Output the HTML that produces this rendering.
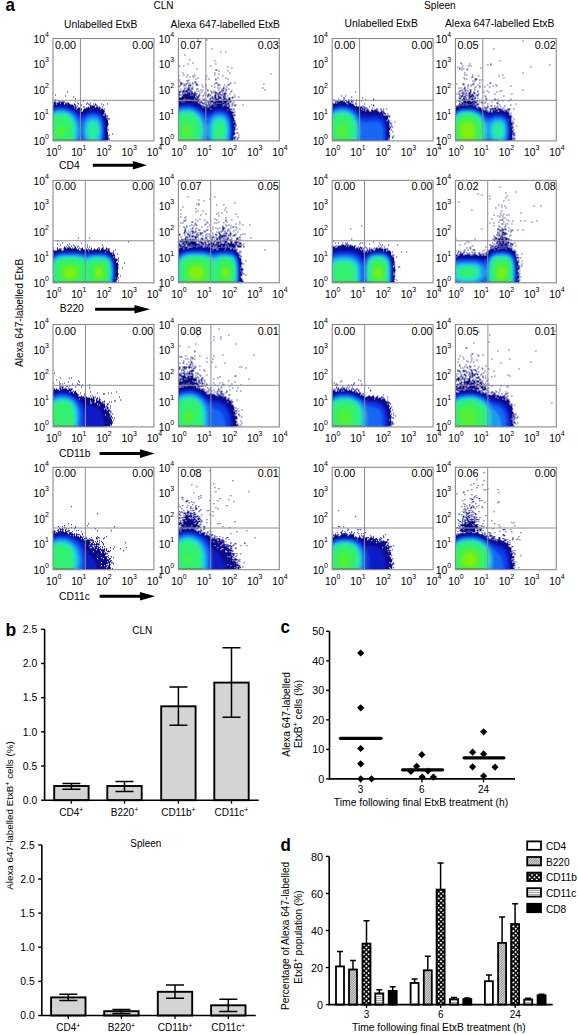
<!DOCTYPE html>
<html><head><meta charset="utf-8"><style>
html,body{margin:0;padding:0;background:#fff;}
svg{display:block;}
text{font-family:"Liberation Sans",sans-serif;fill:#000;}
</style></head><body>
<svg width="578" height="1034" viewBox="0 0 578 1034">
<defs>
<pattern id="hatch" width="1.7" height="1.7" patternUnits="userSpaceOnUse" patternTransform="rotate(45)"><rect width="1.7" height="1.7" fill="#e0e0e0"/><rect width="0.75" height="1.7" fill="#808080"/></pattern>
<pattern id="check" width="3.3" height="3.3" patternUnits="userSpaceOnUse" patternTransform="rotate(45)"><rect width="3.3" height="3.3" fill="#000"/><circle cx="1.65" cy="1.65" r="1.05" fill="#fff"/></pattern>
<pattern id="hstripe" width="3" height="2" patternUnits="userSpaceOnUse"><rect width="3" height="2" fill="#fafafa"/><rect width="3" height="0.9" fill="#9a9a9a"/></pattern>
<filter id="bl" x="-5%" y="-5%" width="110%" height="110%"><feGaussianBlur stdDeviation="0.85"/></filter>
</defs>
<text transform="translate(5.6,10.9) scale(1,1.1)" font-size="17" font-weight="bold">a</text>
<text x="153.50" y="8.80" font-size="10">CLN</text>
<text x="424.00" y="8.90" font-size="10.2">Spleen</text>
<text x="64.00" y="27.70" font-size="10.3">Unlabelled EtxB</text>
<text x="170.60" y="27.70" font-size="10.3">Alexa 647-labelled EtxB</text>
<text x="344.60" y="26.90" font-size="10.3">Unlabelled EtxB</text>
<text x="445.00" y="26.90" font-size="10.3">Alexa 647-labelled EtxB</text>
<text transform="translate(23.2,312.9) rotate(-90)" font-size="10.2" text-anchor="middle">Alexa 647-labelled EtxB</text>
<clipPath id="c00"><rect x="53.00" y="38.50" width="100.90" height="102.40"/></clipPath>
<g clip-path="url(#c00)">
<path d="M58.0 100.5h1v1h-1zM54.0 101.5h1v1h-1zM59.0 101.5h5v1h-5zM53.0 102.5h7v1h-7zM61.0 102.5h3v1h-3zM67.0 102.5h2v1h-2zM54.0 103.5h2v1h-2zM57.0 103.5h7v1h-7zM65.0 103.5h2v1h-2zM68.0 103.5h2v1h-2zM53.0 104.5h20v1h-20zM89.0 104.5h1v1h-1zM53.0 105.5h21v1h-21zM90.0 105.5h5v1h-5zM53.0 106.5h23v1h-23zM83.0 106.5h1v1h-1zM88.0 106.5h1v1h-1zM90.0 106.5h5v1h-5zM96.0 106.5h2v1h-2zM99.0 106.5h1v1h-1zM53.0 107.5h21v1h-21zM75.0 107.5h2v1h-2zM78.0 107.5h2v1h-2zM86.0 107.5h15v1h-15zM53.0 108.5h23v1h-23zM77.0 108.5h5v1h-5zM84.0 108.5h16v1h-16zM101.0 108.5h2v1h-2zM53.0 109.5h29v1h-29zM83.0 109.5h21v1h-21zM53.0 110.5h28v1h-28zM83.0 110.5h21v1h-21zM53.0 111.5h52v1h-52zM53.0 112.5h51v1h-51zM53.0 113.5h53v1h-53zM53.0 114.5h50v1h-50zM105.0 114.5h1v1h-1zM53.0 115.5h55v1h-55zM53.0 116.5h53v1h-53zM53.0 117.5h55v1h-55zM53.0 118.5h54v1h-54zM108.0 118.5h1v1h-1zM53.0 119.5h55v1h-55zM53.0 120.5h55v1h-55zM53.0 121.5h55v1h-55zM53.0 122.5h55v1h-55zM53.0 123.5h55v1h-55zM53.0 124.5h55v1h-55zM53.0 125.5h55v1h-55zM53.0 126.5h54v1h-54zM53.0 127.5h55v1h-55zM53.0 128.5h54v1h-54zM53.0 129.5h56v1h-56zM53.0 130.5h54v1h-54zM53.0 131.5h55v1h-55zM53.0 132.5h55v1h-55zM53.0 133.5h55v1h-55zM53.0 134.5h55v1h-55zM53.0 135.5h55v1h-55zM53.0 136.5h55v1h-55zM53.0 137.5h55v1h-55zM53.0 138.5h57v1h-57zM53.0 139.5h55v1h-55z" fill="#0c0c8a"/>
<g filter="url(#bl)">
<path d="M56.8 106.2L56.2 106.8L54.8 106.8L54.2 107.2L53.2 107.2L52.8 107.8L52.2 107.8L51.8 108.2L51.2 108.2L50.2 109.2L50.2 143.8L103.2 143.8L103.8 143.2L103.8 142.8L104.2 142.2L104.2 140.2L104.8 139.8L104.8 136.8L105.2 136.2L105.2 125.8L104.8 125.2L104.8 121.8L104.2 121.2L104.2 119.8L103.8 119.2L103.8 118.2L103.2 117.8L103.2 117.2L102.8 116.8L102.8 116.2L102.2 115.8L102.2 115.2L99.2 112.2L98.8 112.2L98.2 111.8L97.2 111.8L96.8 111.2L89.2 111.2L88.8 111.8L87.8 111.8L87.2 112.2L86.8 112.2L85.8 113.2L85.2 113.2L84.8 113.8L82.8 113.8L82.2 114.2L81.2 114.2L80.8 113.8L79.2 113.8L78.2 112.8L77.8 112.8L76.2 111.2L75.8 111.2L74.8 110.2L74.2 110.2L73.8 109.8L72.8 109.8L72.2 109.2L71.8 109.2L70.8 108.2L70.2 108.2L69.8 107.8L69.2 107.8L68.8 107.2L67.8 107.2L67.2 106.8L65.8 106.8L65.2 106.2Z" fill="#0a1cc4" fill-rule="evenodd"/>
<path d="M56.2 107.8L55.8 108.2L54.8 108.2L54.2 108.8L53.2 108.8L52.8 109.2L52.2 109.2L51.2 110.2L50.8 110.2L50.2 110.8L50.2 143.8L101.8 143.8L102.2 143.2L102.2 142.8L102.8 142.2L102.8 141.2L103.2 140.8L103.2 138.8L103.8 138.2L103.8 123.2L103.2 122.8L103.2 121.2L102.8 120.8L102.8 119.8L102.2 119.2L102.2 118.2L101.8 117.8L101.8 117.2L100.2 115.8L100.2 115.2L99.8 115.2L98.8 114.2L98.2 114.2L97.8 113.8L97.2 113.8L96.8 113.2L89.2 113.2L88.8 113.8L88.2 113.8L87.8 114.2L87.2 114.2L86.2 115.2L85.8 115.2L85.2 115.8L84.8 115.8L84.2 116.2L83.8 116.2L83.2 116.8L82.8 116.8L82.2 117.2L81.8 117.2L81.2 116.8L80.2 116.8L79.8 116.2L78.8 116.2L74.8 112.2L74.2 112.2L73.2 111.2L72.2 111.2L71.2 110.2L70.8 110.2L69.8 109.2L69.2 109.2L68.8 108.8L67.8 108.8L67.2 108.2L66.2 108.2L65.8 107.8Z" fill="#0c3cec" fill-rule="evenodd"/>
<path d="M58.2 108.8L57.8 109.2L55.8 109.2L55.2 109.8L54.2 109.8L53.8 110.2L53.2 110.2L52.8 110.8L52.2 110.8L51.2 111.8L50.8 111.8L50.2 112.2L50.2 143.8L77.8 143.8L79.8 141.8L80.2 141.8L80.8 141.2L82.8 141.2L85.2 143.8L100.2 143.8L100.8 143.2L100.8 142.8L101.2 142.2L101.2 141.8L101.8 141.2L101.8 140.2L102.2 139.8L102.2 137.8L102.8 137.2L102.8 124.2L102.2 123.8L102.2 122.2L101.8 121.8L101.8 120.8L101.2 120.2L101.2 119.2L100.2 118.2L100.2 117.8L98.2 115.8L97.8 115.8L97.2 115.2L96.2 115.2L95.8 114.8L90.2 114.8L89.8 115.2L88.8 115.2L88.2 115.8L87.8 115.8L85.2 118.2L84.8 118.2L82.2 120.8L80.8 120.8L78.8 118.8L78.2 118.8L76.8 117.2L76.8 116.8L72.8 112.8L72.2 112.8L71.2 111.8L70.8 111.8L69.8 110.8L69.2 110.8L68.8 110.2L68.2 110.2L67.8 109.8L66.8 109.8L66.2 109.2L64.2 109.2L63.8 108.8Z" fill="#1468f4" fill-rule="evenodd"/>
<path d="M92.2 116.8L91.8 117.2L89.8 117.2L89.2 117.8L88.8 117.8L85.2 121.2L85.2 121.8L84.8 122.2L84.8 123.2L84.2 123.8L84.2 124.8L83.8 125.2L83.8 126.2L83.2 126.8L83.2 134.8L83.8 135.2L83.8 136.8L84.2 137.2L84.2 138.2L84.8 138.8L84.8 139.2L85.2 139.8L85.2 140.2L86.2 141.2L86.2 141.8L88.2 143.8L97.8 143.8L99.2 142.2L99.2 141.8L100.2 140.8L100.2 139.8L100.8 139.2L100.8 138.2L101.2 137.8L101.2 133.8L101.8 133.2L101.8 128.8L101.2 128.2L101.2 124.2L100.8 123.8L100.8 122.2L100.2 121.8L100.2 121.2L99.8 120.8L99.8 120.2L97.2 117.8L96.8 117.8L96.2 117.2L94.2 117.2L93.8 116.8ZM58.8 110.2L58.2 110.8L56.2 110.8L55.8 111.2L54.8 111.2L54.2 111.8L53.8 111.8L53.2 112.2L52.8 112.2L51.8 113.2L51.2 113.2L50.2 114.2L50.2 143.8L75.2 143.8L75.8 143.2L75.8 142.8L76.2 142.2L76.2 141.8L76.8 141.2L76.8 140.8L77.8 139.8L77.8 139.2L78.2 138.8L78.2 138.2L78.8 137.8L78.8 136.8L79.2 136.2L79.2 135.2L79.8 134.8L79.8 127.2L79.2 126.8L79.2 125.8L78.8 125.2L78.8 124.2L78.2 123.8L78.2 123.2L77.8 122.8L77.8 122.2L77.2 121.8L77.2 121.2L76.8 120.8L76.8 120.2L75.8 119.2L75.8 118.8L75.2 118.2L75.2 117.8L73.8 116.2L73.8 115.8L72.2 114.2L71.8 114.2L70.8 113.2L70.2 113.2L69.2 112.2L68.8 112.2L68.2 111.8L67.8 111.8L67.2 111.2L66.2 111.2L65.8 110.8L63.8 110.8L63.2 110.2Z" fill="#1c9cf0" fill-rule="evenodd"/>
<path d="M90.2 119.2L89.8 119.8L89.2 119.8L87.2 121.8L87.2 122.2L86.8 122.8L86.8 123.2L86.2 123.8L86.2 124.8L85.8 125.2L85.8 127.8L85.2 128.2L85.2 133.2L85.8 133.8L85.8 136.8L86.2 137.2L86.2 137.8L86.8 138.2L86.8 138.8L87.2 139.2L87.2 139.8L87.8 140.2L87.8 140.8L88.8 141.8L89.2 141.8L89.8 142.2L90.8 142.2L91.2 142.8L94.8 142.8L95.2 142.2L96.2 142.2L96.8 141.8L97.2 141.8L98.2 140.8L98.2 140.2L98.8 139.8L98.8 139.2L99.2 138.8L99.2 138.2L99.8 137.8L99.8 135.8L100.2 135.2L100.2 126.8L99.8 126.2L99.8 124.2L99.2 123.8L99.2 122.8L98.8 122.2L98.8 121.8L96.8 119.8L96.2 119.8L95.8 119.2ZM57.8 111.8L57.2 112.2L55.8 112.2L55.2 112.8L54.8 112.8L54.2 113.2L53.8 113.2L53.2 113.8L52.8 113.8L50.2 116.2L50.2 143.8L73.2 143.8L74.2 142.8L74.2 142.2L74.8 141.8L74.8 141.2L75.2 140.8L75.2 140.2L75.8 139.8L75.8 138.8L76.2 138.2L76.2 136.8L76.8 136.2L76.8 134.2L77.2 133.8L77.2 127.8L76.8 127.2L76.8 125.2L76.2 124.8L76.2 123.8L75.8 123.2L75.8 122.2L75.2 121.8L75.2 121.2L74.8 120.8L74.8 120.2L74.2 119.8L74.2 119.2L73.8 118.8L73.8 118.2L72.2 116.8L72.2 116.2L71.2 115.2L70.8 115.2L69.2 113.8L68.8 113.8L68.2 113.2L67.8 113.2L67.2 112.8L66.8 112.8L66.2 112.2L64.8 112.2L64.2 111.8Z" fill="#20c8e0" fill-rule="evenodd"/>
<path d="M91.2 121.8L90.8 122.2L90.2 122.2L89.8 122.8L89.2 122.8L89.2 123.2L88.2 124.2L88.2 125.2L87.8 125.8L87.8 127.8L87.2 128.2L87.2 133.8L87.8 134.2L87.8 136.2L88.2 136.8L88.2 137.2L88.8 137.8L88.8 138.2L90.2 139.8L91.2 139.8L91.8 140.2L94.2 140.2L94.8 139.8L95.8 139.8L97.2 138.2L97.2 137.8L97.8 137.2L97.8 136.8L98.2 136.2L98.2 134.2L98.8 133.8L98.8 128.2L98.2 127.8L98.2 125.8L97.8 125.2L97.8 124.2L96.8 123.2L96.8 122.8L96.2 122.8L95.8 122.2L95.2 122.2L94.8 121.8ZM57.8 113.2L57.2 113.8L55.8 113.8L55.2 114.2L54.8 114.2L54.2 114.8L53.8 114.8L50.2 118.2L50.2 143.2L50.8 143.8L71.8 143.8L72.2 143.2L72.2 142.8L72.8 142.2L72.8 141.8L73.2 141.2L73.2 140.8L73.8 140.2L73.8 139.8L74.2 139.2L74.2 137.8L74.8 137.2L74.8 135.8L75.2 135.2L75.2 126.8L74.8 126.2L74.8 124.2L74.2 123.8L74.2 122.8L73.8 122.2L73.8 121.2L73.2 120.8L73.2 120.2L72.2 119.2L72.2 118.8L71.2 117.8L71.2 117.2L70.8 116.8L70.2 116.8L68.2 114.8L67.8 114.8L67.2 114.2L66.8 114.2L66.2 113.8L64.8 113.8L64.2 113.2Z" fill="#26e8b0" fill-rule="evenodd"/>
<path d="M92.2 127.8L91.2 128.8L91.2 132.8L91.8 133.2L91.8 133.8L94.2 133.8L94.2 133.2L94.8 132.8L94.8 128.8L93.8 127.8ZM59.2 115.2L58.8 115.8L56.8 115.8L56.2 116.2L55.8 116.2L55.2 116.8L54.8 116.8L51.8 119.8L51.8 120.2L51.2 120.8L51.2 121.2L50.8 121.8L50.8 122.2L50.2 122.8L50.2 139.2L50.8 139.8L50.8 140.2L51.2 140.8L51.2 141.2L51.8 141.8L51.8 142.2L53.2 143.8L68.8 143.8L70.2 142.2L70.2 141.8L71.2 140.8L71.2 140.2L71.8 139.8L71.8 138.8L72.2 138.2L72.2 136.8L72.8 136.2L72.8 132.8L73.2 132.2L73.2 129.2L72.8 128.8L72.8 125.2L72.2 124.8L72.2 123.8L71.8 123.2L71.8 122.2L71.2 121.8L71.2 121.2L70.8 120.8L70.8 120.2L67.2 116.8L66.8 116.8L66.2 116.2L65.8 116.2L65.2 115.8L63.2 115.8L62.8 115.2Z" fill="#30f070" fill-rule="evenodd"/>
<path d="M60.2 125.2L59.8 125.8L58.8 125.8L57.8 126.8L57.8 127.2L57.2 127.8L57.2 129.2L56.8 129.8L56.8 132.2L57.2 132.8L57.2 134.2L59.2 136.2L62.8 136.2L64.8 134.2L64.8 132.8L65.2 132.2L65.2 129.8L64.8 129.2L64.8 127.8L64.2 127.2L64.2 126.8L63.2 125.8L62.2 125.8L61.8 125.2Z" fill="#50f038" fill-rule="evenodd"/>
</g>
<rect x="53.0" y="139.30" width="44" height="1.2" fill="#6a5a20" fill-opacity="0.55"/>
<path d="M55.0 94.5h1v1h-1zM55.0 99.5h1v1h-1zM55.0 101.5h1v1h-1zM64.0 101.5h1v1h-1zM65.0 95.5h1v1h-1zM65.0 102.5h1v1h-1zM66.0 102.5h1v1h-1zM67.0 91.5h1v1h-1zM67.0 103.5h1v1h-1zM73.0 96.5h1v1h-1zM74.0 103.5h1v1h-1zM74.0 104.5h1v1h-1zM75.0 98.5h1v1h-1zM75.0 100.5h1v1h-1zM75.0 104.5h1v1h-1zM75.0 105.5h1v1h-1zM76.0 106.5h1v1h-1zM77.0 102.5h1v1h-1zM77.0 105.5h1v1h-1zM78.0 103.5h1v1h-1zM80.0 103.5h1v1h-1zM81.0 104.5h1v1h-1zM83.0 100.5h1v1h-1zM84.0 106.5h1v1h-1zM86.0 103.5h1v1h-1zM87.0 102.5h1v1h-1zM88.0 103.5h1v1h-1zM90.0 102.5h1v1h-1zM90.0 104.5h1v1h-1zM93.0 103.5h1v1h-1zM95.0 103.5h1v1h-1zM95.0 104.5h1v1h-1zM96.0 104.5h1v1h-1zM97.0 105.5h1v1h-1zM101.0 103.5h1v1h-1zM102.0 106.5h1v1h-1zM103.0 104.5h1v1h-1zM104.0 108.5h1v1h-1zM104.0 110.5h1v1h-1zM107.0 103.5h1v1h-1zM108.0 123.5h1v1h-1zM108.0 135.5h1v1h-1zM108.0 137.5h1v1h-1zM109.0 118.5h1v1h-1zM109.0 134.5h1v1h-1zM112.0 133.5h1v1h-1z" fill="#0a0a80"/>
</g>
<path d="M80.40 38.50V140.90M53.00 100.30H153.90" stroke="#8c8c8c" stroke-width="1" fill="none"/>
<rect x="53.00" y="38.50" width="100.90" height="102.40" fill="none" stroke="#8a8a8a" stroke-width="1.1"/>
<text x="55.00" y="48.50" font-size="10.8">0.00</text>
<text x="153.30" y="48.50" font-size="10.8" text-anchor="end">0.00</text>
<text x="53.60" y="156.00" font-size="10.3" text-anchor="middle">10<tspan font-size="7" dy="-6">0</tspan></text>
<text x="78.82" y="156.00" font-size="10.3" text-anchor="middle">10<tspan font-size="7" dy="-6">1</tspan></text>
<text x="104.05" y="156.00" font-size="10.3" text-anchor="middle">10<tspan font-size="7" dy="-6">2</tspan></text>
<text x="129.28" y="156.00" font-size="10.3" text-anchor="middle">10<tspan font-size="7" dy="-6">3</tspan></text>
<text x="154.50" y="156.00" font-size="10.3" text-anchor="middle">10<tspan font-size="7" dy="-6">4</tspan></text>
<text x="48.80" y="145.20" font-size="10.3" text-anchor="end">10<tspan font-size="7" dy="-6">0</tspan></text>
<text x="48.80" y="119.60" font-size="10.3" text-anchor="end">10<tspan font-size="7" dy="-6">1</tspan></text>
<text x="48.80" y="94.00" font-size="10.3" text-anchor="end">10<tspan font-size="7" dy="-6">2</tspan></text>
<text x="48.80" y="68.40" font-size="10.3" text-anchor="end">10<tspan font-size="7" dy="-6">3</tspan></text>
<text x="48.80" y="42.80" font-size="10.3" text-anchor="end">10<tspan font-size="7" dy="-6">4</tspan></text>
<clipPath id="c01"><rect x="178.40" y="38.50" width="100.90" height="102.40"/></clipPath>
<g clip-path="url(#c01)">
<path d="M184.4 98.5h1v1h-1zM183.4 99.5h1v1h-1zM185.4 99.5h1v1h-1zM187.4 99.5h2v1h-2zM178.4 100.5h2v1h-2zM183.4 100.5h11v1h-11zM178.4 101.5h3v1h-3zM182.4 101.5h1v1h-1zM184.4 101.5h13v1h-13zM178.4 102.5h20v1h-20zM216.4 102.5h1v1h-1zM178.4 103.5h22v1h-22zM203.4 103.5h1v1h-1zM214.4 103.5h1v1h-1zM216.4 103.5h6v1h-6zM224.4 103.5h1v1h-1zM226.4 103.5h1v1h-1zM178.4 104.5h23v1h-23zM211.4 104.5h2v1h-2zM214.4 104.5h9v1h-9zM224.4 104.5h1v1h-1zM178.4 105.5h26v1h-26zM206.4 105.5h1v1h-1zM210.4 105.5h3v1h-3zM214.4 105.5h1v1h-1zM216.4 105.5h6v1h-6zM223.4 105.5h3v1h-3zM178.4 106.5h24v1h-24zM203.4 106.5h4v1h-4zM209.4 106.5h20v1h-20zM178.4 107.5h51v1h-51zM178.4 108.5h32v1h-32zM211.4 108.5h20v1h-20zM178.4 109.5h49v1h-49zM228.4 109.5h2v1h-2zM231.4 109.5h1v1h-1zM233.4 109.5h1v1h-1zM178.4 110.5h53v1h-53zM178.4 111.5h55v1h-55zM178.4 112.5h56v1h-56zM178.4 113.5h54v1h-54zM178.4 114.5h57v1h-57zM178.4 115.5h55v1h-55zM178.4 116.5h55v1h-55zM178.4 117.5h56v1h-56zM178.4 118.5h56v1h-56zM178.4 119.5h56v1h-56zM178.4 120.5h57v1h-57zM178.4 121.5h55v1h-55zM234.4 121.5h1v1h-1zM178.4 122.5h57v1h-57zM178.4 123.5h58v1h-58zM178.4 124.5h57v1h-57zM178.4 125.5h56v1h-56zM235.4 125.5h1v1h-1zM178.4 126.5h57v1h-57zM178.4 127.5h57v1h-57zM178.4 128.5h57v1h-57zM178.4 129.5h57v1h-57zM178.4 130.5h56v1h-56zM178.4 131.5h56v1h-56zM178.4 132.5h57v1h-57zM178.4 133.5h57v1h-57zM178.4 134.5h56v1h-56zM178.4 135.5h55v1h-55zM178.4 136.5h55v1h-55zM234.4 136.5h2v1h-2zM178.4 137.5h57v1h-57zM178.4 138.5h55v1h-55zM234.4 138.5h1v1h-1zM178.4 139.5h55v1h-55zM234.4 139.5h1v1h-1z" fill="#0c0c8a"/>
<g filter="url(#bl)">
<path d="M183.2 104.2L182.7 104.8L180.7 104.8L180.2 105.2L179.2 105.2L178.7 105.8L177.7 105.8L177.2 106.2L176.7 106.2L175.7 107.2L175.7 143.8L231.2 143.8L231.2 143.2L231.7 142.8L231.7 141.2L232.2 140.8L232.2 137.8L232.7 137.2L232.7 124.8L232.2 124.2L232.2 120.8L231.7 120.2L231.7 118.8L231.2 118.2L231.2 117.2L230.7 116.8L230.7 116.2L230.2 115.8L230.2 115.2L229.7 114.8L229.7 114.2L229.2 113.8L229.2 113.2L226.7 110.8L226.2 110.8L225.7 110.2L225.2 110.2L224.7 109.8L223.7 109.8L223.2 109.2L215.7 109.2L215.2 109.8L214.2 109.8L213.7 110.2L213.2 110.2L212.7 110.8L212.2 110.8L210.7 112.2L206.7 112.2L206.2 111.8L205.2 111.8L204.7 111.2L204.2 111.2L202.7 109.8L202.2 109.8L200.7 108.2L200.2 108.2L199.7 107.8L198.2 107.8L197.7 107.2L197.2 107.2L196.2 106.2L195.7 106.2L195.2 105.8L194.2 105.8L193.7 105.2L192.7 105.2L192.2 104.8L190.2 104.8L189.7 104.2Z" fill="#0a1cc4" fill-rule="evenodd"/>
<path d="M183.2 105.8L182.7 106.2L180.7 106.2L180.2 106.8L179.2 106.8L178.7 107.2L178.2 107.2L177.7 107.8L177.2 107.8L176.7 108.2L176.2 108.2L175.7 108.8L175.7 143.8L229.7 143.8L230.2 143.2L230.2 142.2L230.7 141.8L230.7 140.2L231.2 139.8L231.2 135.2L231.7 134.8L231.7 126.8L231.2 126.2L231.2 122.2L230.7 121.8L230.7 120.2L230.2 119.8L230.2 118.2L229.7 117.8L229.7 117.2L229.2 116.8L229.2 116.2L228.7 115.8L228.7 115.2L225.7 112.2L225.2 112.2L224.7 111.8L224.2 111.8L223.7 111.2L221.2 111.2L220.7 110.8L218.2 110.8L217.7 111.2L215.2 111.2L214.7 111.8L214.2 111.8L213.7 112.2L213.2 112.2L211.7 113.8L211.2 113.8L210.2 114.8L209.7 114.8L209.2 115.2L206.7 115.2L206.2 114.8L205.7 114.8L205.2 114.2L204.7 114.2L202.2 111.8L201.7 111.8L199.7 109.8L199.2 109.8L198.7 109.2L197.7 109.2L196.7 108.2L196.2 108.2L195.7 107.8L195.2 107.8L194.7 107.2L194.2 107.2L193.7 106.8L192.7 106.8L192.2 106.2L190.2 106.2L189.7 105.8Z" fill="#0c3cec" fill-rule="evenodd"/>
<path d="M182.2 107.2L181.7 107.8L180.2 107.8L179.7 108.2L179.2 108.2L178.7 108.8L178.2 108.8L177.7 109.2L177.2 109.2L176.2 110.2L175.7 110.2L175.7 143.8L206.2 143.8L206.7 143.2L208.7 143.2L209.2 143.8L228.7 143.8L228.7 142.8L229.2 142.2L229.2 141.2L229.7 140.8L229.7 139.2L230.2 138.8L230.2 133.8L230.7 133.2L230.7 128.8L230.2 128.2L230.2 123.2L229.7 122.8L229.7 120.8L229.2 120.2L229.2 119.2L228.7 118.8L228.7 118.2L228.2 117.8L228.2 117.2L227.7 116.8L227.7 116.2L225.7 114.2L225.2 114.2L224.2 113.2L223.2 113.2L222.7 112.8L216.2 112.8L215.7 113.2L214.7 113.2L213.7 114.2L213.2 114.2L210.7 116.8L210.2 116.8L208.7 118.2L208.2 118.2L207.7 118.8L207.2 118.8L206.7 118.2L206.2 118.2L204.2 116.2L203.7 116.2L202.7 115.2L202.7 114.8L199.7 111.8L199.2 111.8L198.2 110.8L197.7 110.8L196.7 109.8L196.2 109.8L195.7 109.2L195.2 109.2L194.7 108.8L194.2 108.8L193.7 108.2L193.2 108.2L192.7 107.8L191.2 107.8L190.7 107.2Z" fill="#1468f4" fill-rule="evenodd"/>
<path d="M182.7 108.8L182.2 109.2L180.7 109.2L180.2 109.8L179.7 109.8L179.2 110.2L178.7 110.2L178.2 110.8L177.7 110.8L176.7 111.8L176.2 111.8L175.7 112.2L175.7 143.8L202.7 143.8L202.7 143.2L203.7 142.2L203.7 141.8L204.2 141.2L204.2 140.8L205.2 139.8L205.2 139.2L205.7 138.8L205.7 138.2L206.2 137.8L206.2 137.2L207.2 136.2L207.7 136.2L208.2 136.8L208.2 137.2L208.7 137.8L208.7 138.2L209.2 138.8L209.2 139.2L210.2 140.2L210.2 140.8L210.7 141.2L210.7 141.8L211.7 142.8L211.7 143.2L212.2 143.8L226.7 143.8L227.2 143.2L227.2 142.8L227.7 142.2L227.7 141.2L228.2 140.8L228.2 139.8L228.7 139.2L228.7 136.8L229.2 136.2L229.2 125.8L228.7 125.2L228.7 122.8L228.2 122.2L228.2 120.8L227.7 120.2L227.7 119.8L227.2 119.2L227.2 118.8L226.2 117.8L226.2 117.2L225.2 116.2L224.7 116.2L224.2 115.8L223.7 115.8L223.2 115.2L222.2 115.2L221.7 114.8L217.2 114.8L216.7 115.2L215.7 115.2L215.2 115.8L214.7 115.8L214.2 116.2L213.7 116.2L212.2 117.8L212.2 118.2L210.7 119.8L210.7 120.2L210.2 120.8L210.2 121.2L209.7 121.8L209.7 122.2L209.2 122.8L209.2 123.2L208.7 123.8L208.7 124.2L207.7 125.2L207.2 125.2L205.7 123.8L205.7 123.2L205.2 122.8L205.2 122.2L204.7 121.8L204.7 121.2L203.7 120.2L203.7 119.8L202.7 118.8L202.7 118.2L201.7 117.2L201.7 116.8L200.7 115.8L200.7 115.2L197.7 112.2L197.2 112.2L196.2 111.2L195.7 111.2L195.2 110.8L194.7 110.8L194.2 110.2L193.7 110.2L193.2 109.8L192.7 109.8L192.2 109.2L190.7 109.2L190.2 108.8Z" fill="#1c9cf0" fill-rule="evenodd"/>
<path d="M217.2 116.8L216.7 117.2L215.7 117.2L215.2 117.8L214.7 117.8L213.2 119.2L213.2 119.8L212.7 120.2L212.7 120.8L212.2 121.2L212.2 121.8L211.7 122.2L211.7 122.8L211.2 123.2L211.2 124.8L210.7 125.2L210.7 129.2L210.2 129.8L210.2 132.2L210.7 132.8L210.7 136.8L211.2 137.2L211.2 138.8L211.7 139.2L211.7 139.8L212.2 140.2L212.2 140.8L212.7 141.2L212.7 141.8L214.7 143.8L224.2 143.8L226.2 141.8L226.2 141.2L226.7 140.8L226.7 139.8L227.2 139.2L227.2 138.2L227.7 137.8L227.7 133.8L228.2 133.2L228.2 128.8L227.7 128.2L227.7 124.2L227.2 123.8L227.2 122.2L226.7 121.8L226.7 121.2L226.2 120.8L226.2 120.2L225.7 119.8L225.7 119.2L224.2 117.8L223.7 117.8L223.2 117.2L222.2 117.2L221.7 116.8ZM182.2 110.2L181.7 110.8L180.7 110.8L180.2 111.2L179.7 111.2L179.2 111.8L178.7 111.8L178.2 112.2L177.7 112.2L175.7 114.2L175.7 143.8L200.7 143.8L200.7 143.2L201.2 142.8L201.2 142.2L201.7 141.8L201.7 141.2L202.2 140.8L202.2 140.2L202.7 139.8L202.7 138.8L203.2 138.2L203.2 137.2L203.7 136.8L203.7 134.8L204.2 134.2L204.2 127.8L203.7 127.2L203.7 125.2L203.2 124.8L203.2 123.2L202.7 122.8L202.7 122.2L202.2 121.8L202.2 121.2L201.7 120.8L201.7 119.8L201.2 119.2L201.2 118.8L200.2 117.8L200.2 117.2L199.2 116.2L199.2 115.8L197.2 113.8L196.7 113.8L195.2 112.2L194.7 112.2L194.2 111.8L193.7 111.8L193.2 111.2L192.7 111.2L192.2 110.8L191.2 110.8L190.7 110.2Z" fill="#20c8e0" fill-rule="evenodd"/>
<path d="M216.7 119.2L216.2 119.8L215.7 119.8L214.2 121.2L214.2 121.8L213.7 122.2L213.7 122.8L213.2 123.2L213.2 124.2L212.7 124.8L212.7 126.8L212.2 127.2L212.2 134.8L212.7 135.2L212.7 137.2L213.2 137.8L213.2 138.8L213.7 139.2L213.7 139.8L214.7 140.8L214.7 141.2L215.2 141.8L215.7 141.8L216.2 142.2L216.7 142.2L217.2 142.8L221.7 142.8L222.2 142.2L222.7 142.2L223.2 141.8L223.7 141.8L224.2 141.2L224.2 140.8L225.2 139.8L225.2 139.2L225.7 138.8L225.7 137.8L226.2 137.2L226.2 134.8L226.7 134.2L226.7 127.2L226.2 126.8L226.2 124.8L225.7 124.2L225.7 123.2L225.2 122.8L225.2 122.2L224.7 121.8L224.7 121.2L223.2 119.8L222.7 119.8L222.2 119.2ZM182.2 111.8L181.7 112.2L180.7 112.2L180.2 112.8L179.7 112.8L179.2 113.2L178.7 113.2L175.7 116.2L175.7 143.8L198.7 143.8L199.2 143.2L199.2 142.8L199.7 142.2L199.7 141.8L200.2 141.2L200.2 140.8L200.7 140.2L200.7 139.2L201.2 138.8L201.2 137.2L201.7 136.8L201.7 133.2L202.2 132.8L202.2 128.8L201.7 128.2L201.7 125.2L201.2 124.8L201.2 123.2L200.7 122.8L200.7 121.8L200.2 121.2L200.2 120.8L199.7 120.2L199.7 119.8L199.2 119.2L199.2 118.8L198.7 118.2L198.7 117.8L197.2 116.2L197.2 115.8L196.7 115.2L196.2 115.2L194.2 113.2L193.7 113.2L193.2 112.8L192.7 112.8L192.2 112.2L191.2 112.2L190.7 111.8Z" fill="#26e8b0" fill-rule="evenodd"/>
<path d="M218.2 123.2L217.7 123.8L217.2 123.8L215.7 125.2L215.7 126.2L215.2 126.8L215.2 129.2L214.7 129.8L214.7 131.8L215.2 132.2L215.2 135.2L215.7 135.8L215.7 136.2L216.2 136.8L216.2 137.2L216.7 137.8L217.2 137.8L217.7 138.2L221.2 138.2L221.7 137.8L222.2 137.8L222.7 137.2L222.7 136.8L223.2 136.2L223.2 135.8L223.7 135.2L223.7 132.2L224.2 131.8L224.2 129.8L223.7 129.2L223.7 126.8L223.2 126.2L223.2 125.2L221.7 123.8L221.2 123.8L220.7 123.2ZM184.2 113.8L183.7 114.2L182.2 114.2L181.7 114.8L180.7 114.8L180.2 115.2L179.7 115.2L176.7 118.2L176.7 118.8L175.7 119.8L175.7 141.8L176.2 142.2L176.2 142.8L177.2 143.8L196.2 143.8L196.2 143.2L197.2 142.2L197.2 141.8L197.7 141.2L197.7 140.8L198.2 140.2L198.2 139.2L198.7 138.8L198.7 137.8L199.2 137.2L199.2 134.2L199.7 133.8L199.7 127.8L199.2 127.2L199.2 124.8L198.7 124.2L198.7 122.8L198.2 122.2L198.2 121.8L197.7 121.2L197.7 120.8L197.2 120.2L197.2 119.8L196.7 119.2L196.7 118.8L193.2 115.2L192.7 115.2L192.2 114.8L191.2 114.8L190.7 114.2L189.2 114.2L188.7 113.8Z" fill="#30f070" fill-rule="evenodd"/>
<path d="M185.2 123.2L184.7 123.8L183.7 123.8L182.2 125.2L182.2 125.8L181.7 126.2L181.7 126.8L181.2 127.2L181.2 134.8L181.7 135.2L181.7 135.8L182.2 136.2L182.2 136.8L183.2 137.8L183.7 137.8L184.2 138.2L188.7 138.2L189.2 137.8L189.7 137.8L190.7 136.8L190.7 136.2L191.2 135.8L191.2 135.2L191.7 134.8L191.7 127.2L191.2 126.8L191.2 126.2L190.7 125.8L190.7 125.2L189.2 123.8L188.2 123.8L187.7 123.2Z" fill="#50f038" fill-rule="evenodd"/>
</g>
<rect x="178.4" y="139.30" width="48" height="1.2" fill="#6a5a20" fill-opacity="0.55"/>
<path d="M178.4 75.5h1v1h-1zM178.4 86.5h1v1h-1zM178.4 90.5h1v1h-1zM178.4 91.5h1v1h-1zM178.4 93.5h1v1h-1zM178.4 94.5h1v1h-1zM178.4 95.5h1v1h-1zM178.4 96.5h1v1h-1zM178.4 97.5h1v1h-1zM178.4 98.5h1v1h-1zM178.4 99.5h1v1h-1zM179.4 65.5h1v1h-1zM179.4 79.5h1v1h-1zM179.4 81.5h1v1h-1zM179.4 85.5h1v1h-1zM179.4 91.5h1v1h-1zM179.4 92.5h1v1h-1zM179.4 94.5h1v1h-1zM179.4 97.5h1v1h-1zM179.4 98.5h1v1h-1zM179.4 99.5h1v1h-1zM180.4 82.5h1v1h-1zM180.4 83.5h1v1h-1zM180.4 84.5h1v1h-1zM180.4 88.5h1v1h-1zM180.4 90.5h1v1h-1zM180.4 91.5h1v1h-1zM180.4 94.5h1v1h-1zM180.4 97.5h1v1h-1zM180.4 98.5h1v1h-1zM180.4 99.5h1v1h-1zM180.4 100.5h1v1h-1zM181.4 82.5h1v1h-1zM181.4 83.5h1v1h-1zM181.4 96.5h1v1h-1zM181.4 97.5h1v1h-1zM181.4 98.5h1v1h-1zM181.4 99.5h1v1h-1zM181.4 100.5h1v1h-1zM181.4 101.5h1v1h-1zM182.4 72.5h1v1h-1zM182.4 90.5h1v1h-1zM182.4 91.5h1v1h-1zM182.4 92.5h1v1h-1zM182.4 93.5h1v1h-1zM182.4 94.5h1v1h-1zM182.4 95.5h1v1h-1zM182.4 96.5h1v1h-1zM182.4 97.5h1v1h-1zM182.4 98.5h1v1h-1zM182.4 99.5h1v1h-1zM182.4 100.5h1v1h-1zM183.4 65.5h1v1h-1zM183.4 74.5h1v1h-1zM183.4 83.5h1v1h-1zM183.4 85.5h1v1h-1zM183.4 89.5h1v1h-1zM183.4 90.5h1v1h-1zM183.4 91.5h1v1h-1zM183.4 94.5h1v1h-1zM183.4 95.5h1v1h-1zM183.4 96.5h1v1h-1zM183.4 97.5h1v1h-1zM183.4 98.5h1v1h-1zM183.4 101.5h1v1h-1zM184.4 54.5h1v1h-1zM184.4 84.5h1v1h-1zM184.4 87.5h1v1h-1zM184.4 88.5h1v1h-1zM184.4 90.5h1v1h-1zM184.4 92.5h1v1h-1zM184.4 93.5h1v1h-1zM184.4 94.5h1v1h-1zM184.4 95.5h1v1h-1zM184.4 96.5h1v1h-1zM184.4 97.5h1v1h-1zM184.4 99.5h1v1h-1zM185.4 83.5h1v1h-1zM185.4 85.5h1v1h-1zM185.4 90.5h1v1h-1zM185.4 91.5h1v1h-1zM185.4 93.5h1v1h-1zM185.4 94.5h1v1h-1zM185.4 95.5h1v1h-1zM185.4 96.5h1v1h-1zM185.4 97.5h1v1h-1zM185.4 98.5h1v1h-1zM186.4 76.5h1v1h-1zM186.4 80.5h1v1h-1zM186.4 83.5h1v1h-1zM186.4 87.5h1v1h-1zM186.4 89.5h1v1h-1zM186.4 90.5h1v1h-1zM186.4 91.5h1v1h-1zM186.4 93.5h1v1h-1zM186.4 94.5h1v1h-1zM186.4 95.5h1v1h-1zM186.4 96.5h1v1h-1zM186.4 97.5h1v1h-1zM186.4 98.5h1v1h-1zM186.4 99.5h1v1h-1zM187.4 63.5h1v1h-1zM187.4 74.5h1v1h-1zM187.4 80.5h1v1h-1zM187.4 82.5h1v1h-1zM187.4 88.5h1v1h-1zM187.4 89.5h1v1h-1zM187.4 91.5h1v1h-1zM187.4 92.5h1v1h-1zM187.4 93.5h1v1h-1zM187.4 94.5h1v1h-1zM187.4 95.5h1v1h-1zM187.4 96.5h1v1h-1zM187.4 97.5h1v1h-1zM187.4 98.5h1v1h-1zM188.4 79.5h1v1h-1zM188.4 84.5h1v1h-1zM188.4 85.5h1v1h-1zM188.4 86.5h1v1h-1zM188.4 87.5h1v1h-1zM188.4 88.5h1v1h-1zM188.4 89.5h1v1h-1zM188.4 90.5h1v1h-1zM188.4 92.5h1v1h-1zM188.4 93.5h1v1h-1zM188.4 94.5h1v1h-1zM188.4 95.5h1v1h-1zM188.4 96.5h1v1h-1zM188.4 97.5h1v1h-1zM188.4 98.5h1v1h-1zM189.4 59.5h1v1h-1zM189.4 76.5h1v1h-1zM189.4 82.5h1v1h-1zM189.4 84.5h1v1h-1zM189.4 87.5h1v1h-1zM189.4 89.5h1v1h-1zM189.4 91.5h1v1h-1zM189.4 92.5h1v1h-1zM189.4 93.5h1v1h-1zM189.4 94.5h1v1h-1zM189.4 95.5h1v1h-1zM189.4 96.5h1v1h-1zM189.4 97.5h1v1h-1zM189.4 98.5h1v1h-1zM189.4 99.5h1v1h-1zM190.4 84.5h1v1h-1zM190.4 85.5h1v1h-1zM190.4 89.5h1v1h-1zM190.4 91.5h1v1h-1zM190.4 93.5h1v1h-1zM190.4 95.5h1v1h-1zM190.4 96.5h1v1h-1zM190.4 97.5h1v1h-1zM190.4 98.5h1v1h-1zM190.4 99.5h1v1h-1zM191.4 87.5h1v1h-1zM191.4 88.5h1v1h-1zM191.4 90.5h1v1h-1zM191.4 91.5h1v1h-1zM191.4 92.5h1v1h-1zM191.4 93.5h1v1h-1zM191.4 94.5h1v1h-1zM191.4 95.5h1v1h-1zM191.4 96.5h1v1h-1zM191.4 97.5h1v1h-1zM191.4 98.5h1v1h-1zM191.4 99.5h1v1h-1zM192.4 62.5h1v1h-1zM192.4 75.5h1v1h-1zM192.4 82.5h1v1h-1zM192.4 83.5h1v1h-1zM192.4 86.5h1v1h-1zM192.4 88.5h1v1h-1zM192.4 92.5h1v1h-1zM192.4 93.5h1v1h-1zM192.4 95.5h1v1h-1zM192.4 96.5h1v1h-1zM192.4 97.5h1v1h-1zM192.4 98.5h1v1h-1zM192.4 99.5h1v1h-1zM193.4 76.5h1v1h-1zM193.4 93.5h1v1h-1zM193.4 94.5h1v1h-1zM193.4 95.5h1v1h-1zM193.4 96.5h1v1h-1zM193.4 97.5h1v1h-1zM193.4 98.5h1v1h-1zM193.4 99.5h1v1h-1zM194.4 74.5h1v1h-1zM194.4 81.5h1v1h-1zM194.4 91.5h1v1h-1zM194.4 92.5h1v1h-1zM194.4 93.5h1v1h-1zM194.4 94.5h1v1h-1zM194.4 95.5h1v1h-1zM194.4 96.5h1v1h-1zM194.4 97.5h1v1h-1zM194.4 99.5h1v1h-1zM194.4 100.5h1v1h-1zM195.4 78.5h1v1h-1zM195.4 81.5h1v1h-1zM195.4 82.5h1v1h-1zM195.4 84.5h1v1h-1zM195.4 92.5h1v1h-1zM195.4 94.5h1v1h-1zM195.4 97.5h1v1h-1zM195.4 98.5h1v1h-1zM195.4 99.5h1v1h-1zM195.4 100.5h1v1h-1zM196.4 68.5h1v1h-1zM196.4 83.5h1v1h-1zM196.4 84.5h1v1h-1zM196.4 88.5h1v1h-1zM196.4 90.5h1v1h-1zM196.4 93.5h1v1h-1zM196.4 95.5h1v1h-1zM196.4 96.5h1v1h-1zM196.4 98.5h1v1h-1zM196.4 99.5h1v1h-1zM196.4 100.5h1v1h-1zM197.4 39.5h1v1h-1zM197.4 77.5h1v1h-1zM197.4 84.5h1v1h-1zM197.4 88.5h1v1h-1zM197.4 96.5h1v1h-1zM197.4 97.5h1v1h-1zM197.4 98.5h1v1h-1zM197.4 99.5h1v1h-1zM197.4 100.5h1v1h-1zM197.4 101.5h1v1h-1zM198.4 90.5h1v1h-1zM198.4 94.5h1v1h-1zM198.4 95.5h1v1h-1zM198.4 96.5h1v1h-1zM198.4 99.5h1v1h-1zM198.4 100.5h1v1h-1zM199.4 92.5h1v1h-1zM199.4 94.5h1v1h-1zM199.4 98.5h1v1h-1zM199.4 101.5h1v1h-1zM199.4 102.5h1v1h-1zM200.4 89.5h1v1h-1zM200.4 101.5h1v1h-1zM201.4 84.5h1v1h-1zM201.4 91.5h1v1h-1zM201.4 101.5h1v1h-1zM201.4 102.5h1v1h-1zM202.4 86.5h1v1h-1zM202.4 89.5h1v1h-1zM202.4 95.5h1v1h-1zM202.4 98.5h1v1h-1zM202.4 102.5h1v1h-1zM202.4 103.5h1v1h-1zM203.4 94.5h1v1h-1zM203.4 99.5h1v1h-1zM204.4 92.5h1v1h-1zM204.4 98.5h1v1h-1zM204.4 100.5h1v1h-1zM204.4 102.5h1v1h-1zM204.4 103.5h1v1h-1zM205.4 78.5h1v1h-1zM205.4 84.5h1v1h-1zM205.4 86.5h1v1h-1zM205.4 88.5h1v1h-1zM205.4 94.5h1v1h-1zM205.4 99.5h1v1h-1zM205.4 104.5h1v1h-1zM206.4 39.5h1v1h-1zM206.4 75.5h1v1h-1zM206.4 101.5h1v1h-1zM206.4 103.5h1v1h-1zM206.4 104.5h1v1h-1zM207.4 89.5h1v1h-1zM207.4 90.5h1v1h-1zM207.4 94.5h1v1h-1zM207.4 95.5h1v1h-1zM207.4 96.5h1v1h-1zM207.4 101.5h1v1h-1zM207.4 105.5h1v1h-1zM208.4 78.5h1v1h-1zM208.4 93.5h1v1h-1zM208.4 94.5h1v1h-1zM208.4 101.5h1v1h-1zM208.4 102.5h1v1h-1zM208.4 103.5h1v1h-1zM208.4 104.5h1v1h-1zM208.4 106.5h1v1h-1zM209.4 95.5h1v1h-1zM209.4 98.5h1v1h-1zM209.4 99.5h1v1h-1zM209.4 100.5h1v1h-1zM209.4 104.5h1v1h-1zM209.4 105.5h1v1h-1zM210.4 65.5h1v1h-1zM210.4 90.5h1v1h-1zM210.4 94.5h1v1h-1zM210.4 97.5h1v1h-1zM210.4 98.5h1v1h-1zM210.4 100.5h1v1h-1zM210.4 101.5h1v1h-1zM210.4 102.5h1v1h-1zM210.4 103.5h1v1h-1zM211.4 48.5h1v1h-1zM211.4 85.5h1v1h-1zM211.4 91.5h1v1h-1zM211.4 92.5h1v1h-1zM211.4 96.5h1v1h-1zM211.4 100.5h1v1h-1zM211.4 101.5h1v1h-1zM212.4 96.5h1v1h-1zM212.4 97.5h1v1h-1zM212.4 98.5h1v1h-1zM212.4 100.5h1v1h-1zM212.4 101.5h1v1h-1zM212.4 103.5h1v1h-1zM213.4 90.5h1v1h-1zM213.4 92.5h1v1h-1zM213.4 98.5h1v1h-1zM213.4 101.5h1v1h-1zM213.4 102.5h1v1h-1zM213.4 103.5h1v1h-1zM213.4 104.5h1v1h-1zM213.4 105.5h1v1h-1zM214.4 60.5h1v1h-1zM214.4 72.5h1v1h-1zM214.4 74.5h1v1h-1zM214.4 83.5h1v1h-1zM214.4 86.5h1v1h-1zM214.4 91.5h1v1h-1zM214.4 94.5h1v1h-1zM214.4 95.5h1v1h-1zM214.4 96.5h1v1h-1zM214.4 97.5h1v1h-1zM214.4 99.5h1v1h-1zM214.4 101.5h1v1h-1zM214.4 102.5h1v1h-1zM215.4 63.5h1v1h-1zM215.4 69.5h1v1h-1zM215.4 78.5h1v1h-1zM215.4 79.5h1v1h-1zM215.4 82.5h1v1h-1zM215.4 91.5h1v1h-1zM215.4 92.5h1v1h-1zM215.4 93.5h1v1h-1zM215.4 94.5h1v1h-1zM215.4 95.5h1v1h-1zM215.4 96.5h1v1h-1zM215.4 97.5h1v1h-1zM215.4 98.5h1v1h-1zM215.4 99.5h1v1h-1zM215.4 100.5h1v1h-1zM215.4 101.5h1v1h-1zM215.4 102.5h1v1h-1zM215.4 103.5h1v1h-1zM215.4 105.5h1v1h-1zM216.4 69.5h1v1h-1zM216.4 82.5h1v1h-1zM216.4 92.5h1v1h-1zM216.4 98.5h1v1h-1zM216.4 99.5h1v1h-1zM216.4 100.5h1v1h-1zM216.4 101.5h1v1h-1zM217.4 77.5h1v1h-1zM217.4 83.5h1v1h-1zM217.4 85.5h1v1h-1zM217.4 87.5h1v1h-1zM217.4 93.5h1v1h-1zM217.4 94.5h1v1h-1zM217.4 96.5h1v1h-1zM217.4 98.5h1v1h-1zM217.4 99.5h1v1h-1zM217.4 100.5h1v1h-1zM217.4 101.5h1v1h-1zM217.4 102.5h1v1h-1zM218.4 70.5h1v1h-1zM218.4 73.5h1v1h-1zM218.4 84.5h1v1h-1zM218.4 89.5h1v1h-1zM218.4 92.5h1v1h-1zM218.4 94.5h1v1h-1zM218.4 95.5h1v1h-1zM218.4 96.5h1v1h-1zM218.4 97.5h1v1h-1zM218.4 98.5h1v1h-1zM218.4 99.5h1v1h-1zM218.4 100.5h1v1h-1zM218.4 101.5h1v1h-1zM218.4 102.5h1v1h-1zM219.4 84.5h1v1h-1zM219.4 87.5h1v1h-1zM219.4 91.5h1v1h-1zM219.4 92.5h1v1h-1zM219.4 93.5h1v1h-1zM219.4 96.5h1v1h-1zM219.4 97.5h1v1h-1zM219.4 100.5h1v1h-1zM219.4 101.5h1v1h-1zM219.4 102.5h1v1h-1zM220.4 51.5h1v1h-1zM220.4 91.5h1v1h-1zM220.4 94.5h1v1h-1zM220.4 96.5h1v1h-1zM220.4 97.5h1v1h-1zM220.4 98.5h1v1h-1zM220.4 100.5h1v1h-1zM220.4 101.5h1v1h-1zM220.4 102.5h1v1h-1zM221.4 89.5h1v1h-1zM221.4 90.5h1v1h-1zM221.4 94.5h1v1h-1zM221.4 98.5h1v1h-1zM221.4 100.5h1v1h-1zM221.4 101.5h1v1h-1zM221.4 102.5h1v1h-1zM222.4 75.5h1v1h-1zM222.4 88.5h1v1h-1zM222.4 90.5h1v1h-1zM222.4 92.5h1v1h-1zM222.4 94.5h1v1h-1zM222.4 96.5h1v1h-1zM222.4 99.5h1v1h-1zM222.4 100.5h1v1h-1zM222.4 102.5h1v1h-1zM222.4 103.5h1v1h-1zM222.4 105.5h1v1h-1zM223.4 86.5h1v1h-1zM223.4 87.5h1v1h-1zM223.4 88.5h1v1h-1zM223.4 90.5h1v1h-1zM223.4 93.5h1v1h-1zM223.4 95.5h1v1h-1zM223.4 96.5h1v1h-1zM223.4 97.5h1v1h-1zM223.4 98.5h1v1h-1zM223.4 99.5h1v1h-1zM223.4 100.5h1v1h-1zM223.4 101.5h1v1h-1zM223.4 102.5h1v1h-1zM223.4 103.5h1v1h-1zM224.4 84.5h1v1h-1zM224.4 92.5h1v1h-1zM224.4 93.5h1v1h-1zM224.4 94.5h1v1h-1zM224.4 95.5h1v1h-1zM224.4 97.5h1v1h-1zM224.4 98.5h1v1h-1zM224.4 100.5h1v1h-1zM224.4 101.5h1v1h-1zM224.4 102.5h1v1h-1zM225.4 51.5h1v1h-1zM225.4 77.5h1v1h-1zM225.4 88.5h1v1h-1zM225.4 90.5h1v1h-1zM225.4 92.5h1v1h-1zM225.4 93.5h1v1h-1zM225.4 96.5h1v1h-1zM225.4 98.5h1v1h-1zM225.4 99.5h1v1h-1zM225.4 100.5h1v1h-1zM225.4 101.5h1v1h-1zM225.4 102.5h1v1h-1zM225.4 103.5h1v1h-1zM225.4 104.5h1v1h-1zM226.4 86.5h1v1h-1zM226.4 89.5h1v1h-1zM226.4 98.5h1v1h-1zM226.4 100.5h1v1h-1zM226.4 101.5h1v1h-1zM226.4 104.5h1v1h-1zM226.4 105.5h1v1h-1zM227.4 66.5h1v1h-1zM227.4 70.5h1v1h-1zM227.4 78.5h1v1h-1zM227.4 84.5h1v1h-1zM227.4 95.5h1v1h-1zM227.4 99.5h1v1h-1zM227.4 100.5h1v1h-1zM227.4 102.5h1v1h-1zM227.4 103.5h1v1h-1zM228.4 84.5h1v1h-1zM228.4 88.5h1v1h-1zM228.4 97.5h1v1h-1zM228.4 98.5h1v1h-1zM228.4 99.5h1v1h-1zM228.4 100.5h1v1h-1zM228.4 102.5h1v1h-1zM228.4 103.5h1v1h-1zM228.4 104.5h1v1h-1zM228.4 105.5h1v1h-1zM229.4 72.5h1v1h-1zM229.4 83.5h1v1h-1zM229.4 93.5h1v1h-1zM229.4 97.5h1v1h-1zM229.4 98.5h1v1h-1zM229.4 99.5h1v1h-1zM229.4 101.5h1v1h-1zM229.4 105.5h1v1h-1zM230.4 82.5h1v1h-1zM230.4 91.5h1v1h-1zM230.4 100.5h1v1h-1zM230.4 101.5h1v1h-1zM231.4 67.5h1v1h-1zM231.4 90.5h1v1h-1zM231.4 97.5h1v1h-1zM231.4 103.5h1v1h-1zM231.4 105.5h1v1h-1zM231.4 108.5h1v1h-1zM232.4 96.5h1v1h-1zM232.4 97.5h1v1h-1zM232.4 102.5h1v1h-1zM232.4 104.5h1v1h-1zM233.4 101.5h1v1h-1zM233.4 108.5h1v1h-1zM234.4 82.5h1v1h-1zM234.4 94.5h1v1h-1zM234.4 96.5h1v1h-1zM234.4 104.5h1v1h-1zM234.4 105.5h1v1h-1zM234.4 111.5h1v1h-1zM234.4 115.5h1v1h-1zM235.4 104.5h1v1h-1zM235.4 124.5h1v1h-1zM236.4 128.5h1v1h-1zM236.4 132.5h1v1h-1zM236.4 139.5h1v1h-1zM237.4 132.5h1v1h-1zM237.4 137.5h1v1h-1zM237.4 138.5h1v1h-1zM238.4 96.5h1v1h-1zM238.4 134.5h1v1h-1zM238.4 136.5h1v1h-1zM242.4 104.5h1v1h-1zM262.4 87.5h1v1h-1zM263.4 83.5h1v1h-1zM264.4 89.5h1v1h-1zM270.4 73.5h1v1h-1z" fill="#0a0a80"/>
</g>
<path d="M205.80 38.50V140.90M178.40 100.30H279.30" stroke="#8c8c8c" stroke-width="1" fill="none"/>
<rect x="178.40" y="38.50" width="100.90" height="102.40" fill="none" stroke="#8a8a8a" stroke-width="1.1"/>
<text x="180.40" y="48.50" font-size="10.8">0.07</text>
<text x="278.70" y="48.50" font-size="10.8" text-anchor="end">0.03</text>
<text x="179.00" y="156.00" font-size="10.3" text-anchor="middle">10<tspan font-size="7" dy="-6">0</tspan></text>
<text x="204.22" y="156.00" font-size="10.3" text-anchor="middle">10<tspan font-size="7" dy="-6">1</tspan></text>
<text x="229.45" y="156.00" font-size="10.3" text-anchor="middle">10<tspan font-size="7" dy="-6">2</tspan></text>
<text x="254.68" y="156.00" font-size="10.3" text-anchor="middle">10<tspan font-size="7" dy="-6">3</tspan></text>
<text x="279.90" y="156.00" font-size="10.3" text-anchor="middle">10<tspan font-size="7" dy="-6">4</tspan></text>
<text x="174.20" y="145.20" font-size="10.3" text-anchor="end">10<tspan font-size="7" dy="-6">0</tspan></text>
<text x="174.20" y="119.60" font-size="10.3" text-anchor="end">10<tspan font-size="7" dy="-6">1</tspan></text>
<text x="174.20" y="94.00" font-size="10.3" text-anchor="end">10<tspan font-size="7" dy="-6">2</tspan></text>
<text x="174.20" y="68.40" font-size="10.3" text-anchor="end">10<tspan font-size="7" dy="-6">3</tspan></text>
<text x="174.20" y="42.80" font-size="10.3" text-anchor="end">10<tspan font-size="7" dy="-6">4</tspan></text>
<clipPath id="c02"><rect x="332.20" y="38.50" width="100.90" height="102.40"/></clipPath>
<g clip-path="url(#c02)">
<path d="M343.2 97.5h1v1h-1zM333.2 99.5h1v1h-1zM343.2 99.5h1v1h-1zM340.2 100.5h3v1h-3zM346.2 100.5h1v1h-1zM348.2 100.5h1v1h-1zM335.2 101.5h10v1h-10zM346.2 101.5h3v1h-3zM352.2 101.5h1v1h-1zM332.2 102.5h1v1h-1zM335.2 102.5h1v1h-1zM337.2 102.5h9v1h-9zM347.2 102.5h4v1h-4zM332.2 103.5h15v1h-15zM348.2 103.5h5v1h-5zM355.2 103.5h1v1h-1zM332.2 104.5h22v1h-22zM332.2 105.5h23v1h-23zM356.2 105.5h1v1h-1zM362.2 105.5h1v1h-1zM332.2 106.5h30v1h-30zM364.2 106.5h1v1h-1zM332.2 107.5h31v1h-31zM332.2 108.5h29v1h-29zM362.2 108.5h3v1h-3zM332.2 109.5h31v1h-31zM364.2 109.5h4v1h-4zM371.2 109.5h2v1h-2zM374.2 109.5h3v1h-3zM332.2 110.5h33v1h-33zM366.2 110.5h3v1h-3zM371.2 110.5h7v1h-7zM381.2 110.5h2v1h-2zM332.2 111.5h47v1h-47zM380.2 111.5h2v1h-2zM383.2 111.5h1v1h-1zM332.2 112.5h53v1h-53zM332.2 113.5h51v1h-51zM384.2 113.5h2v1h-2zM332.2 114.5h52v1h-52zM332.2 115.5h57v1h-57zM332.2 116.5h56v1h-56zM332.2 117.5h56v1h-56zM332.2 118.5h56v1h-56zM332.2 119.5h55v1h-55zM388.2 119.5h1v1h-1zM332.2 120.5h54v1h-54zM387.2 120.5h2v1h-2zM332.2 121.5h57v1h-57zM332.2 122.5h59v1h-59zM332.2 123.5h57v1h-57zM332.2 124.5h57v1h-57zM332.2 125.5h58v1h-58zM332.2 126.5h57v1h-57zM390.2 126.5h1v1h-1zM332.2 127.5h59v1h-59zM332.2 128.5h58v1h-58zM332.2 129.5h58v1h-58zM332.2 130.5h57v1h-57zM332.2 131.5h57v1h-57zM332.2 132.5h58v1h-58zM332.2 133.5h57v1h-57zM332.2 134.5h58v1h-58zM332.2 135.5h58v1h-58zM332.2 136.5h58v1h-58zM332.2 137.5h57v1h-57zM332.2 138.5h56v1h-56zM389.2 138.5h1v1h-1zM332.2 139.5h57v1h-57z" fill="#0c0c8a"/>
<g filter="url(#bl)">
<path d="M337.9 105.2L337.4 105.8L335.9 105.8L335.4 106.2L334.4 106.2L333.9 106.8L333.4 106.8L332.9 107.2L332.4 107.2L330.9 108.8L330.4 108.8L329.4 109.8L329.4 143.8L386.9 143.8L386.9 126.8L386.4 126.2L386.4 124.2L385.9 123.8L385.9 122.2L385.4 121.8L385.4 121.2L384.9 120.8L384.9 120.2L384.4 119.8L384.4 119.2L383.9 118.8L383.9 118.2L382.4 116.8L381.9 116.8L381.4 116.2L380.9 116.2L380.4 115.8L378.9 115.8L378.4 115.2L371.4 115.2L370.9 115.8L368.9 115.8L368.4 115.2L362.4 115.2L358.4 111.2L357.9 111.2L356.4 109.8L355.9 109.8L355.4 109.2L354.9 109.2L354.4 108.8L353.9 108.8L353.4 108.2L352.9 108.2L351.9 107.2L351.4 107.2L350.9 106.8L350.4 106.8L349.9 106.2L348.9 106.2L348.4 105.8L346.9 105.8L346.4 105.2Z" fill="#0a1cc4" fill-rule="evenodd"/>
<path d="M337.9 106.8L337.4 107.2L335.9 107.2L335.4 107.8L334.9 107.8L334.4 108.2L333.9 108.2L333.4 108.8L332.9 108.8L332.4 109.2L331.9 109.2L329.4 111.8L329.4 143.8L385.4 143.8L385.4 139.2L385.9 138.8L385.9 136.8L385.4 136.2L385.4 127.8L384.9 127.2L384.9 125.2L384.4 124.8L384.4 123.8L383.9 123.2L383.9 122.8L383.4 122.2L383.4 121.8L382.9 121.2L382.9 120.8L381.4 119.2L380.9 119.2L380.4 118.8L379.4 118.8L378.9 118.2L370.9 118.2L370.4 118.8L369.9 118.8L368.9 117.8L368.4 118.2L365.9 118.2L365.4 118.8L363.9 118.8L363.4 118.2L362.9 118.2L362.4 117.8L361.4 117.8L359.4 115.8L359.4 115.2L354.4 110.2L353.4 110.2L352.4 109.2L351.9 109.2L351.4 108.8L350.9 108.8L350.4 108.2L349.9 108.2L349.4 107.8L348.9 107.8L348.4 107.2L346.9 107.2L346.4 106.8Z" fill="#0c3cec" fill-rule="evenodd"/>
<path d="M339.9 107.8L339.4 108.2L336.9 108.2L336.4 108.8L335.4 108.8L334.9 109.2L334.4 109.2L333.9 109.8L333.4 109.8L331.9 111.2L331.4 111.2L330.4 112.2L330.4 112.8L329.4 113.8L329.4 143.8L358.9 143.8L359.9 142.8L360.4 142.8L360.9 142.2L361.9 142.2L362.4 142.8L362.9 142.8L363.9 143.8L383.4 143.8L383.4 129.8L382.9 129.2L382.9 127.8L382.4 127.2L382.4 126.2L381.9 125.8L381.9 125.2L381.4 124.8L381.4 124.2L379.9 122.8L379.4 122.8L378.9 122.2L376.4 122.2L375.9 121.8L373.9 121.8L373.4 122.2L369.9 122.2L369.4 121.8L367.9 121.8L367.4 122.2L366.4 122.2L365.9 122.8L363.9 122.8L363.4 122.2L362.4 122.2L359.4 119.2L359.4 118.8L358.9 118.2L358.9 117.8L357.9 116.8L357.9 116.2L356.9 115.2L356.9 114.8L353.4 111.2L352.9 111.2L352.4 110.8L351.9 110.8L350.9 109.8L350.4 109.8L349.9 109.2L349.4 109.2L348.9 108.8L347.9 108.8L347.4 108.2L344.9 108.2L344.4 107.8Z" fill="#1468f4" fill-rule="evenodd"/>
<path d="M339.9 109.2L339.4 109.8L337.4 109.8L336.9 110.2L335.9 110.2L335.4 110.8L334.9 110.8L334.4 111.2L333.9 111.2L332.9 112.2L332.4 112.2L330.9 113.8L330.9 114.2L329.9 115.2L329.9 115.8L329.4 116.2L329.4 143.8L356.9 143.8L356.9 143.2L357.4 142.8L357.4 142.2L357.9 141.8L357.9 141.2L358.4 140.8L358.4 140.2L358.9 139.8L358.9 138.8L359.4 138.2L359.4 137.2L359.9 136.8L359.9 135.8L360.4 135.2L360.4 133.2L360.9 132.8L360.9 129.8L360.4 129.2L360.4 127.2L359.9 126.8L359.9 125.8L359.4 125.2L359.4 123.8L358.9 123.2L358.9 122.2L358.4 121.8L358.4 121.2L357.9 120.8L357.9 119.8L357.4 119.2L357.4 118.8L356.9 118.2L356.9 117.8L355.9 116.8L355.9 116.2L353.9 114.2L353.9 113.8L353.4 113.8L351.9 112.2L351.4 112.2L350.4 111.2L349.9 111.2L349.4 110.8L348.9 110.8L348.4 110.2L347.4 110.2L346.9 109.8L344.9 109.8L344.4 109.2Z" fill="#1c9cf0" fill-rule="evenodd"/>
<path d="M338.9 110.8L338.4 111.2L336.9 111.2L336.4 111.8L335.9 111.8L335.4 112.2L334.9 112.2L334.4 112.8L333.9 112.8L330.9 115.8L330.9 116.2L329.9 117.2L329.9 117.8L329.4 118.2L329.4 143.2L329.9 143.8L355.4 143.8L355.4 143.2L355.9 142.8L355.9 142.2L356.4 141.8L356.4 140.8L356.9 140.2L356.9 139.2L357.4 138.8L357.4 137.2L357.9 136.8L357.9 133.8L358.4 133.2L358.4 128.2L357.9 127.8L357.9 124.8L357.4 124.2L357.4 122.8L356.9 122.2L356.9 121.2L356.4 120.8L356.4 120.2L355.9 119.8L355.9 119.2L355.4 118.8L355.4 118.2L354.9 117.8L354.9 117.2L353.4 115.8L353.4 115.2L352.4 114.2L351.9 114.2L350.4 112.8L349.9 112.8L349.4 112.2L348.9 112.2L348.4 111.8L347.9 111.8L347.4 111.2L345.9 111.2L345.4 110.8Z" fill="#20c8e0" fill-rule="evenodd"/>
<path d="M338.9 112.2L338.4 112.8L336.9 112.8L336.4 113.2L335.9 113.2L335.4 113.8L334.9 113.8L331.4 117.2L331.4 117.8L330.9 118.2L330.9 118.8L330.4 119.2L330.4 119.8L329.9 120.2L329.9 121.2L329.4 121.8L329.4 140.2L329.9 140.8L329.9 141.8L330.4 142.2L330.4 142.8L330.9 143.2L330.9 143.8L353.4 143.8L353.9 143.2L353.9 142.8L354.4 142.2L354.4 141.8L354.9 141.2L354.9 140.8L355.4 140.2L355.4 139.2L355.9 138.8L355.9 137.2L356.4 136.8L356.4 125.2L355.9 124.8L355.9 123.2L355.4 122.8L355.4 121.8L354.9 121.2L354.9 120.2L354.4 119.8L354.4 119.2L353.9 118.8L353.9 118.2L352.4 116.8L352.4 116.2L351.4 115.2L350.9 115.2L349.4 113.8L348.9 113.8L348.4 113.2L347.9 113.2L347.4 112.8L345.9 112.8L345.4 112.2Z" fill="#26e8b0" fill-rule="evenodd"/>
<path d="M339.9 114.2L339.4 114.8L337.9 114.8L337.4 115.2L336.9 115.2L336.4 115.8L335.9 115.8L334.9 116.8L334.4 116.8L333.4 117.8L333.4 118.2L332.4 119.2L332.4 119.8L331.9 120.2L331.9 120.8L331.4 121.2L331.4 122.2L330.9 122.8L330.9 124.2L330.4 124.8L330.4 128.2L329.9 128.8L329.9 133.2L330.4 133.8L330.4 137.2L330.9 137.8L330.9 139.2L331.4 139.8L331.4 140.2L331.9 140.8L331.9 141.8L332.9 142.8L332.9 143.2L333.4 143.8L350.9 143.8L351.9 142.8L351.9 142.2L352.4 141.8L352.4 141.2L352.9 140.8L352.9 140.2L353.4 139.8L353.4 138.8L353.9 138.2L353.9 136.8L354.4 136.2L354.4 125.8L353.9 125.2L353.9 123.2L353.4 122.8L353.4 122.2L352.9 121.8L352.9 120.8L352.4 120.2L352.4 119.8L351.4 118.8L351.4 118.2L349.9 116.8L349.4 116.8L348.4 115.8L347.9 115.8L347.4 115.2L346.9 115.2L346.4 114.8L344.9 114.8L344.4 114.2Z" fill="#30f070" fill-rule="evenodd"/>
<path d="M340.4 123.8L339.9 124.2L339.4 124.2L337.9 125.8L337.9 126.2L337.4 126.8L337.4 127.8L336.9 128.2L336.9 133.8L337.4 134.2L337.4 135.2L337.9 135.8L337.9 136.2L339.4 137.8L340.4 137.8L340.9 138.2L343.4 138.2L343.9 137.8L344.9 137.8L346.4 136.2L346.4 135.8L346.9 135.2L346.9 134.2L347.4 133.8L347.4 128.2L346.9 127.8L346.9 126.8L346.4 126.2L346.4 125.8L344.9 124.2L344.4 124.2L343.9 123.8Z" fill="#50f038" fill-rule="evenodd"/>
</g>
<rect x="332.2" y="139.30" width="24" height="1.2" fill="#6a5a20" fill-opacity="0.55"/>
<path d="M334.2 100.5h1v1h-1zM337.2 100.5h1v1h-1zM338.2 98.5h1v1h-1zM341.2 95.5h1v1h-1zM344.2 97.5h1v1h-1zM344.2 99.5h1v1h-1zM345.2 95.5h1v1h-1zM348.2 99.5h1v1h-1zM349.2 100.5h1v1h-1zM351.2 96.5h1v1h-1zM351.2 99.5h1v1h-1zM351.2 100.5h1v1h-1zM351.2 101.5h1v1h-1zM353.2 100.5h1v1h-1zM355.2 91.5h1v1h-1zM355.2 102.5h1v1h-1zM356.2 99.5h1v1h-1zM356.2 100.5h1v1h-1zM356.2 103.5h1v1h-1zM361.2 100.5h1v1h-1zM362.2 97.5h1v1h-1zM363.2 106.5h1v1h-1zM364.2 103.5h1v1h-1zM364.2 107.5h1v1h-1zM365.2 99.5h1v1h-1zM365.2 107.5h1v1h-1zM366.2 107.5h1v1h-1zM367.2 108.5h1v1h-1zM368.2 109.5h1v1h-1zM369.2 106.5h1v1h-1zM371.2 104.5h1v1h-1zM372.2 107.5h1v1h-1zM373.2 98.5h1v1h-1zM373.2 99.5h1v1h-1zM373.2 104.5h1v1h-1zM373.2 105.5h1v1h-1zM376.2 108.5h1v1h-1zM377.2 108.5h1v1h-1zM380.2 108.5h1v1h-1zM381.2 109.5h1v1h-1zM383.2 108.5h1v1h-1zM383.2 110.5h1v1h-1zM386.2 108.5h1v1h-1zM387.2 113.5h1v1h-1zM389.2 115.5h1v1h-1zM389.2 116.5h1v1h-1zM389.2 120.5h1v1h-1zM390.2 123.5h1v1h-1zM391.2 123.5h1v1h-1zM391.2 125.5h1v1h-1zM391.2 129.5h1v1h-1zM392.2 126.5h1v1h-1zM392.2 131.5h1v1h-1zM392.2 136.5h1v1h-1zM392.2 137.5h1v1h-1zM393.2 135.5h1v1h-1zM394.2 121.5h1v1h-1z" fill="#0a0a80"/>
</g>
<path d="M359.60 38.50V140.90M332.20 100.30H433.10" stroke="#8c8c8c" stroke-width="1" fill="none"/>
<rect x="332.20" y="38.50" width="100.90" height="102.40" fill="none" stroke="#8a8a8a" stroke-width="1.1"/>
<text x="334.20" y="48.50" font-size="10.8">0.00</text>
<text x="432.50" y="48.50" font-size="10.8" text-anchor="end">0.00</text>
<text x="332.80" y="156.00" font-size="10.3" text-anchor="middle">10<tspan font-size="7" dy="-6">0</tspan></text>
<text x="358.03" y="156.00" font-size="10.3" text-anchor="middle">10<tspan font-size="7" dy="-6">1</tspan></text>
<text x="383.25" y="156.00" font-size="10.3" text-anchor="middle">10<tspan font-size="7" dy="-6">2</tspan></text>
<text x="408.48" y="156.00" font-size="10.3" text-anchor="middle">10<tspan font-size="7" dy="-6">3</tspan></text>
<text x="433.70" y="156.00" font-size="10.3" text-anchor="middle">10<tspan font-size="7" dy="-6">4</tspan></text>
<text x="328.00" y="145.20" font-size="10.3" text-anchor="end">10<tspan font-size="7" dy="-6">0</tspan></text>
<text x="328.00" y="119.60" font-size="10.3" text-anchor="end">10<tspan font-size="7" dy="-6">1</tspan></text>
<text x="328.00" y="94.00" font-size="10.3" text-anchor="end">10<tspan font-size="7" dy="-6">2</tspan></text>
<text x="328.00" y="68.40" font-size="10.3" text-anchor="end">10<tspan font-size="7" dy="-6">3</tspan></text>
<text x="328.00" y="42.80" font-size="10.3" text-anchor="end">10<tspan font-size="7" dy="-6">4</tspan></text>
<clipPath id="c03"><rect x="455.40" y="38.50" width="100.90" height="102.40"/></clipPath>
<g clip-path="url(#c03)">
<path d="M463.4 103.5h1v1h-1zM465.4 103.5h1v1h-1zM472.4 103.5h1v1h-1zM462.4 104.5h1v1h-1zM464.4 104.5h2v1h-2zM468.4 104.5h5v1h-5zM457.4 105.5h1v1h-1zM459.4 105.5h14v1h-14zM474.4 105.5h2v1h-2zM455.4 106.5h21v1h-21zM477.4 106.5h2v1h-2zM484.4 106.5h1v1h-1zM500.4 106.5h1v1h-1zM455.4 107.5h22v1h-22zM478.4 107.5h3v1h-3zM485.4 107.5h2v1h-2zM494.4 107.5h2v1h-2zM497.4 107.5h1v1h-1zM503.4 107.5h1v1h-1zM455.4 108.5h26v1h-26zM482.4 108.5h1v1h-1zM493.4 108.5h3v1h-3zM497.4 108.5h4v1h-4zM502.4 108.5h1v1h-1zM455.4 109.5h29v1h-29zM485.4 109.5h2v1h-2zM492.4 109.5h2v1h-2zM495.4 109.5h7v1h-7zM504.4 109.5h1v1h-1zM507.4 109.5h1v1h-1zM455.4 110.5h31v1h-31zM487.4 110.5h1v1h-1zM489.4 110.5h2v1h-2zM492.4 110.5h5v1h-5zM499.4 110.5h5v1h-5zM505.4 110.5h2v1h-2zM508.4 110.5h1v1h-1zM455.4 111.5h33v1h-33zM489.4 111.5h2v1h-2zM492.4 111.5h16v1h-16zM455.4 112.5h54v1h-54zM455.4 113.5h54v1h-54zM455.4 114.5h54v1h-54zM510.4 114.5h1v1h-1zM455.4 115.5h56v1h-56zM455.4 116.5h56v1h-56zM455.4 117.5h56v1h-56zM455.4 118.5h56v1h-56zM455.4 119.5h53v1h-53zM509.4 119.5h2v1h-2zM455.4 120.5h56v1h-56zM512.4 120.5h1v1h-1zM455.4 121.5h56v1h-56zM455.4 122.5h59v1h-59zM455.4 123.5h57v1h-57zM455.4 124.5h58v1h-58zM455.4 125.5h56v1h-56zM455.4 126.5h58v1h-58zM455.4 127.5h58v1h-58zM455.4 128.5h57v1h-57zM455.4 129.5h57v1h-57zM455.4 130.5h58v1h-58zM455.4 131.5h58v1h-58zM455.4 132.5h57v1h-57zM513.4 132.5h1v1h-1zM455.4 133.5h59v1h-59zM455.4 134.5h57v1h-57zM455.4 135.5h57v1h-57zM455.4 136.5h57v1h-57zM455.4 137.5h57v1h-57zM513.4 137.5h1v1h-1zM455.4 138.5h58v1h-58zM455.4 139.5h57v1h-57z" fill="#0c0c8a"/>
<g filter="url(#bl)">
<path d="M462.1 107.8L461.6 108.2L460.6 108.2L460.1 108.8L459.1 108.8L458.6 109.2L458.1 109.2L457.6 109.8L457.1 109.8L456.6 110.2L456.1 110.2L454.6 111.8L454.1 111.8L453.6 112.2L453.6 112.8L452.6 113.8L452.6 143.8L507.6 143.8L508.1 143.2L508.1 142.8L508.6 142.2L508.6 141.8L509.1 141.2L509.1 139.8L509.6 139.2L509.6 137.2L510.1 136.8L510.1 125.2L509.6 124.8L509.6 122.2L509.1 121.8L509.1 120.8L508.6 120.2L508.6 119.8L508.1 119.2L508.1 118.8L507.6 118.2L507.6 117.8L506.6 116.8L506.6 116.2L506.1 115.8L505.6 115.8L504.6 114.8L504.1 114.8L503.6 114.2L503.1 114.2L502.6 113.8L494.1 113.8L493.6 114.2L492.6 114.2L492.1 114.8L487.6 114.8L487.1 114.2L486.1 114.2L485.6 113.8L485.1 113.8L484.6 113.2L484.1 113.2L483.1 112.2L482.6 112.2L481.6 111.2L481.1 111.2L480.6 110.8L480.1 110.8L479.6 110.2L478.6 110.2L478.1 109.8L477.6 109.8L477.1 109.2L476.1 109.2L475.6 108.8L474.6 108.8L474.1 108.2L473.1 108.2L472.6 107.8Z" fill="#0a1cc4" fill-rule="evenodd"/>
<path d="M462.6 108.8L462.1 109.2L460.6 109.2L460.1 109.8L459.1 109.8L458.6 110.2L458.1 110.2L457.6 110.8L457.1 110.8L455.6 112.2L455.1 112.2L453.6 113.8L453.6 114.2L452.6 115.2L452.6 143.8L506.1 143.8L506.6 143.2L506.6 142.8L507.1 142.2L507.1 141.8L507.6 141.2L507.6 140.8L508.1 140.2L508.1 138.8L508.6 138.2L508.6 135.2L509.1 134.8L509.1 126.8L508.6 126.2L508.6 123.8L508.1 123.2L508.1 121.8L507.6 121.2L507.6 120.8L507.1 120.2L507.1 119.8L506.6 119.2L506.6 118.8L504.1 116.2L503.6 116.2L503.1 115.8L502.1 115.8L501.6 115.2L495.1 115.2L494.6 115.8L493.6 115.8L493.1 116.2L491.6 116.2L491.1 116.8L489.6 116.8L489.1 117.2L488.6 117.2L488.1 116.8L487.1 116.8L486.1 115.8L485.1 115.8L484.1 114.8L483.6 114.8L481.6 112.8L481.1 112.8L480.1 111.8L479.6 111.8L479.1 111.2L478.6 111.2L478.1 110.8L477.1 110.8L476.6 110.2L476.1 110.2L475.6 109.8L474.6 109.8L474.1 109.2L472.6 109.2L472.1 108.8Z" fill="#0c3cec" fill-rule="evenodd"/>
<path d="M462.1 109.8L461.6 110.2L460.6 110.2L460.1 110.8L459.1 110.8L458.6 111.2L458.1 111.2L457.1 112.2L456.6 112.2L453.1 115.8L453.1 116.2L452.6 116.8L452.6 143.8L486.1 143.8L487.1 142.8L488.1 142.8L488.6 142.2L489.1 142.2L489.6 142.8L490.6 142.8L491.1 143.2L491.6 143.2L492.1 143.8L504.1 143.8L505.6 142.2L505.6 141.8L506.1 141.2L506.1 140.8L506.6 140.2L506.6 139.8L507.1 139.2L507.1 137.8L507.6 137.2L507.6 134.2L508.1 133.8L508.1 128.2L507.6 127.8L507.6 124.2L507.1 123.8L507.1 122.8L506.6 122.2L506.6 121.2L506.1 120.8L506.1 120.2L503.6 117.8L503.1 117.8L502.6 117.2L501.6 117.2L501.1 116.8L495.6 116.8L495.1 117.2L494.1 117.2L493.6 117.8L493.1 117.8L492.6 118.2L491.6 118.2L491.1 118.8L490.6 118.8L490.1 119.2L487.6 119.2L487.1 118.8L486.6 118.8L485.1 117.2L484.6 117.2L481.6 114.2L481.1 114.2L479.6 112.8L479.1 112.8L478.6 112.2L478.1 112.2L477.6 111.8L477.1 111.8L476.6 111.2L476.1 111.2L475.6 110.8L474.6 110.8L474.1 110.2L473.1 110.2L472.6 109.8Z" fill="#1468f4" fill-rule="evenodd"/>
<path d="M462.6 110.8L462.1 111.2L461.1 111.2L460.6 111.8L459.6 111.8L459.1 112.2L458.6 112.2L458.1 112.8L457.6 112.8L453.6 116.8L453.6 117.2L453.1 117.8L453.1 118.2L452.6 118.8L452.6 143.2L453.1 143.8L483.1 143.8L488.1 138.8L489.1 138.8L489.6 139.2L490.1 139.2L492.6 141.8L493.1 141.8L493.6 142.2L494.1 142.2L494.6 142.8L496.1 142.8L496.6 143.2L500.1 143.2L500.6 142.8L502.1 142.8L503.1 141.8L503.6 141.8L504.6 140.8L504.6 140.2L505.1 139.8L505.1 139.2L505.6 138.8L505.6 138.2L506.1 137.8L506.1 135.8L506.6 135.2L506.6 126.8L506.1 126.2L506.1 124.2L505.6 123.8L505.6 122.8L505.1 122.2L505.1 121.8L503.1 119.8L502.6 119.8L502.1 119.2L501.6 119.2L501.1 118.8L495.6 118.8L495.1 119.2L494.1 119.2L493.1 120.2L492.6 120.2L492.1 120.8L491.6 120.8L489.6 122.8L487.6 122.8L483.6 118.8L483.6 118.2L479.1 113.8L478.6 113.8L478.1 113.2L477.6 113.2L477.1 112.8L476.6 112.8L476.1 112.2L475.6 112.2L475.1 111.8L474.1 111.8L473.6 111.2L472.6 111.2L472.1 110.8Z" fill="#1c9cf0" fill-rule="evenodd"/>
<path d="M495.6 120.8L495.1 121.2L494.6 121.2L493.6 122.2L493.1 122.2L492.1 123.2L492.1 123.8L491.6 124.2L491.6 124.8L491.1 125.2L491.1 125.8L490.6 126.2L490.6 127.8L490.1 128.2L490.1 133.2L490.6 133.8L490.6 135.2L491.1 135.8L491.1 136.8L491.6 137.2L491.6 137.8L492.6 138.8L492.6 139.2L493.1 139.2L494.1 140.2L494.6 140.2L495.1 140.8L495.6 140.8L496.1 141.2L500.6 141.2L501.1 140.8L501.6 140.8L502.1 140.2L502.6 140.2L503.6 139.2L503.6 138.8L504.1 138.2L504.1 137.8L504.6 137.2L504.6 136.2L505.1 135.8L505.1 125.8L504.6 125.2L504.6 124.2L504.1 123.8L504.1 123.2L502.1 121.2L501.6 121.2L501.1 120.8ZM465.6 111.2L465.1 111.8L462.6 111.8L462.1 112.2L460.6 112.2L460.1 112.8L459.6 112.8L459.1 113.2L458.6 113.2L457.6 114.2L457.1 114.2L455.1 116.2L455.1 116.8L454.1 117.8L454.1 118.2L453.6 118.8L453.6 119.2L453.1 119.8L453.1 120.2L452.6 120.8L452.6 141.2L453.1 141.8L453.1 142.2L453.6 142.8L453.6 143.2L454.1 143.8L481.6 143.8L482.6 142.8L482.6 142.2L483.6 141.2L483.6 140.8L484.6 139.8L484.6 139.2L485.1 138.8L485.1 138.2L485.6 137.8L485.6 137.2L486.1 136.8L486.1 135.8L486.6 135.2L486.6 133.8L487.1 133.2L487.1 128.8L486.6 128.2L486.6 126.8L486.1 126.2L486.1 125.2L485.6 124.8L485.6 124.2L485.1 123.8L485.1 123.2L484.6 122.8L484.6 122.2L484.1 121.8L484.1 121.2L483.1 120.2L483.1 119.8L482.1 118.8L482.1 118.2L478.6 114.8L478.1 114.8L477.1 113.8L476.6 113.8L476.1 113.2L475.6 113.2L475.1 112.8L474.6 112.8L474.1 112.2L472.6 112.2L472.1 111.8L469.6 111.8L469.1 111.2Z" fill="#20c8e0" fill-rule="evenodd"/>
<path d="M496.6 122.8L496.1 123.2L495.6 123.2L493.6 125.2L493.6 125.8L493.1 126.2L493.1 127.2L492.6 127.8L492.6 134.2L493.1 134.8L493.1 135.8L493.6 136.2L493.6 136.8L495.1 138.2L495.6 138.2L496.1 138.8L500.6 138.8L501.1 138.2L501.6 138.2L502.6 137.2L502.6 136.8L503.1 136.2L503.1 135.2L503.6 134.8L503.6 126.8L503.1 126.2L503.1 125.2L501.1 123.2L500.6 123.2L500.1 122.8ZM465.1 112.2L464.6 112.8L462.6 112.8L462.1 113.2L461.1 113.2L460.6 113.8L459.6 113.8L458.6 114.8L458.1 114.8L455.1 117.8L455.1 118.2L454.1 119.2L454.1 120.2L453.6 120.8L453.6 121.2L453.1 121.8L453.1 122.8L452.6 123.2L452.6 138.2L453.1 138.8L453.1 140.2L453.6 140.8L453.6 141.2L454.1 141.8L454.1 142.2L454.6 142.8L454.6 143.2L455.1 143.8L480.1 143.8L481.6 142.2L481.6 141.8L482.1 141.2L482.1 140.8L482.6 140.2L482.6 139.8L483.1 139.2L483.1 138.8L483.6 138.2L483.6 137.2L484.1 136.8L484.1 135.2L484.6 134.8L484.6 126.8L484.1 126.2L484.1 125.2L483.6 124.8L483.6 123.8L483.1 123.2L483.1 122.8L482.6 122.2L482.6 121.8L482.1 121.2L482.1 120.8L481.6 120.2L481.6 119.8L480.6 118.8L480.6 118.2L477.6 115.2L477.1 115.2L476.1 114.2L475.6 114.2L475.1 113.8L474.1 113.8L473.6 113.2L472.6 113.2L472.1 112.8L470.1 112.8L469.6 112.2Z" fill="#26e8b0" fill-rule="evenodd"/>
<path d="M497.6 128.2L496.6 129.2L496.6 132.2L497.1 132.8L497.1 133.2L497.6 133.8L498.6 133.8L499.1 133.2L499.6 133.2L499.6 132.8L500.1 132.2L500.1 129.2L499.1 128.2ZM464.6 113.8L464.1 114.2L462.1 114.2L461.6 114.8L461.1 114.8L460.6 115.2L460.1 115.2L459.6 115.8L459.1 115.8L456.1 118.8L456.1 119.2L455.1 120.2L455.1 120.8L454.6 121.2L454.6 122.2L454.1 122.8L454.1 123.8L453.6 124.2L453.6 127.2L453.1 127.8L453.1 134.2L453.6 134.8L453.6 137.2L454.1 137.8L454.1 139.2L454.6 139.8L454.6 140.2L455.1 140.8L455.1 141.2L455.6 141.8L455.6 142.2L456.1 142.8L456.1 143.2L456.6 143.8L478.1 143.8L479.6 142.2L479.6 141.8L480.6 140.8L480.6 140.2L481.1 139.8L481.1 138.8L481.6 138.2L481.6 137.2L482.1 136.8L482.1 134.8L482.6 134.2L482.6 127.8L482.1 127.2L482.1 125.2L481.6 124.8L481.6 123.8L481.1 123.2L481.1 122.2L480.6 121.8L480.6 121.2L480.1 120.8L480.1 120.2L479.1 119.2L479.1 118.8L476.6 116.2L476.1 116.2L475.6 115.8L475.1 115.8L474.6 115.2L474.1 115.2L473.6 114.8L473.1 114.8L472.6 114.2L470.6 114.2L470.1 113.8Z" fill="#30f070" fill-rule="evenodd"/>
<path d="M464.6 118.8L464.1 119.2L463.1 119.2L462.6 119.8L462.1 119.8L461.6 120.2L461.1 120.2L459.6 121.8L459.6 122.2L458.6 123.2L458.6 123.8L458.1 124.2L458.1 125.8L457.6 126.2L457.6 128.8L457.1 129.2L457.1 132.2L457.6 132.8L457.6 135.8L458.1 136.2L458.1 137.2L458.6 137.8L458.6 138.2L459.1 138.8L459.1 139.2L461.6 141.8L462.1 141.8L462.6 142.2L463.1 142.2L463.6 142.8L465.6 142.8L466.1 143.2L468.6 143.2L469.1 142.8L471.1 142.8L471.6 142.2L472.1 142.2L472.6 141.8L473.1 141.8L476.1 138.8L476.1 138.2L476.6 137.8L476.6 136.8L477.1 136.2L477.1 134.2L477.6 133.8L477.6 127.8L477.1 127.2L477.1 125.8L476.6 125.2L476.6 124.2L476.1 123.8L476.1 123.2L475.6 122.8L475.6 122.2L473.6 120.2L473.1 120.2L472.6 119.8L472.1 119.8L471.6 119.2L470.6 119.2L470.1 118.8Z" fill="#50f038" fill-rule="evenodd"/>
<path d="M464.6 122.8L464.1 123.2L463.6 123.2L461.6 125.2L461.6 125.8L461.1 126.2L461.1 127.2L460.6 127.8L460.6 134.2L461.1 134.8L461.1 135.8L462.1 136.8L462.1 137.2L463.1 138.2L463.6 138.2L464.1 138.8L465.1 138.8L465.6 139.2L469.1 139.2L469.6 138.8L470.6 138.8L471.1 138.2L471.6 138.2L472.6 137.2L472.6 136.8L473.6 135.8L473.6 134.8L474.1 134.2L474.1 127.8L473.6 127.2L473.6 126.2L473.1 125.8L473.1 125.2L471.1 123.2L470.6 123.2L470.1 122.8Z" fill="#80f010" fill-rule="evenodd"/>
</g>
<rect x="455.4" y="139.30" width="44" height="1.2" fill="#6a5a20" fill-opacity="0.55"/>
<path d="M455.4 101.5h1v1h-1zM456.4 83.5h1v1h-1zM456.4 93.5h1v1h-1zM456.4 105.5h1v1h-1zM457.4 66.5h1v1h-1zM458.4 87.5h1v1h-1zM458.4 91.5h1v1h-1zM458.4 93.5h1v1h-1zM458.4 97.5h1v1h-1zM458.4 100.5h1v1h-1zM458.4 104.5h1v1h-1zM458.4 105.5h1v1h-1zM459.4 67.5h1v1h-1zM459.4 68.5h1v1h-1zM459.4 90.5h1v1h-1zM459.4 93.5h1v1h-1zM459.4 95.5h1v1h-1zM459.4 97.5h1v1h-1zM459.4 98.5h1v1h-1zM459.4 100.5h1v1h-1zM459.4 102.5h1v1h-1zM459.4 103.5h1v1h-1zM459.4 104.5h1v1h-1zM460.4 62.5h1v1h-1zM460.4 87.5h1v1h-1zM460.4 90.5h1v1h-1zM460.4 95.5h1v1h-1zM460.4 97.5h1v1h-1zM460.4 101.5h1v1h-1zM460.4 104.5h1v1h-1zM461.4 63.5h1v1h-1zM461.4 67.5h1v1h-1zM461.4 69.5h1v1h-1zM461.4 89.5h1v1h-1zM461.4 92.5h1v1h-1zM461.4 95.5h1v1h-1zM461.4 96.5h1v1h-1zM461.4 99.5h1v1h-1zM461.4 102.5h1v1h-1zM461.4 103.5h1v1h-1zM461.4 104.5h1v1h-1zM462.4 65.5h1v1h-1zM462.4 83.5h1v1h-1zM462.4 90.5h1v1h-1zM462.4 92.5h1v1h-1zM462.4 93.5h1v1h-1zM462.4 94.5h1v1h-1zM462.4 95.5h1v1h-1zM462.4 98.5h1v1h-1zM462.4 100.5h1v1h-1zM462.4 102.5h1v1h-1zM462.4 103.5h1v1h-1zM463.4 68.5h1v1h-1zM463.4 77.5h1v1h-1zM463.4 83.5h1v1h-1zM463.4 84.5h1v1h-1zM463.4 88.5h1v1h-1zM463.4 92.5h1v1h-1zM463.4 96.5h1v1h-1zM463.4 97.5h1v1h-1zM463.4 98.5h1v1h-1zM463.4 99.5h1v1h-1zM463.4 100.5h1v1h-1zM463.4 101.5h1v1h-1zM463.4 102.5h1v1h-1zM463.4 104.5h1v1h-1zM464.4 72.5h1v1h-1zM464.4 74.5h1v1h-1zM464.4 78.5h1v1h-1zM464.4 86.5h1v1h-1zM464.4 87.5h1v1h-1zM464.4 88.5h1v1h-1zM464.4 90.5h1v1h-1zM464.4 93.5h1v1h-1zM464.4 95.5h1v1h-1zM464.4 96.5h1v1h-1zM464.4 98.5h1v1h-1zM464.4 99.5h1v1h-1zM464.4 100.5h1v1h-1zM464.4 101.5h1v1h-1zM464.4 102.5h1v1h-1zM464.4 103.5h1v1h-1zM465.4 89.5h1v1h-1zM465.4 90.5h1v1h-1zM465.4 92.5h1v1h-1zM465.4 94.5h1v1h-1zM465.4 96.5h1v1h-1zM465.4 98.5h1v1h-1zM465.4 100.5h1v1h-1zM465.4 101.5h1v1h-1zM465.4 102.5h1v1h-1zM466.4 69.5h1v1h-1zM466.4 74.5h1v1h-1zM466.4 78.5h1v1h-1zM466.4 92.5h1v1h-1zM466.4 94.5h1v1h-1zM466.4 97.5h1v1h-1zM466.4 99.5h1v1h-1zM466.4 101.5h1v1h-1zM466.4 102.5h1v1h-1zM466.4 104.5h1v1h-1zM467.4 41.5h1v1h-1zM467.4 68.5h1v1h-1zM467.4 85.5h1v1h-1zM467.4 87.5h1v1h-1zM467.4 90.5h1v1h-1zM467.4 95.5h1v1h-1zM467.4 99.5h1v1h-1zM467.4 100.5h1v1h-1zM467.4 101.5h1v1h-1zM467.4 102.5h1v1h-1zM467.4 103.5h1v1h-1zM467.4 104.5h1v1h-1zM468.4 65.5h1v1h-1zM468.4 84.5h1v1h-1zM468.4 92.5h1v1h-1zM468.4 93.5h1v1h-1zM468.4 95.5h1v1h-1zM468.4 97.5h1v1h-1zM468.4 98.5h1v1h-1zM468.4 100.5h1v1h-1zM468.4 101.5h1v1h-1zM468.4 102.5h1v1h-1zM468.4 103.5h1v1h-1zM469.4 63.5h1v1h-1zM469.4 89.5h1v1h-1zM469.4 91.5h1v1h-1zM469.4 92.5h1v1h-1zM469.4 93.5h1v1h-1zM469.4 94.5h1v1h-1zM469.4 95.5h1v1h-1zM469.4 96.5h1v1h-1zM469.4 97.5h1v1h-1zM469.4 99.5h1v1h-1zM469.4 100.5h1v1h-1zM469.4 101.5h1v1h-1zM469.4 102.5h1v1h-1zM469.4 103.5h1v1h-1zM470.4 65.5h1v1h-1zM470.4 85.5h1v1h-1zM470.4 89.5h1v1h-1zM470.4 90.5h1v1h-1zM470.4 91.5h1v1h-1zM470.4 93.5h1v1h-1zM470.4 95.5h1v1h-1zM470.4 96.5h1v1h-1zM470.4 98.5h1v1h-1zM470.4 101.5h1v1h-1zM470.4 102.5h1v1h-1zM470.4 103.5h1v1h-1zM471.4 76.5h1v1h-1zM471.4 84.5h1v1h-1zM471.4 94.5h1v1h-1zM471.4 95.5h1v1h-1zM471.4 96.5h1v1h-1zM471.4 98.5h1v1h-1zM471.4 99.5h1v1h-1zM471.4 101.5h1v1h-1zM471.4 102.5h1v1h-1zM471.4 103.5h1v1h-1zM472.4 74.5h1v1h-1zM472.4 76.5h1v1h-1zM472.4 80.5h1v1h-1zM472.4 83.5h1v1h-1zM472.4 93.5h1v1h-1zM472.4 94.5h1v1h-1zM472.4 95.5h1v1h-1zM472.4 97.5h1v1h-1zM472.4 98.5h1v1h-1zM472.4 99.5h1v1h-1zM472.4 100.5h1v1h-1zM472.4 101.5h1v1h-1zM472.4 102.5h1v1h-1zM473.4 82.5h1v1h-1zM473.4 84.5h1v1h-1zM473.4 91.5h1v1h-1zM473.4 92.5h1v1h-1zM473.4 95.5h1v1h-1zM473.4 96.5h1v1h-1zM473.4 99.5h1v1h-1zM473.4 100.5h1v1h-1zM473.4 102.5h1v1h-1zM473.4 103.5h1v1h-1zM473.4 104.5h1v1h-1zM473.4 105.5h1v1h-1zM474.4 78.5h1v1h-1zM474.4 80.5h1v1h-1zM474.4 87.5h1v1h-1zM474.4 89.5h1v1h-1zM474.4 92.5h1v1h-1zM474.4 93.5h1v1h-1zM474.4 97.5h1v1h-1zM474.4 98.5h1v1h-1zM474.4 100.5h1v1h-1zM474.4 101.5h1v1h-1zM474.4 102.5h1v1h-1zM474.4 104.5h1v1h-1zM475.4 78.5h1v1h-1zM475.4 79.5h1v1h-1zM475.4 86.5h1v1h-1zM475.4 95.5h1v1h-1zM475.4 97.5h1v1h-1zM475.4 101.5h1v1h-1zM475.4 102.5h1v1h-1zM475.4 104.5h1v1h-1zM476.4 78.5h1v1h-1zM476.4 94.5h1v1h-1zM476.4 100.5h1v1h-1zM476.4 102.5h1v1h-1zM476.4 104.5h1v1h-1zM477.4 84.5h1v1h-1zM477.4 90.5h1v1h-1zM477.4 91.5h1v1h-1zM477.4 94.5h1v1h-1zM477.4 95.5h1v1h-1zM477.4 97.5h1v1h-1zM477.4 100.5h1v1h-1zM477.4 103.5h1v1h-1zM477.4 104.5h1v1h-1zM478.4 75.5h1v1h-1zM478.4 93.5h1v1h-1zM478.4 103.5h1v1h-1zM479.4 79.5h1v1h-1zM479.4 82.5h1v1h-1zM479.4 85.5h1v1h-1zM479.4 86.5h1v1h-1zM479.4 101.5h1v1h-1zM480.4 67.5h1v1h-1zM481.4 79.5h1v1h-1zM481.4 101.5h1v1h-1zM481.4 102.5h1v1h-1zM482.4 102.5h1v1h-1zM482.4 107.5h1v1h-1zM483.4 91.5h1v1h-1zM484.4 86.5h1v1h-1zM484.4 95.5h1v1h-1zM484.4 102.5h1v1h-1zM484.4 107.5h1v1h-1zM485.4 96.5h1v1h-1zM485.4 98.5h1v1h-1zM485.4 101.5h1v1h-1zM485.4 108.5h1v1h-1zM486.4 90.5h1v1h-1zM486.4 98.5h1v1h-1zM487.4 64.5h1v1h-1zM487.4 84.5h1v1h-1zM487.4 103.5h1v1h-1zM487.4 105.5h1v1h-1zM487.4 106.5h1v1h-1zM487.4 107.5h1v1h-1zM488.4 91.5h1v1h-1zM489.4 82.5h1v1h-1zM489.4 86.5h1v1h-1zM489.4 108.5h1v1h-1zM490.4 63.5h1v1h-1zM490.4 64.5h1v1h-1zM490.4 82.5h1v1h-1zM490.4 105.5h1v1h-1zM490.4 108.5h1v1h-1zM490.4 109.5h1v1h-1zM491.4 101.5h1v1h-1zM491.4 105.5h1v1h-1zM491.4 108.5h1v1h-1zM492.4 85.5h1v1h-1zM492.4 107.5h1v1h-1zM492.4 108.5h1v1h-1zM493.4 48.5h1v1h-1zM494.4 93.5h1v1h-1zM494.4 98.5h1v1h-1zM494.4 99.5h1v1h-1zM494.4 105.5h1v1h-1zM495.4 84.5h1v1h-1zM495.4 99.5h1v1h-1zM496.4 85.5h1v1h-1zM496.4 91.5h1v1h-1zM496.4 102.5h1v1h-1zM496.4 106.5h1v1h-1zM497.4 99.5h1v1h-1zM497.4 102.5h1v1h-1zM497.4 103.5h1v1h-1zM497.4 105.5h1v1h-1zM498.4 75.5h1v1h-1zM498.4 100.5h1v1h-1zM499.4 60.5h1v1h-1zM499.4 90.5h1v1h-1zM499.4 104.5h1v1h-1zM501.4 90.5h1v1h-1zM502.4 74.5h1v1h-1zM502.4 100.5h1v1h-1zM503.4 77.5h1v1h-1zM503.4 95.5h1v1h-1zM504.4 105.5h1v1h-1zM505.4 109.5h1v1h-1zM507.4 108.5h1v1h-1zM508.4 100.5h1v1h-1zM508.4 108.5h1v1h-1zM508.4 109.5h1v1h-1zM509.4 108.5h1v1h-1zM510.4 85.5h1v1h-1zM510.4 98.5h1v1h-1zM510.4 104.5h1v1h-1zM510.4 112.5h1v1h-1zM511.4 93.5h1v1h-1zM511.4 116.5h1v1h-1zM513.4 108.5h1v1h-1zM513.4 118.5h1v1h-1zM513.4 129.5h1v1h-1zM513.4 134.5h1v1h-1zM513.4 135.5h1v1h-1zM513.4 138.5h1v1h-1zM514.4 132.5h1v1h-1zM514.4 134.5h1v1h-1zM514.4 137.5h1v1h-1zM514.4 139.5h1v1h-1zM515.4 103.5h1v1h-1zM516.4 125.5h1v1h-1zM522.4 40.5h1v1h-1zM522.4 72.5h1v1h-1zM522.4 89.5h1v1h-1zM530.4 66.5h1v1h-1zM549.4 64.5h1v1h-1z" fill="#0a0a80"/>
</g>
<path d="M482.80 38.50V140.90M455.40 100.30H556.30" stroke="#8c8c8c" stroke-width="1" fill="none"/>
<rect x="455.40" y="38.50" width="100.90" height="102.40" fill="none" stroke="#8a8a8a" stroke-width="1.1"/>
<text x="457.40" y="48.50" font-size="10.8">0.05</text>
<text x="555.70" y="48.50" font-size="10.8" text-anchor="end">0.02</text>
<text x="456.00" y="156.00" font-size="10.3" text-anchor="middle">10<tspan font-size="7" dy="-6">0</tspan></text>
<text x="481.23" y="156.00" font-size="10.3" text-anchor="middle">10<tspan font-size="7" dy="-6">1</tspan></text>
<text x="506.45" y="156.00" font-size="10.3" text-anchor="middle">10<tspan font-size="7" dy="-6">2</tspan></text>
<text x="531.68" y="156.00" font-size="10.3" text-anchor="middle">10<tspan font-size="7" dy="-6">3</tspan></text>
<text x="556.90" y="156.00" font-size="10.3" text-anchor="middle">10<tspan font-size="7" dy="-6">4</tspan></text>
<text x="451.20" y="145.20" font-size="10.3" text-anchor="end">10<tspan font-size="7" dy="-6">0</tspan></text>
<text x="451.20" y="119.60" font-size="10.3" text-anchor="end">10<tspan font-size="7" dy="-6">1</tspan></text>
<text x="451.20" y="94.00" font-size="10.3" text-anchor="end">10<tspan font-size="7" dy="-6">2</tspan></text>
<text x="451.20" y="68.40" font-size="10.3" text-anchor="end">10<tspan font-size="7" dy="-6">3</tspan></text>
<text x="451.20" y="42.80" font-size="10.3" text-anchor="end">10<tspan font-size="7" dy="-6">4</tspan></text>
<clipPath id="c10"><rect x="53.00" y="180.40" width="100.90" height="102.40"/></clipPath>
<g clip-path="url(#c10)">
<path d="M64.0 246.4h1v1h-1zM75.0 246.4h1v1h-1zM57.0 247.4h1v1h-1zM64.0 247.4h2v1h-2zM67.0 247.4h4v1h-4zM74.0 247.4h2v1h-2zM79.0 247.4h1v1h-1zM82.0 247.4h1v1h-1zM102.0 247.4h1v1h-1zM57.0 248.4h1v1h-1zM59.0 248.4h3v1h-3zM63.0 248.4h14v1h-14zM78.0 248.4h1v1h-1zM80.0 248.4h3v1h-3zM86.0 248.4h1v1h-1zM94.0 248.4h1v1h-1zM97.0 248.4h1v1h-1zM99.0 248.4h1v1h-1zM101.0 248.4h2v1h-2zM107.0 248.4h2v1h-2zM53.0 249.4h1v1h-1zM57.0 249.4h4v1h-4zM64.0 249.4h15v1h-15zM81.0 249.4h4v1h-4zM86.0 249.4h6v1h-6zM93.0 249.4h7v1h-7zM101.0 249.4h6v1h-6zM108.0 249.4h1v1h-1zM53.0 250.4h35v1h-35zM89.0 250.4h21v1h-21zM53.0 251.4h52v1h-52zM106.0 251.4h4v1h-4zM53.0 252.4h61v1h-61zM53.0 253.4h59v1h-59zM113.0 253.4h1v1h-1zM53.0 254.4h62v1h-62zM53.0 255.4h62v1h-62zM53.0 256.4h60v1h-60zM114.0 256.4h1v1h-1zM53.0 257.4h62v1h-62zM53.0 258.4h64v1h-64zM118.0 258.4h1v1h-1zM53.0 259.4h65v1h-65zM53.0 260.4h64v1h-64zM53.0 261.4h63v1h-63zM53.0 262.4h65v1h-65zM53.0 263.4h65v1h-65zM53.0 264.4h65v1h-65zM53.0 265.4h65v1h-65zM53.0 266.4h65v1h-65zM53.0 267.4h66v1h-66zM53.0 268.4h65v1h-65zM53.0 269.4h65v1h-65zM53.0 270.4h65v1h-65zM53.0 271.4h65v1h-65zM53.0 272.4h65v1h-65zM53.0 273.4h66v1h-66zM53.0 274.4h65v1h-65zM53.0 275.4h65v1h-65zM53.0 276.4h65v1h-65zM53.0 277.4h62v1h-62zM116.0 277.4h1v1h-1zM118.0 277.4h1v1h-1zM53.0 278.4h65v1h-65zM53.0 279.4h64v1h-64zM53.0 280.4h63v1h-63zM53.0 281.4h64v1h-64z" fill="#0c0c8a"/>
<g filter="url(#bl)">
<path d="M61.2 251.7L60.8 252.2L58.2 252.2L57.8 252.7L56.8 252.7L56.2 253.2L55.2 253.2L54.8 253.7L54.2 253.7L53.8 254.2L53.2 254.2L52.8 254.7L52.2 254.7L50.2 256.6L50.2 285.6L113.8 285.6L113.8 284.6L114.2 284.1L114.2 282.6L114.8 282.1L114.8 277.1L115.2 276.6L115.2 268.6L114.8 268.1L114.8 263.6L114.2 263.1L114.2 261.1L113.8 260.6L113.8 260.1L113.2 259.6L113.2 258.6L112.8 258.1L112.8 257.6L109.2 254.2L108.8 254.2L108.2 253.7L107.8 253.7L107.2 253.2L105.8 253.2L105.2 252.7L82.2 252.7L81.8 252.2L79.2 252.2L78.8 251.7Z" fill="#0a1cc4" fill-rule="evenodd"/>
<path d="M63.8 252.7L63.2 253.2L59.8 253.2L59.2 253.7L57.8 253.7L57.2 254.2L56.2 254.2L55.8 254.7L55.2 254.7L54.8 255.2L54.2 255.2L53.8 255.7L53.2 255.7L50.2 258.6L50.2 285.6L112.2 285.6L112.8 285.1L112.8 284.6L113.2 284.1L113.2 282.6L113.8 282.1L113.8 278.6L114.2 278.1L114.2 267.6L113.8 267.1L113.8 263.6L113.2 263.1L113.2 261.6L112.8 261.1L112.8 260.1L112.2 259.6L112.2 259.1L111.2 258.1L111.2 257.6L109.2 255.7L108.8 255.7L108.2 255.2L107.8 255.2L107.2 254.7L106.8 254.7L106.2 254.2L104.2 254.2L103.8 253.7L90.2 253.7L89.8 254.2L84.2 254.2L83.8 253.7L80.8 253.7L80.2 253.2L76.8 253.2L76.2 252.7Z" fill="#0c3cec" fill-rule="evenodd"/>
<path d="M64.2 253.7L63.8 254.2L60.2 254.2L59.8 254.7L58.2 254.7L57.8 255.2L56.8 255.2L56.2 255.7L55.8 255.7L55.2 256.1L54.8 256.1L53.2 257.6L52.8 257.6L51.8 258.6L51.8 259.1L50.8 260.1L50.8 260.6L50.2 261.1L50.2 284.6L51.2 285.6L111.2 285.6L111.8 285.1L111.8 284.6L112.2 284.1L112.2 283.1L112.8 282.6L112.8 280.1L113.2 279.6L113.2 265.6L112.8 265.1L112.8 263.1L112.2 262.6L112.2 261.6L111.8 261.1L111.8 260.1L110.8 259.1L110.8 258.6L108.8 256.6L108.2 256.6L107.2 255.7L106.2 255.7L105.8 255.2L104.2 255.2L103.8 254.7L91.8 254.7L91.2 255.2L88.2 255.2L87.8 255.7L85.8 255.7L85.2 255.2L82.8 255.2L82.2 254.7L80.2 254.7L79.8 254.2L76.2 254.2L75.8 253.7Z" fill="#1468f4" fill-rule="evenodd"/>
<path d="M61.8 255.2L61.2 255.7L59.8 255.7L59.2 256.1L58.2 256.1L57.8 256.6L56.8 256.6L56.2 257.1L55.8 257.1L54.2 258.6L53.8 258.6L53.2 259.1L53.2 259.6L51.8 261.1L51.8 261.6L51.2 262.1L51.2 263.1L50.8 263.6L50.8 265.1L50.2 265.6L50.2 280.1L50.8 280.6L50.8 282.1L51.2 282.6L51.2 283.1L51.8 283.6L51.8 284.1L52.2 284.6L52.2 285.1L52.8 285.6L110.2 285.6L110.2 285.1L110.8 284.6L110.8 284.1L111.2 283.6L111.2 282.6L111.8 282.1L111.8 280.6L112.2 280.1L112.2 265.6L111.8 265.1L111.8 263.1L111.2 262.6L111.2 262.1L110.8 261.6L110.8 260.6L109.8 259.6L109.8 259.1L108.2 257.6L107.8 257.6L107.2 257.1L106.8 257.1L106.2 256.6L105.2 256.6L104.8 256.1L102.2 256.1L101.8 255.7L93.8 255.7L93.2 256.1L90.8 256.1L90.2 256.6L88.8 256.6L88.2 257.1L85.2 257.1L84.8 256.6L83.2 256.6L82.8 256.1L81.2 256.1L80.8 255.7L78.8 255.7L78.2 255.2Z" fill="#1c9cf0" fill-rule="evenodd"/>
<path d="M62.2 256.1L61.8 256.6L60.2 256.6L59.8 257.1L58.8 257.1L58.2 257.6L57.2 257.6L56.2 258.6L55.8 258.6L53.2 261.1L53.2 261.6L52.8 262.1L52.8 262.6L52.2 263.1L52.2 264.1L51.8 264.6L51.8 266.1L51.2 266.6L51.2 279.1L51.8 279.6L51.8 281.1L52.2 281.6L52.2 282.6L52.8 283.1L52.8 283.6L53.8 284.6L53.8 285.1L54.2 285.6L108.8 285.6L109.8 284.6L109.8 284.1L110.2 283.6L110.2 283.1L110.8 282.6L110.8 281.1L111.2 280.6L111.2 277.1L111.8 276.6L111.8 269.1L111.2 268.6L111.2 265.1L110.8 264.6L110.8 263.1L110.2 262.6L110.2 262.1L109.8 261.6L109.8 261.1L109.2 260.6L109.2 260.1L107.8 258.6L107.2 258.6L106.8 258.1L106.2 258.1L105.8 257.6L105.2 257.6L104.8 257.1L101.8 257.1L101.2 256.6L94.8 256.6L94.2 257.1L91.8 257.1L91.2 257.6L90.2 257.6L89.8 258.1L88.8 258.1L88.2 258.6L85.2 258.6L84.8 258.1L83.8 258.1L83.2 257.6L82.2 257.6L81.8 257.1L80.8 257.1L80.2 256.6L78.2 256.6L77.8 256.1Z" fill="#20c8e0" fill-rule="evenodd"/>
<path d="M63.2 257.1L62.8 257.6L60.8 257.6L60.2 258.1L59.2 258.1L58.8 258.6L58.2 258.6L57.8 259.1L57.2 259.1L56.2 260.1L55.8 260.1L55.2 260.6L55.2 261.1L54.2 262.1L54.2 262.6L53.8 263.1L53.8 263.6L53.2 264.1L53.2 265.1L52.8 265.6L52.8 267.6L52.2 268.1L52.2 277.1L52.8 277.6L52.8 280.1L53.2 280.6L53.2 281.6L53.8 282.1L53.8 282.6L54.2 283.1L54.2 283.6L56.2 285.6L85.2 285.6L85.8 285.1L87.8 285.1L88.2 285.6L107.2 285.6L109.2 283.6L109.2 283.1L109.8 282.6L109.8 281.6L110.2 281.1L110.2 278.6L110.8 278.1L110.8 267.1L110.2 266.6L110.2 264.6L109.8 264.1L109.8 263.1L109.2 262.6L109.2 262.1L108.8 261.6L108.8 261.1L107.2 259.6L106.8 259.6L105.8 258.6L104.8 258.6L104.2 258.1L99.2 258.1L98.8 257.6L95.8 257.6L95.2 258.1L92.8 258.1L92.2 258.6L91.2 258.6L90.8 259.1L90.2 259.1L89.8 259.6L88.8 259.6L88.2 260.1L85.2 260.1L84.8 259.6L83.8 259.6L83.2 259.1L82.8 259.1L82.2 258.6L81.8 258.6L81.2 258.1L79.8 258.1L79.2 257.6L77.2 257.6L76.8 257.1Z" fill="#26e8b0" fill-rule="evenodd"/>
<path d="M64.2 258.6L63.8 259.1L61.8 259.1L61.2 259.6L60.2 259.6L59.8 260.1L59.2 260.1L58.8 260.6L58.2 260.6L55.8 263.1L55.8 263.6L55.2 264.1L55.2 264.6L54.8 265.1L54.8 266.6L54.2 267.1L54.2 278.6L54.8 279.1L54.8 280.1L55.2 280.6L55.2 281.6L56.2 282.6L56.2 283.1L57.8 284.6L58.2 284.6L58.8 285.1L59.2 285.1L59.8 285.6L80.8 285.6L81.2 285.1L81.8 285.1L82.8 284.1L83.2 284.1L84.8 282.6L85.2 282.6L86.2 281.6L87.2 281.6L88.2 282.6L88.8 282.6L90.8 284.6L91.2 284.6L91.8 285.1L92.2 285.1L92.8 285.6L104.8 285.6L105.2 285.1L105.8 285.1L107.8 283.1L107.8 282.6L108.2 282.1L108.2 281.6L108.8 281.1L108.8 280.1L109.2 279.6L109.2 274.1L109.8 273.6L109.8 271.6L109.2 271.1L109.2 266.1L108.8 265.6L108.8 264.6L108.2 264.1L108.2 263.1L105.8 260.6L105.2 260.6L104.8 260.1L104.2 260.1L103.8 259.6L93.8 259.6L93.2 260.1L92.2 260.1L91.8 260.6L91.2 260.6L90.2 261.6L89.8 261.6L87.8 263.6L85.8 263.6L84.2 262.1L83.8 262.1L82.8 261.1L82.2 261.1L81.2 260.1L80.2 260.1L79.8 259.6L78.8 259.6L78.2 259.1L76.2 259.1L75.8 258.6Z" fill="#30f070" fill-rule="evenodd"/>
<path d="M96.2 264.6L95.8 265.1L95.2 265.1L94.8 265.6L94.2 265.6L93.8 266.1L93.8 266.6L93.2 267.1L93.2 267.6L92.8 268.1L92.8 271.1L92.2 271.6L92.2 274.1L92.8 274.6L92.8 277.6L93.2 278.1L93.2 278.6L95.2 280.6L97.2 280.6L97.8 281.1L99.8 281.1L100.2 280.6L102.2 280.6L102.8 280.1L103.2 280.1L104.2 279.1L104.2 278.6L104.8 278.1L104.8 277.6L105.2 277.1L105.2 268.6L104.8 268.1L104.8 267.1L103.8 266.1L103.8 265.6L103.2 265.6L102.8 265.1L101.8 265.1L101.2 264.6ZM67.8 263.6L67.2 264.1L64.8 264.1L64.2 264.6L63.2 264.6L62.8 265.1L62.2 265.1L61.2 266.1L61.2 266.6L60.8 267.1L60.8 267.6L60.2 268.1L60.2 270.1L59.8 270.6L59.8 275.1L60.2 275.6L60.2 277.6L60.8 278.1L60.8 278.6L62.8 280.6L63.2 280.6L63.8 281.1L64.8 281.1L65.2 281.6L74.8 281.6L75.2 281.1L76.2 281.1L76.8 280.6L77.2 280.6L79.2 278.6L79.2 278.1L79.8 277.6L79.8 275.6L80.2 275.1L80.2 270.1L79.8 269.6L79.8 268.1L79.2 267.6L79.2 267.1L78.8 266.6L78.8 266.1L77.8 265.1L77.2 265.1L76.8 264.6L75.8 264.6L75.2 264.1L72.8 264.1L72.2 263.6Z" fill="#50f038" fill-rule="evenodd"/>
<path d="M97.2 268.6L96.2 269.6L96.2 270.1L95.8 270.6L95.8 275.1L96.2 275.6L96.2 276.1L96.8 276.6L97.8 276.6L98.2 277.1L99.2 277.1L99.8 276.6L101.2 276.6L101.8 276.1L101.8 275.6L102.2 275.1L102.2 270.6L101.8 270.1L101.8 269.6L100.8 268.6ZM67.2 267.6L66.8 268.1L66.2 268.1L65.8 268.6L65.2 268.6L64.8 269.1L64.8 269.6L64.2 270.1L64.2 275.1L64.8 275.6L64.8 276.1L66.2 277.6L68.8 277.6L69.2 278.1L70.8 278.1L71.2 277.6L73.8 277.6L75.2 276.1L75.2 275.6L75.8 275.1L75.8 270.1L75.2 269.6L75.2 269.1L74.8 268.6L74.2 268.6L73.8 268.1L73.2 268.1L72.8 267.6Z" fill="#80f010" fill-rule="evenodd"/>
</g>
<rect x="53.0" y="281.20" width="57" height="1.2" fill="#6a5a20" fill-opacity="0.55"/>
<path d="M53.0 247.4h1v1h-1zM57.0 240.4h1v1h-1zM57.0 243.4h1v1h-1zM60.0 244.4h1v1h-1zM62.0 242.4h1v1h-1zM66.0 246.4h1v1h-1zM67.0 244.4h1v1h-1zM68.0 245.4h1v1h-1zM69.0 243.4h1v1h-1zM69.0 246.4h1v1h-1zM71.0 245.4h1v1h-1zM72.0 247.4h1v1h-1zM73.0 244.4h1v1h-1zM74.0 245.4h1v1h-1zM77.0 246.4h1v1h-1zM78.0 237.4h1v1h-1zM78.0 245.4h1v1h-1zM81.0 242.4h1v1h-1zM87.0 244.4h1v1h-1zM87.0 246.4h1v1h-1zM88.0 248.4h1v1h-1zM89.0 237.4h1v1h-1zM89.0 246.4h1v1h-1zM91.0 247.4h1v1h-1zM91.0 248.4h1v1h-1zM98.0 247.4h1v1h-1zM99.0 247.4h1v1h-1zM102.0 244.4h1v1h-1zM103.0 246.4h1v1h-1zM103.0 248.4h1v1h-1zM106.0 247.4h1v1h-1zM106.0 248.4h1v1h-1zM109.0 248.4h1v1h-1zM113.0 250.4h1v1h-1zM115.0 249.4h1v1h-1zM117.0 253.4h1v1h-1zM118.0 257.4h1v1h-1zM118.0 260.4h1v1h-1zM118.0 264.4h1v1h-1zM118.0 280.4h1v1h-1zM120.0 275.4h1v1h-1zM122.0 267.4h1v1h-1zM124.0 262.4h1v1h-1zM128.0 241.4h1v1h-1z" fill="#0a0a80"/>
</g>
<path d="M85.30 180.40V282.80M53.00 240.80H153.90" stroke="#8c8c8c" stroke-width="1" fill="none"/>
<rect x="53.00" y="180.40" width="100.90" height="102.40" fill="none" stroke="#8a8a8a" stroke-width="1.1"/>
<text x="55.00" y="190.40" font-size="10.8">0.00</text>
<text x="153.30" y="190.40" font-size="10.8" text-anchor="end">0.00</text>
<text x="53.60" y="297.90" font-size="10.3" text-anchor="middle">10<tspan font-size="7" dy="-6">0</tspan></text>
<text x="78.82" y="297.90" font-size="10.3" text-anchor="middle">10<tspan font-size="7" dy="-6">1</tspan></text>
<text x="104.05" y="297.90" font-size="10.3" text-anchor="middle">10<tspan font-size="7" dy="-6">2</tspan></text>
<text x="129.28" y="297.90" font-size="10.3" text-anchor="middle">10<tspan font-size="7" dy="-6">3</tspan></text>
<text x="154.50" y="297.90" font-size="10.3" text-anchor="middle">10<tspan font-size="7" dy="-6">4</tspan></text>
<text x="48.80" y="287.10" font-size="10.3" text-anchor="end">10<tspan font-size="7" dy="-6">0</tspan></text>
<text x="48.80" y="261.50" font-size="10.3" text-anchor="end">10<tspan font-size="7" dy="-6">1</tspan></text>
<text x="48.80" y="235.90" font-size="10.3" text-anchor="end">10<tspan font-size="7" dy="-6">2</tspan></text>
<text x="48.80" y="210.30" font-size="10.3" text-anchor="end">10<tspan font-size="7" dy="-6">3</tspan></text>
<text x="48.80" y="184.70" font-size="10.3" text-anchor="end">10<tspan font-size="7" dy="-6">4</tspan></text>
<clipPath id="c11"><rect x="178.40" y="180.40" width="100.90" height="102.40"/></clipPath>
<g clip-path="url(#c11)">
<path d="M199.4 243.4h1v1h-1zM183.4 244.4h1v1h-1zM190.4 244.4h1v1h-1zM197.4 244.4h1v1h-1zM181.4 245.4h1v1h-1zM189.4 245.4h2v1h-2zM192.4 245.4h2v1h-2zM196.4 245.4h1v1h-1zM199.4 245.4h3v1h-3zM205.4 245.4h1v1h-1zM207.4 245.4h1v1h-1zM214.4 245.4h1v1h-1zM182.4 246.4h1v1h-1zM184.4 246.4h4v1h-4zM192.4 246.4h4v1h-4zM197.4 246.4h5v1h-5zM204.4 246.4h1v1h-1zM206.4 246.4h2v1h-2zM209.4 246.4h1v1h-1zM213.4 246.4h1v1h-1zM222.4 246.4h1v1h-1zM224.4 246.4h1v1h-1zM226.4 246.4h2v1h-2zM230.4 246.4h1v1h-1zM179.4 247.4h8v1h-8zM188.4 247.4h24v1h-24zM217.4 247.4h8v1h-8zM226.4 247.4h4v1h-4zM231.4 247.4h2v1h-2zM234.4 247.4h1v1h-1zM178.4 248.4h5v1h-5zM184.4 248.4h33v1h-33zM218.4 248.4h12v1h-12zM231.4 248.4h2v1h-2zM234.4 248.4h1v1h-1zM178.4 249.4h34v1h-34zM213.4 249.4h3v1h-3zM217.4 249.4h7v1h-7zM225.4 249.4h12v1h-12zM178.4 250.4h58v1h-58zM239.4 250.4h1v1h-1zM178.4 251.4h59v1h-59zM240.4 251.4h1v1h-1zM178.4 252.4h61v1h-61zM178.4 253.4h60v1h-60zM178.4 254.4h62v1h-62zM178.4 255.4h61v1h-61zM240.4 255.4h1v1h-1zM178.4 256.4h61v1h-61zM240.4 256.4h1v1h-1zM178.4 257.4h62v1h-62zM178.4 258.4h63v1h-63zM178.4 259.4h63v1h-63zM178.4 260.4h63v1h-63zM178.4 261.4h63v1h-63zM178.4 262.4h64v1h-64zM178.4 263.4h64v1h-64zM178.4 264.4h63v1h-63zM178.4 265.4h63v1h-63zM178.4 266.4h63v1h-63zM178.4 267.4h62v1h-62zM241.4 267.4h1v1h-1zM178.4 268.4h65v1h-65zM178.4 269.4h65v1h-65zM178.4 270.4h62v1h-62zM241.4 270.4h1v1h-1zM178.4 271.4h64v1h-64zM178.4 272.4h63v1h-63zM242.4 272.4h1v1h-1zM178.4 273.4h64v1h-64zM243.4 273.4h1v1h-1zM178.4 274.4h64v1h-64zM178.4 275.4h63v1h-63zM178.4 276.4h62v1h-62zM178.4 277.4h63v1h-63zM178.4 278.4h64v1h-64zM178.4 279.4h64v1h-64zM178.4 280.4h65v1h-65zM178.4 281.4h61v1h-61zM240.4 281.4h3v1h-3z" fill="#0c0c8a"/>
<g filter="url(#bl)">
<path d="M189.7 249.7L189.2 250.2L186.2 250.2L185.7 250.7L184.2 250.7L183.7 251.2L182.7 251.2L182.2 251.7L181.2 251.7L180.7 252.2L180.2 252.2L179.2 253.2L178.7 253.2L175.7 256.1L175.7 285.6L238.7 285.6L238.7 285.1L239.2 284.6L239.2 281.6L239.7 281.1L239.7 264.6L239.2 264.1L239.2 261.1L238.7 260.6L238.7 259.1L238.2 258.6L238.2 257.6L237.7 257.1L237.7 256.6L237.2 256.1L237.2 255.7L236.2 254.7L236.2 254.2L235.2 253.2L234.7 253.2L233.7 252.2L233.2 252.2L232.7 251.7L231.7 251.7L231.2 251.2L228.7 251.2L228.2 250.7L220.7 250.7L220.2 251.2L215.2 251.2L214.7 251.7L213.2 251.7L212.7 251.2L212.2 251.7L211.7 251.7L211.2 251.2L209.7 251.2L209.2 250.7L207.2 250.7L206.7 250.2L203.7 250.2L203.2 249.7Z" fill="#0a1cc4" fill-rule="evenodd"/>
<path d="M188.2 251.2L187.7 251.7L185.2 251.7L184.7 252.2L183.7 252.2L183.2 252.7L182.7 252.7L182.2 253.2L181.7 253.2L181.2 253.7L180.7 253.7L180.2 254.2L179.7 254.2L176.7 257.1L176.7 257.6L176.2 258.1L176.2 258.6L175.7 259.1L175.7 285.6L237.7 285.6L237.7 285.1L238.2 284.6L238.2 282.6L238.7 282.1L238.7 263.6L238.2 263.1L238.2 261.1L237.7 260.6L237.7 259.1L237.2 258.6L237.2 258.1L236.7 257.6L236.7 257.1L236.2 256.6L236.2 256.1L233.7 253.7L233.2 253.7L232.7 253.2L232.2 253.2L231.7 252.7L230.2 252.7L229.7 252.2L218.7 252.2L218.2 252.7L216.2 252.7L215.7 253.2L212.2 253.2L211.7 252.7L209.7 252.7L209.2 252.2L208.2 252.2L207.7 251.7L205.2 251.7L204.7 251.2Z" fill="#0c3cec" fill-rule="evenodd"/>
<path d="M189.2 252.2L188.7 252.7L186.2 252.7L185.7 253.2L184.7 253.2L184.2 253.7L183.2 253.7L182.7 254.2L182.2 254.2L181.7 254.7L181.2 254.7L177.7 258.1L177.7 258.6L176.7 259.6L176.7 260.6L176.2 261.1L176.2 262.1L175.7 262.6L175.7 283.1L176.2 283.6L176.2 284.6L176.7 285.1L176.7 285.6L236.7 285.6L237.2 285.1L237.2 283.6L237.7 283.1L237.7 279.6L238.2 279.1L238.2 266.1L237.7 265.6L237.7 262.6L237.2 262.1L237.2 260.6L236.7 260.1L236.7 259.1L236.2 258.6L236.2 258.1L235.7 257.6L235.7 257.1L233.2 254.7L232.7 254.7L232.2 254.2L231.7 254.2L231.2 253.7L229.2 253.7L228.7 253.2L220.2 253.2L219.7 253.7L217.7 253.7L217.2 254.2L216.2 254.2L215.7 254.7L212.7 254.7L212.2 254.2L210.7 254.2L210.2 253.7L209.2 253.7L208.7 253.2L207.2 253.2L206.7 252.7L204.2 252.7L203.7 252.2Z" fill="#1468f4" fill-rule="evenodd"/>
<path d="M192.7 253.2L192.2 253.7L187.7 253.7L187.2 254.2L185.7 254.2L185.2 254.7L184.2 254.7L183.7 255.2L183.2 255.2L182.7 255.7L182.2 255.7L178.7 259.1L178.7 259.6L178.2 260.1L178.2 260.6L177.7 261.1L177.7 261.6L177.2 262.1L177.2 263.6L176.7 264.1L176.7 266.6L176.2 267.1L176.2 278.6L176.7 279.1L176.7 281.6L177.2 282.1L177.2 283.1L177.7 283.6L177.7 284.6L178.2 285.1L178.2 285.6L235.7 285.6L235.7 285.1L236.2 284.6L236.2 283.6L236.7 283.1L236.7 280.6L237.2 280.1L237.2 265.1L236.7 264.6L236.7 262.6L236.2 262.1L236.2 260.6L235.7 260.1L235.7 259.6L235.2 259.1L235.2 258.6L234.2 257.6L234.2 257.1L233.2 256.1L232.7 256.1L232.2 255.7L231.7 255.7L231.2 255.2L230.2 255.2L229.7 254.7L219.7 254.7L219.2 255.2L218.2 255.2L217.7 255.7L216.7 255.7L216.2 256.1L215.2 256.1L214.7 256.6L213.7 256.6L213.2 256.1L211.7 256.1L211.2 255.7L210.7 255.7L210.2 255.2L209.2 255.2L208.7 254.7L207.7 254.7L207.2 254.2L205.7 254.2L205.2 253.7L200.7 253.7L200.2 253.2Z" fill="#1c9cf0" fill-rule="evenodd"/>
<path d="M188.7 254.7L188.2 255.2L186.7 255.2L186.2 255.7L185.2 255.7L184.7 256.1L184.2 256.1L183.7 256.6L183.2 256.6L182.7 257.1L182.2 257.1L180.2 259.1L180.2 259.6L179.2 260.6L179.2 261.1L178.7 261.6L178.7 262.6L178.2 263.1L178.2 264.1L177.7 264.6L177.7 268.6L177.2 269.1L177.2 276.6L177.7 277.1L177.7 280.6L178.2 281.1L178.2 282.6L178.7 283.1L178.7 283.6L179.2 284.1L179.2 284.6L179.7 285.1L179.7 285.6L234.7 285.6L234.7 285.1L235.2 284.6L235.2 284.1L235.7 283.6L235.7 282.1L236.2 281.6L236.2 277.6L236.7 277.1L236.7 268.1L236.2 267.6L236.2 264.1L235.7 263.6L235.7 262.1L235.2 261.6L235.2 260.6L234.7 260.1L234.7 259.6L233.7 258.6L233.7 258.1L232.7 257.1L232.2 257.1L231.7 256.6L231.2 256.6L230.7 256.1L229.2 256.1L228.7 255.7L221.2 255.7L220.7 256.1L219.2 256.1L218.7 256.6L217.7 256.6L217.2 257.1L216.7 257.1L216.2 257.6L215.7 257.6L215.2 258.1L212.7 258.1L212.2 257.6L211.7 257.6L211.2 257.1L210.7 257.1L210.2 256.6L209.7 256.6L209.2 256.1L208.2 256.1L207.7 255.7L207.2 255.7L206.7 255.2L204.7 255.2L204.2 254.7Z" fill="#20c8e0" fill-rule="evenodd"/>
<path d="M189.7 255.7L189.2 256.1L187.2 256.1L186.7 256.6L185.7 256.6L185.2 257.1L184.7 257.1L184.2 257.6L183.7 257.6L180.7 260.6L180.7 261.1L180.2 261.6L180.2 262.1L179.7 262.6L179.7 263.6L179.2 264.1L179.2 265.6L178.7 266.1L178.7 279.6L179.2 280.1L179.2 281.6L179.7 282.1L179.7 283.1L180.2 283.6L180.2 284.1L181.2 285.1L181.2 285.6L212.7 285.6L213.2 285.1L214.7 285.1L215.2 285.6L233.7 285.6L233.7 285.1L234.2 284.6L234.2 284.1L234.7 283.6L234.7 282.6L235.2 282.1L235.2 280.1L235.7 279.6L235.7 266.1L235.2 265.6L235.2 263.6L234.7 263.1L234.7 262.1L234.2 261.6L234.2 260.6L233.2 259.6L233.2 259.1L232.7 258.6L232.2 258.6L231.2 257.6L230.2 257.6L229.7 257.1L226.7 257.1L226.2 256.6L222.7 256.6L222.2 257.1L220.2 257.1L219.7 257.6L218.7 257.6L217.7 258.6L217.2 258.6L216.2 259.6L215.7 259.6L215.2 260.1L214.7 260.1L214.2 260.6L213.7 260.6L213.2 260.1L212.7 260.1L211.7 259.1L211.2 259.1L210.2 258.1L209.7 258.1L209.2 257.6L208.7 257.6L208.2 257.1L207.7 257.1L207.2 256.6L206.2 256.6L205.7 256.1L203.7 256.1L203.2 255.7Z" fill="#26e8b0" fill-rule="evenodd"/>
<path d="M191.2 257.1L190.7 257.6L188.2 257.6L187.7 258.1L186.7 258.1L186.2 258.6L185.7 258.6L184.7 259.6L184.2 259.6L182.2 261.6L182.2 262.1L181.7 262.6L181.7 263.1L181.2 263.6L181.2 264.6L180.7 265.1L180.7 267.1L180.2 267.6L180.2 277.6L180.7 278.1L180.7 280.6L181.2 281.1L181.2 281.6L181.7 282.1L181.7 283.1L183.2 284.6L183.2 285.1L183.7 285.6L209.2 285.6L211.2 283.6L211.2 283.1L212.7 281.6L212.7 281.1L213.7 280.1L214.7 280.1L215.2 280.6L215.2 281.1L216.2 282.1L216.2 282.6L217.2 283.6L217.2 284.1L218.7 285.6L231.2 285.6L231.7 285.1L232.2 285.1L232.2 284.6L233.2 283.6L233.2 283.1L233.7 282.6L233.7 281.6L234.2 281.1L234.2 278.6L234.7 278.1L234.7 267.6L234.2 267.1L234.2 264.6L233.7 264.1L233.7 263.1L233.2 262.6L233.2 262.1L232.7 261.6L232.7 261.1L231.2 259.6L230.7 259.6L230.2 259.1L229.2 259.1L228.7 258.6L221.7 258.6L221.2 259.1L220.2 259.1L219.7 259.6L219.2 259.6L216.7 262.1L216.7 262.6L215.7 263.6L215.7 264.1L214.2 265.6L213.7 265.6L212.7 264.6L212.7 264.1L211.7 263.1L211.7 262.6L208.2 259.1L207.7 259.1L207.2 258.6L206.7 258.6L206.2 258.1L205.2 258.1L204.7 257.6L202.2 257.6L201.7 257.1Z" fill="#30f070" fill-rule="evenodd"/>
<path d="M222.7 264.6L220.7 266.6L220.7 267.6L220.2 268.1L220.2 277.6L220.7 278.1L220.7 278.6L221.2 279.1L221.2 279.6L222.2 280.6L223.2 280.6L223.7 281.1L227.2 281.1L227.7 280.6L228.7 280.6L229.7 279.6L229.7 279.1L230.2 278.6L230.2 277.6L230.7 277.1L230.7 268.6L230.2 268.1L230.2 267.1L229.7 266.6L229.7 266.1L228.7 265.1L228.2 265.1L227.7 264.6ZM192.2 262.6L191.7 263.1L190.2 263.1L189.7 263.6L189.2 263.6L186.7 266.1L186.7 267.1L186.2 267.6L186.2 269.6L185.7 270.1L185.7 275.6L186.2 276.1L186.2 278.1L186.7 278.6L186.7 279.1L187.2 279.6L187.2 280.1L188.7 281.6L189.2 281.6L189.7 282.1L190.2 282.1L190.7 282.6L193.2 282.6L193.7 283.1L199.2 283.1L199.7 282.6L202.2 282.6L202.7 282.1L203.2 282.1L203.7 281.6L204.2 281.6L205.7 280.1L205.7 279.6L206.2 279.1L206.2 278.6L206.7 278.1L206.7 276.1L207.2 275.6L207.2 270.1L206.7 269.6L206.7 267.6L206.2 267.1L206.2 266.1L203.7 263.6L203.2 263.6L202.7 263.1L201.2 263.1L200.7 262.6Z" fill="#50f038" fill-rule="evenodd"/>
<path d="M224.7 269.1L224.2 269.6L223.7 269.6L223.7 270.1L223.2 270.6L223.2 274.6L223.7 275.1L223.7 275.6L224.2 276.1L226.7 276.1L227.2 275.6L227.2 275.1L227.7 274.6L227.7 270.6L227.2 270.1L227.2 269.6L226.7 269.6L226.2 269.1ZM192.7 266.6L192.2 267.1L191.7 267.1L190.7 268.1L190.7 268.6L190.2 269.1L190.2 270.6L189.7 271.1L189.7 274.6L190.2 275.1L190.2 276.6L191.2 277.6L191.2 278.1L191.7 278.1L192.2 278.6L193.2 278.6L193.7 279.1L199.2 279.1L199.7 278.6L200.7 278.6L201.2 278.1L201.7 278.1L201.7 277.6L202.7 276.6L202.7 275.1L203.2 274.6L203.2 271.1L202.7 270.6L202.7 269.1L202.2 268.6L202.2 268.1L201.2 267.1L200.7 267.1L200.2 266.6Z" fill="#80f010" fill-rule="evenodd"/>
</g>
<rect x="178.4" y="281.20" width="57" height="1.2" fill="#6a5a20" fill-opacity="0.55"/>
<path d="M178.4 225.4h1v1h-1zM178.4 234.4h1v1h-1zM178.4 239.4h1v1h-1zM178.4 241.4h1v1h-1zM178.4 243.4h1v1h-1zM178.4 244.4h1v1h-1zM178.4 246.4h1v1h-1zM179.4 233.4h1v1h-1zM179.4 234.4h1v1h-1zM179.4 241.4h1v1h-1zM179.4 243.4h1v1h-1zM179.4 244.4h1v1h-1zM179.4 245.4h1v1h-1zM180.4 209.4h1v1h-1zM180.4 213.4h1v1h-1zM180.4 216.4h1v1h-1zM180.4 222.4h1v1h-1zM180.4 236.4h1v1h-1zM180.4 240.4h1v1h-1zM180.4 241.4h1v1h-1zM180.4 244.4h1v1h-1zM180.4 245.4h1v1h-1zM180.4 246.4h1v1h-1zM181.4 238.4h1v1h-1zM181.4 239.4h1v1h-1zM181.4 240.4h1v1h-1zM181.4 241.4h1v1h-1zM181.4 243.4h1v1h-1zM181.4 246.4h1v1h-1zM182.4 206.4h1v1h-1zM182.4 222.4h1v1h-1zM182.4 239.4h1v1h-1zM182.4 240.4h1v1h-1zM182.4 242.4h1v1h-1zM182.4 243.4h1v1h-1zM182.4 245.4h1v1h-1zM183.4 220.4h1v1h-1zM183.4 226.4h1v1h-1zM183.4 232.4h1v1h-1zM183.4 239.4h1v1h-1zM183.4 241.4h1v1h-1zM183.4 242.4h1v1h-1zM183.4 243.4h1v1h-1zM183.4 245.4h1v1h-1zM183.4 246.4h1v1h-1zM184.4 217.4h1v1h-1zM184.4 220.4h1v1h-1zM184.4 227.4h1v1h-1zM184.4 229.4h1v1h-1zM184.4 230.4h1v1h-1zM184.4 231.4h1v1h-1zM184.4 232.4h1v1h-1zM184.4 234.4h1v1h-1zM184.4 238.4h1v1h-1zM184.4 240.4h1v1h-1zM184.4 241.4h1v1h-1zM184.4 243.4h1v1h-1zM184.4 244.4h1v1h-1zM184.4 245.4h1v1h-1zM185.4 216.4h1v1h-1zM185.4 219.4h1v1h-1zM185.4 228.4h1v1h-1zM185.4 230.4h1v1h-1zM185.4 236.4h1v1h-1zM185.4 237.4h1v1h-1zM185.4 238.4h1v1h-1zM185.4 239.4h1v1h-1zM185.4 240.4h1v1h-1zM185.4 241.4h1v1h-1zM185.4 242.4h1v1h-1zM185.4 244.4h1v1h-1zM186.4 225.4h1v1h-1zM186.4 226.4h1v1h-1zM186.4 232.4h1v1h-1zM186.4 236.4h1v1h-1zM186.4 239.4h1v1h-1zM186.4 240.4h1v1h-1zM186.4 241.4h1v1h-1zM186.4 242.4h1v1h-1zM186.4 243.4h1v1h-1zM187.4 196.4h1v1h-1zM187.4 233.4h1v1h-1zM187.4 234.4h1v1h-1zM187.4 236.4h1v1h-1zM187.4 237.4h1v1h-1zM187.4 239.4h1v1h-1zM187.4 240.4h1v1h-1zM187.4 241.4h1v1h-1zM187.4 243.4h1v1h-1zM187.4 244.4h1v1h-1zM187.4 245.4h1v1h-1zM188.4 230.4h1v1h-1zM188.4 232.4h1v1h-1zM188.4 234.4h1v1h-1zM188.4 239.4h1v1h-1zM188.4 241.4h1v1h-1zM188.4 242.4h1v1h-1zM188.4 243.4h1v1h-1zM188.4 244.4h1v1h-1zM188.4 245.4h1v1h-1zM189.4 225.4h1v1h-1zM189.4 234.4h1v1h-1zM189.4 235.4h1v1h-1zM189.4 236.4h1v1h-1zM189.4 238.4h1v1h-1zM189.4 240.4h1v1h-1zM189.4 242.4h1v1h-1zM189.4 243.4h1v1h-1zM189.4 244.4h1v1h-1zM189.4 246.4h1v1h-1zM190.4 228.4h1v1h-1zM190.4 231.4h1v1h-1zM190.4 233.4h1v1h-1zM190.4 238.4h1v1h-1zM190.4 239.4h1v1h-1zM190.4 240.4h1v1h-1zM190.4 241.4h1v1h-1zM190.4 242.4h1v1h-1zM190.4 243.4h1v1h-1zM191.4 221.4h1v1h-1zM191.4 224.4h1v1h-1zM191.4 230.4h1v1h-1zM191.4 235.4h1v1h-1zM191.4 236.4h1v1h-1zM191.4 240.4h1v1h-1zM191.4 241.4h1v1h-1zM191.4 242.4h1v1h-1zM191.4 243.4h1v1h-1zM191.4 244.4h1v1h-1zM191.4 245.4h1v1h-1zM191.4 246.4h1v1h-1zM192.4 221.4h1v1h-1zM192.4 227.4h1v1h-1zM192.4 228.4h1v1h-1zM192.4 230.4h1v1h-1zM192.4 231.4h1v1h-1zM192.4 232.4h1v1h-1zM192.4 233.4h1v1h-1zM192.4 235.4h1v1h-1zM192.4 236.4h1v1h-1zM192.4 238.4h1v1h-1zM192.4 239.4h1v1h-1zM192.4 240.4h1v1h-1zM192.4 241.4h1v1h-1zM192.4 242.4h1v1h-1zM192.4 243.4h1v1h-1zM192.4 244.4h1v1h-1zM193.4 225.4h1v1h-1zM193.4 231.4h1v1h-1zM193.4 235.4h1v1h-1zM193.4 239.4h1v1h-1zM193.4 241.4h1v1h-1zM193.4 242.4h1v1h-1zM193.4 243.4h1v1h-1zM193.4 244.4h1v1h-1zM194.4 223.4h1v1h-1zM194.4 232.4h1v1h-1zM194.4 236.4h1v1h-1zM194.4 237.4h1v1h-1zM194.4 239.4h1v1h-1zM194.4 240.4h1v1h-1zM194.4 241.4h1v1h-1zM194.4 242.4h1v1h-1zM194.4 243.4h1v1h-1zM194.4 244.4h1v1h-1zM194.4 245.4h1v1h-1zM195.4 208.4h1v1h-1zM195.4 211.4h1v1h-1zM195.4 219.4h1v1h-1zM195.4 222.4h1v1h-1zM195.4 224.4h1v1h-1zM195.4 228.4h1v1h-1zM195.4 230.4h1v1h-1zM195.4 231.4h1v1h-1zM195.4 235.4h1v1h-1zM195.4 236.4h1v1h-1zM195.4 237.4h1v1h-1zM195.4 238.4h1v1h-1zM195.4 241.4h1v1h-1zM195.4 242.4h1v1h-1zM195.4 243.4h1v1h-1zM195.4 244.4h1v1h-1zM195.4 245.4h1v1h-1zM196.4 203.4h1v1h-1zM196.4 224.4h1v1h-1zM196.4 227.4h1v1h-1zM196.4 233.4h1v1h-1zM196.4 234.4h1v1h-1zM196.4 236.4h1v1h-1zM196.4 239.4h1v1h-1zM196.4 240.4h1v1h-1zM196.4 243.4h1v1h-1zM196.4 244.4h1v1h-1zM196.4 246.4h1v1h-1zM197.4 210.4h1v1h-1zM197.4 220.4h1v1h-1zM197.4 232.4h1v1h-1zM197.4 234.4h1v1h-1zM197.4 236.4h1v1h-1zM197.4 243.4h1v1h-1zM197.4 245.4h1v1h-1zM198.4 199.4h1v1h-1zM198.4 203.4h1v1h-1zM198.4 204.4h1v1h-1zM198.4 229.4h1v1h-1zM198.4 234.4h1v1h-1zM198.4 238.4h1v1h-1zM198.4 240.4h1v1h-1zM198.4 241.4h1v1h-1zM198.4 243.4h1v1h-1zM198.4 244.4h1v1h-1zM198.4 245.4h1v1h-1zM199.4 218.4h1v1h-1zM199.4 229.4h1v1h-1zM199.4 232.4h1v1h-1zM199.4 241.4h1v1h-1zM199.4 244.4h1v1h-1zM200.4 214.4h1v1h-1zM200.4 232.4h1v1h-1zM200.4 233.4h1v1h-1zM200.4 234.4h1v1h-1zM200.4 238.4h1v1h-1zM200.4 240.4h1v1h-1zM200.4 241.4h1v1h-1zM200.4 242.4h1v1h-1zM201.4 226.4h1v1h-1zM201.4 232.4h1v1h-1zM201.4 237.4h1v1h-1zM201.4 238.4h1v1h-1zM201.4 241.4h1v1h-1zM201.4 242.4h1v1h-1zM201.4 243.4h1v1h-1zM201.4 244.4h1v1h-1zM202.4 210.4h1v1h-1zM202.4 232.4h1v1h-1zM202.4 235.4h1v1h-1zM202.4 238.4h1v1h-1zM202.4 239.4h1v1h-1zM202.4 242.4h1v1h-1zM202.4 243.4h1v1h-1zM202.4 245.4h1v1h-1zM202.4 246.4h1v1h-1zM203.4 200.4h1v1h-1zM203.4 230.4h1v1h-1zM203.4 241.4h1v1h-1zM203.4 243.4h1v1h-1zM203.4 244.4h1v1h-1zM204.4 219.4h1v1h-1zM204.4 224.4h1v1h-1zM204.4 231.4h1v1h-1zM204.4 238.4h1v1h-1zM204.4 240.4h1v1h-1zM204.4 242.4h1v1h-1zM204.4 245.4h1v1h-1zM205.4 213.4h1v1h-1zM205.4 223.4h1v1h-1zM205.4 230.4h1v1h-1zM205.4 234.4h1v1h-1zM205.4 236.4h1v1h-1zM205.4 237.4h1v1h-1zM205.4 241.4h1v1h-1zM205.4 242.4h1v1h-1zM205.4 243.4h1v1h-1zM205.4 244.4h1v1h-1zM205.4 246.4h1v1h-1zM206.4 221.4h1v1h-1zM206.4 229.4h1v1h-1zM206.4 233.4h1v1h-1zM206.4 237.4h1v1h-1zM206.4 239.4h1v1h-1zM206.4 244.4h1v1h-1zM207.4 222.4h1v1h-1zM207.4 226.4h1v1h-1zM207.4 229.4h1v1h-1zM207.4 235.4h1v1h-1zM207.4 239.4h1v1h-1zM207.4 240.4h1v1h-1zM207.4 241.4h1v1h-1zM207.4 244.4h1v1h-1zM208.4 233.4h1v1h-1zM208.4 240.4h1v1h-1zM208.4 242.4h1v1h-1zM208.4 243.4h1v1h-1zM208.4 244.4h1v1h-1zM208.4 245.4h1v1h-1zM208.4 246.4h1v1h-1zM209.4 198.4h1v1h-1zM209.4 224.4h1v1h-1zM209.4 235.4h1v1h-1zM209.4 237.4h1v1h-1zM209.4 240.4h1v1h-1zM209.4 243.4h1v1h-1zM209.4 244.4h1v1h-1zM210.4 230.4h1v1h-1zM210.4 235.4h1v1h-1zM210.4 239.4h1v1h-1zM210.4 241.4h1v1h-1zM210.4 242.4h1v1h-1zM210.4 243.4h1v1h-1zM210.4 244.4h1v1h-1zM210.4 245.4h1v1h-1zM211.4 237.4h1v1h-1zM211.4 239.4h1v1h-1zM211.4 241.4h1v1h-1zM211.4 242.4h1v1h-1zM211.4 243.4h1v1h-1zM211.4 245.4h1v1h-1zM211.4 246.4h1v1h-1zM212.4 226.4h1v1h-1zM212.4 228.4h1v1h-1zM212.4 232.4h1v1h-1zM212.4 234.4h1v1h-1zM212.4 236.4h1v1h-1zM212.4 237.4h1v1h-1zM212.4 239.4h1v1h-1zM212.4 243.4h1v1h-1zM212.4 244.4h1v1h-1zM212.4 245.4h1v1h-1zM212.4 246.4h1v1h-1zM213.4 236.4h1v1h-1zM213.4 241.4h1v1h-1zM213.4 242.4h1v1h-1zM213.4 243.4h1v1h-1zM213.4 244.4h1v1h-1zM214.4 196.4h1v1h-1zM214.4 218.4h1v1h-1zM214.4 222.4h1v1h-1zM214.4 238.4h1v1h-1zM214.4 240.4h1v1h-1zM214.4 241.4h1v1h-1zM214.4 244.4h1v1h-1zM214.4 246.4h1v1h-1zM214.4 247.4h1v1h-1zM215.4 227.4h1v1h-1zM215.4 233.4h1v1h-1zM215.4 234.4h1v1h-1zM215.4 236.4h1v1h-1zM215.4 240.4h1v1h-1zM215.4 243.4h1v1h-1zM215.4 244.4h1v1h-1zM215.4 245.4h1v1h-1zM216.4 204.4h1v1h-1zM216.4 213.4h1v1h-1zM216.4 219.4h1v1h-1zM216.4 222.4h1v1h-1zM216.4 231.4h1v1h-1zM216.4 234.4h1v1h-1zM216.4 237.4h1v1h-1zM216.4 238.4h1v1h-1zM216.4 239.4h1v1h-1zM216.4 241.4h1v1h-1zM216.4 242.4h1v1h-1zM216.4 243.4h1v1h-1zM216.4 244.4h1v1h-1zM216.4 246.4h1v1h-1zM216.4 247.4h1v1h-1zM217.4 228.4h1v1h-1zM217.4 238.4h1v1h-1zM217.4 239.4h1v1h-1zM217.4 241.4h1v1h-1zM217.4 242.4h1v1h-1zM217.4 244.4h1v1h-1zM217.4 245.4h1v1h-1zM217.4 246.4h1v1h-1zM218.4 212.4h1v1h-1zM218.4 215.4h1v1h-1zM218.4 221.4h1v1h-1zM218.4 231.4h1v1h-1zM218.4 232.4h1v1h-1zM218.4 236.4h1v1h-1zM218.4 237.4h1v1h-1zM218.4 241.4h1v1h-1zM218.4 242.4h1v1h-1zM218.4 243.4h1v1h-1zM218.4 244.4h1v1h-1zM218.4 245.4h1v1h-1zM218.4 246.4h1v1h-1zM219.4 227.4h1v1h-1zM219.4 232.4h1v1h-1zM219.4 233.4h1v1h-1zM219.4 234.4h1v1h-1zM219.4 235.4h1v1h-1zM219.4 236.4h1v1h-1zM219.4 237.4h1v1h-1zM219.4 238.4h1v1h-1zM219.4 239.4h1v1h-1zM219.4 241.4h1v1h-1zM219.4 244.4h1v1h-1zM219.4 245.4h1v1h-1zM219.4 246.4h1v1h-1zM220.4 230.4h1v1h-1zM220.4 234.4h1v1h-1zM220.4 235.4h1v1h-1zM220.4 237.4h1v1h-1zM220.4 239.4h1v1h-1zM220.4 240.4h1v1h-1zM220.4 241.4h1v1h-1zM220.4 242.4h1v1h-1zM220.4 243.4h1v1h-1zM220.4 244.4h1v1h-1zM220.4 245.4h1v1h-1zM220.4 246.4h1v1h-1zM221.4 212.4h1v1h-1zM221.4 231.4h1v1h-1zM221.4 235.4h1v1h-1zM221.4 236.4h1v1h-1zM221.4 237.4h1v1h-1zM221.4 243.4h1v1h-1zM221.4 244.4h1v1h-1zM221.4 246.4h1v1h-1zM222.4 225.4h1v1h-1zM222.4 226.4h1v1h-1zM222.4 227.4h1v1h-1zM222.4 228.4h1v1h-1zM222.4 229.4h1v1h-1zM222.4 230.4h1v1h-1zM222.4 234.4h1v1h-1zM222.4 235.4h1v1h-1zM222.4 236.4h1v1h-1zM222.4 239.4h1v1h-1zM222.4 240.4h1v1h-1zM222.4 241.4h1v1h-1zM222.4 243.4h1v1h-1zM222.4 244.4h1v1h-1zM222.4 245.4h1v1h-1zM223.4 204.4h1v1h-1zM223.4 222.4h1v1h-1zM223.4 227.4h1v1h-1zM223.4 228.4h1v1h-1zM223.4 233.4h1v1h-1zM223.4 235.4h1v1h-1zM223.4 237.4h1v1h-1zM223.4 238.4h1v1h-1zM223.4 240.4h1v1h-1zM223.4 243.4h1v1h-1zM223.4 244.4h1v1h-1zM223.4 245.4h1v1h-1zM223.4 246.4h1v1h-1zM224.4 209.4h1v1h-1zM224.4 227.4h1v1h-1zM224.4 230.4h1v1h-1zM224.4 232.4h1v1h-1zM224.4 234.4h1v1h-1zM224.4 235.4h1v1h-1zM224.4 236.4h1v1h-1zM224.4 239.4h1v1h-1zM224.4 240.4h1v1h-1zM224.4 241.4h1v1h-1zM224.4 242.4h1v1h-1zM224.4 243.4h1v1h-1zM224.4 244.4h1v1h-1zM224.4 245.4h1v1h-1zM225.4 207.4h1v1h-1zM225.4 217.4h1v1h-1zM225.4 219.4h1v1h-1zM225.4 220.4h1v1h-1zM225.4 224.4h1v1h-1zM225.4 231.4h1v1h-1zM225.4 233.4h1v1h-1zM225.4 235.4h1v1h-1zM225.4 238.4h1v1h-1zM225.4 240.4h1v1h-1zM225.4 241.4h1v1h-1zM225.4 242.4h1v1h-1zM225.4 244.4h1v1h-1zM225.4 246.4h1v1h-1zM226.4 211.4h1v1h-1zM226.4 221.4h1v1h-1zM226.4 225.4h1v1h-1zM226.4 232.4h1v1h-1zM226.4 233.4h1v1h-1zM226.4 235.4h1v1h-1zM226.4 237.4h1v1h-1zM226.4 239.4h1v1h-1zM226.4 240.4h1v1h-1zM226.4 241.4h1v1h-1zM226.4 243.4h1v1h-1zM226.4 244.4h1v1h-1zM226.4 245.4h1v1h-1zM227.4 229.4h1v1h-1zM227.4 230.4h1v1h-1zM227.4 237.4h1v1h-1zM227.4 238.4h1v1h-1zM227.4 239.4h1v1h-1zM227.4 242.4h1v1h-1zM227.4 243.4h1v1h-1zM227.4 245.4h1v1h-1zM228.4 224.4h1v1h-1zM228.4 228.4h1v1h-1zM228.4 234.4h1v1h-1zM228.4 235.4h1v1h-1zM228.4 237.4h1v1h-1zM228.4 242.4h1v1h-1zM228.4 243.4h1v1h-1zM228.4 244.4h1v1h-1zM228.4 245.4h1v1h-1zM229.4 230.4h1v1h-1zM229.4 232.4h1v1h-1zM229.4 234.4h1v1h-1zM229.4 239.4h1v1h-1zM229.4 243.4h1v1h-1zM229.4 244.4h1v1h-1zM229.4 245.4h1v1h-1zM229.4 246.4h1v1h-1zM230.4 225.4h1v1h-1zM230.4 227.4h1v1h-1zM230.4 232.4h1v1h-1zM230.4 233.4h1v1h-1zM230.4 234.4h1v1h-1zM230.4 236.4h1v1h-1zM230.4 239.4h1v1h-1zM230.4 240.4h1v1h-1zM230.4 241.4h1v1h-1zM230.4 242.4h1v1h-1zM230.4 243.4h1v1h-1zM230.4 244.4h1v1h-1zM230.4 245.4h1v1h-1zM231.4 219.4h1v1h-1zM231.4 238.4h1v1h-1zM231.4 240.4h1v1h-1zM231.4 241.4h1v1h-1zM231.4 242.4h1v1h-1zM231.4 243.4h1v1h-1zM231.4 244.4h1v1h-1zM231.4 245.4h1v1h-1zM231.4 246.4h1v1h-1zM232.4 226.4h1v1h-1zM232.4 235.4h1v1h-1zM232.4 243.4h1v1h-1zM232.4 244.4h1v1h-1zM232.4 245.4h1v1h-1zM232.4 246.4h1v1h-1zM233.4 226.4h1v1h-1zM233.4 230.4h1v1h-1zM233.4 234.4h1v1h-1zM233.4 243.4h1v1h-1zM233.4 244.4h1v1h-1zM233.4 245.4h1v1h-1zM233.4 246.4h1v1h-1zM233.4 247.4h1v1h-1zM234.4 202.4h1v1h-1zM234.4 234.4h1v1h-1zM234.4 235.4h1v1h-1zM234.4 241.4h1v1h-1zM234.4 242.4h1v1h-1zM234.4 244.4h1v1h-1zM234.4 245.4h1v1h-1zM234.4 246.4h1v1h-1zM235.4 213.4h1v1h-1zM235.4 223.4h1v1h-1zM235.4 226.4h1v1h-1zM235.4 229.4h1v1h-1zM235.4 233.4h1v1h-1zM235.4 240.4h1v1h-1zM235.4 241.4h1v1h-1zM235.4 242.4h1v1h-1zM235.4 243.4h1v1h-1zM235.4 244.4h1v1h-1zM235.4 246.4h1v1h-1zM236.4 227.4h1v1h-1zM236.4 237.4h1v1h-1zM236.4 238.4h1v1h-1zM236.4 239.4h1v1h-1zM236.4 241.4h1v1h-1zM236.4 242.4h1v1h-1zM236.4 244.4h1v1h-1zM236.4 248.4h1v1h-1zM237.4 216.4h1v1h-1zM237.4 231.4h1v1h-1zM237.4 237.4h1v1h-1zM237.4 238.4h1v1h-1zM237.4 241.4h1v1h-1zM237.4 244.4h1v1h-1zM237.4 245.4h1v1h-1zM237.4 246.4h1v1h-1zM238.4 239.4h1v1h-1zM238.4 241.4h1v1h-1zM238.4 243.4h1v1h-1zM238.4 245.4h1v1h-1zM238.4 246.4h1v1h-1zM239.4 221.4h1v1h-1zM239.4 223.4h1v1h-1zM239.4 228.4h1v1h-1zM239.4 236.4h1v1h-1zM239.4 237.4h1v1h-1zM239.4 242.4h1v1h-1zM239.4 243.4h1v1h-1zM239.4 245.4h1v1h-1zM239.4 246.4h1v1h-1zM239.4 252.4h1v1h-1zM240.4 234.4h1v1h-1zM240.4 239.4h1v1h-1zM240.4 242.4h1v1h-1zM240.4 243.4h1v1h-1zM240.4 245.4h1v1h-1zM240.4 246.4h1v1h-1zM241.4 244.4h1v1h-1zM242.4 224.4h1v1h-1zM242.4 233.4h1v1h-1zM243.4 243.4h1v1h-1zM243.4 245.4h1v1h-1zM243.4 246.4h1v1h-1zM243.4 263.4h1v1h-1zM244.4 233.4h1v1h-1zM245.4 260.4h1v1h-1zM245.4 274.4h1v1h-1zM249.4 224.4h1v1h-1zM250.4 237.4h1v1h-1zM264.4 249.4h1v1h-1z" fill="#0a0a80"/>
</g>
<path d="M210.70 180.40V282.80M178.40 240.80H279.30" stroke="#8c8c8c" stroke-width="1" fill="none"/>
<rect x="178.40" y="180.40" width="100.90" height="102.40" fill="none" stroke="#8a8a8a" stroke-width="1.1"/>
<text x="180.40" y="190.40" font-size="10.8">0.07</text>
<text x="278.70" y="190.40" font-size="10.8" text-anchor="end">0.05</text>
<text x="179.00" y="297.90" font-size="10.3" text-anchor="middle">10<tspan font-size="7" dy="-6">0</tspan></text>
<text x="204.22" y="297.90" font-size="10.3" text-anchor="middle">10<tspan font-size="7" dy="-6">1</tspan></text>
<text x="229.45" y="297.90" font-size="10.3" text-anchor="middle">10<tspan font-size="7" dy="-6">2</tspan></text>
<text x="254.68" y="297.90" font-size="10.3" text-anchor="middle">10<tspan font-size="7" dy="-6">3</tspan></text>
<text x="279.90" y="297.90" font-size="10.3" text-anchor="middle">10<tspan font-size="7" dy="-6">4</tspan></text>
<text x="174.20" y="287.10" font-size="10.3" text-anchor="end">10<tspan font-size="7" dy="-6">0</tspan></text>
<text x="174.20" y="261.50" font-size="10.3" text-anchor="end">10<tspan font-size="7" dy="-6">1</tspan></text>
<text x="174.20" y="235.90" font-size="10.3" text-anchor="end">10<tspan font-size="7" dy="-6">2</tspan></text>
<text x="174.20" y="210.30" font-size="10.3" text-anchor="end">10<tspan font-size="7" dy="-6">3</tspan></text>
<text x="174.20" y="184.70" font-size="10.3" text-anchor="end">10<tspan font-size="7" dy="-6">4</tspan></text>
<clipPath id="c12"><rect x="332.20" y="180.40" width="100.90" height="102.40"/></clipPath>
<g clip-path="url(#c12)">
<path d="M342.2 242.4h1v1h-1zM359.2 243.4h1v1h-1zM341.2 244.4h3v1h-3zM345.2 244.4h4v1h-4zM350.2 244.4h1v1h-1zM332.2 245.4h1v1h-1zM335.2 245.4h2v1h-2zM338.2 245.4h8v1h-8zM347.2 245.4h1v1h-1zM349.2 245.4h4v1h-4zM354.2 245.4h2v1h-2zM332.2 246.4h3v1h-3zM337.2 246.4h18v1h-18zM358.2 246.4h1v1h-1zM360.2 246.4h1v1h-1zM332.2 247.4h23v1h-23zM356.2 247.4h2v1h-2zM359.2 247.4h3v1h-3zM374.2 247.4h1v1h-1zM376.2 247.4h1v1h-1zM379.2 247.4h2v1h-2zM332.2 248.4h28v1h-28zM361.2 248.4h1v1h-1zM369.2 248.4h1v1h-1zM371.2 248.4h1v1h-1zM373.2 248.4h1v1h-1zM375.2 248.4h8v1h-8zM384.2 248.4h3v1h-3zM332.2 249.4h29v1h-29zM362.2 249.4h1v1h-1zM367.2 249.4h1v1h-1zM369.2 249.4h4v1h-4zM375.2 249.4h11v1h-11zM387.2 249.4h1v1h-1zM332.2 250.4h33v1h-33zM366.2 250.4h4v1h-4zM371.2 250.4h12v1h-12zM384.2 250.4h2v1h-2zM387.2 250.4h3v1h-3zM332.2 251.4h31v1h-31zM364.2 251.4h3v1h-3zM368.2 251.4h23v1h-23zM332.2 252.4h59v1h-59zM332.2 253.4h59v1h-59zM332.2 254.4h59v1h-59zM392.2 254.4h1v1h-1zM332.2 255.4h60v1h-60zM393.2 255.4h1v1h-1zM332.2 256.4h61v1h-61zM332.2 257.4h62v1h-62zM332.2 258.4h62v1h-62zM332.2 259.4h62v1h-62zM332.2 260.4h62v1h-62zM332.2 261.4h63v1h-63zM332.2 262.4h62v1h-62zM332.2 263.4h63v1h-63zM332.2 264.4h62v1h-62zM332.2 265.4h61v1h-61zM394.2 265.4h1v1h-1zM332.2 266.4h61v1h-61zM394.2 266.4h1v1h-1zM398.2 266.4h1v1h-1zM332.2 267.4h63v1h-63zM332.2 268.4h63v1h-63zM332.2 269.4h63v1h-63zM332.2 270.4h63v1h-63zM332.2 271.4h63v1h-63zM332.2 272.4h61v1h-61zM394.2 272.4h1v1h-1zM332.2 273.4h62v1h-62zM332.2 274.4h61v1h-61zM394.2 274.4h1v1h-1zM332.2 275.4h63v1h-63zM332.2 276.4h63v1h-63zM332.2 277.4h62v1h-62zM332.2 278.4h63v1h-63zM332.2 279.4h62v1h-62zM396.2 279.4h1v1h-1zM332.2 280.4h62v1h-62zM332.2 281.4h63v1h-63z" fill="#0c0c8a"/>
<g filter="url(#bl)">
<path d="M339.4 250.7L338.9 251.2L335.4 251.2L334.9 251.7L333.9 251.7L333.4 252.2L332.4 252.2L331.9 252.7L331.4 252.7L330.9 253.2L330.4 253.2L329.4 254.2L329.4 285.6L391.4 285.6L391.4 284.6L391.9 284.1L391.9 281.6L392.4 281.1L392.4 264.1L391.9 263.6L391.9 261.1L391.4 260.6L391.4 259.6L390.9 259.1L390.9 258.1L390.4 257.6L390.4 257.1L389.9 256.6L389.9 256.1L386.9 253.2L386.4 253.2L385.9 252.7L385.4 252.7L384.9 252.2L383.4 252.2L382.9 251.7L373.4 251.7L372.9 252.2L371.4 252.2L370.9 252.7L370.4 252.7L369.9 253.2L369.4 253.2L368.9 253.7L368.4 253.7L367.9 254.2L367.4 254.2L366.4 255.2L365.9 255.2L364.9 256.1L364.4 256.1L363.9 256.6L361.9 256.6L359.9 254.7L359.4 254.7L357.9 253.2L357.4 253.2L356.9 252.7L356.4 252.7L355.9 252.2L354.9 252.2L354.4 251.7L353.4 251.7L352.9 251.2L349.4 251.2L348.9 250.7Z" fill="#0a1cc4" fill-rule="evenodd"/>
<path d="M339.9 252.7L339.4 253.2L336.4 253.2L335.9 253.7L334.4 253.7L333.9 254.2L333.4 254.2L332.9 254.7L332.4 254.7L331.9 255.2L331.4 255.2L330.4 256.1L329.9 256.1L329.4 256.6L329.4 285.6L390.4 285.6L390.4 285.1L390.9 284.6L390.9 282.6L391.4 282.1L391.4 263.6L390.9 263.1L390.9 261.1L390.4 260.6L390.4 259.6L389.9 259.1L389.9 258.6L389.4 258.1L389.4 257.6L388.9 257.1L388.9 256.6L386.9 254.7L386.4 254.7L385.4 253.7L384.4 253.7L383.9 253.2L381.4 253.2L380.9 252.7L375.4 252.7L374.9 253.2L372.4 253.2L371.9 253.7L370.9 253.7L370.4 254.2L369.9 254.2L368.9 255.2L368.4 255.2L365.9 257.6L365.9 258.1L363.9 260.1L362.4 260.1L361.9 259.6L361.4 259.6L359.9 258.1L359.9 257.6L358.4 256.1L357.9 256.1L356.9 255.2L356.4 255.2L355.9 254.7L355.4 254.7L354.9 254.2L354.4 254.2L353.9 253.7L352.4 253.7L351.9 253.2L348.9 253.2L348.4 252.7Z" fill="#0c3cec" fill-rule="evenodd"/>
<path d="M372.9 254.2L372.4 254.7L371.4 254.7L370.9 255.2L370.4 255.2L369.4 256.1L368.9 256.1L367.4 257.6L367.4 258.1L366.4 259.1L366.4 259.6L365.9 260.1L365.9 260.6L365.4 261.1L365.4 262.1L364.9 262.6L364.9 263.1L364.4 263.6L364.4 264.6L363.4 265.6L362.9 265.6L361.9 264.6L361.9 264.1L360.9 263.1L360.9 262.6L360.4 262.1L360.4 261.6L359.4 260.6L359.4 260.1L357.9 258.6L357.9 258.1L357.4 258.1L355.9 256.6L355.4 256.6L354.9 256.1L354.4 256.1L353.9 255.7L352.9 255.7L352.4 255.2L350.9 255.2L350.4 254.7L337.9 254.7L337.4 255.2L335.9 255.2L335.4 255.7L334.4 255.7L333.9 256.1L333.4 256.1L332.9 256.6L332.4 256.6L329.4 259.6L329.4 285.6L362.4 285.6L362.9 285.1L362.9 284.6L363.9 283.6L365.4 285.1L365.4 285.6L389.4 285.6L389.4 285.1L389.9 284.6L389.9 283.6L390.4 283.1L390.4 280.6L390.9 280.1L390.9 265.6L390.4 265.1L390.4 262.6L389.9 262.1L389.9 260.6L389.4 260.1L389.4 259.6L388.9 259.1L388.9 258.6L388.4 258.1L388.4 257.6L385.9 255.2L385.4 255.2L384.9 254.7L383.9 254.7L383.4 254.2Z" fill="#1468f4" fill-rule="evenodd"/>
<path d="M338.9 256.6L338.4 257.1L336.4 257.1L335.9 257.6L335.4 257.6L334.9 258.1L334.4 258.1L333.9 258.6L333.4 258.6L332.4 259.6L331.9 259.6L331.4 260.1L331.4 260.6L330.4 261.6L330.4 262.1L329.9 262.6L329.9 263.1L329.4 263.6L329.4 285.6L359.9 285.6L359.9 285.1L360.4 284.6L360.4 280.1L360.9 279.6L360.9 272.6L360.4 272.1L360.4 268.1L359.9 267.6L359.9 266.1L359.4 265.6L359.4 264.6L358.9 264.1L358.9 263.6L358.4 263.1L358.4 262.6L357.9 262.1L357.9 261.6L356.9 260.6L356.9 260.1L356.4 259.6L355.9 259.6L354.9 258.6L354.4 258.6L353.9 258.1L353.4 258.1L352.9 257.6L352.4 257.6L351.9 257.1L349.9 257.1L349.4 256.6ZM373.9 255.2L373.4 255.7L372.4 255.7L371.9 256.1L371.4 256.1L370.9 256.6L370.4 256.6L367.9 259.1L367.9 259.6L367.4 260.1L367.4 260.6L366.9 261.1L366.9 262.1L366.4 262.6L366.4 264.1L365.9 264.6L365.9 267.6L365.4 268.1L365.4 278.6L365.9 279.1L365.9 281.6L366.4 282.1L366.4 283.6L366.9 284.1L366.9 284.6L367.4 285.1L367.4 285.6L388.4 285.6L388.4 285.1L388.9 284.6L388.9 283.6L389.4 283.1L389.4 281.6L389.9 281.1L389.9 264.6L389.4 264.1L389.4 262.1L388.9 261.6L388.9 260.6L388.4 260.1L388.4 259.6L387.4 258.6L387.4 258.1L385.9 256.6L385.4 256.6L384.9 256.1L384.4 256.1L383.9 255.7L382.9 255.7L382.4 255.2Z" fill="#1c9cf0" fill-rule="evenodd"/>
<path d="M338.4 258.6L337.9 259.1L336.4 259.1L335.9 259.6L335.4 259.6L334.9 260.1L334.4 260.1L331.4 263.1L331.4 263.6L330.9 264.1L330.9 265.1L330.4 265.6L330.4 266.6L329.9 267.1L329.9 269.1L329.4 269.6L329.4 284.1L329.9 284.6L329.9 285.6L358.4 285.6L358.4 284.6L358.9 284.1L358.9 269.6L358.4 269.1L358.4 267.1L357.9 266.6L357.9 265.6L357.4 265.1L357.4 264.1L356.9 263.6L356.9 263.1L353.9 260.1L353.4 260.1L352.9 259.6L352.4 259.6L351.9 259.1L350.4 259.1L349.9 258.6ZM374.4 256.1L373.9 256.6L372.9 256.6L372.4 257.1L371.9 257.1L371.4 257.6L370.9 257.6L368.9 259.6L368.9 260.1L368.4 260.6L368.4 261.1L367.9 261.6L367.9 262.1L367.4 262.6L367.4 264.1L366.9 264.6L366.9 268.1L366.4 268.6L366.4 277.1L366.9 277.6L366.9 281.1L367.4 281.6L367.4 283.1L367.9 283.6L367.9 284.1L368.4 284.6L368.4 285.1L368.9 285.6L387.4 285.6L387.4 285.1L387.9 284.6L387.9 284.1L388.4 283.6L388.4 282.6L388.9 282.1L388.9 279.6L389.4 279.1L389.4 266.6L388.9 266.1L388.9 263.6L388.4 263.1L388.4 262.1L387.9 261.6L387.9 260.6L387.4 260.1L387.4 259.6L385.4 257.6L384.9 257.6L384.4 257.1L383.9 257.1L383.4 256.6L382.4 256.6L381.9 256.1Z" fill="#20c8e0" fill-rule="evenodd"/>
<path d="M338.4 260.6L337.9 261.1L336.9 261.1L336.4 261.6L335.9 261.6L334.9 262.6L334.4 262.6L333.4 263.6L333.4 264.1L332.4 265.1L332.4 266.1L331.9 266.6L331.9 267.6L331.4 268.1L331.4 270.1L330.9 270.6L330.9 283.1L331.4 283.6L331.4 285.6L356.9 285.6L356.9 283.6L357.4 283.1L357.4 270.6L356.9 270.1L356.9 268.1L356.4 267.6L356.4 266.6L355.9 266.1L355.9 265.1L354.9 264.1L354.9 263.6L353.9 262.6L353.4 262.6L352.4 261.6L351.9 261.6L351.4 261.1L350.4 261.1L349.9 260.6ZM375.4 257.1L374.9 257.6L373.4 257.6L372.9 258.1L371.9 258.1L369.4 260.6L369.4 261.1L368.9 261.6L368.9 262.1L368.4 262.6L368.4 264.1L367.9 264.6L367.9 267.1L367.4 267.6L367.4 278.1L367.9 278.6L367.9 281.1L368.4 281.6L368.4 283.1L368.9 283.6L368.9 284.1L369.4 284.6L369.4 285.1L369.9 285.6L386.4 285.6L386.4 285.1L386.9 284.6L386.9 284.1L387.4 283.6L387.4 283.1L387.9 282.6L387.9 281.1L388.4 280.6L388.4 265.1L387.9 264.6L387.9 263.1L387.4 262.6L387.4 261.6L386.4 260.6L386.4 260.1L384.9 258.6L384.4 258.6L383.9 258.1L383.4 258.1L382.9 257.6L381.4 257.6L380.9 257.1Z" fill="#26e8b0" fill-rule="evenodd"/>
<path d="M342.4 263.1L341.9 263.6L338.9 263.6L338.4 264.1L337.9 264.1L337.4 264.6L336.9 264.6L334.9 266.6L334.9 267.1L334.4 267.6L334.4 268.1L333.9 268.6L333.9 270.1L333.4 270.6L333.4 282.6L333.9 283.1L333.9 284.6L334.4 285.1L334.4 285.6L353.9 285.6L353.9 285.1L354.4 284.6L354.4 283.1L354.9 282.6L354.9 270.6L354.4 270.1L354.4 268.6L353.9 268.1L353.9 267.6L353.4 267.1L353.4 266.6L351.4 264.6L350.9 264.6L350.4 264.1L349.9 264.1L349.4 263.6L346.4 263.6L345.9 263.1ZM373.9 259.1L373.4 259.6L372.9 259.6L372.4 260.1L371.9 260.1L370.9 261.1L370.9 261.6L369.9 262.6L369.9 263.6L369.4 264.1L369.4 265.1L368.9 265.6L368.9 279.6L369.4 280.1L369.4 281.6L369.9 282.1L369.9 282.6L370.4 283.1L370.4 283.6L372.4 285.6L383.9 285.6L385.9 283.6L385.9 283.1L386.4 282.6L386.4 282.1L386.9 281.6L386.9 279.6L387.4 279.1L387.4 266.1L386.9 265.6L386.9 264.1L386.4 263.6L386.4 262.6L385.4 261.6L385.4 261.1L384.4 260.1L383.9 260.1L383.4 259.6L382.9 259.6L382.4 259.1Z" fill="#30f070" fill-rule="evenodd"/>
<path d="M376.9 264.1L376.4 264.6L374.9 264.6L373.4 266.1L373.4 266.6L372.9 267.1L372.9 268.6L372.4 269.1L372.4 276.1L372.9 276.6L372.9 278.1L373.4 278.6L373.4 279.1L373.9 279.6L373.9 280.1L374.4 280.6L374.9 280.6L375.4 281.1L380.9 281.1L381.4 280.6L381.9 280.6L382.4 280.1L382.4 279.6L382.9 279.1L382.9 278.6L383.4 278.1L383.4 276.6L383.9 276.1L383.9 269.1L383.4 268.6L383.4 267.1L382.9 266.6L382.9 266.1L381.4 264.6L379.9 264.6L379.4 264.1Z" fill="#50f038" fill-rule="evenodd"/>
<path d="M376.4 268.6L375.9 269.1L375.9 269.6L375.4 270.1L375.4 275.6L375.9 276.1L375.9 276.6L376.4 276.6L376.9 277.1L379.4 277.1L379.9 276.6L380.4 276.6L380.4 276.1L380.9 275.6L380.9 270.1L380.4 269.6L380.4 269.1L379.9 268.6Z" fill="#80f010" fill-rule="evenodd"/>
</g>
<rect x="332.2" y="281.20" width="56" height="1.2" fill="#6a5a20" fill-opacity="0.55"/>
<path d="M333.2 240.4h1v1h-1zM335.2 242.4h1v1h-1zM338.2 242.4h1v1h-1zM345.2 242.4h1v1h-1zM346.2 243.4h1v1h-1zM347.2 242.4h1v1h-1zM350.2 228.4h1v1h-1zM351.2 238.4h1v1h-1zM360.2 242.4h1v1h-1zM361.2 225.4h1v1h-1zM362.2 242.4h1v1h-1zM362.2 247.4h1v1h-1zM363.2 248.4h1v1h-1zM364.2 242.4h1v1h-1zM365.2 246.4h1v1h-1zM366.2 247.4h1v1h-1zM367.2 248.4h1v1h-1zM369.2 243.4h1v1h-1zM369.2 247.4h1v1h-1zM373.2 241.4h1v1h-1zM377.2 247.4h1v1h-1zM378.2 245.4h1v1h-1zM379.2 242.4h1v1h-1zM380.2 244.4h1v1h-1zM381.2 246.4h1v1h-1zM382.2 244.4h1v1h-1zM384.2 246.4h1v1h-1zM387.2 248.4h1v1h-1zM388.2 244.4h1v1h-1zM392.2 251.4h1v1h-1zM393.2 254.4h1v1h-1zM395.2 269.4h1v1h-1zM396.2 256.4h1v1h-1zM397.2 244.4h1v1h-1zM399.2 266.4h1v1h-1zM401.2 251.4h1v1h-1zM406.2 251.4h1v1h-1z" fill="#0a0a80"/>
</g>
<path d="M364.50 180.40V282.80M332.20 240.80H433.10" stroke="#8c8c8c" stroke-width="1" fill="none"/>
<rect x="332.20" y="180.40" width="100.90" height="102.40" fill="none" stroke="#8a8a8a" stroke-width="1.1"/>
<text x="334.20" y="190.40" font-size="10.8">0.00</text>
<text x="432.50" y="190.40" font-size="10.8" text-anchor="end">0.00</text>
<text x="332.80" y="297.90" font-size="10.3" text-anchor="middle">10<tspan font-size="7" dy="-6">0</tspan></text>
<text x="358.03" y="297.90" font-size="10.3" text-anchor="middle">10<tspan font-size="7" dy="-6">1</tspan></text>
<text x="383.25" y="297.90" font-size="10.3" text-anchor="middle">10<tspan font-size="7" dy="-6">2</tspan></text>
<text x="408.48" y="297.90" font-size="10.3" text-anchor="middle">10<tspan font-size="7" dy="-6">3</tspan></text>
<text x="433.70" y="297.90" font-size="10.3" text-anchor="middle">10<tspan font-size="7" dy="-6">4</tspan></text>
<text x="328.00" y="287.10" font-size="10.3" text-anchor="end">10<tspan font-size="7" dy="-6">0</tspan></text>
<text x="328.00" y="261.50" font-size="10.3" text-anchor="end">10<tspan font-size="7" dy="-6">1</tspan></text>
<text x="328.00" y="235.90" font-size="10.3" text-anchor="end">10<tspan font-size="7" dy="-6">2</tspan></text>
<text x="328.00" y="210.30" font-size="10.3" text-anchor="end">10<tspan font-size="7" dy="-6">3</tspan></text>
<text x="328.00" y="184.70" font-size="10.3" text-anchor="end">10<tspan font-size="7" dy="-6">4</tspan></text>
<clipPath id="c13"><rect x="455.40" y="180.40" width="100.90" height="102.40"/></clipPath>
<g clip-path="url(#c13)">
<path d="M505.4 245.4h1v1h-1zM490.4 246.4h1v1h-1zM497.4 246.4h8v1h-8zM507.4 246.4h1v1h-1zM494.4 247.4h5v1h-5zM502.4 247.4h1v1h-1zM504.4 247.4h1v1h-1zM506.4 247.4h4v1h-4zM511.4 247.4h1v1h-1zM490.4 248.4h7v1h-7zM499.4 248.4h6v1h-6zM506.4 248.4h6v1h-6zM489.4 249.4h5v1h-5zM495.4 249.4h17v1h-17zM514.4 249.4h1v1h-1zM488.4 250.4h26v1h-26zM487.4 251.4h29v1h-29zM474.4 252.4h1v1h-1zM486.4 252.4h1v1h-1zM488.4 252.4h27v1h-27zM459.4 253.4h4v1h-4zM467.4 253.4h1v1h-1zM469.4 253.4h1v1h-1zM473.4 253.4h1v1h-1zM478.4 253.4h2v1h-2zM481.4 253.4h1v1h-1zM483.4 253.4h1v1h-1zM485.4 253.4h31v1h-31zM455.4 254.4h2v1h-2zM459.4 254.4h4v1h-4zM464.4 254.4h6v1h-6zM473.4 254.4h4v1h-4zM479.4 254.4h2v1h-2zM483.4 254.4h1v1h-1zM486.4 254.4h29v1h-29zM516.4 254.4h1v1h-1zM455.4 255.4h61v1h-61zM455.4 256.4h1v1h-1zM457.4 256.4h59v1h-59zM517.4 256.4h1v1h-1zM455.4 257.4h63v1h-63zM455.4 258.4h61v1h-61zM455.4 259.4h62v1h-62zM518.4 259.4h1v1h-1zM455.4 260.4h61v1h-61zM517.4 260.4h1v1h-1zM455.4 261.4h64v1h-64zM455.4 262.4h63v1h-63zM455.4 263.4h63v1h-63zM455.4 264.4h63v1h-63zM455.4 265.4h64v1h-64zM455.4 266.4h62v1h-62zM518.4 266.4h1v1h-1zM455.4 267.4h65v1h-65zM455.4 268.4h64v1h-64zM455.4 269.4h63v1h-63zM455.4 270.4h62v1h-62zM455.4 271.4h63v1h-63zM455.4 272.4h64v1h-64zM455.4 273.4h63v1h-63zM455.4 274.4h62v1h-62zM518.4 274.4h1v1h-1zM455.4 275.4h60v1h-60zM516.4 275.4h3v1h-3zM455.4 276.4h64v1h-64zM520.4 276.4h1v1h-1zM455.4 277.4h64v1h-64zM455.4 278.4h63v1h-63zM455.4 279.4h62v1h-62zM518.4 279.4h1v1h-1zM455.4 280.4h64v1h-64zM455.4 281.4h64v1h-64z" fill="#0c0c8a"/>
<g filter="url(#bl)">
<path d="M496.6 250.7L496.1 251.2L494.6 251.2L494.1 251.7L493.1 251.7L492.6 252.2L492.1 252.2L488.1 256.1L487.6 256.1L487.6 256.6L485.6 258.6L485.1 258.6L484.6 259.1L484.1 259.1L483.6 259.6L482.6 259.6L482.1 259.1L480.1 259.1L479.6 258.6L476.1 258.6L475.6 258.1L459.1 258.1L458.6 258.6L455.1 258.6L454.6 259.1L453.1 259.1L452.6 259.6L452.6 285.6L515.6 285.6L515.6 284.6L516.1 284.1L516.1 281.1L516.6 280.6L516.6 265.1L516.1 264.6L516.1 261.6L515.6 261.1L515.6 259.6L515.1 259.1L515.1 258.1L514.6 257.6L514.6 256.6L513.6 255.7L513.6 255.2L510.6 252.2L510.1 252.2L509.6 251.7L508.6 251.7L508.1 251.2L506.6 251.2L506.1 250.7Z" fill="#0a1cc4" fill-rule="evenodd"/>
<path d="M495.6 252.2L495.1 252.7L494.1 252.7L493.6 253.2L493.1 253.2L492.6 253.7L492.1 253.7L488.1 257.6L488.1 258.1L487.1 259.1L487.1 259.6L485.6 261.1L484.1 261.1L483.6 261.6L483.1 261.6L482.6 261.1L481.1 261.1L480.6 260.6L479.1 260.6L478.6 260.1L475.6 260.1L475.1 259.6L459.6 259.6L459.1 260.1L456.1 260.1L455.6 260.6L454.1 260.6L453.6 261.1L452.6 261.1L452.6 284.1L453.1 284.6L454.1 284.6L454.6 285.1L456.6 285.1L457.1 285.6L477.6 285.6L478.1 285.1L480.1 285.1L480.6 284.6L481.6 284.6L482.1 284.1L484.6 284.1L485.1 284.6L485.6 284.6L486.6 285.6L514.6 285.6L514.6 284.6L515.1 284.1L515.1 282.1L515.6 281.6L515.6 264.1L515.1 263.6L515.1 261.1L514.6 260.6L514.6 259.6L514.1 259.1L514.1 258.1L513.6 257.6L513.6 257.1L512.6 256.1L512.6 255.7L510.6 253.7L510.1 253.7L509.6 253.2L509.1 253.2L508.6 252.7L507.6 252.7L507.1 252.2Z" fill="#0c3cec" fill-rule="evenodd"/>
<path d="M496.1 253.2L495.6 253.7L494.6 253.7L494.1 254.2L493.6 254.2L493.1 254.7L492.6 254.7L489.6 257.6L489.6 258.1L488.6 259.1L488.6 259.6L488.1 260.1L488.1 260.6L487.1 261.6L487.1 262.1L485.6 263.6L483.1 263.6L482.6 263.1L481.6 263.1L481.1 262.6L480.6 262.6L480.1 262.1L479.1 262.1L478.6 261.6L476.6 261.6L476.1 261.1L458.6 261.1L458.1 261.6L456.1 261.6L455.6 262.1L454.6 262.1L454.1 262.6L453.6 262.6L453.1 263.1L452.6 263.1L452.6 282.1L453.1 282.6L453.6 282.6L454.1 283.1L454.6 283.1L455.1 283.6L456.6 283.6L457.1 284.1L460.1 284.1L460.6 284.6L474.1 284.6L474.6 284.1L477.6 284.1L478.1 283.6L479.6 283.6L480.1 283.1L480.6 283.1L481.1 282.6L482.1 282.6L482.6 282.1L483.6 282.1L484.1 281.6L485.1 281.6L487.6 284.1L487.6 284.6L488.1 285.1L488.1 285.6L513.6 285.6L513.6 285.1L514.1 284.6L514.1 283.1L514.6 282.6L514.6 279.1L515.1 278.6L515.1 267.1L514.6 266.6L514.6 263.1L514.1 262.6L514.1 260.6L513.6 260.1L513.6 259.6L513.1 259.1L513.1 258.1L512.1 257.1L512.1 256.6L510.1 254.7L509.6 254.7L509.1 254.2L508.6 254.2L508.1 253.7L507.1 253.7L506.6 253.2Z" fill="#1468f4" fill-rule="evenodd"/>
<path d="M497.6 254.2L497.1 254.7L495.6 254.7L495.1 255.2L494.1 255.2L493.1 256.1L492.6 256.1L490.6 258.1L490.6 258.6L490.1 259.1L490.1 259.6L489.6 260.1L489.6 260.6L489.1 261.1L489.1 261.6L488.6 262.1L488.6 263.1L488.1 263.6L488.1 264.1L487.6 264.6L487.6 265.6L487.1 266.1L487.1 267.6L486.6 268.1L486.6 268.6L486.1 269.1L486.1 269.6L485.6 270.1L485.1 270.1L484.6 269.6L484.6 269.1L484.1 268.6L484.1 268.1L480.6 264.6L480.1 264.6L479.6 264.1L479.1 264.1L478.6 263.6L477.6 263.6L477.1 263.1L475.1 263.1L474.6 262.6L460.1 262.6L459.6 263.1L457.6 263.1L457.1 263.6L456.1 263.6L455.6 264.1L455.1 264.1L454.6 264.6L454.1 264.6L452.6 266.1L452.6 279.6L453.6 280.6L454.1 280.6L454.6 281.1L455.1 281.1L455.6 281.6L456.1 281.6L456.6 282.1L457.6 282.1L458.1 282.6L461.1 282.6L461.6 283.1L473.1 283.1L473.6 282.6L476.6 282.6L477.1 282.1L478.1 282.1L478.6 281.6L479.1 281.6L479.6 281.1L480.1 281.1L480.6 280.6L481.1 280.6L484.1 277.6L484.1 277.1L484.6 276.6L484.6 276.1L485.6 275.1L486.1 275.6L486.1 276.1L486.6 276.6L486.6 277.6L487.1 278.1L487.1 279.1L487.6 279.6L487.6 280.6L488.1 281.1L488.1 282.1L488.6 282.6L488.6 283.6L489.1 284.1L489.1 284.6L489.6 285.1L489.6 285.6L512.6 285.6L512.6 285.1L513.1 284.6L513.1 283.6L513.6 283.1L513.6 280.6L514.1 280.1L514.1 265.6L513.6 265.1L513.6 262.6L513.1 262.1L513.1 261.1L512.6 260.6L512.6 259.6L512.1 259.1L512.1 258.6L511.1 257.6L511.1 257.1L510.1 256.1L509.6 256.1L508.6 255.2L507.6 255.2L507.1 254.7L505.6 254.7L505.1 254.2Z" fill="#1c9cf0" fill-rule="evenodd"/>
<path d="M460.1 264.1L459.6 264.6L458.1 264.6L457.6 265.1L457.1 265.1L456.6 265.6L456.1 265.6L454.1 267.6L454.1 268.1L453.6 268.6L453.6 270.1L453.1 270.6L453.1 274.6L453.6 275.1L453.6 277.1L454.1 277.6L454.1 278.1L455.6 279.6L456.1 279.6L456.6 280.1L457.1 280.1L457.6 280.6L458.6 280.6L459.1 281.1L461.1 281.1L461.6 281.6L473.1 281.6L473.6 281.1L475.6 281.1L476.1 280.6L477.1 280.6L477.6 280.1L478.1 280.1L478.6 279.6L479.1 279.6L480.6 278.1L480.6 277.6L481.1 277.1L481.1 275.6L481.6 275.1L481.6 270.1L481.1 269.6L481.1 268.6L480.6 268.1L480.6 267.6L478.6 265.6L478.1 265.6L477.6 265.1L477.1 265.1L476.6 264.6L475.1 264.6L474.6 264.1ZM498.6 255.2L498.1 255.7L496.1 255.7L495.6 256.1L494.6 256.1L493.6 257.1L493.1 257.1L491.1 259.1L491.1 259.6L490.6 260.1L490.6 260.6L490.1 261.1L490.1 262.1L489.6 262.6L489.6 263.6L489.1 264.1L489.1 265.6L488.6 266.1L488.6 279.1L489.1 279.6L489.1 281.6L489.6 282.1L489.6 283.1L490.1 283.6L490.1 284.1L490.6 284.6L490.6 285.1L491.1 285.6L511.6 285.6L511.6 285.1L512.1 284.6L512.1 284.1L512.6 283.6L512.6 282.1L513.1 281.6L513.1 276.6L513.6 276.1L513.6 269.6L513.1 269.1L513.1 264.1L512.6 263.6L512.6 262.1L512.1 261.6L512.1 260.6L511.6 260.1L511.6 259.6L510.6 258.6L510.6 258.1L509.6 257.1L509.1 257.1L508.1 256.1L507.1 256.1L506.6 255.7L504.6 255.7L504.1 255.2Z" fill="#20c8e0" fill-rule="evenodd"/>
<path d="M461.6 265.6L461.1 266.1L459.6 266.1L459.1 266.6L458.6 266.6L458.1 267.1L457.6 267.1L456.6 268.1L456.6 268.6L456.1 269.1L456.1 270.6L455.6 271.1L455.6 274.6L456.1 275.1L456.1 276.6L458.1 278.6L458.6 278.6L459.1 279.1L459.6 279.1L460.1 279.6L462.6 279.6L463.1 280.1L471.6 280.1L472.1 279.6L474.6 279.6L475.1 279.1L475.6 279.1L476.1 278.6L476.6 278.6L478.6 276.6L478.6 275.1L479.1 274.6L479.1 271.1L478.6 270.6L478.6 269.1L478.1 268.6L478.1 268.1L477.1 267.1L476.6 267.1L476.1 266.6L475.6 266.6L475.1 266.1L473.6 266.1L473.1 265.6ZM496.6 256.6L496.1 257.1L495.1 257.1L494.6 257.6L494.1 257.6L492.1 259.6L492.1 260.1L491.6 260.6L491.6 261.1L491.1 261.6L491.1 262.1L490.6 262.6L490.6 263.6L490.1 264.1L490.1 266.6L489.6 267.1L489.6 278.6L490.1 279.1L490.1 281.1L490.6 281.6L490.6 283.1L491.1 283.6L491.1 284.1L491.6 284.6L491.6 285.1L492.1 285.6L510.6 285.6L510.6 285.1L511.1 284.6L511.1 284.1L511.6 283.6L511.6 282.6L512.1 282.1L512.1 279.6L512.6 279.1L512.6 266.1L512.1 265.6L512.1 263.6L511.6 263.1L511.6 262.1L511.1 261.6L511.1 260.6L510.1 259.6L510.1 259.1L509.1 258.1L508.6 258.1L507.6 257.1L506.6 257.1L506.1 256.6Z" fill="#26e8b0" fill-rule="evenodd"/>
<path d="M463.6 268.1L463.1 268.6L462.1 268.6L461.6 269.1L461.1 269.1L460.6 269.6L460.6 270.1L460.1 270.6L460.1 275.1L461.6 276.6L462.1 276.6L462.6 277.1L465.6 277.1L466.1 277.6L468.6 277.6L469.1 277.1L472.1 277.1L472.6 276.6L473.1 276.6L474.6 275.1L474.6 270.6L474.1 270.1L474.1 269.6L473.6 269.1L473.1 269.1L472.6 268.6L471.6 268.6L471.1 268.1ZM497.1 258.1L496.6 258.6L496.1 258.6L495.6 259.1L495.1 259.1L494.1 260.1L493.6 260.1L493.6 260.6L492.6 261.6L492.6 262.1L492.1 262.6L492.1 263.6L491.6 264.1L491.6 265.6L491.1 266.1L491.1 279.1L491.6 279.6L491.6 281.6L492.1 282.1L492.1 282.6L492.6 283.1L492.6 283.6L493.1 284.1L493.1 284.6L494.1 285.6L508.6 285.6L509.6 284.6L509.6 284.1L510.1 283.6L510.1 283.1L510.6 282.6L510.6 281.6L511.1 281.1L511.1 278.1L511.6 277.6L511.6 268.1L511.1 267.6L511.1 264.6L510.6 264.1L510.6 263.1L510.1 262.6L510.1 262.1L509.6 261.6L509.6 261.1L507.6 259.1L507.1 259.1L506.6 258.6L506.1 258.6L505.6 258.1Z" fill="#30f070" fill-rule="evenodd"/>
<path d="M498.1 263.6L497.6 264.1L497.1 264.1L496.1 265.1L496.1 265.6L495.6 266.1L495.6 267.1L495.1 267.6L495.1 277.6L495.6 278.1L495.6 279.1L496.1 279.6L496.1 280.1L497.6 281.6L498.6 281.6L499.1 282.1L503.6 282.1L504.1 281.6L505.1 281.6L506.6 280.1L506.6 279.6L507.1 279.1L507.1 278.1L507.6 277.6L507.6 267.6L507.1 267.1L507.1 266.1L506.1 265.1L506.1 264.6L505.6 264.6L504.6 263.6Z" fill="#50f038" fill-rule="evenodd"/>
<path d="M499.1 267.6L498.6 268.1L498.6 268.6L498.1 269.1L498.1 270.1L497.6 270.6L497.6 275.1L498.1 275.6L498.1 276.6L499.6 278.1L503.1 278.1L504.6 276.6L504.6 275.6L505.1 275.1L505.1 270.6L504.6 270.1L504.6 269.1L504.1 268.6L504.1 268.1L503.6 267.6Z" fill="#80f010" fill-rule="evenodd"/>
</g>
<rect x="489.4" y="281.20" width="23" height="1.2" fill="#6a5a20" fill-opacity="0.55"/>
<path d="M455.4 238.4h1v1h-1zM455.4 250.4h1v1h-1zM457.4 252.4h1v1h-1zM457.4 253.4h1v1h-1zM458.4 201.4h1v1h-1zM458.4 250.4h1v1h-1zM458.4 251.4h1v1h-1zM459.4 244.4h1v1h-1zM460.4 251.4h1v1h-1zM460.4 252.4h1v1h-1zM462.4 252.4h1v1h-1zM463.4 250.4h1v1h-1zM463.4 252.4h1v1h-1zM464.4 243.4h1v1h-1zM464.4 249.4h1v1h-1zM464.4 251.4h1v1h-1zM466.4 241.4h1v1h-1zM466.4 247.4h1v1h-1zM466.4 252.4h1v1h-1zM467.4 249.4h1v1h-1zM468.4 241.4h1v1h-1zM468.4 252.4h1v1h-1zM469.4 247.4h1v1h-1zM470.4 246.4h1v1h-1zM470.4 248.4h1v1h-1zM471.4 209.4h1v1h-1zM471.4 251.4h1v1h-1zM471.4 254.4h1v1h-1zM472.4 245.4h1v1h-1zM472.4 249.4h1v1h-1zM472.4 252.4h1v1h-1zM472.4 254.4h1v1h-1zM473.4 249.4h1v1h-1zM474.4 238.4h1v1h-1zM474.4 249.4h1v1h-1zM474.4 251.4h1v1h-1zM474.4 253.4h1v1h-1zM476.4 188.4h1v1h-1zM477.4 193.4h1v1h-1zM478.4 252.4h1v1h-1zM479.4 252.4h1v1h-1zM481.4 194.4h1v1h-1zM481.4 228.4h1v1h-1zM481.4 254.4h1v1h-1zM482.4 250.4h1v1h-1zM482.4 253.4h1v1h-1zM484.4 249.4h1v1h-1zM484.4 252.4h1v1h-1zM485.4 246.4h1v1h-1zM486.4 251.4h1v1h-1zM487.4 250.4h1v1h-1zM489.4 195.4h1v1h-1zM489.4 198.4h1v1h-1zM489.4 222.4h1v1h-1zM489.4 244.4h1v1h-1zM490.4 244.4h1v1h-1zM490.4 247.4h1v1h-1zM491.4 218.4h1v1h-1zM491.4 245.4h1v1h-1zM491.4 246.4h1v1h-1zM492.4 238.4h1v1h-1zM492.4 242.4h1v1h-1zM492.4 245.4h1v1h-1zM492.4 247.4h1v1h-1zM493.4 214.4h1v1h-1zM493.4 222.4h1v1h-1zM493.4 225.4h1v1h-1zM493.4 235.4h1v1h-1zM493.4 239.4h1v1h-1zM493.4 244.4h1v1h-1zM493.4 246.4h1v1h-1zM494.4 236.4h1v1h-1zM494.4 237.4h1v1h-1zM494.4 239.4h1v1h-1zM494.4 240.4h1v1h-1zM494.4 243.4h1v1h-1zM494.4 246.4h1v1h-1zM495.4 207.4h1v1h-1zM495.4 237.4h1v1h-1zM495.4 238.4h1v1h-1zM495.4 245.4h1v1h-1zM495.4 246.4h1v1h-1zM496.4 234.4h1v1h-1zM496.4 237.4h1v1h-1zM496.4 238.4h1v1h-1zM496.4 241.4h1v1h-1zM496.4 242.4h1v1h-1zM496.4 243.4h1v1h-1zM496.4 245.4h1v1h-1zM497.4 215.4h1v1h-1zM497.4 228.4h1v1h-1zM497.4 229.4h1v1h-1zM497.4 231.4h1v1h-1zM497.4 232.4h1v1h-1zM497.4 234.4h1v1h-1zM497.4 239.4h1v1h-1zM497.4 240.4h1v1h-1zM497.4 241.4h1v1h-1zM497.4 243.4h1v1h-1zM497.4 245.4h1v1h-1zM497.4 248.4h1v1h-1zM498.4 204.4h1v1h-1zM498.4 221.4h1v1h-1zM498.4 225.4h1v1h-1zM498.4 228.4h1v1h-1zM498.4 233.4h1v1h-1zM498.4 235.4h1v1h-1zM498.4 237.4h1v1h-1zM498.4 238.4h1v1h-1zM498.4 239.4h1v1h-1zM498.4 240.4h1v1h-1zM498.4 241.4h1v1h-1zM498.4 243.4h1v1h-1zM498.4 244.4h1v1h-1zM498.4 245.4h1v1h-1zM498.4 248.4h1v1h-1zM499.4 186.4h1v1h-1zM499.4 216.4h1v1h-1zM499.4 219.4h1v1h-1zM499.4 226.4h1v1h-1zM499.4 229.4h1v1h-1zM499.4 230.4h1v1h-1zM499.4 232.4h1v1h-1zM499.4 234.4h1v1h-1zM499.4 235.4h1v1h-1zM499.4 238.4h1v1h-1zM499.4 239.4h1v1h-1zM499.4 240.4h1v1h-1zM499.4 241.4h1v1h-1zM499.4 242.4h1v1h-1zM499.4 243.4h1v1h-1zM499.4 245.4h1v1h-1zM499.4 247.4h1v1h-1zM500.4 212.4h1v1h-1zM500.4 214.4h1v1h-1zM500.4 230.4h1v1h-1zM500.4 236.4h1v1h-1zM500.4 237.4h1v1h-1zM500.4 238.4h1v1h-1zM500.4 240.4h1v1h-1zM500.4 242.4h1v1h-1zM500.4 243.4h1v1h-1zM500.4 244.4h1v1h-1zM500.4 245.4h1v1h-1zM500.4 247.4h1v1h-1zM501.4 204.4h1v1h-1zM501.4 206.4h1v1h-1zM501.4 210.4h1v1h-1zM501.4 219.4h1v1h-1zM501.4 223.4h1v1h-1zM501.4 227.4h1v1h-1zM501.4 229.4h1v1h-1zM501.4 230.4h1v1h-1zM501.4 232.4h1v1h-1zM501.4 234.4h1v1h-1zM501.4 235.4h1v1h-1zM501.4 236.4h1v1h-1zM501.4 238.4h1v1h-1zM501.4 239.4h1v1h-1zM501.4 240.4h1v1h-1zM501.4 241.4h1v1h-1zM501.4 243.4h1v1h-1zM501.4 244.4h1v1h-1zM501.4 245.4h1v1h-1zM501.4 247.4h1v1h-1zM502.4 215.4h1v1h-1zM502.4 217.4h1v1h-1zM502.4 219.4h1v1h-1zM502.4 223.4h1v1h-1zM502.4 228.4h1v1h-1zM502.4 229.4h1v1h-1zM502.4 231.4h1v1h-1zM502.4 232.4h1v1h-1zM502.4 233.4h1v1h-1zM502.4 234.4h1v1h-1zM502.4 236.4h1v1h-1zM502.4 237.4h1v1h-1zM502.4 238.4h1v1h-1zM502.4 239.4h1v1h-1zM502.4 240.4h1v1h-1zM502.4 241.4h1v1h-1zM502.4 242.4h1v1h-1zM502.4 243.4h1v1h-1zM502.4 244.4h1v1h-1zM502.4 245.4h1v1h-1zM503.4 200.4h1v1h-1zM503.4 213.4h1v1h-1zM503.4 221.4h1v1h-1zM503.4 229.4h1v1h-1zM503.4 231.4h1v1h-1zM503.4 232.4h1v1h-1zM503.4 234.4h1v1h-1zM503.4 237.4h1v1h-1zM503.4 239.4h1v1h-1zM503.4 240.4h1v1h-1zM503.4 241.4h1v1h-1zM503.4 242.4h1v1h-1zM503.4 243.4h1v1h-1zM503.4 245.4h1v1h-1zM503.4 247.4h1v1h-1zM504.4 205.4h1v1h-1zM504.4 217.4h1v1h-1zM504.4 226.4h1v1h-1zM504.4 228.4h1v1h-1zM504.4 232.4h1v1h-1zM504.4 233.4h1v1h-1zM504.4 234.4h1v1h-1zM504.4 236.4h1v1h-1zM504.4 237.4h1v1h-1zM504.4 239.4h1v1h-1zM504.4 240.4h1v1h-1zM504.4 243.4h1v1h-1zM504.4 244.4h1v1h-1zM504.4 245.4h1v1h-1zM505.4 192.4h1v1h-1zM505.4 197.4h1v1h-1zM505.4 207.4h1v1h-1zM505.4 223.4h1v1h-1zM505.4 225.4h1v1h-1zM505.4 228.4h1v1h-1zM505.4 229.4h1v1h-1zM505.4 232.4h1v1h-1zM505.4 233.4h1v1h-1zM505.4 237.4h1v1h-1zM505.4 238.4h1v1h-1zM505.4 239.4h1v1h-1zM505.4 241.4h1v1h-1zM505.4 242.4h1v1h-1zM505.4 243.4h1v1h-1zM505.4 244.4h1v1h-1zM505.4 246.4h1v1h-1zM505.4 247.4h1v1h-1zM505.4 248.4h1v1h-1zM506.4 195.4h1v1h-1zM506.4 214.4h1v1h-1zM506.4 219.4h1v1h-1zM506.4 233.4h1v1h-1zM506.4 237.4h1v1h-1zM506.4 238.4h1v1h-1zM506.4 239.4h1v1h-1zM506.4 241.4h1v1h-1zM506.4 243.4h1v1h-1zM506.4 244.4h1v1h-1zM506.4 245.4h1v1h-1zM506.4 246.4h1v1h-1zM507.4 223.4h1v1h-1zM507.4 238.4h1v1h-1zM507.4 241.4h1v1h-1zM507.4 242.4h1v1h-1zM507.4 243.4h1v1h-1zM507.4 245.4h1v1h-1zM508.4 199.4h1v1h-1zM508.4 214.4h1v1h-1zM508.4 220.4h1v1h-1zM508.4 227.4h1v1h-1zM508.4 230.4h1v1h-1zM508.4 238.4h1v1h-1zM508.4 239.4h1v1h-1zM508.4 241.4h1v1h-1zM508.4 242.4h1v1h-1zM508.4 244.4h1v1h-1zM509.4 235.4h1v1h-1zM509.4 245.4h1v1h-1zM510.4 229.4h1v1h-1zM510.4 231.4h1v1h-1zM510.4 234.4h1v1h-1zM510.4 239.4h1v1h-1zM510.4 242.4h1v1h-1zM510.4 243.4h1v1h-1zM510.4 244.4h1v1h-1zM510.4 246.4h1v1h-1zM511.4 223.4h1v1h-1zM511.4 230.4h1v1h-1zM511.4 243.4h1v1h-1zM511.4 245.4h1v1h-1zM512.4 220.4h1v1h-1zM512.4 229.4h1v1h-1zM512.4 243.4h1v1h-1zM512.4 244.4h1v1h-1zM514.4 242.4h1v1h-1zM514.4 250.4h1v1h-1zM515.4 191.4h1v1h-1zM515.4 245.4h1v1h-1zM517.4 229.4h1v1h-1zM517.4 254.4h1v1h-1zM518.4 257.4h1v1h-1zM519.4 265.4h1v1h-1zM519.4 270.4h1v1h-1zM519.4 273.4h1v1h-1zM519.4 279.4h1v1h-1zM520.4 212.4h1v1h-1zM520.4 220.4h1v1h-1zM520.4 257.4h1v1h-1zM521.4 253.4h1v1h-1zM521.4 260.4h1v1h-1zM521.4 263.4h1v1h-1zM521.4 265.4h1v1h-1zM522.4 229.4h1v1h-1zM524.4 220.4h1v1h-1zM531.4 221.4h1v1h-1zM533.4 205.4h1v1h-1zM536.4 220.4h1v1h-1zM540.4 205.4h1v1h-1z" fill="#0a0a80"/>
</g>
<path d="M487.70 180.40V282.80M455.40 240.80H556.30" stroke="#8c8c8c" stroke-width="1" fill="none"/>
<rect x="455.40" y="180.40" width="100.90" height="102.40" fill="none" stroke="#8a8a8a" stroke-width="1.1"/>
<text x="457.40" y="190.40" font-size="10.8">0.02</text>
<text x="555.70" y="190.40" font-size="10.8" text-anchor="end">0.08</text>
<text x="456.00" y="297.90" font-size="10.3" text-anchor="middle">10<tspan font-size="7" dy="-6">0</tspan></text>
<text x="481.23" y="297.90" font-size="10.3" text-anchor="middle">10<tspan font-size="7" dy="-6">1</tspan></text>
<text x="506.45" y="297.90" font-size="10.3" text-anchor="middle">10<tspan font-size="7" dy="-6">2</tspan></text>
<text x="531.68" y="297.90" font-size="10.3" text-anchor="middle">10<tspan font-size="7" dy="-6">3</tspan></text>
<text x="556.90" y="297.90" font-size="10.3" text-anchor="middle">10<tspan font-size="7" dy="-6">4</tspan></text>
<text x="451.20" y="287.10" font-size="10.3" text-anchor="end">10<tspan font-size="7" dy="-6">0</tspan></text>
<text x="451.20" y="261.50" font-size="10.3" text-anchor="end">10<tspan font-size="7" dy="-6">1</tspan></text>
<text x="451.20" y="235.90" font-size="10.3" text-anchor="end">10<tspan font-size="7" dy="-6">2</tspan></text>
<text x="451.20" y="210.30" font-size="10.3" text-anchor="end">10<tspan font-size="7" dy="-6">3</tspan></text>
<text x="451.20" y="184.70" font-size="10.3" text-anchor="end">10<tspan font-size="7" dy="-6">4</tspan></text>
<clipPath id="c20"><rect x="53.00" y="324.50" width="100.90" height="102.40"/></clipPath>
<g clip-path="url(#c20)">
<path d="M59.0 386.5h1v1h-1zM63.0 386.5h1v1h-1zM60.0 387.5h2v1h-2zM54.0 388.5h1v1h-1zM56.0 388.5h1v1h-1zM59.0 388.5h2v1h-2zM62.0 388.5h5v1h-5zM69.0 388.5h1v1h-1zM71.0 388.5h1v1h-1zM53.0 389.5h6v1h-6zM60.0 389.5h12v1h-12zM53.0 390.5h18v1h-18zM73.0 390.5h1v1h-1zM75.0 390.5h1v1h-1zM53.0 391.5h16v1h-16zM70.0 391.5h3v1h-3zM74.0 391.5h2v1h-2zM53.0 392.5h20v1h-20zM74.0 392.5h3v1h-3zM53.0 393.5h25v1h-25zM53.0 394.5h26v1h-26zM53.0 395.5h25v1h-25zM84.0 395.5h1v1h-1zM53.0 396.5h31v1h-31zM85.0 396.5h2v1h-2zM93.0 396.5h1v1h-1zM53.0 397.5h32v1h-32zM86.0 397.5h4v1h-4zM91.0 397.5h1v1h-1zM93.0 397.5h2v1h-2zM53.0 398.5h26v1h-26zM80.0 398.5h14v1h-14zM96.0 398.5h1v1h-1zM99.0 398.5h1v1h-1zM53.0 399.5h42v1h-42zM96.0 399.5h1v1h-1zM99.0 399.5h2v1h-2zM53.0 400.5h37v1h-37zM91.0 400.5h4v1h-4zM96.0 400.5h4v1h-4zM53.0 401.5h41v1h-41zM96.0 401.5h5v1h-5zM103.0 401.5h2v1h-2zM53.0 402.5h37v1h-37zM92.0 402.5h11v1h-11zM53.0 403.5h44v1h-44zM98.0 403.5h7v1h-7zM53.0 404.5h46v1h-46zM100.0 404.5h5v1h-5zM53.0 405.5h52v1h-52zM106.0 405.5h1v1h-1zM53.0 406.5h53v1h-53zM107.0 406.5h1v1h-1zM53.0 407.5h52v1h-52zM106.0 407.5h3v1h-3zM53.0 408.5h51v1h-51zM105.0 408.5h1v1h-1zM107.0 408.5h1v1h-1zM53.0 409.5h54v1h-54zM108.0 409.5h2v1h-2zM53.0 410.5h57v1h-57zM53.0 411.5h56v1h-56zM53.0 412.5h56v1h-56zM110.0 412.5h1v1h-1zM53.0 413.5h57v1h-57zM53.0 414.5h52v1h-52zM106.0 414.5h5v1h-5zM53.0 415.5h57v1h-57zM111.0 415.5h1v1h-1zM53.0 416.5h59v1h-59zM53.0 417.5h58v1h-58zM112.0 417.5h1v1h-1zM53.0 418.5h59v1h-59zM53.0 419.5h59v1h-59zM53.0 420.5h59v1h-59zM53.0 421.5h59v1h-59zM53.0 422.5h60v1h-60zM53.0 423.5h59v1h-59zM53.0 424.5h57v1h-57zM111.0 424.5h1v1h-1zM53.0 425.5h58v1h-58z" fill="#0c0c8a"/>
<g filter="url(#bl)">
<path d="M59.2 392.2L58.8 392.8L56.2 392.8L55.8 393.2L54.8 393.2L54.2 393.8L53.8 393.8L53.2 394.2L52.8 394.2L52.2 394.8L51.8 394.8L50.2 396.2L50.2 429.8L104.2 429.8L104.2 419.8L103.8 419.2L103.8 417.8L103.2 417.2L103.2 416.2L102.8 415.8L102.8 414.8L102.2 414.2L102.2 413.8L101.8 413.2L101.8 412.8L100.8 411.8L100.8 411.2L98.2 408.8L97.8 408.8L96.8 407.8L96.2 407.8L95.8 407.2L95.2 407.2L94.8 406.8L94.2 406.8L93.8 406.2L92.8 406.2L92.2 405.8L90.8 405.8L90.2 405.2L88.2 405.2L87.8 404.8L85.2 404.8L84.8 404.2L84.2 404.2L83.8 403.8L83.2 403.8L79.2 399.8L78.8 399.8L76.2 397.2L75.8 397.2L74.8 396.2L74.2 396.2L73.2 395.2L72.8 395.2L72.2 394.8L71.8 394.8L71.2 394.2L70.8 394.2L70.2 393.8L69.8 393.8L69.2 393.2L68.2 393.2L67.8 392.8L65.2 392.8L64.8 392.2Z" fill="#0a1cc4" fill-rule="evenodd"/>
<path d="M59.8 393.8L59.2 394.2L56.8 394.2L56.2 394.8L55.2 394.8L54.8 395.2L54.2 395.2L53.8 395.8L53.2 395.8L52.8 396.2L52.2 396.2L50.2 398.2L50.2 429.8L84.2 429.8L84.2 428.8L84.8 428.2L84.8 425.2L85.2 424.8L85.2 415.8L84.8 415.2L84.8 413.2L84.2 412.8L84.2 411.2L83.8 410.8L83.8 409.8L83.2 409.2L83.2 408.8L82.8 408.2L82.8 407.8L82.2 407.2L82.2 406.8L81.2 405.8L81.2 405.2L79.8 403.8L79.8 403.2L77.2 400.8L77.2 400.2L75.8 398.8L75.2 398.8L73.8 397.2L73.2 397.2L72.2 396.2L71.8 396.2L71.2 395.8L70.8 395.8L70.2 395.2L69.2 395.2L68.8 394.8L67.8 394.8L67.2 394.2L64.8 394.2L64.2 393.8Z" fill="#0c3cec" fill-rule="evenodd"/>
<path d="M58.8 395.2L58.2 395.8L56.8 395.8L56.2 396.2L55.2 396.2L54.8 396.8L54.2 396.8L53.8 397.2L53.2 397.2L52.2 398.2L51.8 398.2L50.2 399.8L50.2 429.8L79.8 429.8L79.8 428.2L80.2 427.8L80.2 426.2L80.8 425.8L80.8 422.2L81.2 421.8L81.2 414.2L80.8 413.8L80.8 410.8L80.2 410.2L80.2 408.8L79.8 408.2L79.8 407.2L79.2 406.8L79.2 406.2L78.8 405.8L78.8 405.2L78.2 404.8L78.2 404.2L77.2 403.2L77.2 402.8L75.8 401.2L75.8 400.8L74.2 399.2L73.8 399.2L72.2 397.8L71.8 397.8L71.2 397.2L70.8 397.2L70.2 396.8L69.8 396.8L69.2 396.2L68.2 396.2L67.8 395.8L65.8 395.8L65.2 395.2Z" fill="#1468f4" fill-rule="evenodd"/>
<path d="M59.8 396.8L59.2 397.2L57.2 397.2L56.8 397.8L55.8 397.8L55.2 398.2L54.8 398.2L54.2 398.8L53.8 398.8L50.2 402.2L50.2 429.8L76.8 429.8L76.8 429.2L77.2 428.8L77.2 427.8L77.8 427.2L77.8 425.8L78.2 425.2L78.2 422.8L78.8 422.2L78.8 412.2L78.2 411.8L78.2 409.8L77.8 409.2L77.8 407.8L77.2 407.2L77.2 406.8L76.8 406.2L76.8 405.2L75.8 404.2L75.8 403.8L74.8 402.8L74.8 402.2L72.2 399.8L71.8 399.8L70.8 398.8L70.2 398.8L69.8 398.2L69.2 398.2L68.8 397.8L67.8 397.8L67.2 397.2L64.8 397.2L64.2 396.8Z" fill="#1c9cf0" fill-rule="evenodd"/>
<path d="M59.8 398.2L59.2 398.8L57.2 398.8L56.8 399.2L56.2 399.2L55.8 399.8L55.2 399.8L54.8 400.2L54.2 400.2L50.8 403.8L50.8 404.2L50.2 404.8L50.2 429.2L50.8 429.8L74.8 429.8L75.2 429.2L75.2 428.2L75.8 427.8L75.8 426.8L76.2 426.2L76.2 424.8L76.8 424.2L76.8 421.8L77.2 421.2L77.2 413.2L76.8 412.8L76.8 410.2L76.2 409.8L76.2 408.2L75.8 407.8L75.8 406.8L75.2 406.2L75.2 405.8L74.8 405.2L74.8 404.8L73.8 403.8L73.8 403.2L71.2 400.8L70.8 400.8L69.8 399.8L69.2 399.8L68.8 399.2L67.8 399.2L67.2 398.8L65.8 398.8L65.2 398.2Z" fill="#20c8e0" fill-rule="evenodd"/>
<path d="M60.2 399.8L59.8 400.2L57.8 400.2L57.2 400.8L56.2 400.8L55.2 401.8L54.8 401.8L51.8 404.8L51.8 405.2L51.2 405.8L51.2 406.2L50.8 406.8L50.8 407.2L50.2 407.8L50.2 425.8L50.8 426.2L50.8 427.2L51.2 427.8L51.2 428.2L51.8 428.8L51.8 429.2L52.2 429.8L72.8 429.8L73.2 429.2L73.2 428.8L73.8 428.2L73.8 427.8L74.2 427.2L74.2 426.2L74.8 425.8L74.8 424.2L75.2 423.8L75.2 421.2L75.8 420.8L75.8 413.8L75.2 413.2L75.2 410.2L74.8 409.8L74.8 408.8L74.2 408.2L74.2 407.2L73.8 406.8L73.8 406.2L73.2 405.8L73.2 405.2L72.2 404.2L72.2 403.8L70.8 402.2L70.2 402.2L69.2 401.2L68.8 401.2L68.2 400.8L67.2 400.8L66.8 400.2L65.2 400.2L64.8 399.8Z" fill="#26e8b0" fill-rule="evenodd"/>
<path d="M59.8 402.2L59.2 402.8L58.2 402.8L57.8 403.2L56.8 403.2L55.8 404.2L55.2 404.2L53.8 405.8L53.8 406.2L52.8 407.2L52.8 408.2L52.2 408.8L52.2 409.2L51.8 409.8L51.8 411.2L51.2 411.8L51.2 422.2L51.8 422.8L51.8 424.2L52.2 424.8L52.2 425.8L52.8 426.2L52.8 426.8L53.8 427.8L53.8 428.2L55.2 429.8L69.2 429.8L71.2 427.8L71.2 427.2L71.8 426.8L71.8 426.2L72.2 425.8L72.2 424.8L72.8 424.2L72.8 423.2L73.2 422.8L73.2 411.8L72.8 411.2L72.8 409.8L72.2 409.2L72.2 408.2L71.8 407.8L71.8 407.2L70.8 406.2L70.8 405.8L69.2 404.2L68.8 404.2L67.8 403.2L67.2 403.2L66.8 402.8L65.2 402.8L64.8 402.2Z" fill="#30f070" fill-rule="evenodd"/>
</g>
<rect x="53.0" y="425.30" width="23" height="1.2" fill="#6a5a20" fill-opacity="0.55"/>
<path d="M53.0 382.5h1v1h-1zM53.0 387.5h1v1h-1zM54.0 372.5h1v1h-1zM56.0 379.5h1v1h-1zM59.0 381.5h1v1h-1zM59.0 383.5h1v1h-1zM60.0 377.5h1v1h-1zM60.0 383.5h1v1h-1zM60.0 386.5h1v1h-1zM61.0 385.5h1v1h-1zM62.0 383.5h1v1h-1zM62.0 386.5h1v1h-1zM62.0 387.5h1v1h-1zM64.0 382.5h1v1h-1zM65.0 387.5h1v1h-1zM66.0 385.5h1v1h-1zM67.0 385.5h1v1h-1zM68.0 381.5h1v1h-1zM68.0 387.5h1v1h-1zM69.0 377.5h1v1h-1zM69.0 385.5h1v1h-1zM70.0 388.5h1v1h-1zM71.0 377.5h1v1h-1zM72.0 383.5h1v1h-1zM72.0 388.5h1v1h-1zM75.0 386.5h1v1h-1zM77.0 383.5h1v1h-1zM78.0 380.5h1v1h-1zM78.0 384.5h1v1h-1zM79.0 381.5h1v1h-1zM79.0 384.5h1v1h-1zM80.0 392.5h1v1h-1zM81.0 386.5h1v1h-1zM81.0 395.5h1v1h-1zM82.0 384.5h1v1h-1zM84.0 393.5h1v1h-1zM85.0 395.5h1v1h-1zM89.0 384.5h1v1h-1zM89.0 387.5h1v1h-1zM90.0 391.5h1v1h-1zM90.0 395.5h1v1h-1zM92.0 395.5h1v1h-1zM95.0 396.5h1v1h-1zM97.0 392.5h1v1h-1zM97.0 397.5h1v1h-1zM97.0 398.5h1v1h-1zM99.0 397.5h1v1h-1zM102.0 401.5h1v1h-1zM103.0 393.5h1v1h-1zM104.0 393.5h1v1h-1zM104.0 400.5h1v1h-1zM107.0 403.5h1v1h-1zM107.0 404.5h1v1h-1zM108.0 392.5h1v1h-1zM108.0 403.5h1v1h-1zM109.0 401.5h1v1h-1zM110.0 405.5h1v1h-1zM110.0 407.5h1v1h-1zM110.0 410.5h1v1h-1zM111.0 392.5h1v1h-1zM111.0 401.5h1v1h-1zM111.0 411.5h1v1h-1zM112.0 413.5h1v1h-1zM112.0 421.5h1v1h-1zM113.0 419.5h1v1h-1zM114.0 400.5h1v1h-1zM114.0 417.5h1v1h-1zM115.0 400.5h1v1h-1zM116.0 391.5h1v1h-1zM119.0 396.5h1v1h-1zM120.0 399.5h1v1h-1z" fill="#0a0a80"/>
</g>
<path d="M85.50 324.50V426.90M53.00 385.30H153.90" stroke="#8c8c8c" stroke-width="1" fill="none"/>
<rect x="53.00" y="324.50" width="100.90" height="102.40" fill="none" stroke="#8a8a8a" stroke-width="1.1"/>
<text x="55.00" y="334.50" font-size="10.8">0.00</text>
<text x="153.30" y="334.50" font-size="10.8" text-anchor="end">0.00</text>
<text x="53.60" y="442.00" font-size="10.3" text-anchor="middle">10<tspan font-size="7" dy="-6">0</tspan></text>
<text x="78.82" y="442.00" font-size="10.3" text-anchor="middle">10<tspan font-size="7" dy="-6">1</tspan></text>
<text x="104.05" y="442.00" font-size="10.3" text-anchor="middle">10<tspan font-size="7" dy="-6">2</tspan></text>
<text x="129.28" y="442.00" font-size="10.3" text-anchor="middle">10<tspan font-size="7" dy="-6">3</tspan></text>
<text x="154.50" y="442.00" font-size="10.3" text-anchor="middle">10<tspan font-size="7" dy="-6">4</tspan></text>
<text x="48.80" y="431.20" font-size="10.3" text-anchor="end">10<tspan font-size="7" dy="-6">0</tspan></text>
<text x="48.80" y="405.60" font-size="10.3" text-anchor="end">10<tspan font-size="7" dy="-6">1</tspan></text>
<text x="48.80" y="380.00" font-size="10.3" text-anchor="end">10<tspan font-size="7" dy="-6">2</tspan></text>
<text x="48.80" y="354.40" font-size="10.3" text-anchor="end">10<tspan font-size="7" dy="-6">3</tspan></text>
<text x="48.80" y="328.80" font-size="10.3" text-anchor="end">10<tspan font-size="7" dy="-6">4</tspan></text>
<clipPath id="c21"><rect x="178.40" y="324.50" width="100.90" height="102.40"/></clipPath>
<g clip-path="url(#c21)">
<path d="M188.4 382.5h1v1h-1zM183.4 383.5h1v1h-1zM186.4 383.5h1v1h-1zM188.4 383.5h1v1h-1zM181.4 384.5h1v1h-1zM185.4 384.5h1v1h-1zM190.4 384.5h1v1h-1zM194.4 384.5h1v1h-1zM181.4 385.5h4v1h-4zM187.4 385.5h6v1h-6zM194.4 385.5h2v1h-2zM178.4 386.5h1v1h-1zM181.4 386.5h1v1h-1zM183.4 386.5h13v1h-13zM197.4 386.5h1v1h-1zM178.4 387.5h18v1h-18zM197.4 387.5h1v1h-1zM199.4 387.5h1v1h-1zM178.4 388.5h22v1h-22zM201.4 388.5h1v1h-1zM203.4 388.5h1v1h-1zM178.4 389.5h25v1h-25zM178.4 390.5h26v1h-26zM178.4 391.5h27v1h-27zM206.4 391.5h1v1h-1zM178.4 392.5h28v1h-28zM210.4 392.5h1v1h-1zM178.4 393.5h28v1h-28zM207.4 393.5h1v1h-1zM209.4 393.5h3v1h-3zM213.4 393.5h1v1h-1zM178.4 394.5h37v1h-37zM217.4 394.5h3v1h-3zM221.4 394.5h1v1h-1zM178.4 395.5h39v1h-39zM218.4 395.5h3v1h-3zM222.4 395.5h2v1h-2zM178.4 396.5h45v1h-45zM224.4 396.5h2v1h-2zM178.4 397.5h48v1h-48zM178.4 398.5h48v1h-48zM227.4 398.5h1v1h-1zM178.4 399.5h51v1h-51zM178.4 400.5h53v1h-53zM178.4 401.5h49v1h-49zM228.4 401.5h3v1h-3zM178.4 402.5h54v1h-54zM178.4 403.5h53v1h-53zM178.4 404.5h55v1h-55zM178.4 405.5h55v1h-55zM178.4 406.5h56v1h-56zM178.4 407.5h56v1h-56zM235.4 407.5h1v1h-1zM178.4 408.5h56v1h-56zM178.4 409.5h56v1h-56zM178.4 410.5h55v1h-55zM234.4 410.5h3v1h-3zM178.4 411.5h57v1h-57zM178.4 412.5h57v1h-57zM236.4 412.5h1v1h-1zM178.4 413.5h58v1h-58zM178.4 414.5h56v1h-56zM178.4 415.5h58v1h-58zM178.4 416.5h59v1h-59zM178.4 417.5h59v1h-59zM178.4 418.5h59v1h-59zM178.4 419.5h57v1h-57zM178.4 420.5h58v1h-58zM178.4 421.5h59v1h-59zM178.4 422.5h58v1h-58zM178.4 423.5h58v1h-58zM237.4 423.5h1v1h-1zM178.4 424.5h60v1h-60zM178.4 425.5h59v1h-59z" fill="#0c0c8a"/>
<g filter="url(#bl)">
<path d="M183.7 389.8L183.2 390.2L181.7 390.2L181.2 390.8L180.7 390.8L180.2 391.2L179.2 391.2L178.2 392.2L177.7 392.2L175.7 394.2L175.7 429.8L232.7 429.8L232.7 420.8L232.2 420.2L232.2 416.8L231.7 416.2L231.7 414.8L231.2 414.2L231.2 412.8L230.7 412.2L230.7 411.8L230.2 411.2L230.2 410.2L229.7 409.8L229.7 409.2L229.2 408.8L229.2 408.2L228.2 407.2L228.2 406.8L224.7 403.2L224.2 403.2L223.2 402.2L222.7 402.2L222.2 401.8L221.7 401.8L221.2 401.2L220.7 401.2L220.2 400.8L219.2 400.8L218.7 400.2L216.7 400.2L216.2 399.8L212.7 399.8L212.2 399.2L210.2 399.2L209.7 398.8L209.2 398.8L208.2 397.8L207.7 397.8L207.2 397.2L206.7 397.2L205.7 396.2L205.2 396.2L204.2 395.2L203.7 395.2L202.7 394.2L202.2 394.2L201.2 393.2L200.7 393.2L200.2 392.8L199.7 392.8L198.7 391.8L198.2 391.8L197.7 391.2L197.2 391.2L196.7 390.8L195.7 390.8L195.2 390.2L193.7 390.2L193.2 389.8Z" fill="#0a1cc4" fill-rule="evenodd"/>
<path d="M184.2 391.2L183.7 391.8L182.2 391.8L181.7 392.2L181.2 392.2L180.7 392.8L179.7 392.8L178.7 393.8L178.2 393.8L175.7 396.2L175.7 429.8L229.7 429.8L229.7 419.2L229.2 418.8L229.2 416.8L228.7 416.2L228.7 414.8L228.2 414.2L228.2 413.2L227.7 412.8L227.7 412.2L227.2 411.8L227.2 411.2L226.7 410.8L226.7 410.2L225.7 409.2L225.7 408.8L223.2 406.2L222.7 406.2L221.7 405.2L221.2 405.2L220.7 404.8L220.2 404.8L219.7 404.2L219.2 404.2L218.7 403.8L217.2 403.8L216.7 403.2L215.2 403.2L214.7 402.8L212.2 402.8L211.7 402.2L210.7 402.2L209.7 401.2L209.2 401.2L208.7 400.8L208.2 400.8L206.7 399.2L206.2 399.2L204.2 397.2L203.7 397.2L201.7 395.2L201.2 395.2L200.7 394.8L200.2 394.8L199.2 393.8L198.7 393.8L198.2 393.2L197.7 393.2L197.2 392.8L196.7 392.8L196.2 392.2L195.2 392.2L194.7 391.8L193.2 391.8L192.7 391.2Z" fill="#0c3cec" fill-rule="evenodd"/>
<path d="M184.2 392.8L183.7 393.2L182.2 393.2L181.7 393.8L181.2 393.8L180.7 394.2L180.2 394.2L179.7 394.8L179.2 394.8L177.7 396.2L177.2 396.2L176.7 396.8L176.7 397.2L175.7 398.2L175.7 429.8L225.2 429.8L225.2 422.8L224.7 422.2L224.7 419.2L224.2 418.8L224.2 417.8L223.7 417.2L223.7 416.2L223.2 415.8L223.2 415.2L222.7 414.8L222.7 414.2L221.7 413.2L221.7 412.8L220.2 411.2L219.7 411.2L218.7 410.2L218.2 410.2L217.7 409.8L217.2 409.8L216.7 409.2L215.7 409.2L215.2 408.8L214.2 408.8L213.7 408.2L213.2 408.2L212.7 407.8L212.2 407.8L200.7 396.2L200.2 396.2L199.2 395.2L198.7 395.2L198.2 394.8L197.7 394.8L197.2 394.2L196.7 394.2L196.2 393.8L195.2 393.8L194.7 393.2L193.7 393.2L193.2 392.8Z" fill="#1468f4" fill-rule="evenodd"/>
<path d="M185.2 394.2L184.7 394.8L183.2 394.8L182.7 395.2L181.7 395.2L181.2 395.8L180.7 395.8L180.2 396.2L179.7 396.2L176.2 399.8L176.2 400.2L175.7 400.8L175.7 429.8L207.2 429.8L207.2 428.8L207.7 428.2L207.7 425.8L208.2 425.2L208.2 411.8L207.7 411.2L207.7 409.8L207.2 409.2L207.2 408.2L206.7 407.8L206.7 406.8L206.2 406.2L206.2 405.8L205.7 405.2L205.7 404.8L205.2 404.2L205.2 403.8L204.2 402.8L204.2 402.2L202.2 400.2L202.2 399.8L201.2 398.8L200.7 398.8L198.7 396.8L198.2 396.8L197.7 396.2L197.2 396.2L196.7 395.8L196.2 395.8L195.7 395.2L194.7 395.2L194.2 394.8L192.7 394.8L192.2 394.2Z" fill="#1c9cf0" fill-rule="evenodd"/>
<path d="M185.2 395.8L184.7 396.2L183.2 396.2L182.7 396.8L181.7 396.8L180.7 397.8L180.2 397.8L176.7 401.2L176.7 401.8L176.2 402.2L176.2 402.8L175.7 403.2L175.7 429.8L204.2 429.8L204.2 429.2L204.7 428.8L204.7 427.2L205.2 426.8L205.2 424.8L205.7 424.2L205.7 411.2L205.2 410.8L205.2 408.8L204.7 408.2L204.7 407.2L204.2 406.8L204.2 405.8L203.7 405.2L203.7 404.8L203.2 404.2L203.2 403.8L202.2 402.8L202.2 402.2L198.2 398.2L197.7 398.2L196.7 397.2L196.2 397.2L195.7 396.8L194.7 396.8L194.2 396.2L192.7 396.2L192.2 395.8Z" fill="#20c8e0" fill-rule="evenodd"/>
<path d="M185.7 397.2L185.2 397.8L183.7 397.8L183.2 398.2L182.2 398.2L181.2 399.2L180.7 399.2L177.7 402.2L177.7 402.8L177.2 403.2L177.2 403.8L176.7 404.2L176.7 404.8L176.2 405.2L176.2 405.8L175.7 406.2L175.7 427.8L176.2 428.2L176.2 428.8L176.7 429.2L176.7 429.8L202.2 429.8L202.2 428.8L202.7 428.2L202.7 427.2L203.2 426.8L203.2 425.2L203.7 424.8L203.7 420.2L204.2 419.8L204.2 414.8L203.7 414.2L203.7 410.2L203.2 409.8L203.2 408.2L202.7 407.8L202.7 406.8L202.2 406.2L202.2 405.8L201.7 405.2L201.7 404.8L201.2 404.2L201.2 403.8L200.2 402.8L200.2 402.2L197.7 399.8L197.2 399.8L196.2 398.8L195.7 398.8L195.2 398.2L194.2 398.2L193.7 397.8L192.2 397.8L191.7 397.2Z" fill="#26e8b0" fill-rule="evenodd"/>
<path d="M185.7 399.8L185.2 400.2L183.7 400.2L183.2 400.8L182.7 400.8L181.7 401.8L181.2 401.8L179.2 403.8L179.2 404.2L178.7 404.8L178.7 405.2L178.2 405.8L178.2 406.2L177.7 406.8L177.7 407.2L177.2 407.8L177.2 409.2L176.7 409.8L176.7 411.8L176.2 412.2L176.2 421.2L176.7 421.8L176.7 424.2L177.2 424.8L177.2 425.8L177.7 426.2L177.7 427.2L178.2 427.8L178.2 428.2L178.7 428.8L178.7 429.2L179.2 429.8L199.2 429.8L199.2 429.2L199.7 428.8L199.7 428.2L200.2 427.8L200.2 426.8L200.7 426.2L200.7 425.2L201.2 424.8L201.2 422.2L201.7 421.8L201.7 412.8L201.2 412.2L201.2 409.8L200.7 409.2L200.7 408.2L200.2 407.8L200.2 406.8L199.7 406.2L199.7 405.8L199.2 405.2L199.2 404.8L195.7 401.2L195.2 401.2L194.7 400.8L194.2 400.8L193.7 400.2L192.7 400.2L192.2 399.8Z" fill="#30f070" fill-rule="evenodd"/>
<path d="M186.7 410.8L184.7 412.8L184.7 413.2L184.2 413.8L184.2 419.8L184.7 420.2L184.7 421.2L186.7 423.2L190.7 423.2L192.7 421.2L192.7 420.2L193.2 419.8L193.2 414.2L192.7 413.8L192.7 412.8L190.7 410.8Z" fill="#50f038" fill-rule="evenodd"/>
</g>
<rect x="178.4" y="425.30" width="26" height="1.2" fill="#6a5a20" fill-opacity="0.55"/>
<path d="M178.4 355.5h1v1h-1zM178.4 356.5h1v1h-1zM178.4 367.5h1v1h-1zM178.4 369.5h1v1h-1zM178.4 372.5h1v1h-1zM178.4 374.5h1v1h-1zM178.4 376.5h1v1h-1zM178.4 377.5h1v1h-1zM178.4 378.5h1v1h-1zM178.4 379.5h1v1h-1zM178.4 380.5h1v1h-1zM178.4 381.5h1v1h-1zM178.4 382.5h1v1h-1zM178.4 383.5h1v1h-1zM178.4 384.5h1v1h-1zM178.4 385.5h1v1h-1zM179.4 345.5h1v1h-1zM179.4 362.5h1v1h-1zM179.4 366.5h1v1h-1zM179.4 367.5h1v1h-1zM179.4 368.5h1v1h-1zM179.4 373.5h1v1h-1zM179.4 374.5h1v1h-1zM179.4 375.5h1v1h-1zM179.4 379.5h1v1h-1zM179.4 381.5h1v1h-1zM179.4 382.5h1v1h-1zM179.4 383.5h1v1h-1zM179.4 384.5h1v1h-1zM179.4 385.5h1v1h-1zM180.4 356.5h1v1h-1zM180.4 372.5h1v1h-1zM180.4 374.5h1v1h-1zM180.4 375.5h1v1h-1zM180.4 377.5h1v1h-1zM180.4 378.5h1v1h-1zM180.4 379.5h1v1h-1zM180.4 380.5h1v1h-1zM180.4 381.5h1v1h-1zM180.4 382.5h1v1h-1zM180.4 383.5h1v1h-1zM180.4 384.5h1v1h-1zM180.4 385.5h1v1h-1zM181.4 356.5h1v1h-1zM181.4 369.5h1v1h-1zM181.4 370.5h1v1h-1zM181.4 373.5h1v1h-1zM181.4 375.5h1v1h-1zM181.4 376.5h1v1h-1zM181.4 378.5h1v1h-1zM181.4 381.5h1v1h-1zM181.4 382.5h1v1h-1zM181.4 383.5h1v1h-1zM182.4 362.5h1v1h-1zM182.4 366.5h1v1h-1zM182.4 368.5h1v1h-1zM182.4 372.5h1v1h-1zM182.4 375.5h1v1h-1zM182.4 376.5h1v1h-1zM182.4 377.5h1v1h-1zM182.4 378.5h1v1h-1zM182.4 379.5h1v1h-1zM182.4 380.5h1v1h-1zM182.4 381.5h1v1h-1zM182.4 382.5h1v1h-1zM182.4 383.5h1v1h-1zM182.4 384.5h1v1h-1zM183.4 332.5h1v1h-1zM183.4 360.5h1v1h-1zM183.4 362.5h1v1h-1zM183.4 366.5h1v1h-1zM183.4 367.5h1v1h-1zM183.4 369.5h1v1h-1zM183.4 370.5h1v1h-1zM183.4 372.5h1v1h-1zM183.4 373.5h1v1h-1zM183.4 375.5h1v1h-1zM183.4 376.5h1v1h-1zM183.4 377.5h1v1h-1zM183.4 378.5h1v1h-1zM183.4 379.5h1v1h-1zM183.4 380.5h1v1h-1zM183.4 381.5h1v1h-1zM183.4 382.5h1v1h-1zM183.4 384.5h1v1h-1zM184.4 366.5h1v1h-1zM184.4 367.5h1v1h-1zM184.4 368.5h1v1h-1zM184.4 371.5h1v1h-1zM184.4 373.5h1v1h-1zM184.4 374.5h1v1h-1zM184.4 375.5h1v1h-1zM184.4 376.5h1v1h-1zM184.4 377.5h1v1h-1zM184.4 379.5h1v1h-1zM184.4 380.5h1v1h-1zM184.4 381.5h1v1h-1zM184.4 382.5h1v1h-1zM184.4 383.5h1v1h-1zM184.4 384.5h1v1h-1zM185.4 355.5h1v1h-1zM185.4 358.5h1v1h-1zM185.4 366.5h1v1h-1zM185.4 368.5h1v1h-1zM185.4 373.5h1v1h-1zM185.4 376.5h1v1h-1zM185.4 377.5h1v1h-1zM185.4 378.5h1v1h-1zM185.4 379.5h1v1h-1zM185.4 380.5h1v1h-1zM185.4 381.5h1v1h-1zM185.4 382.5h1v1h-1zM185.4 383.5h1v1h-1zM185.4 385.5h1v1h-1zM186.4 363.5h1v1h-1zM186.4 366.5h1v1h-1zM186.4 367.5h1v1h-1zM186.4 372.5h1v1h-1zM186.4 374.5h1v1h-1zM186.4 377.5h1v1h-1zM186.4 379.5h1v1h-1zM186.4 380.5h1v1h-1zM186.4 381.5h1v1h-1zM186.4 382.5h1v1h-1zM186.4 384.5h1v1h-1zM186.4 385.5h1v1h-1zM187.4 358.5h1v1h-1zM187.4 371.5h1v1h-1zM187.4 373.5h1v1h-1zM187.4 375.5h1v1h-1zM187.4 376.5h1v1h-1zM187.4 377.5h1v1h-1zM187.4 378.5h1v1h-1zM187.4 379.5h1v1h-1zM187.4 380.5h1v1h-1zM187.4 381.5h1v1h-1zM187.4 382.5h1v1h-1zM187.4 383.5h1v1h-1zM187.4 384.5h1v1h-1zM188.4 346.5h1v1h-1zM188.4 361.5h1v1h-1zM188.4 365.5h1v1h-1zM188.4 366.5h1v1h-1zM188.4 367.5h1v1h-1zM188.4 372.5h1v1h-1zM188.4 373.5h1v1h-1zM188.4 375.5h1v1h-1zM188.4 376.5h1v1h-1zM188.4 377.5h1v1h-1zM188.4 378.5h1v1h-1zM188.4 379.5h1v1h-1zM188.4 380.5h1v1h-1zM188.4 381.5h1v1h-1zM188.4 384.5h1v1h-1zM189.4 364.5h1v1h-1zM189.4 366.5h1v1h-1zM189.4 367.5h1v1h-1zM189.4 370.5h1v1h-1zM189.4 371.5h1v1h-1zM189.4 372.5h1v1h-1zM189.4 373.5h1v1h-1zM189.4 375.5h1v1h-1zM189.4 377.5h1v1h-1zM189.4 378.5h1v1h-1zM189.4 379.5h1v1h-1zM189.4 380.5h1v1h-1zM189.4 381.5h1v1h-1zM189.4 382.5h1v1h-1zM189.4 383.5h1v1h-1zM189.4 384.5h1v1h-1zM190.4 357.5h1v1h-1zM190.4 359.5h1v1h-1zM190.4 361.5h1v1h-1zM190.4 363.5h1v1h-1zM190.4 364.5h1v1h-1zM190.4 366.5h1v1h-1zM190.4 370.5h1v1h-1zM190.4 373.5h1v1h-1zM190.4 375.5h1v1h-1zM190.4 376.5h1v1h-1zM190.4 377.5h1v1h-1zM190.4 378.5h1v1h-1zM190.4 379.5h1v1h-1zM190.4 380.5h1v1h-1zM190.4 381.5h1v1h-1zM190.4 382.5h1v1h-1zM190.4 383.5h1v1h-1zM191.4 356.5h1v1h-1zM191.4 361.5h1v1h-1zM191.4 362.5h1v1h-1zM191.4 367.5h1v1h-1zM191.4 369.5h1v1h-1zM191.4 370.5h1v1h-1zM191.4 371.5h1v1h-1zM191.4 372.5h1v1h-1zM191.4 373.5h1v1h-1zM191.4 375.5h1v1h-1zM191.4 376.5h1v1h-1zM191.4 377.5h1v1h-1zM191.4 378.5h1v1h-1zM191.4 379.5h1v1h-1zM191.4 380.5h1v1h-1zM191.4 381.5h1v1h-1zM191.4 382.5h1v1h-1zM191.4 383.5h1v1h-1zM191.4 384.5h1v1h-1zM192.4 357.5h1v1h-1zM192.4 358.5h1v1h-1zM192.4 363.5h1v1h-1zM192.4 365.5h1v1h-1zM192.4 369.5h1v1h-1zM192.4 370.5h1v1h-1zM192.4 373.5h1v1h-1zM192.4 374.5h1v1h-1zM192.4 375.5h1v1h-1zM192.4 376.5h1v1h-1zM192.4 377.5h1v1h-1zM192.4 378.5h1v1h-1zM192.4 379.5h1v1h-1zM192.4 381.5h1v1h-1zM192.4 382.5h1v1h-1zM192.4 383.5h1v1h-1zM192.4 384.5h1v1h-1zM193.4 367.5h1v1h-1zM193.4 368.5h1v1h-1zM193.4 370.5h1v1h-1zM193.4 378.5h1v1h-1zM193.4 379.5h1v1h-1zM193.4 380.5h1v1h-1zM193.4 381.5h1v1h-1zM193.4 382.5h1v1h-1zM193.4 383.5h1v1h-1zM193.4 384.5h1v1h-1zM193.4 385.5h1v1h-1zM194.4 350.5h1v1h-1zM194.4 351.5h1v1h-1zM194.4 355.5h1v1h-1zM194.4 358.5h1v1h-1zM194.4 365.5h1v1h-1zM194.4 367.5h1v1h-1zM194.4 377.5h1v1h-1zM194.4 378.5h1v1h-1zM194.4 379.5h1v1h-1zM194.4 380.5h1v1h-1zM194.4 382.5h1v1h-1zM194.4 383.5h1v1h-1zM195.4 343.5h1v1h-1zM195.4 366.5h1v1h-1zM195.4 372.5h1v1h-1zM195.4 374.5h1v1h-1zM195.4 376.5h1v1h-1zM195.4 378.5h1v1h-1zM195.4 379.5h1v1h-1zM195.4 380.5h1v1h-1zM195.4 382.5h1v1h-1zM195.4 383.5h1v1h-1zM196.4 377.5h1v1h-1zM196.4 379.5h1v1h-1zM196.4 381.5h1v1h-1zM196.4 382.5h1v1h-1zM196.4 383.5h1v1h-1zM196.4 384.5h1v1h-1zM196.4 387.5h1v1h-1zM197.4 335.5h1v1h-1zM197.4 372.5h1v1h-1zM197.4 373.5h1v1h-1zM197.4 376.5h1v1h-1zM197.4 383.5h1v1h-1zM197.4 384.5h1v1h-1zM197.4 385.5h1v1h-1zM198.4 377.5h1v1h-1zM198.4 379.5h1v1h-1zM198.4 380.5h1v1h-1zM198.4 381.5h1v1h-1zM198.4 382.5h1v1h-1zM198.4 384.5h1v1h-1zM198.4 385.5h1v1h-1zM198.4 386.5h1v1h-1zM199.4 355.5h1v1h-1zM199.4 365.5h1v1h-1zM199.4 369.5h1v1h-1zM199.4 374.5h1v1h-1zM199.4 380.5h1v1h-1zM199.4 382.5h1v1h-1zM199.4 385.5h1v1h-1zM200.4 375.5h1v1h-1zM200.4 379.5h1v1h-1zM200.4 382.5h1v1h-1zM200.4 385.5h1v1h-1zM201.4 377.5h1v1h-1zM201.4 378.5h1v1h-1zM201.4 379.5h1v1h-1zM201.4 380.5h1v1h-1zM201.4 381.5h1v1h-1zM201.4 383.5h1v1h-1zM201.4 385.5h1v1h-1zM202.4 377.5h1v1h-1zM202.4 382.5h1v1h-1zM202.4 383.5h1v1h-1zM202.4 385.5h1v1h-1zM202.4 388.5h1v1h-1zM203.4 369.5h1v1h-1zM203.4 379.5h1v1h-1zM203.4 385.5h1v1h-1zM204.4 370.5h1v1h-1zM204.4 380.5h1v1h-1zM204.4 382.5h1v1h-1zM204.4 384.5h1v1h-1zM204.4 389.5h1v1h-1zM205.4 385.5h1v1h-1zM205.4 391.5h1v1h-1zM206.4 357.5h1v1h-1zM206.4 361.5h1v1h-1zM206.4 374.5h1v1h-1zM206.4 383.5h1v1h-1zM206.4 384.5h1v1h-1zM206.4 392.5h1v1h-1zM207.4 387.5h1v1h-1zM207.4 390.5h1v1h-1zM208.4 389.5h1v1h-1zM208.4 391.5h1v1h-1zM209.4 388.5h1v1h-1zM210.4 387.5h1v1h-1zM210.4 390.5h1v1h-1zM211.4 361.5h1v1h-1zM211.4 390.5h1v1h-1zM212.4 358.5h1v1h-1zM213.4 336.5h1v1h-1zM213.4 339.5h1v1h-1zM213.4 355.5h1v1h-1zM213.4 378.5h1v1h-1zM213.4 382.5h1v1h-1zM213.4 389.5h1v1h-1zM214.4 384.5h1v1h-1zM214.4 391.5h1v1h-1zM215.4 366.5h1v1h-1zM216.4 391.5h1v1h-1zM216.4 393.5h1v1h-1zM217.4 377.5h1v1h-1zM217.4 385.5h1v1h-1zM217.4 390.5h1v1h-1zM217.4 392.5h1v1h-1zM217.4 393.5h1v1h-1zM218.4 328.5h1v1h-1zM218.4 388.5h1v1h-1zM218.4 389.5h1v1h-1zM219.4 376.5h1v1h-1zM219.4 382.5h1v1h-1zM219.4 390.5h1v1h-1zM220.4 336.5h1v1h-1zM220.4 338.5h1v1h-1zM220.4 387.5h1v1h-1zM220.4 391.5h1v1h-1zM220.4 392.5h1v1h-1zM220.4 393.5h1v1h-1zM221.4 386.5h1v1h-1zM221.4 390.5h1v1h-1zM221.4 391.5h1v1h-1zM221.4 393.5h1v1h-1zM222.4 354.5h1v1h-1zM222.4 382.5h1v1h-1zM222.4 384.5h1v1h-1zM222.4 393.5h1v1h-1zM223.4 384.5h1v1h-1zM223.4 393.5h1v1h-1zM224.4 362.5h1v1h-1zM225.4 392.5h1v1h-1zM226.4 390.5h1v1h-1zM226.4 391.5h1v1h-1zM228.4 334.5h1v1h-1zM228.4 380.5h1v1h-1zM228.4 394.5h1v1h-1zM228.4 397.5h1v1h-1zM228.4 398.5h1v1h-1zM229.4 385.5h1v1h-1zM229.4 389.5h1v1h-1zM229.4 394.5h1v1h-1zM231.4 383.5h1v1h-1zM231.4 399.5h1v1h-1zM231.4 401.5h1v1h-1zM232.4 387.5h1v1h-1zM232.4 401.5h1v1h-1zM234.4 375.5h1v1h-1zM234.4 381.5h1v1h-1zM235.4 343.5h1v1h-1zM235.4 375.5h1v1h-1zM236.4 390.5h1v1h-1zM236.4 399.5h1v1h-1zM237.4 387.5h1v1h-1zM237.4 408.5h1v1h-1zM238.4 410.5h1v1h-1zM238.4 413.5h1v1h-1zM238.4 414.5h1v1h-1zM238.4 425.5h1v1h-1zM239.4 366.5h1v1h-1zM239.4 415.5h1v1h-1zM240.4 384.5h1v1h-1zM240.4 390.5h1v1h-1zM240.4 420.5h1v1h-1zM240.4 424.5h1v1h-1zM241.4 366.5h1v1h-1zM241.4 409.5h1v1h-1zM241.4 416.5h1v1h-1zM241.4 422.5h1v1h-1zM245.4 367.5h1v1h-1zM248.4 378.5h1v1h-1zM253.4 354.5h1v1h-1z" fill="#0a0a80"/>
</g>
<path d="M210.90 324.50V426.90M178.40 385.30H279.30" stroke="#8c8c8c" stroke-width="1" fill="none"/>
<rect x="178.40" y="324.50" width="100.90" height="102.40" fill="none" stroke="#8a8a8a" stroke-width="1.1"/>
<text x="180.40" y="334.50" font-size="10.8">0.08</text>
<text x="278.70" y="334.50" font-size="10.8" text-anchor="end">0.01</text>
<text x="179.00" y="442.00" font-size="10.3" text-anchor="middle">10<tspan font-size="7" dy="-6">0</tspan></text>
<text x="204.22" y="442.00" font-size="10.3" text-anchor="middle">10<tspan font-size="7" dy="-6">1</tspan></text>
<text x="229.45" y="442.00" font-size="10.3" text-anchor="middle">10<tspan font-size="7" dy="-6">2</tspan></text>
<text x="254.68" y="442.00" font-size="10.3" text-anchor="middle">10<tspan font-size="7" dy="-6">3</tspan></text>
<text x="279.90" y="442.00" font-size="10.3" text-anchor="middle">10<tspan font-size="7" dy="-6">4</tspan></text>
<text x="174.20" y="431.20" font-size="10.3" text-anchor="end">10<tspan font-size="7" dy="-6">0</tspan></text>
<text x="174.20" y="405.60" font-size="10.3" text-anchor="end">10<tspan font-size="7" dy="-6">1</tspan></text>
<text x="174.20" y="380.00" font-size="10.3" text-anchor="end">10<tspan font-size="7" dy="-6">2</tspan></text>
<text x="174.20" y="354.40" font-size="10.3" text-anchor="end">10<tspan font-size="7" dy="-6">3</tspan></text>
<text x="174.20" y="328.80" font-size="10.3" text-anchor="end">10<tspan font-size="7" dy="-6">4</tspan></text>
<clipPath id="c22"><rect x="332.20" y="324.50" width="100.90" height="102.40"/></clipPath>
<g clip-path="url(#c22)">
<path d="M343.2 387.5h1v1h-1zM340.2 388.5h2v1h-2zM343.2 388.5h2v1h-2zM346.2 388.5h1v1h-1zM333.2 389.5h1v1h-1zM335.2 389.5h1v1h-1zM337.2 389.5h10v1h-10zM349.2 389.5h1v1h-1zM351.2 389.5h1v1h-1zM332.2 390.5h3v1h-3zM337.2 390.5h1v1h-1zM339.2 390.5h2v1h-2zM342.2 390.5h1v1h-1zM344.2 390.5h8v1h-8zM354.2 390.5h2v1h-2zM332.2 391.5h23v1h-23zM356.2 391.5h1v1h-1zM332.2 392.5h26v1h-26zM359.2 392.5h1v1h-1zM332.2 393.5h29v1h-29zM363.2 393.5h1v1h-1zM332.2 394.5h28v1h-28zM361.2 394.5h1v1h-1zM332.2 395.5h33v1h-33zM368.2 395.5h2v1h-2zM372.2 395.5h2v1h-2zM332.2 396.5h33v1h-33zM366.2 396.5h8v1h-8zM376.2 396.5h2v1h-2zM332.2 397.5h46v1h-46zM379.2 397.5h3v1h-3zM332.2 398.5h42v1h-42zM375.2 398.5h6v1h-6zM382.2 398.5h3v1h-3zM332.2 399.5h53v1h-53zM332.2 400.5h54v1h-54zM332.2 401.5h56v1h-56zM332.2 402.5h56v1h-56zM332.2 403.5h55v1h-55zM388.2 403.5h1v1h-1zM332.2 404.5h57v1h-57zM332.2 405.5h58v1h-58zM332.2 406.5h57v1h-57zM332.2 407.5h57v1h-57zM390.2 407.5h1v1h-1zM332.2 408.5h59v1h-59zM332.2 409.5h58v1h-58zM392.2 409.5h1v1h-1zM332.2 410.5h59v1h-59zM332.2 411.5h59v1h-59zM332.2 412.5h58v1h-58zM332.2 413.5h58v1h-58zM391.2 413.5h1v1h-1zM332.2 414.5h59v1h-59zM332.2 415.5h59v1h-59zM332.2 416.5h60v1h-60zM332.2 417.5h59v1h-59zM332.2 418.5h59v1h-59zM332.2 419.5h57v1h-57zM390.2 419.5h1v1h-1zM332.2 420.5h59v1h-59zM332.2 421.5h60v1h-60zM332.2 422.5h59v1h-59zM332.2 423.5h61v1h-61zM332.2 424.5h59v1h-59zM332.2 425.5h58v1h-58zM391.2 425.5h1v1h-1z" fill="#0c0c8a"/>
<g filter="url(#bl)">
<path d="M340.4 392.8L339.9 393.2L337.4 393.2L336.9 393.8L335.4 393.8L334.9 394.2L334.4 394.2L333.9 394.8L333.4 394.8L332.9 395.2L332.4 395.2L331.9 395.8L331.4 395.8L330.4 396.8L329.9 396.8L329.4 397.2L329.4 429.8L387.9 429.8L387.9 415.8L387.4 415.2L387.4 412.2L386.9 411.8L386.9 410.8L386.4 410.2L386.4 409.2L385.9 408.8L385.9 408.2L385.4 407.8L385.4 407.2L384.9 406.8L384.9 406.2L381.9 403.2L381.4 403.2L380.9 402.8L380.4 402.8L379.9 402.2L379.4 402.2L378.9 401.8L377.4 401.8L376.9 401.2L374.4 401.2L373.9 400.8L368.4 400.8L367.9 400.2L366.4 400.2L365.9 399.8L365.4 399.8L364.9 399.2L364.4 399.2L363.9 398.8L363.4 398.8L362.9 398.2L362.4 398.2L361.9 397.8L361.4 397.8L360.9 397.2L360.4 397.2L359.9 396.8L359.4 396.8L358.9 396.2L358.4 396.2L357.9 395.8L357.4 395.8L356.9 395.2L356.4 395.2L355.9 394.8L354.9 394.8L354.4 394.2L353.4 394.2L352.9 393.8L351.9 393.8L351.4 393.2L348.9 393.2L348.4 392.8Z" fill="#0a1cc4" fill-rule="evenodd"/>
<path d="M338.9 394.2L338.4 394.8L336.9 394.8L336.4 395.2L335.4 395.2L334.9 395.8L334.4 395.8L333.9 396.2L333.4 396.2L332.9 396.8L332.4 396.8L331.4 397.8L330.9 397.8L329.4 399.2L329.4 429.8L385.9 429.8L385.9 418.2L385.4 417.8L385.4 414.2L384.9 413.8L384.9 412.2L384.4 411.8L384.4 410.8L383.9 410.2L383.9 409.8L383.4 409.2L383.4 408.8L379.9 405.2L379.4 405.2L378.9 404.8L377.9 404.8L377.4 404.2L376.4 404.2L375.9 403.8L372.9 403.8L372.4 403.2L368.9 403.2L368.4 402.8L367.4 402.8L366.9 402.2L366.4 402.2L365.9 401.8L365.4 401.8L364.9 401.2L364.4 401.2L363.9 400.8L363.4 400.8L362.9 400.2L362.4 400.2L361.4 399.2L360.9 399.2L359.9 398.2L359.4 398.2L358.9 397.8L358.4 397.8L357.9 397.2L357.4 397.2L356.9 396.8L356.4 396.8L355.9 396.2L355.4 396.2L354.9 395.8L353.9 395.8L353.4 395.2L352.4 395.2L351.9 394.8L349.9 394.8L349.4 394.2Z" fill="#0c3cec" fill-rule="evenodd"/>
<path d="M340.4 395.2L339.9 395.8L337.9 395.8L337.4 396.2L335.9 396.2L335.4 396.8L334.9 396.8L334.4 397.2L333.9 397.2L333.4 397.8L332.9 397.8L331.9 398.8L331.4 398.8L329.4 400.8L329.4 429.8L382.4 429.8L382.9 429.2L382.9 424.2L382.4 423.8L382.4 416.8L381.9 416.2L381.9 414.8L381.4 414.2L381.4 413.2L380.9 412.8L380.9 412.2L380.4 411.8L380.4 411.2L378.4 409.2L377.9 409.2L376.9 408.2L375.9 408.2L375.4 407.8L373.9 407.8L373.4 407.2L370.9 407.2L370.4 406.8L369.4 406.8L368.9 406.2L368.4 406.2L367.4 405.2L366.9 405.2L366.4 404.8L365.9 404.8L364.4 403.2L363.9 403.2L361.9 401.2L361.4 401.2L359.9 399.8L359.4 399.8L358.4 398.8L357.9 398.8L357.4 398.2L356.9 398.2L356.4 397.8L355.9 397.8L355.4 397.2L354.9 397.2L354.4 396.8L353.4 396.8L352.9 396.2L351.9 396.2L351.4 395.8L348.9 395.8L348.4 395.2Z" fill="#1468f4" fill-rule="evenodd"/>
<path d="M339.4 396.8L338.9 397.2L337.4 397.2L336.9 397.8L335.9 397.8L335.4 398.2L334.9 398.2L334.4 398.8L333.9 398.8L332.9 399.8L332.4 399.8L329.9 402.2L329.9 402.8L329.4 403.2L329.4 429.8L365.9 429.8L365.9 428.8L366.4 428.2L366.4 427.2L366.9 426.8L366.9 424.2L367.4 423.8L367.4 414.8L366.9 414.2L366.9 412.2L366.4 411.8L366.4 411.2L365.9 410.8L365.9 409.8L365.4 409.2L365.4 408.8L364.4 407.8L364.4 407.2L363.4 406.2L363.4 405.8L361.4 403.8L361.4 403.2L360.4 402.2L359.9 402.2L357.9 400.2L357.4 400.2L356.4 399.2L355.9 399.2L355.4 398.8L354.9 398.8L354.4 398.2L353.9 398.2L353.4 397.8L352.4 397.8L351.9 397.2L349.9 397.2L349.4 396.8Z" fill="#1c9cf0" fill-rule="evenodd"/>
<path d="M340.9 397.8L340.4 398.2L338.4 398.2L337.9 398.8L336.9 398.8L336.4 399.2L335.9 399.2L335.4 399.8L334.9 399.8L334.4 400.2L333.9 400.2L332.4 401.8L331.9 401.8L331.9 402.2L329.9 404.2L329.9 404.8L329.4 405.2L329.4 428.8L330.4 429.8L361.4 429.8L361.9 429.2L361.9 428.8L362.4 428.2L362.4 427.2L362.9 426.8L362.9 425.8L363.4 425.2L363.4 422.8L363.9 422.2L363.9 413.2L363.4 412.8L363.4 410.8L362.9 410.2L362.9 409.2L362.4 408.8L362.4 408.2L361.9 407.8L361.9 407.2L361.4 406.8L361.4 406.2L360.9 405.8L360.9 405.2L356.4 400.8L355.9 400.8L355.4 400.2L354.9 400.2L354.4 399.8L353.9 399.8L353.4 399.2L352.9 399.2L352.4 398.8L351.4 398.8L350.9 398.2L348.9 398.2L348.4 397.8Z" fill="#20c8e0" fill-rule="evenodd"/>
<path d="M339.9 399.2L339.4 399.8L337.9 399.8L337.4 400.2L336.4 400.2L335.9 400.8L335.4 400.8L334.4 401.8L333.9 401.8L331.4 404.2L331.4 404.8L330.9 405.2L330.9 405.8L329.9 406.8L329.9 407.8L329.4 408.2L329.4 425.8L329.9 426.2L329.9 426.8L330.4 427.2L330.4 427.8L330.9 428.2L330.9 428.8L331.9 429.8L358.9 429.8L359.4 429.2L359.4 428.8L359.9 428.2L359.9 427.8L360.4 427.2L360.4 426.2L360.9 425.8L360.9 424.8L361.4 424.2L361.4 421.8L361.9 421.2L361.9 413.8L361.4 413.2L361.4 410.8L360.9 410.2L360.9 409.2L360.4 408.8L360.4 407.8L359.9 407.2L359.9 406.8L358.9 405.8L358.9 405.2L355.4 401.8L354.9 401.8L354.4 401.2L353.9 401.2L353.4 400.8L352.9 400.8L352.4 400.2L351.9 400.2L351.4 399.8L349.9 399.8L349.4 399.2Z" fill="#26e8b0" fill-rule="evenodd"/>
<path d="M339.9 401.2L339.4 401.8L338.4 401.8L337.9 402.2L336.9 402.2L335.9 403.2L335.4 403.2L332.4 406.2L332.4 406.8L331.9 407.2L331.9 407.8L331.4 408.2L331.4 408.8L330.9 409.2L330.9 410.8L330.4 411.2L330.4 413.8L329.9 414.2L329.9 419.8L330.4 420.2L330.4 422.8L330.9 423.2L330.9 424.2L331.4 424.8L331.4 425.8L331.9 426.2L331.9 426.8L332.9 427.8L332.9 428.2L334.4 429.8L355.4 429.8L356.9 428.2L356.9 427.8L357.4 427.2L357.4 426.8L357.9 426.2L357.9 425.8L358.4 425.2L358.4 424.2L358.9 423.8L358.9 421.8L359.4 421.2L359.4 413.2L358.9 412.8L358.9 410.8L358.4 410.2L358.4 409.2L357.9 408.8L357.9 408.2L357.4 407.8L357.4 407.2L356.9 406.8L356.9 406.2L353.9 403.2L353.4 403.2L352.9 402.8L352.4 402.8L351.9 402.2L351.4 402.2L350.9 401.8L349.9 401.8L349.4 401.2Z" fill="#30f070" fill-rule="evenodd"/>
<path d="M342.9 408.8L342.4 409.2L340.9 409.2L340.4 409.8L339.9 409.8L338.4 411.2L338.4 411.8L337.9 412.2L337.9 412.8L337.4 413.2L337.4 415.2L336.9 415.8L336.9 418.2L337.4 418.8L337.4 420.8L337.9 421.2L337.9 421.8L338.9 422.8L338.9 423.2L339.4 423.2L340.4 424.2L340.9 424.2L341.4 424.8L343.4 424.8L343.9 425.2L345.9 425.2L346.4 424.8L347.9 424.8L348.9 423.8L349.4 423.8L350.4 422.8L350.4 422.2L350.9 421.8L350.9 421.2L351.4 420.8L351.4 413.2L350.9 412.8L350.9 412.2L350.4 411.8L350.4 411.2L348.9 409.8L348.4 409.8L347.9 409.2L346.9 409.2L346.4 408.8Z" fill="#50f038" fill-rule="evenodd"/>
</g>
<rect x="332.2" y="425.30" width="30" height="1.2" fill="#6a5a20" fill-opacity="0.55"/>
<path d="M332.2 382.5h1v1h-1zM332.2 389.5h1v1h-1zM334.2 382.5h1v1h-1zM334.2 388.5h1v1h-1zM335.2 384.5h1v1h-1zM336.2 383.5h1v1h-1zM336.2 386.5h1v1h-1zM336.2 387.5h1v1h-1zM337.2 384.5h1v1h-1zM337.2 388.5h1v1h-1zM338.2 387.5h1v1h-1zM338.2 388.5h1v1h-1zM340.2 381.5h1v1h-1zM341.2 380.5h1v1h-1zM341.2 387.5h1v1h-1zM342.2 385.5h1v1h-1zM342.2 387.5h1v1h-1zM344.2 387.5h1v1h-1zM346.2 387.5h1v1h-1zM347.2 386.5h1v1h-1zM348.2 384.5h1v1h-1zM348.2 388.5h1v1h-1zM349.2 386.5h1v1h-1zM351.2 384.5h1v1h-1zM351.2 388.5h1v1h-1zM352.2 386.5h1v1h-1zM352.2 388.5h1v1h-1zM353.2 383.5h1v1h-1zM353.2 384.5h1v1h-1zM353.2 388.5h1v1h-1zM354.2 382.5h1v1h-1zM354.2 389.5h1v1h-1zM355.2 389.5h1v1h-1zM356.2 388.5h1v1h-1zM357.2 388.5h1v1h-1zM358.2 379.5h1v1h-1zM358.2 389.5h1v1h-1zM358.2 390.5h1v1h-1zM359.2 391.5h1v1h-1zM360.2 380.5h1v1h-1zM360.2 392.5h1v1h-1zM361.2 383.5h1v1h-1zM362.2 393.5h1v1h-1zM368.2 387.5h1v1h-1zM370.2 389.5h1v1h-1zM370.2 390.5h1v1h-1zM377.2 395.5h1v1h-1zM381.2 396.5h1v1h-1zM382.2 396.5h1v1h-1zM383.2 394.5h1v1h-1zM383.2 397.5h1v1h-1zM387.2 396.5h1v1h-1zM387.2 399.5h1v1h-1zM388.2 401.5h1v1h-1zM388.2 402.5h1v1h-1zM389.2 402.5h1v1h-1zM390.2 403.5h1v1h-1zM391.2 406.5h1v1h-1zM392.2 417.5h1v1h-1zM392.2 421.5h1v1h-1zM392.2 422.5h1v1h-1zM393.2 412.5h1v1h-1zM393.2 414.5h1v1h-1zM393.2 417.5h1v1h-1zM393.2 423.5h1v1h-1zM395.2 415.5h1v1h-1z" fill="#0a0a80"/>
</g>
<path d="M364.70 324.50V426.90M332.20 385.30H433.10" stroke="#8c8c8c" stroke-width="1" fill="none"/>
<rect x="332.20" y="324.50" width="100.90" height="102.40" fill="none" stroke="#8a8a8a" stroke-width="1.1"/>
<text x="334.20" y="334.50" font-size="10.8">0.00</text>
<text x="432.50" y="334.50" font-size="10.8" text-anchor="end">0.00</text>
<text x="332.80" y="442.00" font-size="10.3" text-anchor="middle">10<tspan font-size="7" dy="-6">0</tspan></text>
<text x="358.03" y="442.00" font-size="10.3" text-anchor="middle">10<tspan font-size="7" dy="-6">1</tspan></text>
<text x="383.25" y="442.00" font-size="10.3" text-anchor="middle">10<tspan font-size="7" dy="-6">2</tspan></text>
<text x="408.48" y="442.00" font-size="10.3" text-anchor="middle">10<tspan font-size="7" dy="-6">3</tspan></text>
<text x="433.70" y="442.00" font-size="10.3" text-anchor="middle">10<tspan font-size="7" dy="-6">4</tspan></text>
<text x="328.00" y="431.20" font-size="10.3" text-anchor="end">10<tspan font-size="7" dy="-6">0</tspan></text>
<text x="328.00" y="405.60" font-size="10.3" text-anchor="end">10<tspan font-size="7" dy="-6">1</tspan></text>
<text x="328.00" y="380.00" font-size="10.3" text-anchor="end">10<tspan font-size="7" dy="-6">2</tspan></text>
<text x="328.00" y="354.40" font-size="10.3" text-anchor="end">10<tspan font-size="7" dy="-6">3</tspan></text>
<text x="328.00" y="328.80" font-size="10.3" text-anchor="end">10<tspan font-size="7" dy="-6">4</tspan></text>
<clipPath id="c23"><rect x="455.40" y="324.50" width="100.90" height="102.40"/></clipPath>
<g clip-path="url(#c23)">
<path d="M465.4 387.5h1v1h-1zM461.4 388.5h1v1h-1zM464.4 388.5h1v1h-1zM466.4 388.5h1v1h-1zM469.4 388.5h3v1h-3zM478.4 388.5h1v1h-1zM457.4 389.5h1v1h-1zM459.4 389.5h1v1h-1zM461.4 389.5h2v1h-2zM465.4 389.5h11v1h-11zM481.4 389.5h1v1h-1zM457.4 390.5h20v1h-20zM478.4 390.5h3v1h-3zM455.4 391.5h1v1h-1zM459.4 391.5h21v1h-21zM481.4 391.5h2v1h-2zM455.4 392.5h26v1h-26zM482.4 392.5h2v1h-2zM485.4 392.5h1v1h-1zM491.4 392.5h1v1h-1zM455.4 393.5h32v1h-32zM493.4 393.5h1v1h-1zM455.4 394.5h31v1h-31zM487.4 394.5h3v1h-3zM491.4 394.5h4v1h-4zM497.4 394.5h1v1h-1zM455.4 395.5h44v1h-44zM500.4 395.5h1v1h-1zM502.4 395.5h1v1h-1zM504.4 395.5h1v1h-1zM455.4 396.5h40v1h-40zM496.4 396.5h8v1h-8zM455.4 397.5h42v1h-42zM498.4 397.5h8v1h-8zM455.4 398.5h47v1h-47zM503.4 398.5h2v1h-2zM506.4 398.5h1v1h-1zM455.4 399.5h50v1h-50zM506.4 399.5h3v1h-3zM455.4 400.5h54v1h-54zM455.4 401.5h55v1h-55zM455.4 402.5h54v1h-54zM455.4 403.5h54v1h-54zM510.4 403.5h1v1h-1zM455.4 404.5h55v1h-55zM455.4 405.5h57v1h-57zM455.4 406.5h57v1h-57zM455.4 407.5h57v1h-57zM455.4 408.5h58v1h-58zM455.4 409.5h57v1h-57zM455.4 410.5h57v1h-57zM455.4 411.5h58v1h-58zM455.4 412.5h58v1h-58zM455.4 413.5h59v1h-59zM515.4 413.5h1v1h-1zM455.4 414.5h57v1h-57zM513.4 414.5h1v1h-1zM455.4 415.5h59v1h-59zM455.4 416.5h57v1h-57zM513.4 416.5h1v1h-1zM455.4 417.5h58v1h-58zM455.4 418.5h56v1h-56zM513.4 418.5h2v1h-2zM455.4 419.5h58v1h-58zM455.4 420.5h57v1h-57zM513.4 420.5h1v1h-1zM455.4 421.5h58v1h-58zM514.4 421.5h1v1h-1zM455.4 422.5h57v1h-57zM513.4 422.5h2v1h-2zM455.4 423.5h58v1h-58zM455.4 424.5h58v1h-58zM455.4 425.5h59v1h-59z" fill="#0c0c8a"/>
<g filter="url(#bl)">
<path d="M462.6 392.8L462.1 393.2L460.1 393.2L459.6 393.8L458.6 393.8L458.1 394.2L457.1 394.2L456.6 394.8L456.1 394.8L455.6 395.2L455.1 395.2L454.6 395.8L454.1 395.8L452.6 397.2L452.6 429.8L510.6 429.8L510.6 419.2L510.1 418.8L510.1 414.8L509.6 414.2L509.6 412.8L509.1 412.2L509.1 410.8L508.6 410.2L508.6 409.8L508.1 409.2L508.1 408.8L507.6 408.2L507.6 407.8L507.1 407.2L507.1 406.8L506.1 405.8L506.1 405.2L504.6 403.8L504.1 403.8L503.1 402.8L502.6 402.8L502.1 402.2L501.6 402.2L501.1 401.8L500.6 401.8L500.1 401.2L499.1 401.2L498.6 400.8L496.6 400.8L496.1 400.2L494.1 400.2L493.6 399.8L492.1 399.8L491.6 399.2L491.1 399.2L490.6 398.8L490.1 398.8L489.6 398.2L489.1 398.2L488.6 397.8L487.6 397.8L487.1 397.2L486.6 397.2L486.1 396.8L485.6 396.8L485.1 396.2L484.6 396.2L484.1 395.8L483.6 395.8L483.1 395.2L482.6 395.2L482.1 394.8L481.1 394.8L480.6 394.2L479.6 394.2L479.1 393.8L477.6 393.8L477.1 393.2L475.1 393.2L474.6 392.8Z" fill="#0a1cc4" fill-rule="evenodd"/>
<path d="M464.6 393.8L464.1 394.2L461.6 394.2L461.1 394.8L459.6 394.8L459.1 395.2L458.1 395.2L457.6 395.8L457.1 395.8L456.6 396.2L456.1 396.2L455.6 396.8L455.1 396.8L454.1 397.8L453.6 397.8L452.6 398.8L452.6 429.8L508.6 429.8L508.6 419.8L508.1 419.2L508.1 415.8L507.6 415.2L507.6 413.8L507.1 413.2L507.1 412.2L506.6 411.8L506.6 410.8L506.1 410.2L506.1 409.8L505.6 409.2L505.6 408.8L501.6 404.8L501.1 404.8L500.6 404.2L499.6 404.2L499.1 403.8L498.6 403.8L498.1 403.2L496.6 403.2L496.1 402.8L494.6 402.8L494.1 402.2L493.1 402.2L492.6 401.8L492.1 401.8L491.6 401.2L491.1 401.2L490.6 400.8L490.1 400.8L489.6 400.2L489.1 400.2L488.6 399.8L488.1 399.8L487.6 399.2L487.1 399.2L486.1 398.2L485.6 398.2L485.1 397.8L484.6 397.8L484.1 397.2L483.6 397.2L483.1 396.8L482.6 396.8L482.1 396.2L481.6 396.2L481.1 395.8L480.1 395.8L479.6 395.2L478.6 395.2L478.1 394.8L476.1 394.8L475.6 394.2L473.1 394.2L472.6 393.8Z" fill="#0c3cec" fill-rule="evenodd"/>
<path d="M466.6 394.8L466.1 395.2L462.1 395.2L461.6 395.8L460.1 395.8L459.6 396.2L458.6 396.2L458.1 396.8L457.6 396.8L457.1 397.2L456.6 397.2L456.1 397.8L455.6 397.8L454.6 398.8L454.1 398.8L452.6 400.2L452.6 429.8L506.1 429.8L506.1 419.2L505.6 418.8L505.6 416.2L505.1 415.8L505.1 414.2L504.6 413.8L504.6 413.2L504.1 412.8L504.1 412.2L503.6 411.8L503.6 411.2L503.1 410.8L503.1 410.2L501.1 408.2L500.6 408.2L499.6 407.2L499.1 407.2L498.6 406.8L498.1 406.8L497.6 406.2L496.6 406.2L496.1 405.8L495.1 405.8L494.6 405.2L494.1 405.2L493.6 404.8L493.1 404.8L492.6 404.2L492.1 404.2L491.1 403.2L490.6 403.2L489.6 402.2L489.1 402.2L488.1 401.2L487.6 401.2L486.6 400.2L486.1 400.2L485.1 399.2L484.6 399.2L483.6 398.2L483.1 398.2L482.6 397.8L482.1 397.8L481.6 397.2L481.1 397.2L480.6 396.8L479.6 396.8L479.1 396.2L478.1 396.2L477.6 395.8L475.6 395.8L475.1 395.2L471.6 395.2L471.1 394.8Z" fill="#1468f4" fill-rule="evenodd"/>
<path d="M464.1 396.2L463.6 396.8L461.1 396.8L460.6 397.2L459.6 397.2L459.1 397.8L458.6 397.8L458.1 398.2L457.6 398.2L457.1 398.8L456.6 398.8L456.1 399.2L455.6 399.2L452.6 402.2L452.6 429.8L501.1 429.8L501.1 420.8L500.6 420.2L500.6 418.2L500.1 417.8L500.1 417.2L499.6 416.8L499.6 415.8L498.1 414.2L498.1 413.8L493.1 408.8L492.6 408.8L490.6 406.8L490.6 406.2L487.1 402.8L486.6 402.8L484.6 400.8L484.1 400.8L483.1 399.8L482.6 399.8L481.6 398.8L481.1 398.8L480.6 398.2L480.1 398.2L479.6 397.8L478.6 397.8L478.1 397.2L477.1 397.2L476.6 396.8L474.1 396.8L473.6 396.2Z" fill="#1c9cf0" fill-rule="evenodd"/>
<path d="M465.1 397.2L464.6 397.8L462.1 397.8L461.6 398.2L460.1 398.2L459.6 398.8L459.1 398.8L458.6 399.2L458.1 399.2L457.6 399.8L457.1 399.8L456.1 400.8L455.6 400.8L453.1 403.2L453.1 403.8L452.6 404.2L452.6 429.8L489.6 429.8L490.1 429.2L490.1 428.8L490.6 428.2L490.6 427.2L491.1 426.8L491.1 424.8L491.6 424.2L491.6 414.8L491.1 414.2L491.1 412.8L490.6 412.2L490.6 411.2L490.1 410.8L490.1 410.2L489.6 409.8L489.6 409.2L489.1 408.8L489.1 408.2L488.1 407.2L488.1 406.8L487.1 405.8L487.1 405.2L483.1 401.2L482.6 401.2L481.6 400.2L481.1 400.2L480.6 399.8L480.1 399.8L479.6 399.2L479.1 399.2L478.6 398.8L478.1 398.8L477.6 398.2L476.1 398.2L475.6 397.8L473.1 397.8L472.6 397.2Z" fill="#20c8e0" fill-rule="evenodd"/>
<path d="M463.1 398.8L462.6 399.2L461.1 399.2L460.6 399.8L459.6 399.8L459.1 400.2L458.6 400.2L457.6 401.2L457.1 401.2L453.6 404.8L453.6 405.2L452.6 406.2L452.6 427.2L453.1 427.8L453.1 428.2L453.6 428.8L453.6 429.2L454.1 429.8L486.1 429.8L486.1 429.2L486.6 428.8L486.6 428.2L487.1 427.8L487.1 427.2L487.6 426.8L487.6 425.2L488.1 424.8L488.1 423.2L488.6 422.8L488.6 413.8L488.1 413.2L488.1 411.2L487.6 410.8L487.6 409.8L487.1 409.2L487.1 408.8L486.6 408.2L486.6 407.8L486.1 407.2L486.1 406.8L485.1 405.8L485.1 405.2L481.6 401.8L481.1 401.8L480.6 401.2L480.1 401.2L479.1 400.2L478.1 400.2L477.6 399.8L477.1 399.8L476.6 399.2L475.1 399.2L474.6 398.8Z" fill="#26e8b0" fill-rule="evenodd"/>
<path d="M465.1 400.2L464.6 400.8L462.6 400.8L462.1 401.2L461.1 401.2L460.6 401.8L460.1 401.8L459.6 402.2L459.1 402.2L458.6 402.8L458.1 402.8L455.1 405.8L455.1 406.2L454.1 407.2L454.1 408.2L453.6 408.8L453.6 409.2L453.1 409.8L453.1 411.2L452.6 411.8L452.6 422.2L453.1 422.8L453.1 423.8L453.6 424.2L453.6 425.2L454.1 425.8L454.1 426.2L454.6 426.8L454.6 427.2L455.6 428.2L455.6 428.8L456.6 429.8L482.1 429.8L483.1 428.8L483.1 428.2L484.1 427.2L484.1 426.2L484.6 425.8L484.6 425.2L485.1 424.8L485.1 423.2L485.6 422.8L485.6 412.2L485.1 411.8L485.1 410.2L484.6 409.8L484.6 409.2L484.1 408.8L484.1 408.2L483.6 407.8L483.6 407.2L483.1 406.8L483.1 406.2L480.1 403.2L479.6 403.2L478.6 402.2L478.1 402.2L477.6 401.8L477.1 401.8L476.6 401.2L475.6 401.2L475.1 400.8L473.1 400.8L472.6 400.2Z" fill="#30f070" fill-rule="evenodd"/>
<path d="M465.1 407.2L464.6 407.8L463.6 407.8L463.1 408.2L462.6 408.2L460.1 410.8L460.1 411.2L459.6 411.8L459.6 412.8L459.1 413.2L459.1 420.2L459.6 420.8L459.6 421.8L460.1 422.2L460.1 422.8L460.6 423.2L460.6 423.8L462.1 425.2L462.6 425.2L463.1 425.8L463.6 425.8L464.1 426.2L465.1 426.2L465.6 426.8L472.1 426.8L472.6 426.2L473.6 426.2L474.1 425.8L474.6 425.8L477.1 423.2L477.1 422.8L477.6 422.2L477.6 421.2L478.1 420.8L478.1 413.2L477.6 412.8L477.6 411.8L476.6 410.8L476.6 410.2L474.6 408.2L474.1 408.2L473.6 407.8L472.6 407.8L472.1 407.2Z" fill="#50f038" fill-rule="evenodd"/>
<path d="M468.6 415.8L468.1 416.2L467.6 416.2L467.6 417.8L469.1 417.8L469.6 417.2L469.6 416.8Z" fill="#80f010" fill-rule="evenodd"/>
</g>
<rect x="455.4" y="425.30" width="34" height="1.2" fill="#6a5a20" fill-opacity="0.55"/>
<path d="M455.4 373.5h1v1h-1zM455.4 378.5h1v1h-1zM455.4 379.5h1v1h-1zM455.4 381.5h1v1h-1zM455.4 384.5h1v1h-1zM455.4 386.5h1v1h-1zM455.4 387.5h1v1h-1zM455.4 388.5h1v1h-1zM455.4 389.5h1v1h-1zM456.4 375.5h1v1h-1zM456.4 378.5h1v1h-1zM456.4 380.5h1v1h-1zM456.4 384.5h1v1h-1zM456.4 385.5h1v1h-1zM456.4 386.5h1v1h-1zM456.4 388.5h1v1h-1zM456.4 389.5h1v1h-1zM457.4 361.5h1v1h-1zM457.4 369.5h1v1h-1zM457.4 370.5h1v1h-1zM457.4 373.5h1v1h-1zM457.4 377.5h1v1h-1zM457.4 378.5h1v1h-1zM457.4 379.5h1v1h-1zM457.4 383.5h1v1h-1zM457.4 384.5h1v1h-1zM457.4 386.5h1v1h-1zM457.4 387.5h1v1h-1zM457.4 388.5h1v1h-1zM458.4 358.5h1v1h-1zM458.4 370.5h1v1h-1zM458.4 377.5h1v1h-1zM458.4 378.5h1v1h-1zM458.4 379.5h1v1h-1zM458.4 380.5h1v1h-1zM458.4 384.5h1v1h-1zM458.4 387.5h1v1h-1zM458.4 388.5h1v1h-1zM459.4 355.5h1v1h-1zM459.4 364.5h1v1h-1zM459.4 365.5h1v1h-1zM459.4 370.5h1v1h-1zM459.4 371.5h1v1h-1zM459.4 376.5h1v1h-1zM459.4 378.5h1v1h-1zM459.4 382.5h1v1h-1zM459.4 383.5h1v1h-1zM459.4 385.5h1v1h-1zM459.4 386.5h1v1h-1zM459.4 387.5h1v1h-1zM459.4 388.5h1v1h-1zM460.4 367.5h1v1h-1zM460.4 372.5h1v1h-1zM460.4 374.5h1v1h-1zM460.4 376.5h1v1h-1zM460.4 379.5h1v1h-1zM460.4 380.5h1v1h-1zM460.4 382.5h1v1h-1zM460.4 383.5h1v1h-1zM460.4 384.5h1v1h-1zM460.4 385.5h1v1h-1zM460.4 386.5h1v1h-1zM460.4 387.5h1v1h-1zM460.4 388.5h1v1h-1zM461.4 374.5h1v1h-1zM461.4 376.5h1v1h-1zM461.4 378.5h1v1h-1zM461.4 381.5h1v1h-1zM461.4 382.5h1v1h-1zM461.4 384.5h1v1h-1zM461.4 385.5h1v1h-1zM461.4 387.5h1v1h-1zM462.4 356.5h1v1h-1zM462.4 367.5h1v1h-1zM462.4 370.5h1v1h-1zM462.4 376.5h1v1h-1zM462.4 377.5h1v1h-1zM462.4 378.5h1v1h-1zM462.4 384.5h1v1h-1zM462.4 385.5h1v1h-1zM462.4 386.5h1v1h-1zM462.4 387.5h1v1h-1zM462.4 388.5h1v1h-1zM463.4 358.5h1v1h-1zM463.4 369.5h1v1h-1zM463.4 370.5h1v1h-1zM463.4 371.5h1v1h-1zM463.4 374.5h1v1h-1zM463.4 379.5h1v1h-1zM463.4 381.5h1v1h-1zM463.4 382.5h1v1h-1zM463.4 384.5h1v1h-1zM463.4 385.5h1v1h-1zM463.4 386.5h1v1h-1zM463.4 387.5h1v1h-1zM463.4 388.5h1v1h-1zM464.4 366.5h1v1h-1zM464.4 370.5h1v1h-1zM464.4 373.5h1v1h-1zM464.4 374.5h1v1h-1zM464.4 377.5h1v1h-1zM464.4 378.5h1v1h-1zM464.4 379.5h1v1h-1zM464.4 380.5h1v1h-1zM464.4 381.5h1v1h-1zM464.4 382.5h1v1h-1zM464.4 383.5h1v1h-1zM464.4 384.5h1v1h-1zM464.4 386.5h1v1h-1zM464.4 389.5h1v1h-1zM465.4 347.5h1v1h-1zM465.4 364.5h1v1h-1zM465.4 370.5h1v1h-1zM465.4 374.5h1v1h-1zM465.4 375.5h1v1h-1zM465.4 376.5h1v1h-1zM465.4 381.5h1v1h-1zM465.4 382.5h1v1h-1zM465.4 384.5h1v1h-1zM465.4 385.5h1v1h-1zM465.4 386.5h1v1h-1zM466.4 347.5h1v1h-1zM466.4 360.5h1v1h-1zM466.4 366.5h1v1h-1zM466.4 371.5h1v1h-1zM466.4 372.5h1v1h-1zM466.4 378.5h1v1h-1zM466.4 380.5h1v1h-1zM466.4 381.5h1v1h-1zM466.4 382.5h1v1h-1zM466.4 383.5h1v1h-1zM466.4 384.5h1v1h-1zM466.4 385.5h1v1h-1zM466.4 386.5h1v1h-1zM466.4 387.5h1v1h-1zM467.4 361.5h1v1h-1zM467.4 367.5h1v1h-1zM467.4 378.5h1v1h-1zM467.4 380.5h1v1h-1zM467.4 381.5h1v1h-1zM467.4 382.5h1v1h-1zM467.4 383.5h1v1h-1zM467.4 384.5h1v1h-1zM467.4 387.5h1v1h-1zM467.4 388.5h1v1h-1zM468.4 371.5h1v1h-1zM468.4 374.5h1v1h-1zM468.4 378.5h1v1h-1zM468.4 379.5h1v1h-1zM468.4 380.5h1v1h-1zM468.4 381.5h1v1h-1zM468.4 382.5h1v1h-1zM468.4 383.5h1v1h-1zM468.4 386.5h1v1h-1zM468.4 387.5h1v1h-1zM468.4 388.5h1v1h-1zM469.4 365.5h1v1h-1zM469.4 366.5h1v1h-1zM469.4 368.5h1v1h-1zM469.4 372.5h1v1h-1zM469.4 373.5h1v1h-1zM469.4 375.5h1v1h-1zM469.4 376.5h1v1h-1zM469.4 377.5h1v1h-1zM469.4 378.5h1v1h-1zM469.4 379.5h1v1h-1zM469.4 380.5h1v1h-1zM469.4 381.5h1v1h-1zM469.4 383.5h1v1h-1zM469.4 384.5h1v1h-1zM469.4 385.5h1v1h-1zM469.4 386.5h1v1h-1zM469.4 387.5h1v1h-1zM470.4 355.5h1v1h-1zM470.4 361.5h1v1h-1zM470.4 366.5h1v1h-1zM470.4 369.5h1v1h-1zM470.4 374.5h1v1h-1zM470.4 376.5h1v1h-1zM470.4 381.5h1v1h-1zM470.4 382.5h1v1h-1zM470.4 383.5h1v1h-1zM470.4 384.5h1v1h-1zM470.4 385.5h1v1h-1zM470.4 386.5h1v1h-1zM470.4 387.5h1v1h-1zM471.4 353.5h1v1h-1zM471.4 357.5h1v1h-1zM471.4 359.5h1v1h-1zM471.4 369.5h1v1h-1zM471.4 370.5h1v1h-1zM471.4 371.5h1v1h-1zM471.4 372.5h1v1h-1zM471.4 373.5h1v1h-1zM471.4 375.5h1v1h-1zM471.4 377.5h1v1h-1zM471.4 380.5h1v1h-1zM471.4 382.5h1v1h-1zM471.4 383.5h1v1h-1zM471.4 384.5h1v1h-1zM471.4 385.5h1v1h-1zM471.4 386.5h1v1h-1zM471.4 387.5h1v1h-1zM472.4 353.5h1v1h-1zM472.4 372.5h1v1h-1zM472.4 373.5h1v1h-1zM472.4 374.5h1v1h-1zM472.4 375.5h1v1h-1zM472.4 376.5h1v1h-1zM472.4 379.5h1v1h-1zM472.4 380.5h1v1h-1zM472.4 382.5h1v1h-1zM472.4 383.5h1v1h-1zM472.4 385.5h1v1h-1zM472.4 386.5h1v1h-1zM472.4 387.5h1v1h-1zM472.4 388.5h1v1h-1zM473.4 342.5h1v1h-1zM473.4 361.5h1v1h-1zM473.4 369.5h1v1h-1zM473.4 374.5h1v1h-1zM473.4 378.5h1v1h-1zM473.4 380.5h1v1h-1zM473.4 381.5h1v1h-1zM473.4 382.5h1v1h-1zM473.4 383.5h1v1h-1zM473.4 384.5h1v1h-1zM473.4 385.5h1v1h-1zM473.4 386.5h1v1h-1zM473.4 387.5h1v1h-1zM474.4 365.5h1v1h-1zM474.4 369.5h1v1h-1zM474.4 373.5h1v1h-1zM474.4 374.5h1v1h-1zM474.4 375.5h1v1h-1zM474.4 380.5h1v1h-1zM474.4 381.5h1v1h-1zM474.4 382.5h1v1h-1zM474.4 384.5h1v1h-1zM474.4 385.5h1v1h-1zM474.4 386.5h1v1h-1zM474.4 387.5h1v1h-1zM474.4 388.5h1v1h-1zM475.4 369.5h1v1h-1zM475.4 370.5h1v1h-1zM475.4 373.5h1v1h-1zM475.4 377.5h1v1h-1zM475.4 379.5h1v1h-1zM475.4 382.5h1v1h-1zM475.4 385.5h1v1h-1zM475.4 387.5h1v1h-1zM475.4 388.5h1v1h-1zM476.4 334.5h1v1h-1zM476.4 359.5h1v1h-1zM476.4 371.5h1v1h-1zM476.4 373.5h1v1h-1zM476.4 377.5h1v1h-1zM476.4 380.5h1v1h-1zM476.4 381.5h1v1h-1zM476.4 383.5h1v1h-1zM476.4 384.5h1v1h-1zM476.4 385.5h1v1h-1zM476.4 386.5h1v1h-1zM476.4 387.5h1v1h-1zM476.4 388.5h1v1h-1zM476.4 389.5h1v1h-1zM477.4 354.5h1v1h-1zM477.4 368.5h1v1h-1zM477.4 373.5h1v1h-1zM477.4 374.5h1v1h-1zM477.4 376.5h1v1h-1zM477.4 377.5h1v1h-1zM477.4 380.5h1v1h-1zM477.4 381.5h1v1h-1zM477.4 383.5h1v1h-1zM477.4 384.5h1v1h-1zM477.4 387.5h1v1h-1zM477.4 388.5h1v1h-1zM478.4 331.5h1v1h-1zM478.4 355.5h1v1h-1zM478.4 366.5h1v1h-1zM478.4 371.5h1v1h-1zM478.4 376.5h1v1h-1zM478.4 377.5h1v1h-1zM478.4 380.5h1v1h-1zM478.4 381.5h1v1h-1zM478.4 384.5h1v1h-1zM478.4 385.5h1v1h-1zM478.4 387.5h1v1h-1zM478.4 389.5h1v1h-1zM479.4 378.5h1v1h-1zM479.4 379.5h1v1h-1zM479.4 382.5h1v1h-1zM479.4 383.5h1v1h-1zM479.4 385.5h1v1h-1zM480.4 374.5h1v1h-1zM480.4 379.5h1v1h-1zM480.4 381.5h1v1h-1zM480.4 382.5h1v1h-1zM480.4 383.5h1v1h-1zM480.4 385.5h1v1h-1zM480.4 386.5h1v1h-1zM480.4 387.5h1v1h-1zM481.4 367.5h1v1h-1zM481.4 373.5h1v1h-1zM481.4 381.5h1v1h-1zM481.4 383.5h1v1h-1zM481.4 384.5h1v1h-1zM481.4 386.5h1v1h-1zM481.4 387.5h1v1h-1zM482.4 354.5h1v1h-1zM482.4 368.5h1v1h-1zM482.4 375.5h1v1h-1zM482.4 376.5h1v1h-1zM482.4 380.5h1v1h-1zM482.4 382.5h1v1h-1zM482.4 385.5h1v1h-1zM482.4 386.5h1v1h-1zM482.4 387.5h1v1h-1zM482.4 388.5h1v1h-1zM482.4 389.5h1v1h-1zM483.4 372.5h1v1h-1zM483.4 377.5h1v1h-1zM483.4 383.5h1v1h-1zM483.4 386.5h1v1h-1zM483.4 388.5h1v1h-1zM483.4 389.5h1v1h-1zM484.4 370.5h1v1h-1zM484.4 384.5h1v1h-1zM484.4 386.5h1v1h-1zM484.4 387.5h1v1h-1zM484.4 388.5h1v1h-1zM484.4 389.5h1v1h-1zM485.4 365.5h1v1h-1zM485.4 375.5h1v1h-1zM485.4 377.5h1v1h-1zM485.4 382.5h1v1h-1zM485.4 385.5h1v1h-1zM485.4 387.5h1v1h-1zM485.4 388.5h1v1h-1zM485.4 391.5h1v1h-1zM486.4 380.5h1v1h-1zM486.4 384.5h1v1h-1zM486.4 389.5h1v1h-1zM487.4 379.5h1v1h-1zM487.4 388.5h1v1h-1zM487.4 390.5h1v1h-1zM487.4 392.5h1v1h-1zM488.4 341.5h1v1h-1zM488.4 368.5h1v1h-1zM488.4 383.5h1v1h-1zM488.4 387.5h1v1h-1zM488.4 391.5h1v1h-1zM489.4 334.5h1v1h-1zM490.4 392.5h1v1h-1zM491.4 358.5h1v1h-1zM491.4 376.5h1v1h-1zM491.4 385.5h1v1h-1zM491.4 391.5h1v1h-1zM492.4 391.5h1v1h-1zM493.4 370.5h1v1h-1zM493.4 392.5h1v1h-1zM494.4 375.5h1v1h-1zM494.4 392.5h1v1h-1zM494.4 393.5h1v1h-1zM495.4 390.5h1v1h-1zM495.4 394.5h1v1h-1zM496.4 391.5h1v1h-1zM497.4 350.5h1v1h-1zM498.4 392.5h1v1h-1zM499.4 388.5h1v1h-1zM499.4 390.5h1v1h-1zM500.4 362.5h1v1h-1zM500.4 385.5h1v1h-1zM501.4 393.5h1v1h-1zM503.4 395.5h1v1h-1zM504.4 394.5h1v1h-1zM504.4 396.5h1v1h-1zM505.4 391.5h1v1h-1zM505.4 393.5h1v1h-1zM506.4 385.5h1v1h-1zM506.4 393.5h1v1h-1zM506.4 396.5h1v1h-1zM507.4 374.5h1v1h-1zM507.4 386.5h1v1h-1zM507.4 392.5h1v1h-1zM507.4 395.5h1v1h-1zM507.4 398.5h1v1h-1zM508.4 349.5h1v1h-1zM509.4 358.5h1v1h-1zM509.4 375.5h1v1h-1zM511.4 395.5h1v1h-1zM511.4 403.5h1v1h-1zM511.4 404.5h1v1h-1zM514.4 404.5h1v1h-1zM514.4 416.5h1v1h-1zM514.4 417.5h1v1h-1zM515.4 414.5h1v1h-1zM515.4 423.5h1v1h-1zM516.4 417.5h1v1h-1zM517.4 416.5h1v1h-1zM517.4 422.5h1v1h-1zM518.4 368.5h1v1h-1zM530.4 361.5h1v1h-1zM535.4 350.5h1v1h-1zM551.4 402.5h1v1h-1zM554.4 330.5h1v1h-1z" fill="#0a0a80"/>
</g>
<path d="M487.90 324.50V426.90M455.40 385.30H556.30" stroke="#8c8c8c" stroke-width="1" fill="none"/>
<rect x="455.40" y="324.50" width="100.90" height="102.40" fill="none" stroke="#8a8a8a" stroke-width="1.1"/>
<text x="457.40" y="334.50" font-size="10.8">0.05</text>
<text x="555.70" y="334.50" font-size="10.8" text-anchor="end">0.01</text>
<text x="456.00" y="442.00" font-size="10.3" text-anchor="middle">10<tspan font-size="7" dy="-6">0</tspan></text>
<text x="481.23" y="442.00" font-size="10.3" text-anchor="middle">10<tspan font-size="7" dy="-6">1</tspan></text>
<text x="506.45" y="442.00" font-size="10.3" text-anchor="middle">10<tspan font-size="7" dy="-6">2</tspan></text>
<text x="531.68" y="442.00" font-size="10.3" text-anchor="middle">10<tspan font-size="7" dy="-6">3</tspan></text>
<text x="556.90" y="442.00" font-size="10.3" text-anchor="middle">10<tspan font-size="7" dy="-6">4</tspan></text>
<text x="451.20" y="431.20" font-size="10.3" text-anchor="end">10<tspan font-size="7" dy="-6">0</tspan></text>
<text x="451.20" y="405.60" font-size="10.3" text-anchor="end">10<tspan font-size="7" dy="-6">1</tspan></text>
<text x="451.20" y="380.00" font-size="10.3" text-anchor="end">10<tspan font-size="7" dy="-6">2</tspan></text>
<text x="451.20" y="354.40" font-size="10.3" text-anchor="end">10<tspan font-size="7" dy="-6">3</tspan></text>
<text x="451.20" y="328.80" font-size="10.3" text-anchor="end">10<tspan font-size="7" dy="-6">4</tspan></text>
<clipPath id="c30"><rect x="53.00" y="467.30" width="100.90" height="102.40"/></clipPath>
<g clip-path="url(#c30)">
<path d="M58.0 529.3h1v1h-1zM61.0 529.3h1v1h-1zM58.0 530.3h1v1h-1zM60.0 530.3h1v1h-1zM62.0 530.3h1v1h-1zM53.0 531.3h3v1h-3zM58.0 531.3h6v1h-6zM65.0 531.3h4v1h-4zM53.0 532.3h2v1h-2zM56.0 532.3h11v1h-11zM69.0 532.3h3v1h-3zM53.0 533.3h15v1h-15zM69.0 533.3h4v1h-4zM74.0 533.3h1v1h-1zM76.0 533.3h1v1h-1zM53.0 534.3h22v1h-22zM76.0 534.3h2v1h-2zM82.0 534.3h1v1h-1zM53.0 535.3h17v1h-17zM71.0 535.3h2v1h-2zM74.0 535.3h1v1h-1zM76.0 535.3h1v1h-1zM80.0 535.3h1v1h-1zM53.0 536.3h26v1h-26zM80.0 536.3h2v1h-2zM53.0 537.3h30v1h-30zM85.0 537.3h2v1h-2zM91.0 537.3h1v1h-1zM53.0 538.3h28v1h-28zM82.0 538.3h1v1h-1zM84.0 538.3h3v1h-3zM53.0 539.3h31v1h-31zM85.0 539.3h1v1h-1zM87.0 539.3h2v1h-2zM90.0 539.3h1v1h-1zM92.0 539.3h1v1h-1zM53.0 540.3h40v1h-40zM53.0 541.3h37v1h-37zM93.0 541.3h1v1h-1zM95.0 541.3h1v1h-1zM53.0 542.3h38v1h-38zM92.0 542.3h2v1h-2zM53.0 543.3h37v1h-37zM91.0 543.3h2v1h-2zM94.0 543.3h1v1h-1zM96.0 543.3h3v1h-3zM53.0 544.3h32v1h-32zM86.0 544.3h13v1h-13zM53.0 545.3h36v1h-36zM90.0 545.3h2v1h-2zM96.0 545.3h1v1h-1zM53.0 546.3h40v1h-40zM94.0 546.3h5v1h-5zM100.0 546.3h1v1h-1zM102.0 546.3h1v1h-1zM53.0 547.3h37v1h-37zM92.0 547.3h2v1h-2zM95.0 547.3h2v1h-2zM98.0 547.3h2v1h-2zM53.0 548.3h46v1h-46zM100.0 548.3h1v1h-1zM53.0 549.3h43v1h-43zM97.0 549.3h7v1h-7zM53.0 550.3h47v1h-47zM101.0 550.3h4v1h-4zM53.0 551.3h40v1h-40zM94.0 551.3h7v1h-7zM102.0 551.3h2v1h-2zM53.0 552.3h48v1h-48zM102.0 552.3h2v1h-2zM105.0 552.3h1v1h-1zM53.0 553.3h54v1h-54zM53.0 554.3h53v1h-53zM53.0 555.3h52v1h-52zM108.0 555.3h1v1h-1zM53.0 556.3h55v1h-55zM111.0 556.3h1v1h-1zM53.0 557.3h48v1h-48zM102.0 557.3h5v1h-5zM108.0 557.3h1v1h-1zM53.0 558.3h44v1h-44zM98.0 558.3h5v1h-5zM104.0 558.3h3v1h-3zM109.0 558.3h1v1h-1zM53.0 559.3h57v1h-57zM53.0 560.3h56v1h-56zM110.0 560.3h1v1h-1zM53.0 561.3h54v1h-54zM108.0 561.3h3v1h-3zM53.0 562.3h48v1h-48zM102.0 562.3h8v1h-8zM111.0 562.3h1v1h-1zM53.0 563.3h55v1h-55zM109.0 563.3h1v1h-1zM53.0 564.3h53v1h-53zM109.0 564.3h2v1h-2zM53.0 565.3h48v1h-48zM102.0 565.3h2v1h-2zM105.0 565.3h5v1h-5zM53.0 566.3h54v1h-54zM108.0 566.3h2v1h-2zM53.0 567.3h53v1h-53zM107.0 567.3h4v1h-4zM53.0 568.3h58v1h-58zM112.0 568.3h1v1h-1z" fill="#0c0c8a"/>
<g filter="url(#bl)">
<path d="M58.2 535.0L57.8 535.5L55.8 535.5L55.2 536.0L54.2 536.0L53.8 536.5L53.2 536.5L52.8 537.0L52.2 537.0L51.8 537.5L51.2 537.5L50.2 538.5L50.2 572.5L97.2 572.5L97.2 570.5L97.8 570.0L97.8 569.5L97.2 569.0L97.2 566.5L96.8 566.0L96.8 565.0L96.2 564.5L96.2 563.5L95.8 563.0L95.8 562.5L95.2 562.0L95.2 561.5L94.2 560.5L94.2 560.0L93.2 559.0L93.2 558.5L87.8 553.0L87.8 552.5L87.2 552.0L87.2 551.5L86.8 551.0L86.8 550.5L86.2 550.0L86.2 549.0L85.8 548.5L85.8 548.0L85.2 547.5L85.2 546.5L84.8 546.0L84.8 545.5L83.8 544.5L83.8 544.0L81.2 541.5L80.8 541.5L78.8 539.5L78.2 539.5L77.2 538.5L76.8 538.5L76.2 538.0L75.2 538.0L74.8 537.5L73.2 537.5L72.8 537.0L72.2 537.0L71.8 536.5L70.8 536.5L70.2 536.0L69.8 536.0L69.2 535.5L67.2 535.5L66.8 535.0Z" fill="#0a1cc4" fill-rule="evenodd"/>
<path d="M58.2 536.5L57.8 537.0L56.2 537.0L55.8 537.5L54.8 537.5L54.2 538.0L53.8 538.0L53.2 538.5L52.8 538.5L52.2 539.0L51.8 539.0L50.2 540.5L50.2 572.5L84.2 572.5L84.8 572.0L84.8 570.0L85.2 569.5L85.2 556.5L84.8 556.0L84.8 553.5L84.2 553.0L84.2 552.0L83.8 551.5L83.8 550.5L83.2 550.0L83.2 549.0L82.8 548.5L82.8 548.0L82.2 547.5L82.2 547.0L81.8 546.5L81.8 546.0L80.8 545.0L80.8 544.5L78.2 542.0L77.8 542.0L76.2 540.5L75.8 540.5L75.2 540.0L74.8 540.0L73.8 539.0L72.2 539.0L71.8 538.5L71.2 538.5L70.8 538.0L69.8 538.0L69.2 537.5L68.8 537.5L68.2 537.0L66.8 537.0L66.2 536.5Z" fill="#0c3cec" fill-rule="evenodd"/>
<path d="M57.2 538.0L56.8 538.5L55.8 538.5L55.2 539.0L54.8 539.0L54.2 539.5L53.8 539.5L53.2 540.0L52.8 540.0L52.2 540.5L51.8 540.5L50.2 542.0L50.2 572.5L81.2 572.5L81.2 572.0L81.8 571.5L81.8 570.0L82.2 569.5L82.2 567.5L82.8 567.0L82.8 556.0L82.2 555.5L82.2 553.5L81.8 553.0L81.8 551.5L81.2 551.0L81.2 550.5L80.8 550.0L80.8 549.5L80.2 549.0L80.2 548.5L79.8 548.0L79.8 547.5L78.8 546.5L78.8 546.0L74.8 542.0L74.2 542.0L73.2 541.0L72.8 541.0L72.2 540.5L71.8 540.5L71.2 540.0L70.8 540.0L70.2 539.5L69.2 539.5L68.8 539.0L68.2 539.0L67.8 538.5L66.8 538.5L66.2 538.0Z" fill="#1468f4" fill-rule="evenodd"/>
<path d="M58.2 539.5L57.8 540.0L56.2 540.0L55.8 540.5L55.2 540.5L54.8 541.0L54.2 541.0L53.8 541.5L53.2 541.5L52.8 542.0L52.2 542.0L50.2 544.0L50.2 572.5L77.2 572.5L78.2 571.5L78.2 570.5L78.8 570.0L78.8 569.5L79.2 569.0L79.2 567.5L79.8 567.0L79.8 564.5L80.2 564.0L80.2 558.0L79.8 557.5L79.8 555.0L79.2 554.5L79.2 553.0L78.8 552.5L78.8 551.5L78.2 551.0L78.2 550.5L77.8 550.0L77.8 549.5L77.2 549.0L77.2 548.5L76.2 547.5L76.2 547.0L74.8 545.5L74.8 545.0L73.8 544.0L73.2 544.0L71.2 542.0L70.2 542.0L69.8 541.5L69.2 541.5L68.8 541.0L68.2 541.0L67.8 540.5L67.2 540.5L66.8 540.0L65.2 540.0L64.8 539.5Z" fill="#1c9cf0" fill-rule="evenodd"/>
<path d="M58.8 541.0L58.2 541.5L56.8 541.5L56.2 542.0L55.2 542.0L54.8 542.5L54.2 542.5L53.2 543.5L52.8 543.5L50.2 546.0L50.2 572.5L74.2 572.5L75.2 571.5L75.2 571.0L75.8 570.5L75.8 570.0L76.2 569.5L76.2 569.0L76.8 568.5L76.8 567.5L77.2 567.0L77.2 565.0L77.8 564.5L77.8 556.5L77.2 556.0L77.2 554.5L76.8 554.0L76.8 552.5L76.2 552.0L76.2 551.5L75.8 551.0L75.8 550.5L75.2 550.0L75.2 549.5L74.8 549.0L74.8 548.5L74.2 548.0L74.2 547.5L70.2 543.5L69.8 543.5L69.2 543.0L68.8 543.0L68.2 542.5L67.8 542.5L67.2 542.0L66.8 542.0L66.2 541.5L64.8 541.5L64.2 541.0Z" fill="#20c8e0" fill-rule="evenodd"/>
<path d="M60.2 542.5L59.8 543.0L57.2 543.0L56.8 543.5L56.2 543.5L55.8 544.0L55.2 544.0L54.8 544.5L54.2 544.5L53.2 545.5L52.8 545.5L52.2 546.0L52.2 546.5L50.8 548.0L50.8 548.5L50.2 549.0L50.2 571.0L50.8 571.5L50.8 572.0L51.2 572.5L71.8 572.5L71.8 572.0L72.8 571.0L72.8 570.5L73.8 569.5L73.8 569.0L74.2 568.5L74.2 567.5L74.8 567.0L74.8 566.0L75.2 565.5L75.2 562.0L75.8 561.5L75.8 559.5L75.2 559.0L75.2 555.0L74.8 554.5L74.8 553.5L74.2 553.0L74.2 552.0L73.8 551.5L73.8 550.5L72.8 549.5L72.8 549.0L72.2 548.5L72.2 548.0L69.2 545.0L68.8 545.0L68.2 544.5L67.8 544.5L67.2 544.0L66.8 544.0L66.2 543.5L65.8 543.5L65.2 543.0L62.8 543.0L62.2 542.5Z" fill="#26e8b0" fill-rule="evenodd"/>
<path d="M58.2 545.5L57.8 546.0L56.8 546.0L56.2 546.5L55.8 546.5L54.8 547.5L54.2 547.5L53.2 548.5L53.2 549.0L52.2 550.0L52.2 550.5L51.8 551.0L51.8 551.5L51.2 552.0L51.2 553.0L50.8 553.5L50.8 555.0L50.2 555.5L50.2 564.0L50.8 564.5L50.8 566.0L51.2 566.5L51.2 567.5L51.8 568.0L51.8 568.5L52.2 569.0L52.2 569.5L52.8 570.0L52.8 570.5L54.8 572.5L67.2 572.5L70.2 569.5L70.2 569.0L70.8 568.5L70.8 568.0L71.2 567.5L71.2 567.0L71.8 566.5L71.8 565.5L72.2 565.0L72.2 562.0L72.8 561.5L72.8 558.5L72.2 558.0L72.2 555.0L71.8 554.5L71.8 553.0L71.2 552.5L71.2 552.0L70.8 551.5L70.8 551.0L70.2 550.5L70.2 550.0L67.2 547.0L66.8 547.0L66.2 546.5L65.8 546.5L65.2 546.0L64.8 546.0L64.2 545.5Z" fill="#30f070" fill-rule="evenodd"/>
</g>
<rect x="53.0" y="568.10" width="22" height="1.2" fill="#6a5a20" fill-opacity="0.55"/>
<path d="M53.0 527.3h1v1h-1zM54.0 530.3h1v1h-1zM57.0 530.3h1v1h-1zM58.0 526.3h1v1h-1zM59.0 528.3h1v1h-1zM60.0 528.3h1v1h-1zM60.0 529.3h1v1h-1zM62.0 526.3h1v1h-1zM62.0 528.3h1v1h-1zM62.0 529.3h1v1h-1zM63.0 529.3h1v1h-1zM64.0 525.3h1v1h-1zM64.0 527.3h1v1h-1zM65.0 529.3h1v1h-1zM65.0 530.3h1v1h-1zM66.0 528.3h1v1h-1zM68.0 523.3h1v1h-1zM68.0 528.3h1v1h-1zM68.0 530.3h1v1h-1zM69.0 530.3h1v1h-1zM71.0 506.3h1v1h-1zM71.0 524.3h1v1h-1zM71.0 527.3h1v1h-1zM72.0 531.3h1v1h-1zM74.0 528.3h1v1h-1zM75.0 526.3h1v1h-1zM75.0 527.3h1v1h-1zM76.0 530.3h1v1h-1zM78.0 530.3h1v1h-1zM78.0 534.3h1v1h-1zM79.0 534.3h1v1h-1zM81.0 531.3h1v1h-1zM82.0 533.3h1v1h-1zM83.0 536.3h1v1h-1zM87.0 525.3h1v1h-1zM88.0 523.3h1v1h-1zM89.0 538.3h1v1h-1zM91.0 539.3h1v1h-1zM93.0 540.3h1v1h-1zM94.0 545.3h1v1h-1zM95.0 528.3h1v1h-1zM96.0 537.3h1v1h-1zM96.0 538.3h1v1h-1zM96.0 542.3h1v1h-1zM97.0 513.3h1v1h-1zM97.0 530.3h1v1h-1zM97.0 536.3h1v1h-1zM97.0 538.3h1v1h-1zM97.0 540.3h1v1h-1zM97.0 541.3h1v1h-1zM98.0 537.3h1v1h-1zM99.0 537.3h1v1h-1zM99.0 540.3h1v1h-1zM99.0 542.3h1v1h-1zM99.0 544.3h1v1h-1zM101.0 541.3h1v1h-1zM102.0 542.3h1v1h-1zM102.0 547.3h1v1h-1zM103.0 538.3h1v1h-1zM103.0 543.3h1v1h-1zM103.0 544.3h1v1h-1zM104.0 537.3h1v1h-1zM104.0 546.3h1v1h-1zM104.0 548.3h1v1h-1zM104.0 549.3h1v1h-1zM104.0 551.3h1v1h-1zM106.0 536.3h1v1h-1zM106.0 548.3h1v1h-1zM106.0 549.3h1v1h-1zM106.0 550.3h1v1h-1zM107.0 551.3h1v1h-1zM107.0 553.3h1v1h-1zM108.0 550.3h1v1h-1zM108.0 551.3h1v1h-1zM109.0 551.3h1v1h-1zM110.0 547.3h1v1h-1zM110.0 550.3h1v1h-1zM110.0 558.3h1v1h-1zM111.0 530.3h1v1h-1zM111.0 560.3h1v1h-1zM112.0 562.3h1v1h-1zM113.0 548.3h1v1h-1zM113.0 557.3h1v1h-1zM113.0 563.3h1v1h-1zM114.0 526.3h1v1h-1zM114.0 546.3h1v1h-1zM120.0 548.3h1v1h-1zM123.0 550.3h1v1h-1zM125.0 542.3h1v1h-1zM126.0 547.3h1v1h-1z" fill="#0a0a80"/>
</g>
<path d="M85.30 467.30V569.70M53.00 528.00H153.90" stroke="#8c8c8c" stroke-width="1" fill="none"/>
<rect x="53.00" y="467.30" width="100.90" height="102.40" fill="none" stroke="#8a8a8a" stroke-width="1.1"/>
<text x="55.00" y="477.30" font-size="10.8">0.00</text>
<text x="153.30" y="477.30" font-size="10.8" text-anchor="end">0.00</text>
<text x="53.60" y="584.80" font-size="10.3" text-anchor="middle">10<tspan font-size="7" dy="-6">0</tspan></text>
<text x="78.82" y="584.80" font-size="10.3" text-anchor="middle">10<tspan font-size="7" dy="-6">1</tspan></text>
<text x="104.05" y="584.80" font-size="10.3" text-anchor="middle">10<tspan font-size="7" dy="-6">2</tspan></text>
<text x="129.28" y="584.80" font-size="10.3" text-anchor="middle">10<tspan font-size="7" dy="-6">3</tspan></text>
<text x="154.50" y="584.80" font-size="10.3" text-anchor="middle">10<tspan font-size="7" dy="-6">4</tspan></text>
<text x="48.80" y="574.00" font-size="10.3" text-anchor="end">10<tspan font-size="7" dy="-6">0</tspan></text>
<text x="48.80" y="548.40" font-size="10.3" text-anchor="end">10<tspan font-size="7" dy="-6">1</tspan></text>
<text x="48.80" y="522.80" font-size="10.3" text-anchor="end">10<tspan font-size="7" dy="-6">2</tspan></text>
<text x="48.80" y="497.20" font-size="10.3" text-anchor="end">10<tspan font-size="7" dy="-6">3</tspan></text>
<text x="48.80" y="471.60" font-size="10.3" text-anchor="end">10<tspan font-size="7" dy="-6">4</tspan></text>
<clipPath id="c31"><rect x="178.40" y="467.30" width="100.90" height="102.40"/></clipPath>
<g clip-path="url(#c31)">
<path d="M184.4 525.3h1v1h-1zM184.4 526.3h1v1h-1zM189.4 526.3h1v1h-1zM196.4 526.3h1v1h-1zM181.4 527.3h6v1h-6zM188.4 527.3h2v1h-2zM191.4 527.3h1v1h-1zM195.4 527.3h1v1h-1zM178.4 528.3h5v1h-5zM184.4 528.3h1v1h-1zM186.4 528.3h3v1h-3zM190.4 528.3h5v1h-5zM196.4 528.3h1v1h-1zM179.4 529.3h1v1h-1zM181.4 529.3h13v1h-13zM195.4 529.3h1v1h-1zM200.4 529.3h1v1h-1zM178.4 530.3h18v1h-18zM198.4 530.3h1v1h-1zM200.4 530.3h1v1h-1zM178.4 531.3h2v1h-2zM181.4 531.3h20v1h-20zM178.4 532.3h21v1h-21zM200.4 532.3h1v1h-1zM202.4 532.3h3v1h-3zM178.4 533.3h21v1h-21zM200.4 533.3h5v1h-5zM206.4 533.3h1v1h-1zM178.4 534.3h26v1h-26zM206.4 534.3h1v1h-1zM209.4 534.3h1v1h-1zM211.4 534.3h2v1h-2zM178.4 535.3h31v1h-31zM211.4 535.3h1v1h-1zM214.4 535.3h1v1h-1zM178.4 536.3h33v1h-33zM214.4 536.3h1v1h-1zM216.4 536.3h1v1h-1zM178.4 537.3h33v1h-33zM212.4 537.3h1v1h-1zM214.4 537.3h1v1h-1zM178.4 538.3h33v1h-33zM212.4 538.3h3v1h-3zM216.4 538.3h4v1h-4zM178.4 539.3h39v1h-39zM218.4 539.3h2v1h-2zM178.4 540.3h39v1h-39zM218.4 540.3h2v1h-2zM221.4 540.3h1v1h-1zM178.4 541.3h32v1h-32zM211.4 541.3h2v1h-2zM214.4 541.3h9v1h-9zM178.4 542.3h40v1h-40zM219.4 542.3h5v1h-5zM178.4 543.3h44v1h-44zM223.4 543.3h1v1h-1zM178.4 544.3h43v1h-43zM222.4 544.3h3v1h-3zM226.4 544.3h1v1h-1zM178.4 545.3h36v1h-36zM215.4 545.3h5v1h-5zM221.4 545.3h4v1h-4zM227.4 545.3h1v1h-1zM178.4 546.3h49v1h-49zM228.4 546.3h1v1h-1zM178.4 547.3h39v1h-39zM218.4 547.3h10v1h-10zM178.4 548.3h43v1h-43zM223.4 548.3h6v1h-6zM178.4 549.3h42v1h-42zM221.4 549.3h10v1h-10zM178.4 550.3h47v1h-47zM226.4 550.3h6v1h-6zM178.4 551.3h47v1h-47zM227.4 551.3h2v1h-2zM230.4 551.3h1v1h-1zM232.4 551.3h1v1h-1zM178.4 552.3h53v1h-53zM178.4 553.3h56v1h-56zM178.4 554.3h53v1h-53zM232.4 554.3h2v1h-2zM178.4 555.3h54v1h-54zM233.4 555.3h1v1h-1zM178.4 556.3h49v1h-49zM228.4 556.3h1v1h-1zM230.4 556.3h3v1h-3zM235.4 556.3h1v1h-1zM178.4 557.3h54v1h-54zM233.4 557.3h1v1h-1zM178.4 558.3h54v1h-54zM234.4 558.3h2v1h-2zM178.4 559.3h59v1h-59zM239.4 559.3h1v1h-1zM178.4 560.3h54v1h-54zM233.4 560.3h1v1h-1zM235.4 560.3h1v1h-1zM178.4 561.3h57v1h-57zM237.4 561.3h1v1h-1zM178.4 562.3h59v1h-59zM178.4 563.3h58v1h-58zM237.4 563.3h1v1h-1zM178.4 564.3h49v1h-49zM228.4 564.3h10v1h-10zM178.4 565.3h52v1h-52zM231.4 565.3h8v1h-8zM178.4 566.3h58v1h-58zM238.4 566.3h2v1h-2zM178.4 567.3h56v1h-56zM235.4 567.3h4v1h-4zM178.4 568.3h58v1h-58zM237.4 568.3h2v1h-2z" fill="#0c0c8a"/>
<g filter="url(#bl)">
<path d="M184.2 531.5L183.7 532.0L182.2 532.0L181.7 532.5L180.7 532.5L180.2 533.0L179.2 533.0L178.2 534.0L177.7 534.0L176.7 535.0L176.2 535.0L175.7 535.5L175.7 572.5L225.7 572.5L225.7 567.0L225.2 566.5L225.2 565.0L224.7 564.5L224.7 563.5L224.2 563.0L224.2 562.0L223.7 561.5L223.7 561.0L223.2 560.5L223.2 560.0L222.2 559.0L222.2 558.5L221.2 557.5L221.2 557.0L213.7 549.5L213.7 549.0L212.7 548.0L212.7 547.0L212.2 546.5L212.2 546.0L211.7 545.5L211.7 545.0L211.2 544.5L211.2 544.0L210.7 543.5L210.7 543.0L210.2 542.5L210.2 542.0L204.2 536.0L203.7 536.0L203.2 535.5L202.2 535.5L201.7 535.0L201.2 535.0L200.7 534.5L200.2 534.5L199.7 534.0L199.2 534.0L198.7 533.5L198.2 533.5L197.7 533.0L196.7 533.0L196.2 532.5L194.7 532.5L194.2 532.0L192.7 532.0L192.2 531.5Z" fill="#0a1cc4" fill-rule="evenodd"/>
<path d="M185.2 533.0L184.7 533.5L182.7 533.5L182.2 534.0L181.2 534.0L180.7 534.5L180.2 534.5L179.7 535.0L179.2 535.0L178.7 535.5L178.2 535.5L176.7 537.0L176.2 537.0L175.7 537.5L175.7 572.5L211.7 572.5L211.7 572.0L212.2 571.5L212.2 567.0L212.7 566.5L212.7 560.0L212.2 559.5L212.2 555.0L211.7 554.5L211.7 552.5L211.2 552.0L211.2 550.5L210.7 550.0L210.7 549.0L210.2 548.5L210.2 547.5L209.7 547.0L209.7 546.5L209.2 546.0L209.2 545.5L208.7 545.0L208.7 544.5L208.2 544.0L208.2 543.5L207.2 542.5L207.2 542.0L203.2 538.0L202.7 538.0L201.7 537.0L201.2 537.0L200.7 536.5L200.2 536.5L199.7 536.0L199.2 536.0L198.7 535.5L198.2 535.5L197.7 535.0L197.2 535.0L196.7 534.5L196.2 534.5L195.7 534.0L194.7 534.0L194.2 533.5L192.2 533.5L191.7 533.0Z" fill="#0c3cec" fill-rule="evenodd"/>
<path d="M185.2 534.5L184.7 535.0L182.7 535.0L182.2 535.5L181.2 535.5L180.7 536.0L180.2 536.0L179.7 536.5L179.2 536.5L178.2 537.5L177.7 537.5L175.7 539.5L175.7 572.5L208.7 572.5L208.7 572.0L209.2 571.5L209.2 569.0L209.7 568.5L209.7 555.0L209.2 554.5L209.2 552.0L208.7 551.5L208.7 550.0L208.2 549.5L208.2 548.5L207.7 548.0L207.7 547.5L207.2 547.0L207.2 546.5L206.7 546.0L206.7 545.5L206.2 545.0L206.2 544.5L204.7 543.0L204.7 542.5L200.7 538.5L200.2 538.5L199.2 537.5L198.7 537.5L198.2 537.0L197.7 537.0L197.2 536.5L196.7 536.5L196.2 536.0L195.7 536.0L195.2 535.5L194.2 535.5L193.7 535.0L192.2 535.0L191.7 534.5Z" fill="#1468f4" fill-rule="evenodd"/>
<path d="M186.2 536.0L185.7 536.5L183.7 536.5L183.2 537.0L182.2 537.0L181.7 537.5L180.7 537.5L179.7 538.5L179.2 538.5L178.2 539.5L177.7 539.5L176.2 541.0L176.2 541.5L175.7 542.0L175.7 572.5L205.7 572.5L205.7 571.5L206.2 571.0L206.2 570.0L206.7 569.5L206.7 567.5L207.2 567.0L207.2 555.0L206.7 554.5L206.7 552.5L206.2 552.0L206.2 551.0L205.7 550.5L205.7 549.5L205.2 549.0L205.2 548.0L204.7 547.5L204.7 547.0L204.2 546.5L204.2 546.0L203.2 545.0L203.2 544.5L202.2 543.5L202.2 543.0L198.7 539.5L198.2 539.5L197.7 539.0L197.2 539.0L196.2 538.0L195.7 538.0L195.2 537.5L194.7 537.5L194.2 537.0L193.2 537.0L192.7 536.5L190.2 536.5L189.7 536.0Z" fill="#1c9cf0" fill-rule="evenodd"/>
<path d="M183.7 538.0L183.2 538.5L182.2 538.5L181.7 539.0L181.2 539.0L180.7 539.5L180.2 539.5L179.2 540.5L178.7 540.5L176.7 542.5L176.7 543.0L175.7 544.0L175.7 572.5L203.2 572.5L203.2 571.5L203.7 571.0L203.7 570.5L204.2 570.0L204.2 568.5L204.7 568.0L204.7 566.0L205.2 565.5L205.2 555.5L204.7 555.0L204.7 553.0L204.2 552.5L204.2 551.0L203.7 550.5L203.7 550.0L203.2 549.5L203.2 548.5L202.7 548.0L202.7 547.5L202.2 547.0L202.2 546.5L201.7 546.0L201.7 545.5L200.7 544.5L200.7 544.0L197.2 540.5L196.7 540.5L196.2 540.0L195.7 540.0L195.2 539.5L194.7 539.5L194.2 539.0L193.7 539.0L193.2 538.5L192.2 538.5L191.7 538.0Z" fill="#20c8e0" fill-rule="evenodd"/>
<path d="M184.7 539.5L184.2 540.0L183.2 540.0L182.7 540.5L181.7 540.5L180.7 541.5L180.2 541.5L176.7 545.0L176.7 545.5L176.2 546.0L176.2 546.5L175.7 547.0L175.7 572.5L200.7 572.5L200.7 572.0L201.2 571.5L201.2 571.0L201.7 570.5L201.7 569.5L202.2 569.0L202.2 568.0L202.7 567.5L202.7 565.5L203.2 565.0L203.2 556.0L202.7 555.5L202.7 553.0L202.2 552.5L202.2 551.5L201.7 551.0L201.7 550.0L201.2 549.5L201.2 548.5L200.7 548.0L200.7 547.5L199.7 546.5L199.7 546.0L199.2 545.5L199.2 545.0L196.2 542.0L195.7 542.0L194.7 541.0L194.2 541.0L193.7 540.5L192.7 540.5L192.2 540.0L191.2 540.0L190.7 539.5Z" fill="#26e8b0" fill-rule="evenodd"/>
<path d="M186.2 542.0L185.7 542.5L183.7 542.5L183.2 543.0L182.7 543.0L182.2 543.5L181.7 543.5L180.7 544.5L180.2 544.5L179.2 545.5L179.2 546.0L178.2 547.0L178.2 547.5L177.2 548.5L177.2 549.5L176.7 550.0L176.7 550.5L176.2 551.0L176.2 552.5L175.7 553.0L175.7 567.0L176.2 567.5L176.2 568.5L176.7 569.0L176.7 570.0L177.2 570.5L177.2 571.0L177.7 571.5L177.7 572.0L178.2 572.5L197.2 572.5L197.7 572.0L197.7 571.5L198.2 571.0L198.2 570.5L198.7 570.0L198.7 569.5L199.2 569.0L199.2 568.0L199.7 567.5L199.7 566.0L200.2 565.5L200.2 562.0L200.7 561.5L200.7 558.5L200.2 558.0L200.2 554.0L199.7 553.5L199.7 552.0L199.2 551.5L199.2 550.5L198.7 550.0L198.7 549.5L198.2 549.0L198.2 548.5L197.7 548.0L197.7 547.5L196.2 546.0L196.2 545.5L195.7 545.0L195.2 545.0L194.2 544.0L193.7 544.0L192.7 543.0L191.7 543.0L191.2 542.5L189.7 542.5L189.2 542.0Z" fill="#30f070" fill-rule="evenodd"/>
<path d="M186.2 555.5L185.2 556.5L185.2 557.0L184.7 557.5L184.7 562.0L185.2 562.5L185.2 563.0L185.7 563.5L186.2 563.5L186.7 564.0L188.2 564.0L188.7 563.5L189.2 563.5L189.7 563.0L189.7 562.5L190.2 562.0L190.2 557.5L189.7 557.0L189.7 556.5L188.7 555.5Z" fill="#50f038" fill-rule="evenodd"/>
</g>
<rect x="178.4" y="568.10" width="25" height="1.2" fill="#6a5a20" fill-opacity="0.55"/>
<path d="M178.4 504.3h1v1h-1zM178.4 511.3h1v1h-1zM178.4 513.3h1v1h-1zM178.4 514.3h1v1h-1zM178.4 517.3h1v1h-1zM178.4 520.3h1v1h-1zM178.4 522.3h1v1h-1zM178.4 523.3h1v1h-1zM178.4 524.3h1v1h-1zM178.4 526.3h1v1h-1zM179.4 506.3h1v1h-1zM179.4 511.3h1v1h-1zM179.4 514.3h1v1h-1zM179.4 517.3h1v1h-1zM179.4 518.3h1v1h-1zM179.4 522.3h1v1h-1zM179.4 523.3h1v1h-1zM179.4 524.3h1v1h-1zM179.4 527.3h1v1h-1zM180.4 512.3h1v1h-1zM180.4 515.3h1v1h-1zM180.4 520.3h1v1h-1zM180.4 521.3h1v1h-1zM180.4 522.3h1v1h-1zM180.4 523.3h1v1h-1zM180.4 525.3h1v1h-1zM180.4 527.3h1v1h-1zM181.4 497.3h1v1h-1zM181.4 508.3h1v1h-1zM181.4 511.3h1v1h-1zM181.4 517.3h1v1h-1zM181.4 523.3h1v1h-1zM181.4 524.3h1v1h-1zM181.4 525.3h1v1h-1zM181.4 526.3h1v1h-1zM182.4 497.3h1v1h-1zM182.4 499.3h1v1h-1zM182.4 505.3h1v1h-1zM182.4 512.3h1v1h-1zM182.4 517.3h1v1h-1zM182.4 519.3h1v1h-1zM182.4 520.3h1v1h-1zM182.4 522.3h1v1h-1zM182.4 524.3h1v1h-1zM182.4 525.3h1v1h-1zM182.4 526.3h1v1h-1zM183.4 510.3h1v1h-1zM183.4 513.3h1v1h-1zM183.4 515.3h1v1h-1zM183.4 517.3h1v1h-1zM183.4 519.3h1v1h-1zM183.4 520.3h1v1h-1zM183.4 521.3h1v1h-1zM183.4 522.3h1v1h-1zM183.4 523.3h1v1h-1zM183.4 524.3h1v1h-1zM183.4 525.3h1v1h-1zM183.4 526.3h1v1h-1zM184.4 512.3h1v1h-1zM184.4 513.3h1v1h-1zM184.4 516.3h1v1h-1zM184.4 517.3h1v1h-1zM184.4 519.3h1v1h-1zM184.4 520.3h1v1h-1zM184.4 521.3h1v1h-1zM184.4 522.3h1v1h-1zM184.4 523.3h1v1h-1zM184.4 524.3h1v1h-1zM185.4 501.3h1v1h-1zM185.4 513.3h1v1h-1zM185.4 514.3h1v1h-1zM185.4 515.3h1v1h-1zM185.4 516.3h1v1h-1zM185.4 517.3h1v1h-1zM185.4 518.3h1v1h-1zM185.4 519.3h1v1h-1zM185.4 521.3h1v1h-1zM185.4 522.3h1v1h-1zM185.4 523.3h1v1h-1zM185.4 524.3h1v1h-1zM185.4 525.3h1v1h-1zM185.4 526.3h1v1h-1zM186.4 500.3h1v1h-1zM186.4 501.3h1v1h-1zM186.4 507.3h1v1h-1zM186.4 512.3h1v1h-1zM186.4 515.3h1v1h-1zM186.4 516.3h1v1h-1zM186.4 517.3h1v1h-1zM186.4 518.3h1v1h-1zM186.4 519.3h1v1h-1zM186.4 520.3h1v1h-1zM186.4 521.3h1v1h-1zM186.4 522.3h1v1h-1zM186.4 523.3h1v1h-1zM186.4 524.3h1v1h-1zM186.4 525.3h1v1h-1zM186.4 526.3h1v1h-1zM187.4 500.3h1v1h-1zM187.4 505.3h1v1h-1zM187.4 510.3h1v1h-1zM187.4 511.3h1v1h-1zM187.4 512.3h1v1h-1zM187.4 513.3h1v1h-1zM187.4 514.3h1v1h-1zM187.4 515.3h1v1h-1zM187.4 516.3h1v1h-1zM187.4 517.3h1v1h-1zM187.4 518.3h1v1h-1zM187.4 519.3h1v1h-1zM187.4 520.3h1v1h-1zM187.4 521.3h1v1h-1zM187.4 522.3h1v1h-1zM187.4 523.3h1v1h-1zM187.4 524.3h1v1h-1zM187.4 525.3h1v1h-1zM187.4 526.3h1v1h-1zM187.4 527.3h1v1h-1zM188.4 502.3h1v1h-1zM188.4 511.3h1v1h-1zM188.4 512.3h1v1h-1zM188.4 515.3h1v1h-1zM188.4 516.3h1v1h-1zM188.4 518.3h1v1h-1zM188.4 519.3h1v1h-1zM188.4 520.3h1v1h-1zM188.4 521.3h1v1h-1zM188.4 522.3h1v1h-1zM188.4 523.3h1v1h-1zM188.4 524.3h1v1h-1zM188.4 525.3h1v1h-1zM188.4 526.3h1v1h-1zM189.4 513.3h1v1h-1zM189.4 515.3h1v1h-1zM189.4 516.3h1v1h-1zM189.4 518.3h1v1h-1zM189.4 519.3h1v1h-1zM189.4 520.3h1v1h-1zM189.4 521.3h1v1h-1zM189.4 522.3h1v1h-1zM189.4 523.3h1v1h-1zM189.4 524.3h1v1h-1zM189.4 525.3h1v1h-1zM190.4 506.3h1v1h-1zM190.4 507.3h1v1h-1zM190.4 508.3h1v1h-1zM190.4 510.3h1v1h-1zM190.4 512.3h1v1h-1zM190.4 513.3h1v1h-1zM190.4 514.3h1v1h-1zM190.4 515.3h1v1h-1zM190.4 516.3h1v1h-1zM190.4 517.3h1v1h-1zM190.4 519.3h1v1h-1zM190.4 520.3h1v1h-1zM190.4 521.3h1v1h-1zM190.4 522.3h1v1h-1zM190.4 523.3h1v1h-1zM190.4 524.3h1v1h-1zM190.4 525.3h1v1h-1zM190.4 526.3h1v1h-1zM190.4 527.3h1v1h-1zM191.4 484.3h1v1h-1zM191.4 501.3h1v1h-1zM191.4 513.3h1v1h-1zM191.4 515.3h1v1h-1zM191.4 516.3h1v1h-1zM191.4 518.3h1v1h-1zM191.4 519.3h1v1h-1zM191.4 520.3h1v1h-1zM191.4 521.3h1v1h-1zM191.4 522.3h1v1h-1zM191.4 523.3h1v1h-1zM191.4 524.3h1v1h-1zM191.4 526.3h1v1h-1zM192.4 504.3h1v1h-1zM192.4 508.3h1v1h-1zM192.4 510.3h1v1h-1zM192.4 513.3h1v1h-1zM192.4 517.3h1v1h-1zM192.4 519.3h1v1h-1zM192.4 520.3h1v1h-1zM192.4 521.3h1v1h-1zM192.4 522.3h1v1h-1zM192.4 523.3h1v1h-1zM192.4 524.3h1v1h-1zM192.4 525.3h1v1h-1zM192.4 526.3h1v1h-1zM192.4 527.3h1v1h-1zM193.4 492.3h1v1h-1zM193.4 502.3h1v1h-1zM193.4 510.3h1v1h-1zM193.4 512.3h1v1h-1zM193.4 514.3h1v1h-1zM193.4 515.3h1v1h-1zM193.4 516.3h1v1h-1zM193.4 517.3h1v1h-1zM193.4 518.3h1v1h-1zM193.4 519.3h1v1h-1zM193.4 520.3h1v1h-1zM193.4 521.3h1v1h-1zM193.4 522.3h1v1h-1zM193.4 523.3h1v1h-1zM193.4 524.3h1v1h-1zM193.4 525.3h1v1h-1zM193.4 526.3h1v1h-1zM193.4 527.3h1v1h-1zM194.4 512.3h1v1h-1zM194.4 513.3h1v1h-1zM194.4 514.3h1v1h-1zM194.4 516.3h1v1h-1zM194.4 518.3h1v1h-1zM194.4 519.3h1v1h-1zM194.4 521.3h1v1h-1zM194.4 522.3h1v1h-1zM194.4 524.3h1v1h-1zM194.4 525.3h1v1h-1zM194.4 526.3h1v1h-1zM194.4 527.3h1v1h-1zM195.4 470.3h1v1h-1zM195.4 505.3h1v1h-1zM195.4 506.3h1v1h-1zM195.4 507.3h1v1h-1zM195.4 508.3h1v1h-1zM195.4 509.3h1v1h-1zM195.4 514.3h1v1h-1zM195.4 516.3h1v1h-1zM195.4 517.3h1v1h-1zM195.4 519.3h1v1h-1zM195.4 520.3h1v1h-1zM195.4 521.3h1v1h-1zM195.4 523.3h1v1h-1zM195.4 524.3h1v1h-1zM195.4 525.3h1v1h-1zM195.4 526.3h1v1h-1zM196.4 486.3h1v1h-1zM196.4 508.3h1v1h-1zM196.4 516.3h1v1h-1zM196.4 520.3h1v1h-1zM196.4 521.3h1v1h-1zM196.4 522.3h1v1h-1zM196.4 523.3h1v1h-1zM196.4 524.3h1v1h-1zM196.4 525.3h1v1h-1zM197.4 515.3h1v1h-1zM197.4 516.3h1v1h-1zM197.4 518.3h1v1h-1zM197.4 519.3h1v1h-1zM197.4 521.3h1v1h-1zM197.4 522.3h1v1h-1zM197.4 523.3h1v1h-1zM197.4 525.3h1v1h-1zM197.4 526.3h1v1h-1zM197.4 527.3h1v1h-1zM197.4 528.3h1v1h-1zM198.4 496.3h1v1h-1zM198.4 498.3h1v1h-1zM198.4 506.3h1v1h-1zM198.4 511.3h1v1h-1zM198.4 517.3h1v1h-1zM198.4 518.3h1v1h-1zM198.4 519.3h1v1h-1zM198.4 521.3h1v1h-1zM198.4 525.3h1v1h-1zM198.4 526.3h1v1h-1zM198.4 527.3h1v1h-1zM199.4 476.3h1v1h-1zM199.4 510.3h1v1h-1zM199.4 516.3h1v1h-1zM199.4 518.3h1v1h-1zM199.4 520.3h1v1h-1zM199.4 521.3h1v1h-1zM199.4 524.3h1v1h-1zM199.4 526.3h1v1h-1zM200.4 495.3h1v1h-1zM200.4 497.3h1v1h-1zM200.4 509.3h1v1h-1zM200.4 519.3h1v1h-1zM200.4 522.3h1v1h-1zM200.4 524.3h1v1h-1zM200.4 527.3h1v1h-1zM201.4 514.3h1v1h-1zM201.4 520.3h1v1h-1zM201.4 521.3h1v1h-1zM201.4 530.3h1v1h-1zM203.4 526.3h1v1h-1zM203.4 527.3h1v1h-1zM203.4 529.3h1v1h-1zM204.4 526.3h1v1h-1zM204.4 528.3h1v1h-1zM206.4 510.3h1v1h-1zM206.4 519.3h1v1h-1zM206.4 522.3h1v1h-1zM207.4 531.3h1v1h-1zM207.4 532.3h1v1h-1zM208.4 510.3h1v1h-1zM209.4 470.3h1v1h-1zM209.4 500.3h1v1h-1zM209.4 514.3h1v1h-1zM209.4 530.3h1v1h-1zM209.4 533.3h1v1h-1zM210.4 531.3h1v1h-1zM210.4 534.3h1v1h-1zM212.4 511.3h1v1h-1zM212.4 515.3h1v1h-1zM213.4 483.3h1v1h-1zM213.4 503.3h1v1h-1zM214.4 487.3h1v1h-1zM215.4 491.3h1v1h-1zM215.4 507.3h1v1h-1zM217.4 500.3h1v1h-1zM217.4 508.3h1v1h-1zM217.4 523.3h1v1h-1zM218.4 488.3h1v1h-1zM218.4 542.3h1v1h-1zM219.4 498.3h1v1h-1zM219.4 523.3h1v1h-1zM219.4 536.3h1v1h-1zM220.4 540.3h1v1h-1zM221.4 539.3h1v1h-1zM222.4 526.3h1v1h-1zM222.4 537.3h1v1h-1zM222.4 539.3h1v1h-1zM222.4 540.3h1v1h-1zM223.4 540.3h1v1h-1zM223.4 541.3h1v1h-1zM225.4 538.3h1v1h-1zM225.4 541.3h1v1h-1zM225.4 544.3h1v1h-1zM226.4 505.3h1v1h-1zM226.4 537.3h1v1h-1zM226.4 545.3h1v1h-1zM227.4 537.3h1v1h-1zM227.4 544.3h1v1h-1zM227.4 546.3h1v1h-1zM228.4 499.3h1v1h-1zM228.4 539.3h1v1h-1zM228.4 545.3h1v1h-1zM229.4 527.3h1v1h-1zM229.4 545.3h1v1h-1zM230.4 495.3h1v1h-1zM230.4 533.3h1v1h-1zM230.4 542.3h1v1h-1zM230.4 543.3h1v1h-1zM230.4 545.3h1v1h-1zM230.4 546.3h1v1h-1zM230.4 547.3h1v1h-1zM230.4 548.3h1v1h-1zM231.4 546.3h1v1h-1zM231.4 548.3h1v1h-1zM232.4 480.3h1v1h-1zM232.4 545.3h1v1h-1zM232.4 550.3h1v1h-1zM233.4 501.3h1v1h-1zM233.4 544.3h1v1h-1zM234.4 521.3h1v1h-1zM234.4 543.3h1v1h-1zM234.4 553.3h1v1h-1zM235.4 543.3h1v1h-1zM235.4 547.3h1v1h-1zM235.4 548.3h1v1h-1zM236.4 531.3h1v1h-1zM236.4 553.3h1v1h-1zM236.4 555.3h1v1h-1zM237.4 559.3h1v1h-1zM238.4 560.3h1v1h-1zM239.4 561.3h1v1h-1zM239.4 565.3h1v1h-1zM239.4 567.3h1v1h-1zM240.4 545.3h1v1h-1zM240.4 553.3h1v1h-1zM240.4 567.3h1v1h-1zM242.4 566.3h1v1h-1zM243.4 562.3h1v1h-1zM244.4 542.3h1v1h-1zM244.4 543.3h1v1h-1zM246.4 530.3h1v1h-1zM246.4 545.3h1v1h-1zM248.4 491.3h1v1h-1zM254.4 537.3h1v1h-1z" fill="#0a0a80"/>
</g>
<path d="M210.70 467.30V569.70M178.40 528.00H279.30" stroke="#8c8c8c" stroke-width="1" fill="none"/>
<rect x="178.40" y="467.30" width="100.90" height="102.40" fill="none" stroke="#8a8a8a" stroke-width="1.1"/>
<text x="180.40" y="477.30" font-size="10.8">0.08</text>
<text x="278.70" y="477.30" font-size="10.8" text-anchor="end">0.01</text>
<text x="179.00" y="584.80" font-size="10.3" text-anchor="middle">10<tspan font-size="7" dy="-6">0</tspan></text>
<text x="204.22" y="584.80" font-size="10.3" text-anchor="middle">10<tspan font-size="7" dy="-6">1</tspan></text>
<text x="229.45" y="584.80" font-size="10.3" text-anchor="middle">10<tspan font-size="7" dy="-6">2</tspan></text>
<text x="254.68" y="584.80" font-size="10.3" text-anchor="middle">10<tspan font-size="7" dy="-6">3</tspan></text>
<text x="279.90" y="584.80" font-size="10.3" text-anchor="middle">10<tspan font-size="7" dy="-6">4</tspan></text>
<text x="174.20" y="574.00" font-size="10.3" text-anchor="end">10<tspan font-size="7" dy="-6">0</tspan></text>
<text x="174.20" y="548.40" font-size="10.3" text-anchor="end">10<tspan font-size="7" dy="-6">1</tspan></text>
<text x="174.20" y="522.80" font-size="10.3" text-anchor="end">10<tspan font-size="7" dy="-6">2</tspan></text>
<text x="174.20" y="497.20" font-size="10.3" text-anchor="end">10<tspan font-size="7" dy="-6">3</tspan></text>
<text x="174.20" y="471.60" font-size="10.3" text-anchor="end">10<tspan font-size="7" dy="-6">4</tspan></text>
<clipPath id="c32"><rect x="332.20" y="467.30" width="100.90" height="102.40"/></clipPath>
<g clip-path="url(#c32)">
<path d="M340.2 532.3h1v1h-1zM345.2 532.3h1v1h-1zM335.2 533.3h1v1h-1zM341.2 533.3h1v1h-1zM343.2 533.3h2v1h-2zM346.2 533.3h1v1h-1zM335.2 534.3h1v1h-1zM337.2 534.3h2v1h-2zM341.2 534.3h7v1h-7zM349.2 534.3h5v1h-5zM333.2 535.3h5v1h-5zM340.2 535.3h7v1h-7zM348.2 535.3h6v1h-6zM359.2 535.3h1v1h-1zM332.2 536.3h1v1h-1zM334.2 536.3h20v1h-20zM355.2 536.3h1v1h-1zM359.2 536.3h1v1h-1zM363.2 536.3h1v1h-1zM332.2 537.3h25v1h-25zM358.2 537.3h3v1h-3zM363.2 537.3h1v1h-1zM365.2 537.3h4v1h-4zM370.2 537.3h2v1h-2zM383.2 537.3h1v1h-1zM332.2 538.3h35v1h-35zM369.2 538.3h5v1h-5zM375.2 538.3h2v1h-2zM379.2 538.3h1v1h-1zM332.2 539.3h25v1h-25zM358.2 539.3h9v1h-9zM368.2 539.3h10v1h-10zM379.2 539.3h2v1h-2zM332.2 540.3h39v1h-39zM372.2 540.3h4v1h-4zM377.2 540.3h1v1h-1zM379.2 540.3h1v1h-1zM381.2 540.3h1v1h-1zM383.2 540.3h1v1h-1zM387.2 540.3h1v1h-1zM332.2 541.3h47v1h-47zM380.2 541.3h7v1h-7zM332.2 542.3h44v1h-44zM377.2 542.3h10v1h-10zM332.2 543.3h54v1h-54zM388.2 543.3h1v1h-1zM332.2 544.3h54v1h-54zM387.2 544.3h1v1h-1zM332.2 545.3h53v1h-53zM386.2 545.3h3v1h-3zM332.2 546.3h55v1h-55zM388.2 546.3h1v1h-1zM332.2 547.3h50v1h-50zM383.2 547.3h7v1h-7zM332.2 548.3h57v1h-57zM332.2 549.3h55v1h-55zM388.2 549.3h1v1h-1zM392.2 549.3h1v1h-1zM332.2 550.3h59v1h-59zM332.2 551.3h56v1h-56zM389.2 551.3h1v1h-1zM332.2 552.3h59v1h-59zM332.2 553.3h59v1h-59zM332.2 554.3h59v1h-59zM332.2 555.3h57v1h-57zM391.2 555.3h1v1h-1zM332.2 556.3h58v1h-58zM332.2 557.3h59v1h-59zM332.2 558.3h59v1h-59zM332.2 559.3h60v1h-60zM332.2 560.3h60v1h-60zM332.2 561.3h60v1h-60zM332.2 562.3h57v1h-57zM390.2 562.3h1v1h-1zM332.2 563.3h59v1h-59zM392.2 563.3h1v1h-1zM332.2 564.3h61v1h-61zM332.2 565.3h60v1h-60zM332.2 566.3h60v1h-60zM332.2 567.3h57v1h-57zM390.2 567.3h2v1h-2zM332.2 568.3h58v1h-58zM391.2 568.3h1v1h-1z" fill="#0c0c8a"/>
<g filter="url(#bl)">
<path d="M338.9 537.5L338.4 538.0L336.9 538.0L336.4 538.5L335.4 538.5L334.9 539.0L334.4 539.0L333.9 539.5L333.4 539.5L332.9 540.0L332.4 540.0L331.4 541.0L330.9 541.0L329.4 542.5L329.4 572.5L385.4 572.5L385.4 561.5L384.9 561.0L384.9 557.0L384.4 556.5L384.4 555.0L383.9 554.5L383.9 553.5L383.4 553.0L383.4 552.5L382.9 552.0L382.9 551.5L381.9 550.5L381.9 550.0L380.4 548.5L379.9 548.5L379.4 548.0L378.9 548.0L378.4 547.5L377.9 547.5L377.4 547.0L376.4 547.0L375.9 546.5L373.9 546.5L373.4 546.0L368.9 546.0L368.4 545.5L366.9 545.5L365.9 544.5L365.4 544.5L364.4 543.5L363.9 543.5L362.9 542.5L362.4 542.5L361.9 542.0L361.4 542.0L360.4 541.0L359.9 541.0L359.4 540.5L358.9 540.5L358.4 540.0L357.9 540.0L357.4 539.5L356.9 539.5L356.4 539.0L355.4 539.0L354.9 538.5L353.4 538.5L352.9 538.0L350.9 538.0L350.4 537.5Z" fill="#0a1cc4" fill-rule="evenodd"/>
<path d="M340.4 538.5L339.9 539.0L337.9 539.0L337.4 539.5L336.4 539.5L335.9 540.0L334.9 540.0L334.4 540.5L333.9 540.5L332.9 541.5L332.4 541.5L330.9 543.0L330.4 543.0L329.4 544.0L329.4 572.5L367.9 572.5L367.9 571.5L368.4 571.0L368.4 570.0L368.9 569.5L368.9 567.5L369.4 567.0L369.4 557.0L368.9 556.5L368.9 555.0L368.4 554.5L368.4 553.5L367.9 553.0L367.9 552.5L367.4 552.0L367.4 551.0L366.4 550.0L366.4 549.5L364.9 548.0L364.9 547.5L360.9 543.5L360.4 543.5L359.4 542.5L358.9 542.5L357.9 541.5L357.4 541.5L356.9 541.0L356.4 541.0L355.9 540.5L355.4 540.5L354.9 540.0L354.4 540.0L353.9 539.5L352.9 539.5L352.4 539.0L349.9 539.0L349.4 538.5Z" fill="#0c3cec" fill-rule="evenodd"/>
<path d="M340.9 539.5L340.4 540.0L338.4 540.0L337.9 540.5L336.9 540.5L336.4 541.0L335.4 541.0L334.9 541.5L334.4 541.5L333.4 542.5L332.9 542.5L329.4 546.0L329.4 572.5L362.9 572.5L362.9 572.0L363.4 571.5L363.4 571.0L363.9 570.5L363.9 569.5L364.4 569.0L364.4 567.5L364.9 567.0L364.9 564.5L365.4 564.0L365.4 556.5L364.9 556.0L364.9 553.5L364.4 553.0L364.4 552.0L363.9 551.5L363.9 550.5L363.4 550.0L363.4 549.5L362.4 548.5L362.4 548.0L361.9 547.5L361.9 547.0L357.9 543.0L357.4 543.0L356.4 542.0L355.9 542.0L355.4 541.5L354.9 541.5L354.4 541.0L353.4 541.0L352.9 540.5L351.9 540.5L351.4 540.0L349.4 540.0L348.9 539.5Z" fill="#1468f4" fill-rule="evenodd"/>
<path d="M339.9 541.0L339.4 541.5L337.9 541.5L337.4 542.0L336.4 542.0L335.9 542.5L335.4 542.5L334.9 543.0L334.4 543.0L333.4 544.0L332.9 544.0L330.4 546.5L330.4 547.0L329.4 548.0L329.4 571.0L329.9 571.5L329.9 572.0L330.4 572.5L359.9 572.5L360.4 572.0L360.4 571.5L360.9 571.0L360.9 570.5L361.4 570.0L361.4 569.5L361.9 569.0L361.9 567.5L362.4 567.0L362.4 565.5L362.9 565.0L362.9 555.0L362.4 554.5L362.4 552.5L361.9 552.0L361.9 551.0L361.4 550.5L361.4 550.0L360.9 549.5L360.9 549.0L359.9 548.0L359.9 547.5L358.4 546.0L358.4 545.5L357.9 545.5L355.9 543.5L355.4 543.5L354.9 543.0L354.4 543.0L353.9 542.5L353.4 542.5L352.9 542.0L352.4 542.0L351.9 541.5L350.4 541.5L349.9 541.0Z" fill="#1c9cf0" fill-rule="evenodd"/>
<path d="M340.4 542.0L339.9 542.5L338.4 542.5L337.9 543.0L336.9 543.0L336.4 543.5L335.9 543.5L335.4 544.0L334.9 544.0L333.9 545.0L333.4 545.0L331.4 547.0L331.4 547.5L330.4 548.5L330.4 549.0L329.9 549.5L329.9 550.0L329.4 550.5L329.4 569.0L329.9 569.5L329.9 570.0L330.9 571.0L330.9 571.5L331.9 572.5L357.9 572.5L358.9 571.5L358.9 571.0L359.4 570.5L359.4 570.0L359.9 569.5L359.9 569.0L360.4 568.5L360.4 567.5L360.9 567.0L360.9 565.0L361.4 564.5L361.4 555.0L360.9 554.5L360.9 553.0L360.4 552.5L360.4 551.5L359.9 551.0L359.9 550.5L359.4 550.0L359.4 549.5L358.9 549.0L358.9 548.5L357.9 547.5L357.9 547.0L355.9 545.0L355.4 545.0L354.4 544.0L353.9 544.0L353.4 543.5L352.9 543.5L352.4 543.0L351.4 543.0L350.9 542.5L349.9 542.5L349.4 542.0Z" fill="#20c8e0" fill-rule="evenodd"/>
<path d="M341.9 543.0L341.4 543.5L339.4 543.5L338.9 544.0L337.9 544.0L337.4 544.5L336.4 544.5L335.4 545.5L334.9 545.5L331.4 549.0L331.4 549.5L330.9 550.0L330.9 550.5L330.4 551.0L330.4 551.5L329.9 552.0L329.9 553.0L329.4 553.5L329.4 565.5L329.9 566.0L329.9 567.0L330.4 567.5L330.4 568.5L330.9 569.0L330.9 569.5L331.9 570.5L331.9 571.0L333.4 572.5L355.9 572.5L357.4 571.0L357.4 570.5L357.9 570.0L357.9 569.5L358.4 569.0L358.4 568.5L358.9 568.0L358.9 567.5L359.4 567.0L359.4 565.5L359.9 565.0L359.9 554.5L359.4 554.0L359.4 553.0L358.9 552.5L358.9 551.5L358.4 551.0L358.4 550.5L357.9 550.0L357.9 549.5L356.9 548.5L356.9 548.0L354.9 546.0L354.4 546.0L353.4 545.0L352.9 545.0L352.4 544.5L351.9 544.5L351.4 544.0L350.4 544.0L349.9 543.5L348.4 543.5L347.9 543.0Z" fill="#26e8b0" fill-rule="evenodd"/>
<path d="M340.9 545.0L340.4 545.5L338.9 545.5L338.4 546.0L337.9 546.0L337.4 546.5L336.9 546.5L336.4 547.0L335.9 547.0L332.9 550.0L332.9 550.5L332.4 551.0L332.4 551.5L331.9 552.0L331.9 552.5L331.4 553.0L331.4 554.5L330.9 555.0L330.9 558.0L330.4 558.5L330.4 560.5L330.9 561.0L330.9 564.5L331.4 565.0L331.4 566.0L331.9 566.5L331.9 567.5L332.4 568.0L332.4 568.5L333.4 569.5L333.4 570.0L335.4 572.0L335.9 572.0L336.4 572.5L352.9 572.5L355.9 569.5L355.9 569.0L356.4 568.5L356.4 568.0L356.9 567.5L356.9 567.0L357.4 566.5L357.4 565.0L357.9 564.5L357.9 561.5L358.4 561.0L358.4 558.5L357.9 558.0L357.9 554.5L357.4 554.0L357.4 553.0L356.9 552.5L356.9 552.0L356.4 551.5L356.4 551.0L355.9 550.5L355.9 550.0L352.9 547.0L352.4 547.0L351.4 546.0L350.4 546.0L349.9 545.5L348.9 545.5L348.4 545.0Z" fill="#30f070" fill-rule="evenodd"/>
<path d="M343.4 552.0L342.9 552.5L341.4 552.5L340.9 553.0L340.4 553.0L338.4 555.0L338.4 555.5L337.9 556.0L337.9 557.0L337.4 557.5L337.4 562.0L337.9 562.5L337.9 563.5L338.4 564.0L338.4 564.5L339.9 566.0L340.4 566.0L340.9 566.5L341.4 566.5L341.9 567.0L346.9 567.0L347.4 566.5L347.9 566.5L348.9 565.5L349.4 565.5L349.4 565.0L350.4 564.0L350.4 563.5L350.9 563.0L350.9 556.5L350.4 556.0L350.4 555.5L349.9 555.0L349.9 554.5L348.4 553.0L347.9 553.0L347.4 552.5L345.9 552.5L345.4 552.0Z" fill="#50f038" fill-rule="evenodd"/>
</g>
<rect x="332.2" y="568.10" width="27" height="1.2" fill="#6a5a20" fill-opacity="0.55"/>
<path d="M332.2 527.3h1v1h-1zM332.2 532.3h1v1h-1zM333.2 534.3h1v1h-1zM337.2 532.3h1v1h-1zM338.2 510.3h1v1h-1zM338.2 526.3h1v1h-1zM339.2 526.3h1v1h-1zM341.2 531.3h1v1h-1zM341.2 532.3h1v1h-1zM342.2 530.3h1v1h-1zM342.2 533.3h1v1h-1zM343.2 526.3h1v1h-1zM344.2 531.3h1v1h-1zM345.2 533.3h1v1h-1zM347.2 528.3h1v1h-1zM347.2 530.3h1v1h-1zM348.2 529.3h1v1h-1zM349.2 532.3h1v1h-1zM350.2 533.3h1v1h-1zM351.2 531.3h1v1h-1zM351.2 532.3h1v1h-1zM353.2 533.3h1v1h-1zM354.2 532.3h1v1h-1zM355.2 516.3h1v1h-1zM357.2 529.3h1v1h-1zM357.2 532.3h1v1h-1zM358.2 529.3h1v1h-1zM358.2 533.3h1v1h-1zM360.2 529.3h1v1h-1zM361.2 533.3h1v1h-1zM361.2 535.3h1v1h-1zM362.2 536.3h1v1h-1zM363.2 533.3h1v1h-1zM363.2 535.3h1v1h-1zM365.2 532.3h1v1h-1zM370.2 535.3h1v1h-1zM371.2 536.3h1v1h-1zM373.2 536.3h1v1h-1zM373.2 537.3h1v1h-1zM380.2 537.3h1v1h-1zM381.2 538.3h1v1h-1zM383.2 535.3h1v1h-1zM383.2 536.3h1v1h-1zM385.2 534.3h1v1h-1zM387.2 539.3h1v1h-1zM387.2 542.3h1v1h-1zM388.2 539.3h1v1h-1zM389.2 546.3h1v1h-1zM390.2 546.3h1v1h-1zM391.2 546.3h1v1h-1zM392.2 558.3h1v1h-1zM393.2 545.3h1v1h-1zM393.2 562.3h1v1h-1zM393.2 563.3h1v1h-1zM393.2 567.3h1v1h-1z" fill="#0a0a80"/>
</g>
<path d="M364.50 467.30V569.70M332.20 528.00H433.10" stroke="#8c8c8c" stroke-width="1" fill="none"/>
<rect x="332.20" y="467.30" width="100.90" height="102.40" fill="none" stroke="#8a8a8a" stroke-width="1.1"/>
<text x="334.20" y="477.30" font-size="10.8">0.00</text>
<text x="432.50" y="477.30" font-size="10.8" text-anchor="end">0.00</text>
<text x="332.80" y="584.80" font-size="10.3" text-anchor="middle">10<tspan font-size="7" dy="-6">0</tspan></text>
<text x="358.03" y="584.80" font-size="10.3" text-anchor="middle">10<tspan font-size="7" dy="-6">1</tspan></text>
<text x="383.25" y="584.80" font-size="10.3" text-anchor="middle">10<tspan font-size="7" dy="-6">2</tspan></text>
<text x="408.48" y="584.80" font-size="10.3" text-anchor="middle">10<tspan font-size="7" dy="-6">3</tspan></text>
<text x="433.70" y="584.80" font-size="10.3" text-anchor="middle">10<tspan font-size="7" dy="-6">4</tspan></text>
<text x="328.00" y="574.00" font-size="10.3" text-anchor="end">10<tspan font-size="7" dy="-6">0</tspan></text>
<text x="328.00" y="548.40" font-size="10.3" text-anchor="end">10<tspan font-size="7" dy="-6">1</tspan></text>
<text x="328.00" y="522.80" font-size="10.3" text-anchor="end">10<tspan font-size="7" dy="-6">2</tspan></text>
<text x="328.00" y="497.20" font-size="10.3" text-anchor="end">10<tspan font-size="7" dy="-6">3</tspan></text>
<text x="328.00" y="471.60" font-size="10.3" text-anchor="end">10<tspan font-size="7" dy="-6">4</tspan></text>
<clipPath id="c33"><rect x="455.40" y="467.30" width="100.90" height="102.40"/></clipPath>
<g clip-path="url(#c33)">
<path d="M468.4 530.3h1v1h-1zM460.4 531.3h1v1h-1zM466.4 531.3h2v1h-2zM470.4 531.3h2v1h-2zM477.4 531.3h1v1h-1zM462.4 532.3h1v1h-1zM465.4 532.3h7v1h-7zM473.4 532.3h1v1h-1zM475.4 532.3h3v1h-3zM455.4 533.3h1v1h-1zM457.4 533.3h1v1h-1zM459.4 533.3h20v1h-20zM455.4 534.3h1v1h-1zM457.4 534.3h26v1h-26zM455.4 535.3h29v1h-29zM485.4 535.3h1v1h-1zM455.4 536.3h32v1h-32zM488.4 536.3h1v1h-1zM455.4 537.3h31v1h-31zM487.4 537.3h1v1h-1zM492.4 537.3h1v1h-1zM455.4 538.3h34v1h-34zM491.4 538.3h2v1h-2zM455.4 539.3h37v1h-37zM493.4 539.3h1v1h-1zM496.4 539.3h4v1h-4zM455.4 540.3h41v1h-41zM497.4 540.3h5v1h-5zM503.4 540.3h2v1h-2zM455.4 541.3h49v1h-49zM507.4 541.3h1v1h-1zM455.4 542.3h51v1h-51zM507.4 542.3h1v1h-1zM455.4 543.3h53v1h-53zM455.4 544.3h55v1h-55zM455.4 545.3h53v1h-53zM455.4 546.3h54v1h-54zM455.4 547.3h56v1h-56zM455.4 548.3h56v1h-56zM455.4 549.3h56v1h-56zM455.4 550.3h56v1h-56zM512.4 550.3h1v1h-1zM455.4 551.3h57v1h-57zM455.4 552.3h55v1h-55zM511.4 552.3h1v1h-1zM455.4 553.3h58v1h-58zM514.4 553.3h1v1h-1zM455.4 554.3h57v1h-57zM455.4 555.3h57v1h-57zM455.4 556.3h59v1h-59zM455.4 557.3h59v1h-59zM455.4 558.3h57v1h-57zM455.4 559.3h56v1h-56zM512.4 559.3h2v1h-2zM455.4 560.3h58v1h-58zM455.4 561.3h57v1h-57zM513.4 561.3h1v1h-1zM455.4 562.3h57v1h-57zM513.4 562.3h1v1h-1zM455.4 563.3h60v1h-60zM455.4 564.3h59v1h-59zM455.4 565.3h59v1h-59zM455.4 566.3h58v1h-58zM455.4 567.3h58v1h-58zM514.4 567.3h1v1h-1zM455.4 568.3h59v1h-59z" fill="#0c0c8a"/>
<g filter="url(#bl)">
<path d="M466.1 535.0L465.6 535.5L462.6 535.5L462.1 536.0L460.6 536.0L460.1 536.5L459.1 536.5L458.6 537.0L458.1 537.0L457.6 537.5L457.1 537.5L456.6 538.0L456.1 538.0L455.1 539.0L454.6 539.0L453.6 540.0L453.1 540.0L452.6 540.5L452.6 572.5L510.1 572.5L510.1 562.0L509.6 561.5L509.6 558.0L509.1 557.5L509.1 556.0L508.6 555.5L508.6 554.0L508.1 553.5L508.1 553.0L507.6 552.5L507.6 552.0L507.1 551.5L507.1 551.0L506.6 550.5L506.6 550.0L503.1 546.5L502.6 546.5L502.1 546.0L501.6 546.0L501.1 545.5L500.6 545.5L500.1 545.0L499.1 545.0L498.6 544.5L497.1 544.5L496.6 544.0L495.1 544.0L494.6 543.5L493.6 543.5L493.1 543.0L492.6 543.0L492.1 542.5L491.6 542.5L491.1 542.0L490.6 542.0L490.1 541.5L489.6 541.5L489.1 541.0L488.6 541.0L488.1 540.5L487.6 540.5L486.6 539.5L486.1 539.5L485.6 539.0L485.1 539.0L484.6 538.5L483.6 538.5L483.1 538.0L482.6 538.0L482.1 537.5L481.6 537.5L481.1 537.0L480.1 537.0L479.6 536.5L478.6 536.5L478.1 536.0L476.6 536.0L476.1 535.5L473.1 535.5L472.6 535.0Z" fill="#0a1cc4" fill-rule="evenodd"/>
<path d="M463.6 536.5L463.1 537.0L461.6 537.0L461.1 537.5L460.1 537.5L459.6 538.0L458.6 538.0L458.1 538.5L457.6 538.5L457.1 539.0L456.6 539.0L455.6 540.0L455.1 540.0L452.6 542.5L452.6 572.5L507.6 572.5L507.6 562.5L507.1 562.0L507.1 559.0L506.6 558.5L506.6 557.0L506.1 556.5L506.1 555.5L505.6 555.0L505.6 554.0L504.6 553.0L504.6 552.5L503.6 551.5L503.6 551.0L502.6 550.0L502.1 550.0L501.1 549.0L500.6 549.0L500.1 548.5L499.6 548.5L499.1 548.0L498.6 548.0L498.1 547.5L497.1 547.5L496.6 547.0L495.6 547.0L495.1 546.5L494.6 546.5L493.6 545.5L493.1 545.5L492.6 545.0L492.1 545.0L491.1 544.0L490.6 544.0L490.1 543.5L489.6 543.5L488.1 542.0L487.6 542.0L487.1 541.5L486.6 541.5L485.6 540.5L485.1 540.5L484.6 540.0L484.1 540.0L483.1 539.0L482.1 539.0L481.6 538.5L481.1 538.5L480.6 538.0L479.6 538.0L479.1 537.5L478.1 537.5L477.6 537.0L475.6 537.0L475.1 536.5Z" fill="#0c3cec" fill-rule="evenodd"/>
<path d="M464.1 537.5L463.6 538.0L461.6 538.0L461.1 538.5L460.1 538.5L459.6 539.0L459.1 539.0L458.6 539.5L458.1 539.5L457.6 540.0L457.1 540.0L456.1 541.0L455.6 541.0L452.6 544.0L452.6 572.5L503.1 572.5L503.1 562.0L502.6 561.5L502.6 560.0L502.1 559.5L502.1 558.5L501.6 558.0L501.6 557.5L501.1 557.0L501.1 556.5L500.1 555.5L500.1 555.0L497.6 552.5L497.1 552.5L496.1 551.5L496.1 551.0L494.6 549.5L494.1 549.5L489.1 544.5L488.6 544.5L486.6 542.5L486.1 542.5L485.1 541.5L484.6 541.5L483.6 540.5L483.1 540.5L482.6 540.0L482.1 540.0L481.6 539.5L481.1 539.5L480.6 539.0L479.6 539.0L479.1 538.5L477.6 538.5L477.1 538.0L475.6 538.0L475.1 537.5Z" fill="#1468f4" fill-rule="evenodd"/>
<path d="M465.1 538.5L464.6 539.0L462.6 539.0L462.1 539.5L461.1 539.5L460.6 540.0L459.6 540.0L459.1 540.5L458.6 540.5L458.1 541.0L457.6 541.0L456.6 542.0L456.1 542.0L452.6 545.5L452.6 572.5L491.1 572.5L491.1 572.0L491.6 571.5L491.6 570.5L492.1 570.0L492.1 569.0L492.6 568.5L492.6 567.0L493.1 566.5L493.1 562.0L493.6 561.5L493.6 560.5L493.1 560.0L493.1 555.5L492.6 555.0L492.6 553.5L492.1 553.0L492.1 552.5L491.6 552.0L491.6 551.0L491.1 550.5L491.1 550.0L490.1 549.0L490.1 548.5L488.6 547.0L488.6 546.5L485.6 543.5L485.1 543.5L483.6 542.0L483.1 542.0L482.6 541.5L482.1 541.5L481.6 541.0L481.1 541.0L480.6 540.5L480.1 540.5L479.6 540.0L479.1 540.0L478.6 539.5L477.1 539.5L476.6 539.0L474.6 539.0L474.1 538.5Z" fill="#1c9cf0" fill-rule="evenodd"/>
<path d="M465.1 539.5L464.6 540.0L462.6 540.0L462.1 540.5L461.1 540.5L460.6 541.0L460.1 541.0L459.6 541.5L459.1 541.5L458.6 542.0L458.1 542.0L457.1 543.0L456.6 543.0L453.6 546.0L453.6 546.5L452.6 547.5L452.6 571.5L453.1 572.0L453.1 572.5L488.1 572.5L488.6 572.0L488.6 571.5L489.1 571.0L489.1 570.0L489.6 569.5L489.6 568.5L490.1 568.0L490.1 566.5L490.6 566.0L490.6 562.5L491.1 562.0L491.1 558.0L490.6 557.5L490.6 554.5L490.1 554.0L490.1 552.5L489.6 552.0L489.6 551.0L489.1 550.5L489.1 550.0L488.6 549.5L488.6 549.0L487.6 548.0L487.6 547.5L483.1 543.0L482.6 543.0L482.1 542.5L481.6 542.5L480.6 541.5L479.6 541.5L479.1 541.0L478.6 541.0L478.1 540.5L477.1 540.5L476.6 540.0L474.6 540.0L474.1 539.5Z" fill="#20c8e0" fill-rule="evenodd"/>
<path d="M465.6 540.5L465.1 541.0L463.1 541.0L462.6 541.5L461.6 541.5L461.1 542.0L460.6 542.0L460.1 542.5L459.6 542.5L459.1 543.0L458.6 543.0L457.6 544.0L457.1 544.0L454.6 546.5L454.6 547.0L453.6 548.0L453.6 548.5L453.1 549.0L453.1 549.5L452.6 550.0L452.6 569.5L453.1 570.0L453.1 570.5L453.6 571.0L453.6 571.5L454.6 572.5L486.1 572.5L486.1 572.0L487.1 571.0L487.1 570.0L487.6 569.5L487.6 569.0L488.1 568.5L488.1 567.5L488.6 567.0L488.6 565.0L489.1 564.5L489.1 555.5L488.6 555.0L488.6 553.0L488.1 552.5L488.1 551.5L487.6 551.0L487.6 550.5L487.1 550.0L487.1 549.5L486.6 549.0L486.6 548.5L485.1 547.0L485.1 546.5L483.1 544.5L482.6 544.5L481.6 543.5L481.1 543.5L480.1 542.5L479.1 542.5L478.6 542.0L478.1 542.0L477.6 541.5L476.6 541.5L476.1 541.0L474.1 541.0L473.6 540.5Z" fill="#26e8b0" fill-rule="evenodd"/>
<path d="M467.1 542.0L466.6 542.5L464.1 542.5L463.6 543.0L462.6 543.0L462.1 543.5L461.1 543.5L460.6 544.0L460.1 544.0L459.1 545.0L458.6 545.0L455.1 548.5L455.1 549.0L454.6 549.5L454.6 550.0L454.1 550.5L454.1 551.0L453.6 551.5L453.6 552.5L453.1 553.0L453.1 554.5L452.6 555.0L452.6 564.0L453.1 564.5L453.1 566.5L453.6 567.0L453.6 567.5L454.1 568.0L454.1 569.0L454.6 569.5L454.6 570.0L455.6 571.0L455.6 571.5L456.6 572.5L483.1 572.5L484.1 571.5L484.1 571.0L485.1 570.0L485.1 569.5L485.6 569.0L485.6 568.0L486.1 567.5L486.1 566.5L486.6 566.0L486.6 564.0L487.1 563.5L487.1 556.0L486.6 555.5L486.6 553.5L486.1 553.0L486.1 552.0L485.6 551.5L485.6 551.0L485.1 550.5L485.1 550.0L484.6 549.5L484.6 549.0L483.1 547.5L483.1 547.0L482.1 546.0L481.6 546.0L480.1 544.5L479.6 544.5L479.1 544.0L478.6 544.0L478.1 543.5L477.6 543.5L477.1 543.0L475.6 543.0L475.1 542.5L473.1 542.5L472.6 542.0Z" fill="#30f070" fill-rule="evenodd"/>
<path d="M466.1 548.0L465.6 548.5L464.1 548.5L463.6 549.0L463.1 549.0L462.1 550.0L461.6 550.0L460.6 551.0L460.6 551.5L459.6 552.5L459.6 553.0L459.1 553.5L459.1 554.0L458.6 554.5L458.6 555.5L458.1 556.0L458.1 563.0L458.6 563.5L458.6 565.0L459.1 565.5L459.1 566.0L459.6 566.5L459.6 567.0L462.6 570.0L463.1 570.0L463.6 570.5L464.1 570.5L464.6 571.0L466.1 571.0L466.6 571.5L473.1 571.5L473.6 571.0L474.6 571.0L475.1 570.5L475.6 570.5L476.1 570.0L476.6 570.0L479.1 567.5L479.1 567.0L479.6 566.5L479.6 566.0L480.1 565.5L480.1 565.0L480.6 564.5L480.6 562.5L481.1 562.0L481.1 557.5L480.6 557.0L480.6 555.0L480.1 554.5L480.1 554.0L479.6 553.5L479.6 553.0L479.1 552.5L479.1 552.0L476.6 549.5L476.1 549.5L475.6 549.0L475.1 549.0L474.6 548.5L473.6 548.5L473.1 548.0Z" fill="#50f038" fill-rule="evenodd"/>
<path d="M468.6 552.5L468.1 553.0L466.6 553.0L466.1 553.5L465.6 553.5L463.6 555.5L463.6 556.0L463.1 556.5L463.1 557.5L462.6 558.0L462.6 561.5L463.1 562.0L463.1 563.0L463.6 563.5L463.6 564.0L465.6 566.0L466.6 566.0L467.1 566.5L472.1 566.5L472.6 566.0L473.1 566.0L473.6 565.5L474.1 565.5L474.6 565.0L474.6 564.5L475.6 563.5L475.6 562.5L476.1 562.0L476.1 557.0L475.6 556.5L475.6 556.0L475.1 555.5L475.1 555.0L473.6 553.5L473.1 553.5L472.6 553.0L471.1 553.0L470.6 552.5Z" fill="#80f010" fill-rule="evenodd"/>
</g>
<rect x="455.4" y="568.10" width="34" height="1.2" fill="#6a5a20" fill-opacity="0.55"/>
<path d="M455.4 528.3h1v1h-1zM455.4 530.3h1v1h-1zM456.4 493.3h1v1h-1zM456.4 527.3h1v1h-1zM457.4 519.3h1v1h-1zM457.4 527.3h1v1h-1zM457.4 531.3h1v1h-1zM458.4 513.3h1v1h-1zM458.4 520.3h1v1h-1zM458.4 523.3h1v1h-1zM458.4 525.3h1v1h-1zM458.4 528.3h1v1h-1zM459.4 514.3h1v1h-1zM459.4 521.3h1v1h-1zM459.4 526.3h1v1h-1zM459.4 527.3h1v1h-1zM459.4 530.3h1v1h-1zM460.4 521.3h1v1h-1zM460.4 524.3h1v1h-1zM460.4 525.3h1v1h-1zM460.4 528.3h1v1h-1zM460.4 529.3h1v1h-1zM460.4 530.3h1v1h-1zM461.4 506.3h1v1h-1zM461.4 514.3h1v1h-1zM461.4 522.3h1v1h-1zM461.4 524.3h1v1h-1zM461.4 525.3h1v1h-1zM461.4 528.3h1v1h-1zM461.4 529.3h1v1h-1zM461.4 530.3h1v1h-1zM461.4 531.3h1v1h-1zM462.4 500.3h1v1h-1zM462.4 511.3h1v1h-1zM462.4 516.3h1v1h-1zM462.4 518.3h1v1h-1zM462.4 519.3h1v1h-1zM462.4 520.3h1v1h-1zM462.4 521.3h1v1h-1zM462.4 523.3h1v1h-1zM462.4 524.3h1v1h-1zM462.4 525.3h1v1h-1zM462.4 526.3h1v1h-1zM462.4 527.3h1v1h-1zM462.4 528.3h1v1h-1zM462.4 529.3h1v1h-1zM462.4 530.3h1v1h-1zM462.4 531.3h1v1h-1zM463.4 491.3h1v1h-1zM463.4 492.3h1v1h-1zM463.4 503.3h1v1h-1zM463.4 509.3h1v1h-1zM463.4 512.3h1v1h-1zM463.4 515.3h1v1h-1zM463.4 516.3h1v1h-1zM463.4 517.3h1v1h-1zM463.4 524.3h1v1h-1zM463.4 525.3h1v1h-1zM463.4 527.3h1v1h-1zM463.4 528.3h1v1h-1zM463.4 530.3h1v1h-1zM463.4 531.3h1v1h-1zM464.4 494.3h1v1h-1zM464.4 499.3h1v1h-1zM464.4 504.3h1v1h-1zM464.4 506.3h1v1h-1zM464.4 508.3h1v1h-1zM464.4 511.3h1v1h-1zM464.4 519.3h1v1h-1zM464.4 520.3h1v1h-1zM464.4 521.3h1v1h-1zM464.4 522.3h1v1h-1zM464.4 523.3h1v1h-1zM464.4 524.3h1v1h-1zM464.4 525.3h1v1h-1zM464.4 526.3h1v1h-1zM464.4 527.3h1v1h-1zM464.4 528.3h1v1h-1zM464.4 529.3h1v1h-1zM464.4 530.3h1v1h-1zM464.4 531.3h1v1h-1zM465.4 509.3h1v1h-1zM465.4 510.3h1v1h-1zM465.4 512.3h1v1h-1zM465.4 516.3h1v1h-1zM465.4 517.3h1v1h-1zM465.4 520.3h1v1h-1zM465.4 522.3h1v1h-1zM465.4 523.3h1v1h-1zM465.4 524.3h1v1h-1zM465.4 525.3h1v1h-1zM465.4 526.3h1v1h-1zM465.4 527.3h1v1h-1zM465.4 528.3h1v1h-1zM465.4 529.3h1v1h-1zM465.4 530.3h1v1h-1zM465.4 531.3h1v1h-1zM466.4 505.3h1v1h-1zM466.4 512.3h1v1h-1zM466.4 513.3h1v1h-1zM466.4 514.3h1v1h-1zM466.4 515.3h1v1h-1zM466.4 517.3h1v1h-1zM466.4 518.3h1v1h-1zM466.4 519.3h1v1h-1zM466.4 522.3h1v1h-1zM466.4 524.3h1v1h-1zM466.4 525.3h1v1h-1zM466.4 526.3h1v1h-1zM466.4 527.3h1v1h-1zM466.4 528.3h1v1h-1zM466.4 529.3h1v1h-1zM466.4 530.3h1v1h-1zM467.4 490.3h1v1h-1zM467.4 507.3h1v1h-1zM467.4 508.3h1v1h-1zM467.4 513.3h1v1h-1zM467.4 516.3h1v1h-1zM467.4 518.3h1v1h-1zM467.4 519.3h1v1h-1zM467.4 520.3h1v1h-1zM467.4 521.3h1v1h-1zM467.4 523.3h1v1h-1zM467.4 524.3h1v1h-1zM467.4 525.3h1v1h-1zM467.4 526.3h1v1h-1zM467.4 527.3h1v1h-1zM467.4 528.3h1v1h-1zM467.4 529.3h1v1h-1zM467.4 530.3h1v1h-1zM468.4 510.3h1v1h-1zM468.4 512.3h1v1h-1zM468.4 513.3h1v1h-1zM468.4 515.3h1v1h-1zM468.4 516.3h1v1h-1zM468.4 517.3h1v1h-1zM468.4 520.3h1v1h-1zM468.4 521.3h1v1h-1zM468.4 522.3h1v1h-1zM468.4 523.3h1v1h-1zM468.4 524.3h1v1h-1zM468.4 525.3h1v1h-1zM468.4 526.3h1v1h-1zM468.4 527.3h1v1h-1zM468.4 528.3h1v1h-1zM468.4 529.3h1v1h-1zM468.4 531.3h1v1h-1zM469.4 498.3h1v1h-1zM469.4 504.3h1v1h-1zM469.4 505.3h1v1h-1zM469.4 510.3h1v1h-1zM469.4 512.3h1v1h-1zM469.4 515.3h1v1h-1zM469.4 517.3h1v1h-1zM469.4 519.3h1v1h-1zM469.4 521.3h1v1h-1zM469.4 522.3h1v1h-1zM469.4 523.3h1v1h-1zM469.4 524.3h1v1h-1zM469.4 525.3h1v1h-1zM469.4 526.3h1v1h-1zM469.4 527.3h1v1h-1zM469.4 528.3h1v1h-1zM469.4 529.3h1v1h-1zM469.4 530.3h1v1h-1zM469.4 531.3h1v1h-1zM470.4 471.3h1v1h-1zM470.4 484.3h1v1h-1zM470.4 507.3h1v1h-1zM470.4 508.3h1v1h-1zM470.4 514.3h1v1h-1zM470.4 519.3h1v1h-1zM470.4 521.3h1v1h-1zM470.4 522.3h1v1h-1zM470.4 523.3h1v1h-1zM470.4 524.3h1v1h-1zM470.4 525.3h1v1h-1zM470.4 526.3h1v1h-1zM470.4 527.3h1v1h-1zM470.4 528.3h1v1h-1zM470.4 529.3h1v1h-1zM470.4 530.3h1v1h-1zM471.4 489.3h1v1h-1zM471.4 494.3h1v1h-1zM471.4 498.3h1v1h-1zM471.4 499.3h1v1h-1zM471.4 502.3h1v1h-1zM471.4 506.3h1v1h-1zM471.4 507.3h1v1h-1zM471.4 510.3h1v1h-1zM471.4 512.3h1v1h-1zM471.4 515.3h1v1h-1zM471.4 516.3h1v1h-1zM471.4 518.3h1v1h-1zM471.4 519.3h1v1h-1zM471.4 520.3h1v1h-1zM471.4 521.3h1v1h-1zM471.4 522.3h1v1h-1zM471.4 523.3h1v1h-1zM471.4 524.3h1v1h-1zM471.4 525.3h1v1h-1zM471.4 526.3h1v1h-1zM471.4 527.3h1v1h-1zM471.4 528.3h1v1h-1zM471.4 529.3h1v1h-1zM471.4 530.3h1v1h-1zM472.4 499.3h1v1h-1zM472.4 501.3h1v1h-1zM472.4 505.3h1v1h-1zM472.4 511.3h1v1h-1zM472.4 514.3h1v1h-1zM472.4 519.3h1v1h-1zM472.4 521.3h1v1h-1zM472.4 522.3h1v1h-1zM472.4 523.3h1v1h-1zM472.4 525.3h1v1h-1zM472.4 526.3h1v1h-1zM472.4 527.3h1v1h-1zM472.4 528.3h1v1h-1zM472.4 529.3h1v1h-1zM472.4 530.3h1v1h-1zM472.4 531.3h1v1h-1zM473.4 483.3h1v1h-1zM473.4 497.3h1v1h-1zM473.4 501.3h1v1h-1zM473.4 506.3h1v1h-1zM473.4 507.3h1v1h-1zM473.4 512.3h1v1h-1zM473.4 516.3h1v1h-1zM473.4 517.3h1v1h-1zM473.4 519.3h1v1h-1zM473.4 521.3h1v1h-1zM473.4 522.3h1v1h-1zM473.4 523.3h1v1h-1zM473.4 524.3h1v1h-1zM473.4 526.3h1v1h-1zM473.4 527.3h1v1h-1zM473.4 528.3h1v1h-1zM473.4 529.3h1v1h-1zM473.4 530.3h1v1h-1zM473.4 531.3h1v1h-1zM474.4 496.3h1v1h-1zM474.4 513.3h1v1h-1zM474.4 517.3h1v1h-1zM474.4 518.3h1v1h-1zM474.4 520.3h1v1h-1zM474.4 521.3h1v1h-1zM474.4 522.3h1v1h-1zM474.4 524.3h1v1h-1zM474.4 525.3h1v1h-1zM474.4 526.3h1v1h-1zM474.4 527.3h1v1h-1zM474.4 528.3h1v1h-1zM474.4 529.3h1v1h-1zM474.4 530.3h1v1h-1zM474.4 531.3h1v1h-1zM475.4 495.3h1v1h-1zM475.4 503.3h1v1h-1zM475.4 508.3h1v1h-1zM475.4 513.3h1v1h-1zM475.4 514.3h1v1h-1zM475.4 516.3h1v1h-1zM475.4 519.3h1v1h-1zM475.4 524.3h1v1h-1zM475.4 525.3h1v1h-1zM475.4 526.3h1v1h-1zM475.4 527.3h1v1h-1zM476.4 479.3h1v1h-1zM476.4 487.3h1v1h-1zM476.4 497.3h1v1h-1zM476.4 506.3h1v1h-1zM476.4 517.3h1v1h-1zM476.4 519.3h1v1h-1zM476.4 521.3h1v1h-1zM476.4 524.3h1v1h-1zM476.4 525.3h1v1h-1zM476.4 526.3h1v1h-1zM476.4 527.3h1v1h-1zM476.4 528.3h1v1h-1zM476.4 530.3h1v1h-1zM477.4 485.3h1v1h-1zM477.4 519.3h1v1h-1zM477.4 524.3h1v1h-1zM477.4 526.3h1v1h-1zM477.4 527.3h1v1h-1zM477.4 529.3h1v1h-1zM477.4 530.3h1v1h-1zM478.4 498.3h1v1h-1zM478.4 505.3h1v1h-1zM478.4 511.3h1v1h-1zM478.4 519.3h1v1h-1zM478.4 521.3h1v1h-1zM478.4 528.3h1v1h-1zM479.4 498.3h1v1h-1zM479.4 500.3h1v1h-1zM479.4 517.3h1v1h-1zM479.4 525.3h1v1h-1zM479.4 527.3h1v1h-1zM479.4 529.3h1v1h-1zM479.4 530.3h1v1h-1zM480.4 528.3h1v1h-1zM480.4 529.3h1v1h-1zM480.4 530.3h1v1h-1zM481.4 500.3h1v1h-1zM481.4 506.3h1v1h-1zM481.4 525.3h1v1h-1zM481.4 526.3h1v1h-1zM481.4 528.3h1v1h-1zM481.4 532.3h1v1h-1zM482.4 484.3h1v1h-1zM482.4 507.3h1v1h-1zM482.4 523.3h1v1h-1zM482.4 530.3h1v1h-1zM482.4 533.3h1v1h-1zM483.4 472.3h1v1h-1zM483.4 480.3h1v1h-1zM483.4 489.3h1v1h-1zM483.4 520.3h1v1h-1zM483.4 526.3h1v1h-1zM484.4 502.3h1v1h-1zM484.4 532.3h1v1h-1zM484.4 533.3h1v1h-1zM484.4 534.3h1v1h-1zM485.4 489.3h1v1h-1zM485.4 515.3h1v1h-1zM486.4 527.3h1v1h-1zM486.4 535.3h1v1h-1zM487.4 488.3h1v1h-1zM487.4 536.3h1v1h-1zM488.4 532.3h1v1h-1zM489.4 532.3h1v1h-1zM489.4 534.3h1v1h-1zM489.4 535.3h1v1h-1zM490.4 533.3h1v1h-1zM490.4 535.3h1v1h-1zM490.4 536.3h1v1h-1zM490.4 538.3h1v1h-1zM491.4 520.3h1v1h-1zM491.4 535.3h1v1h-1zM491.4 537.3h1v1h-1zM492.4 528.3h1v1h-1zM492.4 536.3h1v1h-1zM492.4 539.3h1v1h-1zM493.4 511.3h1v1h-1zM493.4 536.3h1v1h-1zM493.4 537.3h1v1h-1zM493.4 538.3h1v1h-1zM494.4 523.3h1v1h-1zM494.4 532.3h1v1h-1zM494.4 536.3h1v1h-1zM494.4 538.3h1v1h-1zM495.4 539.3h1v1h-1zM497.4 489.3h1v1h-1zM497.4 502.3h1v1h-1zM498.4 492.3h1v1h-1zM498.4 501.3h1v1h-1zM498.4 524.3h1v1h-1zM498.4 537.3h1v1h-1zM498.4 538.3h1v1h-1zM499.4 526.3h1v1h-1zM499.4 531.3h1v1h-1zM499.4 537.3h1v1h-1zM499.4 538.3h1v1h-1zM502.4 529.3h1v1h-1zM502.4 534.3h1v1h-1zM502.4 538.3h1v1h-1zM503.4 529.3h1v1h-1zM503.4 534.3h1v1h-1zM503.4 535.3h1v1h-1zM503.4 538.3h1v1h-1zM504.4 529.3h1v1h-1zM504.4 535.3h1v1h-1zM504.4 539.3h1v1h-1zM505.4 531.3h1v1h-1zM505.4 539.3h1v1h-1zM505.4 540.3h1v1h-1zM507.4 539.3h1v1h-1zM509.4 540.3h1v1h-1zM509.4 542.3h1v1h-1zM510.4 529.3h1v1h-1zM511.4 522.3h1v1h-1zM511.4 531.3h1v1h-1zM511.4 546.3h1v1h-1zM512.4 537.3h1v1h-1zM512.4 538.3h1v1h-1zM512.4 539.3h1v1h-1zM512.4 546.3h1v1h-1zM513.4 522.3h1v1h-1zM513.4 552.3h1v1h-1zM514.4 525.3h1v1h-1zM514.4 550.3h1v1h-1zM514.4 554.3h1v1h-1zM514.4 565.3h1v1h-1zM515.4 561.3h1v1h-1zM516.4 539.3h1v1h-1zM517.4 538.3h1v1h-1zM518.4 536.3h1v1h-1zM518.4 567.3h1v1h-1zM519.4 539.3h1v1h-1zM520.4 532.3h1v1h-1zM520.4 555.3h1v1h-1z" fill="#0a0a80"/>
</g>
<path d="M487.70 467.30V569.70M455.40 528.00H556.30" stroke="#8c8c8c" stroke-width="1" fill="none"/>
<rect x="455.40" y="467.30" width="100.90" height="102.40" fill="none" stroke="#8a8a8a" stroke-width="1.1"/>
<text x="457.40" y="477.30" font-size="10.8">0.06</text>
<text x="555.70" y="477.30" font-size="10.8" text-anchor="end">0.00</text>
<text x="456.00" y="584.80" font-size="10.3" text-anchor="middle">10<tspan font-size="7" dy="-6">0</tspan></text>
<text x="481.23" y="584.80" font-size="10.3" text-anchor="middle">10<tspan font-size="7" dy="-6">1</tspan></text>
<text x="506.45" y="584.80" font-size="10.3" text-anchor="middle">10<tspan font-size="7" dy="-6">2</tspan></text>
<text x="531.68" y="584.80" font-size="10.3" text-anchor="middle">10<tspan font-size="7" dy="-6">3</tspan></text>
<text x="556.90" y="584.80" font-size="10.3" text-anchor="middle">10<tspan font-size="7" dy="-6">4</tspan></text>
<text x="451.20" y="574.00" font-size="10.3" text-anchor="end">10<tspan font-size="7" dy="-6">0</tspan></text>
<text x="451.20" y="548.40" font-size="10.3" text-anchor="end">10<tspan font-size="7" dy="-6">1</tspan></text>
<text x="451.20" y="522.80" font-size="10.3" text-anchor="end">10<tspan font-size="7" dy="-6">2</tspan></text>
<text x="451.20" y="497.20" font-size="10.3" text-anchor="end">10<tspan font-size="7" dy="-6">3</tspan></text>
<text x="451.20" y="471.60" font-size="10.3" text-anchor="end">10<tspan font-size="7" dy="-6">4</tspan></text>
<text x="59.10" y="168.70" font-size="10.3">CD4</text>
<path d="M92.80 163.70H132.80V160.90L147.00 165.20L132.80 169.50V166.70H92.80Z" fill="#000"/>
<text x="59.80" y="312.40" font-size="10.3">B220</text>
<path d="M95.10 307.80H134.50V305.00L150.20 309.30L134.50 313.60V310.80H95.10Z" fill="#000"/>
<text x="59.10" y="457.40" font-size="10.3">CD11b</text>
<path d="M99.60 452.10H140.00V449.30L154.70 453.60L140.00 457.90V455.10H99.60Z" fill="#000"/>
<text x="59.10" y="600.40" font-size="10.3">CD11c</text>
<path d="M99.60 594.80H140.00V592.00L155.20 596.30L140.00 600.60V597.80H99.60Z" fill="#000"/>
<text transform="translate(5.5,635.8) scale(1,1.07)" font-size="17.5" font-weight="bold">b</text>
<rect x="54.20" y="786.00" width="34.4" height="14.20" fill="#d4d4d4" stroke="#000" stroke-width="1.9"/>
<path d="M71.40 783.40V789.30M62.40 783.40H80.40M62.40 789.30H80.40" stroke="#000" stroke-width="1.5" fill="none"/>
<path d="M71.40 800.20V803.70" stroke="#000" stroke-width="1.3"/>
<rect x="107.30" y="786.00" width="34.4" height="14.20" fill="#d4d4d4" stroke="#000" stroke-width="1.9"/>
<path d="M124.50 781.50V791.40M115.50 781.50H133.50M115.50 791.40H133.50" stroke="#000" stroke-width="1.5" fill="none"/>
<path d="M124.50 800.20V803.70" stroke="#000" stroke-width="1.3"/>
<rect x="161.20" y="706.30" width="34.4" height="93.90" fill="#d4d4d4" stroke="#000" stroke-width="1.9"/>
<path d="M178.40 686.90V725.20M169.40 686.90H187.40M169.40 725.20H187.40" stroke="#000" stroke-width="1.5" fill="none"/>
<path d="M178.40 800.20V803.70" stroke="#000" stroke-width="1.3"/>
<rect x="214.30" y="682.60" width="34.4" height="117.60" fill="#d4d4d4" stroke="#000" stroke-width="1.9"/>
<path d="M231.50 647.70V717.20M222.50 647.70H240.50M222.50 717.20H240.50" stroke="#000" stroke-width="1.5" fill="none"/>
<path d="M231.50 800.20V803.70" stroke="#000" stroke-width="1.3"/>
<path d="M44.60 629.30V800.20H258.70" stroke="#000" stroke-width="1.6" fill="none"/>
<path d="M41.00 800.20H44.60" stroke="#000" stroke-width="1.4"/>
<text x="37.30" y="804.00" font-size="10.4" text-anchor="end">0.0</text>
<path d="M41.00 766.02H44.60" stroke="#000" stroke-width="1.4"/>
<text x="37.30" y="769.82" font-size="10.4" text-anchor="end">0.5</text>
<path d="M41.00 731.84H44.60" stroke="#000" stroke-width="1.4"/>
<text x="37.30" y="735.64" font-size="10.4" text-anchor="end">1.0</text>
<path d="M41.00 697.66H44.60" stroke="#000" stroke-width="1.4"/>
<text x="37.30" y="701.46" font-size="10.4" text-anchor="end">1.5</text>
<path d="M41.00 663.48H44.60" stroke="#000" stroke-width="1.4"/>
<text x="37.30" y="667.28" font-size="10.4" text-anchor="end">2.0</text>
<path d="M41.00 629.30H44.60" stroke="#000" stroke-width="1.4"/>
<text x="37.30" y="633.10" font-size="10.4" text-anchor="end">2.5</text>
<text x="132.20" y="634.00" font-size="10">CLN</text>
<text x="71.40" y="816.00" font-size="10" text-anchor="middle">CD4<tspan font-size="7" dy="-3.6">+</tspan></text>
<text x="124.50" y="816.00" font-size="10" text-anchor="middle">B220<tspan font-size="7" dy="-3.6">+</tspan></text>
<text x="178.40" y="816.00" font-size="10" text-anchor="middle">CD11b<tspan font-size="7" dy="-3.6">+</tspan></text>
<text x="231.50" y="816.00" font-size="10" text-anchor="middle">CD11c<tspan font-size="7" dy="-3.6">+</tspan></text>
<rect x="51.10" y="997.40" width="34.4" height="18.10" fill="#d4d4d4" stroke="#000" stroke-width="1.9"/>
<path d="M68.30 994.30V1000.60M59.30 994.30H77.30M59.30 1000.60H77.30" stroke="#000" stroke-width="1.5" fill="none"/>
<path d="M68.30 1015.50V1019.00" stroke="#000" stroke-width="1.3"/>
<rect x="104.20" y="1011.20" width="34.4" height="4.30" fill="#d4d4d4" stroke="#000" stroke-width="1.9"/>
<path d="M121.40 1009.40V1013.40M112.40 1009.40H130.40M112.40 1013.40H130.40" stroke="#000" stroke-width="1.5" fill="none"/>
<path d="M121.40 1015.50V1019.00" stroke="#000" stroke-width="1.3"/>
<rect x="157.80" y="991.80" width="34.4" height="23.70" fill="#d4d4d4" stroke="#000" stroke-width="1.9"/>
<path d="M175.00 985.10V998.30M166.00 985.10H184.00M166.00 998.30H184.00" stroke="#000" stroke-width="1.5" fill="none"/>
<path d="M175.00 1015.50V1019.00" stroke="#000" stroke-width="1.3"/>
<rect x="211.10" y="1005.30" width="34.4" height="10.20" fill="#d4d4d4" stroke="#000" stroke-width="1.9"/>
<path d="M228.30 999.20V1011.60M219.30 999.20H237.30M219.30 1011.60H237.30" stroke="#000" stroke-width="1.5" fill="none"/>
<path d="M228.30 1015.50V1019.00" stroke="#000" stroke-width="1.3"/>
<path d="M41.80 844.90V1015.50H255.80" stroke="#000" stroke-width="1.6" fill="none"/>
<path d="M38.20 1015.50H41.80" stroke="#000" stroke-width="1.4"/>
<text x="34.80" y="1019.30" font-size="10.4" text-anchor="end">0.0</text>
<path d="M38.20 981.38H41.80" stroke="#000" stroke-width="1.4"/>
<text x="34.80" y="985.18" font-size="10.4" text-anchor="end">0.5</text>
<path d="M38.20 947.26H41.80" stroke="#000" stroke-width="1.4"/>
<text x="34.80" y="951.06" font-size="10.4" text-anchor="end">1.0</text>
<path d="M38.20 913.14H41.80" stroke="#000" stroke-width="1.4"/>
<text x="34.80" y="916.94" font-size="10.4" text-anchor="end">1.5</text>
<path d="M38.20 879.02H41.80" stroke="#000" stroke-width="1.4"/>
<text x="34.80" y="882.82" font-size="10.4" text-anchor="end">2.0</text>
<path d="M38.20 844.90H41.80" stroke="#000" stroke-width="1.4"/>
<text x="34.80" y="848.70" font-size="10.4" text-anchor="end">2.5</text>
<text x="130.30" y="846.80" font-size="10">Spleen</text>
<text x="68.30" y="1031.20" font-size="10" text-anchor="middle">CD4<tspan font-size="7" dy="-3.6">+</tspan></text>
<text x="121.40" y="1031.20" font-size="10" text-anchor="middle">B220<tspan font-size="7" dy="-3.6">+</tspan></text>
<text x="175.00" y="1031.20" font-size="10" text-anchor="middle">CD11b<tspan font-size="7" dy="-3.6">+</tspan></text>
<text x="228.30" y="1031.20" font-size="10" text-anchor="middle">CD11c<tspan font-size="7" dy="-3.6">+</tspan></text>
<text transform="translate(13.2,815.5) rotate(-90)" font-size="9.8" text-anchor="middle">Alexa 647-labelled EtxB<tspan font-size="7" dy="-3.6">+</tspan><tspan dy="3.6"> cells (%)</tspan></text>
<text transform="translate(280.6,633.0) scale(1,1.1)" font-size="17" font-weight="bold">c</text>
<path d="M329.50 631.30V778.90H515" stroke="#000" stroke-width="1.6" fill="none"/>
<path d="M326.10 778.90H329.50" stroke="#000" stroke-width="1.4"/>
<text x="324.30" y="783.00" font-size="10.8" text-anchor="end">0</text>
<path d="M326.10 749.38H329.50" stroke="#000" stroke-width="1.4"/>
<text x="324.30" y="753.48" font-size="10.8" text-anchor="end">10</text>
<path d="M326.10 719.86H329.50" stroke="#000" stroke-width="1.4"/>
<text x="324.30" y="723.96" font-size="10.8" text-anchor="end">20</text>
<path d="M326.10 690.34H329.50" stroke="#000" stroke-width="1.4"/>
<text x="324.30" y="694.44" font-size="10.8" text-anchor="end">30</text>
<path d="M326.10 660.82H329.50" stroke="#000" stroke-width="1.4"/>
<text x="324.30" y="664.92" font-size="10.8" text-anchor="end">40</text>
<path d="M326.10 631.30H329.50" stroke="#000" stroke-width="1.4"/>
<text x="324.30" y="635.40" font-size="10.8" text-anchor="end">50</text>
<path d="M360.50 778.90V782.40" stroke="#000" stroke-width="1.3"/>
<text x="360.50" y="792.70" font-size="10" text-anchor="middle">3</text>
<path d="M421.90 778.90V782.40" stroke="#000" stroke-width="1.3"/>
<text x="421.90" y="792.70" font-size="10" text-anchor="middle">6</text>
<path d="M483.50 778.90V782.40" stroke="#000" stroke-width="1.3"/>
<text x="483.50" y="792.70" font-size="10" text-anchor="middle">24</text>
<path d="M360.70 649.40L364.30 653.00L360.70 656.60L357.10 653.00ZM360.70 704.20L364.30 707.80L360.70 711.40L357.10 707.80ZM360.70 744.90L364.30 748.50L360.70 752.10L357.10 748.50ZM360.70 760.20L364.30 763.80L360.70 767.40L357.10 763.80ZM360.70 775.20L364.30 778.80L360.70 782.40L357.10 778.80ZM371.60 775.20L375.20 778.80L371.60 782.40L368.00 778.80ZM421.80 751.10L425.40 754.70L421.80 758.30L418.20 754.70ZM416.60 762.70L420.20 766.30L416.60 769.90L413.00 766.30ZM410.90 767.90L414.50 771.50L410.90 775.10L407.30 771.50ZM427.90 767.40L431.50 771.00L427.90 774.60L424.30 771.00ZM422.20 773.50L425.80 777.10L422.20 780.70L418.60 777.10ZM433.40 773.50L437.00 777.10L433.40 780.70L429.80 777.10ZM483.60 728.20L487.20 731.80L483.60 735.40L480.00 731.80ZM472.60 748.60L476.20 752.20L472.60 755.80L469.00 752.20ZM483.60 750.30L487.20 753.90L483.60 757.50L480.00 753.90ZM472.60 763.20L476.20 766.80L472.60 770.40L469.00 766.80ZM495.00 763.50L498.60 767.10L495.00 770.70L491.40 767.10ZM483.60 772.40L487.20 776.00L483.60 779.60L480.00 776.00Z" fill="#000"/>
<path d="M340.40 738.30H381.00" stroke="#000" stroke-width="3.2" stroke-linecap="round"/>
<path d="M402.50 769.80H442.50" stroke="#000" stroke-width="3.2" stroke-linecap="round"/>
<path d="M464.00 757.80H503.90" stroke="#000" stroke-width="3.2" stroke-linecap="round"/>
<text x="333.80" y="806.10" font-size="10.35">Time following final EtxB treatment (h)</text>
<text transform="translate(289.8,714.5) rotate(-90)" font-size="10.3" text-anchor="middle">Alexa 647-labelled</text>
<text transform="translate(301.6,714.0) rotate(-90)" font-size="10.3" text-anchor="middle">EtxB<tspan font-size="7" dy="-3.6">+</tspan><tspan dy="3.6"> cells (%)</tspan></text>
<text transform="translate(280.6,851.4) scale(1,1.07)" font-size="17" font-weight="bold">d</text>
<path d="M340.00 966.40V951.50M337.00 951.50H343.00" stroke="#000" stroke-width="1.5" fill="none"/>
<rect x="336.00" y="966.40" width="8.0" height="38.20" fill="#fff" stroke="#000" stroke-width="1.8"/>
<path d="M353.00 969.50V960.60M350.00 960.60H356.00" stroke="#000" stroke-width="1.5" fill="none"/>
<rect x="349.00" y="969.50" width="8.0" height="35.10" fill="url(#hatch)" stroke="#000" stroke-width="1.8"/>
<path d="M366.50 943.60V920.80M363.50 920.80H369.50" stroke="#000" stroke-width="1.5" fill="none"/>
<rect x="362.50" y="943.60" width="8.0" height="61.00" fill="url(#check)" stroke="#000" stroke-width="1.8"/>
<path d="M379.30 993.40V989.70M376.30 989.70H382.30" stroke="#000" stroke-width="1.5" fill="none"/>
<rect x="375.30" y="993.40" width="8.0" height="11.20" fill="url(#hstripe)" stroke="#000" stroke-width="1.8"/>
<path d="M392.70 990.90V986.80M389.70 986.80H395.70" stroke="#000" stroke-width="1.5" fill="none"/>
<rect x="388.70" y="990.90" width="8.0" height="13.70" fill="#000" stroke="#000" stroke-width="1.8"/>
<path d="M414.60 983.00V978.90M411.60 978.90H417.60" stroke="#000" stroke-width="1.5" fill="none"/>
<rect x="410.60" y="983.00" width="8.0" height="21.60" fill="#fff" stroke="#000" stroke-width="1.8"/>
<path d="M427.80 970.30V956.20M424.80 956.20H430.80" stroke="#000" stroke-width="1.5" fill="none"/>
<rect x="423.80" y="970.30" width="8.0" height="34.30" fill="url(#hatch)" stroke="#000" stroke-width="1.8"/>
<path d="M440.60 889.60V863.00M437.60 863.00H443.60" stroke="#000" stroke-width="1.5" fill="none"/>
<rect x="436.60" y="889.60" width="8.0" height="115.00" fill="url(#check)" stroke="#000" stroke-width="1.8"/>
<path d="M454.00 999.10V997.40M451.00 997.40H457.00" stroke="#000" stroke-width="1.5" fill="none"/>
<rect x="450.00" y="999.10" width="8.0" height="5.50" fill="url(#hstripe)" stroke="#000" stroke-width="1.8"/>
<path d="M467.30 999.10V997.90M464.30 997.90H470.30" stroke="#000" stroke-width="1.5" fill="none"/>
<rect x="463.30" y="999.10" width="8.0" height="5.50" fill="#000" stroke="#000" stroke-width="1.8"/>
<path d="M488.90 981.20V974.90M485.90 974.90H491.90" stroke="#000" stroke-width="1.5" fill="none"/>
<rect x="484.90" y="981.20" width="8.0" height="23.40" fill="#fff" stroke="#000" stroke-width="1.8"/>
<path d="M502.10 942.90V917.00M499.10 917.00H505.10" stroke="#000" stroke-width="1.5" fill="none"/>
<rect x="498.10" y="942.90" width="8.0" height="61.70" fill="url(#hatch)" stroke="#000" stroke-width="1.8"/>
<path d="M515.10 924.00V903.70M512.10 903.70H518.10" stroke="#000" stroke-width="1.5" fill="none"/>
<rect x="511.10" y="924.00" width="8.0" height="80.60" fill="url(#check)" stroke="#000" stroke-width="1.8"/>
<path d="M528.20 999.50V998.30M525.20 998.30H531.20" stroke="#000" stroke-width="1.5" fill="none"/>
<rect x="524.20" y="999.50" width="8.0" height="5.10" fill="url(#hstripe)" stroke="#000" stroke-width="1.8"/>
<path d="M541.60 995.30V994.20M538.60 994.20H544.60" stroke="#000" stroke-width="1.5" fill="none"/>
<rect x="537.60" y="995.30" width="8.0" height="9.30" fill="#000" stroke="#000" stroke-width="1.8"/>
<path d="M329.20 856.40V1004.60H552.7" stroke="#000" stroke-width="1.6" fill="none"/>
<path d="M325.80 1004.60H329.20" stroke="#000" stroke-width="1.4"/>
<text x="323.00" y="1008.70" font-size="10.8" text-anchor="end">0</text>
<path d="M325.80 967.55H329.20" stroke="#000" stroke-width="1.4"/>
<text x="323.00" y="971.65" font-size="10.8" text-anchor="end">20</text>
<path d="M325.80 930.50H329.20" stroke="#000" stroke-width="1.4"/>
<text x="323.00" y="934.60" font-size="10.8" text-anchor="end">40</text>
<path d="M325.80 893.45H329.20" stroke="#000" stroke-width="1.4"/>
<text x="323.00" y="897.55" font-size="10.8" text-anchor="end">60</text>
<path d="M325.80 856.40H329.20" stroke="#000" stroke-width="1.4"/>
<text x="323.00" y="860.50" font-size="10.8" text-anchor="end">80</text>
<path d="M366.50 1004.60V1008.10" stroke="#000" stroke-width="1.3"/>
<text x="366.50" y="1018.20" font-size="10" text-anchor="middle">3</text>
<path d="M440.70 1004.60V1008.10" stroke="#000" stroke-width="1.3"/>
<text x="440.70" y="1018.20" font-size="10" text-anchor="middle">6</text>
<path d="M515.20 1004.60V1008.10" stroke="#000" stroke-width="1.3"/>
<text x="515.20" y="1018.20" font-size="10" text-anchor="middle">24</text>
<text x="352.00" y="1030.70" font-size="10.3">Time following final EtxB treatment (h)</text>
<text transform="translate(289.3,935.9) rotate(-90)" font-size="10.1" text-anchor="middle">Percentage of Alexa 647-labelled</text>
<text transform="translate(301.5,937.0) rotate(-90)" font-size="10.1" text-anchor="middle">EtxB<tspan font-size="7" dy="-3.6">+</tspan><tspan dy="3.6"> population (%)</tspan></text>
<rect x="527.2" y="841.40" width="13.8" height="8.4" fill="#fff" stroke="#000" stroke-width="1.8"/>
<text x="545.90" y="850.10" font-size="10.2">CD4</text>
<rect x="527.2" y="857.00" width="13.8" height="8.4" fill="url(#hatch)" stroke="#000" stroke-width="1.8"/>
<text x="545.90" y="865.70" font-size="10.2">B220</text>
<rect x="527.2" y="872.60" width="13.8" height="8.4" fill="url(#check)" stroke="#000" stroke-width="1.8"/>
<text x="545.90" y="881.30" font-size="10.2">CD11b</text>
<rect x="527.2" y="888.20" width="13.8" height="8.4" fill="url(#hstripe)" stroke="#000" stroke-width="1.8"/>
<text x="545.90" y="896.90" font-size="10.2">CD11c</text>
<rect x="527.2" y="903.80" width="13.8" height="8.4" fill="#000" stroke="#000" stroke-width="1.8"/>
<text x="545.90" y="912.50" font-size="10.2">CD8</text>
</svg></body></html>
